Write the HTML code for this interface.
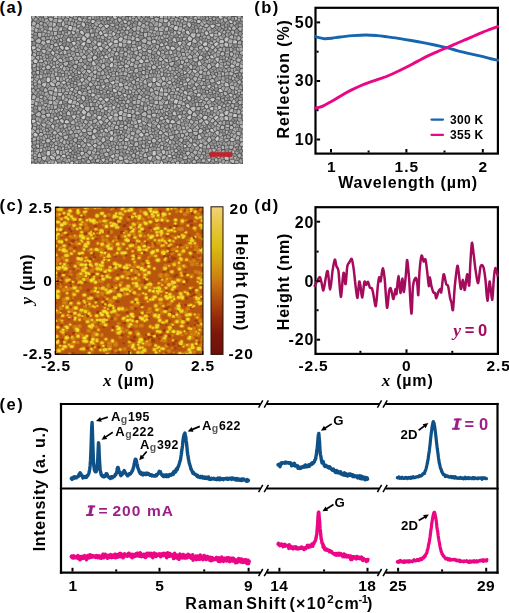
<!DOCTYPE html>
<html><head><meta charset="utf-8"><title>figure</title>
<style>html,body{margin:0;padding:0;background:#fff}svg{display:block}</style></head><body>
<svg width="509" height="613" viewBox="0 0 509 613">
<rect width="509" height="613" fill="#fff"/>
<text x="-0.6" y="13" font-size="16.5" text-anchor="start" fill="#000" font-weight="bold" font-family='"Liberation Sans", sans-serif' font-style="normal" letter-spacing="1.5" >(a)</text>
<defs><clipPath id="ca"><rect x="31" y="16.5" width="211.5" height="147"/></clipPath><filter id="ba" x="-5%" y="-5%" width="110%" height="110%"><feGaussianBlur stdDeviation="0.75"/></filter>
<g id="semtile">
<path fill="#bababa" d="M15.1 50.5l0.5 1.7l0.5 0.2l2 0l1.5 -1.4l-0.1 -0.6l-1.6 -1.6l-0.9 -0.1l-1.2 0.6zM87.2 36.2l0.3 1.1l-0.3 1.4l-1.8 0.4l-1.6 -0.3l0.1 -1.3l0.6 -1.6l0.8 -0.4zM55.7 25.9l2.9 0.7l0.8 -0.2l0.8 -1.1l-2.3 -3l-1.4 0.4l-1.1 2.5zM14.2 33.6l0.7 0.7l-0.7 2.7l-2.2 -0.8l-1.5 -1.6l0.3 -1.1l0.2 -0.1l0.1 0zM17.4 13.5l2.2 0.7l1.5 -0.2l0.2 -2.6l-0.7 -0.7l-2.8 0zM32.2 4.6l0.5 0.5l1.1 2.6l-1.4 2l-0.5 0.2l-1 -0.6l-0.2 -2.6zM72.2 47.3l0.8 0.1l0.1 0.1l1.4 2.6l-0.6 1l-1.9 1.4l-0.2 0l-1.6 -2.1l1.3 -2.6zM72 9.3l0 -0.4l-2.1 -1.4l-1.9 1l-0.6 1.3l2.3 1.3zM35.5 34.7l0.1 2.3l-0.1 0.2l-2.2 0.8l-0.5 -0.6l-0.4 -2.9l1 -0.7zM7.9 54.6l-1.9 0l-1 0.8l0.7 1.7l0.5 0.5l1.4 0.4l0.3 -0.4l0.2 -2.1zM55 39.7l-1.8 -1.1l-0.1 0l-2.4 1.7l0.2 0.9l1.5 1.1l2.6 -0.5l0.4 -0.6zM8.5 45.6l2.4 0.1l1 -0.4l0.2 -0.6l-0.9 -1.8l-0.1 -0.1l-1.6 0.2l-1.5 1.2l0 1.2zM3.3 23.8l0.1 -0.2l-2 -2l-2.2 0l-0.6 1.9l1.2 0.9l1.6 0.1zM31.3 11.1l-1 -0.5l-1.6 0.6l-0.9 2.3l-0.1 0.4l2.4 0.6l1 -0.8zM54.1 48.1l1.4 1.3l-0.1 2.8l-0.5 0.4l-1.1 -0.4l-1.6 -1.6l0 -0.4l1.6 -2.1zM97.3 72.8l0.4 -2.2l-1.4 -1l-3 0.2l-0.2 0.6l0.3 0.8l1.8 1.7l1.9 0.1zM93.4 38.9l-0.3 -1.3l0.6 -1.7l1.7 0l1.1 1.5l-1.2 2l-0.1 0zM38.7 62l-0.9 -0.8l-0.1 -1.1l0.3 -0.4l1.6 -0.8l1.4 1.7l0 0.1l-1.2 1.3zM20.9 50.4l0 0.6l2 1.1l1.7 -1.2l-0.6 -1.8l-1.6 0.2zM21.9 43.4l0.8 0.9l1.6 0.3l1.5 -1.1l0.1 -0.5l-1.5 -1.7l-1.2 -0.7l-1.3 2.4zM21.6 9.7l0.6 0.7l1.3 -0.4l1.5 -1.4l0.1 -1.5l-3.1 -1.1l-0.1 0.1zM30.4 42.5l-1.2 -0.3l-2 0.9l0 0.5l1.8 1.6l2.4 0.9l0.2 -0.5l-0.6 -2.3zM54.3 17.3l-0.7 1.4l2.6 2.7l1.4 -0.4l0.8 -1l0.3 -2.7l-0.6 -0.5l-2.7 0zM59.6 70l2.6 -1.7l-0.1 -0.3l-2.6 -2l-0.7 0.1l-0.9 1.8l0.2 1.1zM38.5 41l1.6 -0.7l1.6 1.1l0.2 1.4l-2.4 1.1l-1 0.1zM8.1 63.3l0.4 -0.2l0.6 0.3l1.1 3l-0.4 0.9l-2.8 -0.2l-0.4 -1l0.2 -1z"/>
<path fill="#cacaca" d="M49.4 14.5l-0.3 1l0.4 1.3l2.5 1.5l0.5 -0.1l0.5 -1.4l-1.6 -2.7zM26.4 1.6l-0.2 0.2l-3 -0.2l-0.3 -0.6l1.4 -3.6l0.3 -0.3l0.4 0.3l1.3 2zM60.4 4.1l0 1.8l0.5 0.6l1.7 0.1l1.5 -1.7l0.1 -0.2l-0.1 -0.3l-1.5 -0.9l-1.4 -0.1zM39.3 9.4l1.7 0.7l0.2 0.3l-0.8 3l-0.5 0.3l-2.2 -0.4l-0.5 -0.6l-0.1 -0.8l0.9 -2.4zM44.1 28.1l-1.1 0.9l-0.4 -0.1l-1.9 -2.9l0.2 -0.3l1.7 -0.5l2 0.1l0.1 1.7zM99.4 24l0.9 0.7l-0.5 2.3l-3.1 0.1l0 0l-0.5 -0.7l0.4 -2.7l0 0zM50.2 27.4l-0.2 0.6l0 0.1l2.7 1.4l1.1 -0.7l0.6 -2.4l-0.2 -0.8l-2 0.1zM73.6 70.6l0.3 -0.8l-0.4 -1.5l-3.3 1.3l0 0l2.2 2.3l0.1 -0.1zM75.7 39.1l1.5 2.3l-0.2 0.5l0 0l-2.4 -0.2l-1 -0.6l-0.2 -1.5l1.2 -0.8zM82.3 -1l1.6 0.1l2.2 1.8l-0.7 1l-1.8 0.3l-0.3 0l-1.5 -1.2zM74.3 20.3l1.5 0l0.8 -1.1l0 -1.7l-0.2 -0.2l-1.2 -0.2l-2.2 0.7l-0.3 0.8zM34.7 66l-0.9 -1.3l-1.5 0.1l-1.8 1l0.1 0.4l1.9 1.3l2 -0.4zM79.8 51l-1.5 -1.4l0.8 -1.7l1.3 -1.3l1 0l0.5 0.6l0.2 0.6l-0.5 2.9l-0.1 0.1zM6.7 45.5l-0.1 -1.2l-2.3 -1.9l-2.1 1.9l0.9 1.9l2 0.5zM95.3 6.4l0.6 -1.5l-2 -1.2l-1.8 0.5l0 0.1l1.1 1.9l0.4 0.3zM16.4 65.4l1.5 0l1.2 -1l-0.3 -3.2l-0.1 -0.1l-1.7 -0.2l-1 0.4l-0.2 0.3l-0.2 3.2zM82.9 67.4l0.7 -0.8l-0.4 -2.1l-0.7 0l-3.2 1.4l0.4 0.7l1.8 1.5zM1.4 33.1l0.2 0.2l2.5 -1.1l0.7 -1l-1 -1.5l-1.9 0.1l-1.2 0.5l0 0.3zM81.6 27.3l0.1 -0.3l-0.4 -0.8l-1.7 -0.4l-2.2 1.4l-0.2 0.8l1.6 2l0.1 0.1zM70.7 26.8l-0.9 2.2l-2.4 0.7l-1.3 -1.6l0.9 -2l1.2 -0.4l1.6 0.4zM48.7 57.3l1.1 -0.7l-0.1 -0.7l-1.1 -0.9l-1.7 -0.3l0 1.7l0.5 1zM84.4 16.8l0.1 0.3l-0.6 1.3l-2.1 1.1l-0.1 0l-0.4 -2.5l0.6 -1.4l0.4 0zM37 30.4l1.4 1.7l-0.1 0.5l-2.3 0.9l-2.3 -0.7l0.4 -2.1l1.2 -0.7zM78 9.1l-0.1 -0.4l-1.8 -0.6l-2.5 0.7l-0.2 0.2l0 0.4l1.8 2.1l0.7 -0.1l1.4 -0.8z"/>
<path fill="#b4b4b4" d="M25.3 18.5l0.7 -1l-0.1 -2l-3.1 0l0.2 3.2l0.5 0.2zM103.3 55.4l-0.1 -0.9l0.9 -2l2.4 -0.4l0.9 2.5l-1.2 1.3l-1.3 0.3zM17.6 2.1l0.4 -0.8l1.6 -0.2l2 0.5l0.3 0.6l-0.7 2.7l0 0l-1.9 -0.4l-1 -0.9zM23.5 57.4l0.9 2.3l0 0l1.9 -0.8l0.2 -2.4l-0.3 -0.5l-2 0zM103.6 67.6l-0.6 0.1l-1.8 -1.2l-0.6 -0.8l0.1 -0.6l1.8 -1.4l1.1 0.4l0.6 1.1zM3.6 9.3l-2.6 -0.6l-0.1 -0.4l0.7 -2.8l0.7 -0.8l2 1l0.7 1.3zM103.3 37l2.2 1.5l0.8 -0.3l0.6 -2.1l-0.3 -1.6l-0.3 -0.2l-3.2 1.1zM87.5 58.8l-0.2 -2.3l-0.5 -0.6l-1.2 -0.3l-0.6 0.4l-0.3 1.4l0.5 1.6l0 0l2.2 -0.1zM99.6 43.6l0.3 -1.2l0.4 -0.4l1 -0.2l2.4 0.7l0.4 1l-1.4 2l-2.1 -0.6zM92.8 10.7l-1.3 0.3l-0.1 0.1l0.2 1.5l1.9 1.2l0.9 -0.8l-0.3 -1.6zM88.4 5.5l-1 -1l-0.8 -1.8l0.6 -1l0.1 -0.1l2.4 0.9l1.1 1.3l0 0.1zM4.7 24.2l0 -0.2l2.7 -2.1l1.5 0.3l1.1 2.1l-1.1 2.3l0 0l-0.3 0l-2.8 -0.5zM77 0.6l1.8 1.3l-0.5 1.1l-0.3 0.2l-1.6 0.3l-0.2 -0.2l-0.3 -1.1l0.2 -0.8zM64.9 28.9l0.1 0l1.4 1.6l-0.1 0.5l-1.9 1.8l-2 -0.1l-0.3 -1.9l0.3 -0.5zM63 17.2l0.2 2.2l-0.9 0.9l-2.7 -0.2l0.3 -2.7l2.1 -0.5zM12 6.2l-0.7 2.1l-1.9 -0.1l-1.1 -1.1l1.3 -1.6l0.3 0zM77 63.1l0.9 2.3l-3.6 0.9l-0.9 -1.6l-0.2 -1.1l2.1 -1.2zM47.3 36.4l0.7 0.7l0.6 2.1l-2.3 0.1l-0.9 -0.4l-0.6 -2.4l0 -0.1zM66.2 72.2l-1.1 -0.5l-0.2 -2l1.7 -0.5l2 0.3l0.3 0.2l0 0.1l-1.4 2.4zM92.8 58.6l-0.3 -0.3l0.1 -2.2l0.9 -0.5l2.7 0.7l0.2 0.6l-1.1 2l-0.3 0.2zM80.3 33.6l-0.2 -0.8l-1.4 -1.4l-0.1 0l-1.8 2.1l0 0.4l1.5 1.8l0.5 0l0.2 -0.2zM37.2 45.4l-0.2 2l-1.2 1.7l-0.8 0.4l-1.5 -0.6l-0.9 -1.3l-0.1 -0.8l0.3 -0.5l2.9 -0.9zM6.2 15.8l-2.1 -0.8l-0.6 -0.7l1 -2.8l2.2 1.1l-0.2 2.8zM85.7 16.3l0.1 0.4l2.3 0.4l0.7 -1l-0.3 -1.3l-1.4 -0.9zM10.5 19.3l-1.3 1.6l-1.5 -0.4l-0.6 -1.6l0 -2.2l0.3 -0.3l3 0zM70.4 58.2l1.1 0.2l1.9 -0.6l-0.1 -1.6l-1.3 -2.3l-0.3 0l-1.5 1.9zM102.7 14.3l1.6 -0.1l0.5 -0.5l0.1 -3.1l-2.4 0.3l-1.4 1.2zM13.9 1.9l2.4 -0.4l0.4 -0.8l-0.9 -1.7l-1.2 -1l-0.8 0.2l-1 2.7zM60.2 61.3l-0.3 2.1l-0.7 1.2l-0.7 0.2l-2.4 -2.3l1.3 -1.8l0.6 -0.4zM43.4 34.6l-2.7 -0.7l-1.1 -1.1l0.1 -0.5l2.6 -2.1l0.5 0.1l1 2.2zM46 49.4l-0.3 -0.7l-1.7 -0.5l-1.1 0.7l-0.6 0.9l-0.1 0.2l0.8 1.3l2 1l0.1 0l0.8 -1.6zM56.6 41.9l-0.4 0.6l0.8 1.8l1.5 0.7l1.4 0.1l1.4 -1.5l-0.8 -1.9zM29.2 66.1l-1.2 -0.7l-1.6 0.1l-1.4 1.8l0 2.2l0.5 0.1l2.7 -1.2l1.1 -1.9zM53.5 30.6l-0.6 2l2.1 1.2l0.5 -0.1l1.1 -1.3l0.1 -0.9l-2.2 -1.7zM100.5 34.1l-0.7 -0.9l0.3 -1.7l0.6 -0.6l1.1 0.9l0.3 2.7zM16.1 14.2l-0.8 1.9l-0.8 0.2l-2.3 -1l1.2 -1.7zM39.6 16.8l0.1 -1.9l-2.3 -0.4l-0.7 1.8l0.7 2.7zM59 71l-1.6 -1.2l-1.9 1.8l0 0.1l1.2 1.9l2.6 -1zM1.8 60.6l-1.3 0l-1 -1.5l-0.1 -1.8l1.3 -0.2l1.1 1.8zM84.9 34.3l-0.9 0.4l-2.4 -1.4l-0.3 -0.8l2.3 -1.1l1.3 0.3zM47.5 11.3l-1.1 -0.3l-0.7 -0.7l0.9 -1.6l2.8 -0.8l0.2 1.3zM30.8 26.8l-0.2 1.2l-2.3 1l-0.3 -0.2l-0.5 -1.8l1.6 -1.3l1.4 0.3zM13 45.8l2.2 2.5l1.2 -0.7l-0.6 -2.2l-0.8 -0.7l-1.7 0.5zM83 9.4l-1 0.3l-2.7 -1l-0.2 -0.4l0.7 -0.8l1.5 -0.6l1.8 0.5l0.3 1.1zM4.9 47.7l-2 -0.3l-1.2 1.4l-0.2 2.1l3 -0.6l0.4 -0.5zM94.9 18.7l1.3 0.3l0.2 0.4l-0.5 3.2l0 0l-2.8 -0.8l-0.6 -1.2l0.4 -0.5zM3 15.8l-1.1 1.8l-1.7 -0.6l-0.8 -1.9l0.5 -0.4l2.6 0.2zM12.7 28.4l-2.7 -1.3l1 -2.5l2.9 0.4l0.8 2.2l-1.6 1.2zM98.4 16.7l2.3 0.4l0.2 1.6l-1 0.6l-2.4 -0.5l-0.3 -0.4zM33.3 54.5l-1.6 -1.4l-0.2 -0.4l1.5 -2.7l1.6 0.7l0.1 2.7zM98.8 48.6l0.4 1.1l2.7 -0.1l0.8 -2.4l-0.2 -0.7l-2.2 -0.4zM10.6 52.6l2.1 1l1.7 -1l-0.5 -1.8l-2.1 0zM80.7 69l-1.7 -1.7l-1.1 2.7l0.4 1l2.5 0zM64.7 61.9l-2.6 -1.4l1.1 -2l1.7 0l0.2 0.3l0.1 2.5z"/>
<path fill="#c2c2c2" d="M50.9 9l-0.4 -1.3l0.4 -1.6l0.5 -0.3l1.4 0.5l0.9 0.7l0.4 1.3l-0.4 1.5l-0.5 0.7l-0.5 0.2zM11.5 67l3.2 -1.1l0.1 0l0.8 0.6l-1.3 3.7l-0.8 0.2l-2 -1.1l-0.6 -1.4zM80.4 40.9l-1.9 1.1l-0.2 0.4l2.2 2.8l1 0.1l0.6 -2.3l-0.4 -2.1zM18.7 66.4l1.4 2.6l0.5 0.3l3 0.4l0.3 -0.1l-0.3 -2.2l-3.2 -1.8l-0.4 -0.1zM39.1 72.6l0.3 1.4l1.9 0.6l0.2 0l1.1 -2l0 -0.4l-1 -0.7l-1.2 0.1zM58.1 56.7l-2 -1.8l-0.3 -1.3l0.4 -0.4l2.4 0.2l1.9 1.8l0 0.1zM62 40.4l1.3 -1.4l1.7 0.5l1 1.2l-0.7 1.5l-2 1.1l-0.8 -0.1l-0.7 -2zM32.7 30.6l-1.7 -1.5l-2.3 0.8l0.6 1.5l2 1.8l0.3 0.1l1 -0.6zM91.9 22.3l-1.4 2.6l-2.1 0.1l-0.9 -2.3l0.2 -0.5l1.6 -1.4l2.1 0.3zM62.2 49.2l2.1 -0.7l0.6 -0.5l0.1 -0.3l-2 -3l-0.8 -0.3l-1.3 1.6l0.6 3zM39.7 25l-0.2 0.3l-0.5 0.1l-2.8 -0.6l-0.6 -1.4l0.2 -0.5l1.6 -1.9l1.3 0.9zM42.2 17.8l-1.3 -1.1l-0.3 -1.8l0.5 -0.4l2.6 1l0.3 0.4l-0.1 0.8l-0.9 1zM27 29.1l-2.1 0.6l-1.4 -0.1l-0.6 -1.3l1.2 -1.2l1 -0.5l1.2 0.8zM25 62.1l-0.1 -1.3l1.9 -0.7l1.6 0.9l-0.5 3.1l-1.6 0.1zM87.7 67.5l1 -1.4l2.1 0.7l0.8 0.8l0.5 1.6l-0.3 0.6l-3.1 0.1l-0.8 -0.9zM87.3 25.4l-0.9 1.2l-3.5 -0.2l-0.4 -0.8l1.1 -2l2.7 -0.4zM27.3 2.7l-0.1 0.1l-0.2 2.7l2.7 0.4l1.8 -1.9l-0.1 -0.2l-1.2 -0.9zM97.6 49.1l0.4 1l-0.1 0.2l-1.7 0.9l-2 -0.1l-0.8 -1l0 -0.6l1 -1.4l1 -0.1zM64.9 57.3l1 -2.1l-0.6 -1.2l-1.9 0.1l-1.5 1.3l0 0.1l1.4 1.8zM50.2 5l-2.6 -1.2l-0.8 -1l0.4 -1.4l0.8 -0.6l1.1 0.1l1.5 1.7l0 2.1zM21.4 34.2l-1.1 1.5l-0.1 1.1l1.4 1.5l1.1 0.6l0.8 -2.5l-0.2 -1zM18.8 26.7l0.3 -2.6l-1.2 -0.6l-2.2 0.4l-0.7 0.7l0.8 2.1l0.2 0.1zM72 31.9l-1.9 -1.6l-2.4 0.5l-0.1 0.5l1.9 2.8l0.6 0.5l0.9 -0.6l1 -2.1zM50.7 22.6l0 -0.8l1.6 -2.2l0.5 -0.1l2.6 2.6l-1.2 2.5l-1.9 -0.3zM50.2 61.9l1.7 -0.3l1.4 1.2l-0.9 1.5l-1.6 1.2l-0.8 -0.6l-0.7 -1.7l0.3 -0.9zM87.8 29.6l-0.3 -2.2l0.8 -1.2l2.2 0.1l0.7 0.9l0 2.8l-1.9 0.3zM67.8 16.4l0.7 1.4l1.2 0.9l1.8 -0.6l0.2 -0.8l-0.9 -2l-1 -0.8l-1.3 0.8z"/>
<path fill="#a2a2a2" d="M92.1 71.5l-0.1 -0.9l-3.2 0.5l-1.4 3.1l2.7 0.6zM35.7 53.4l1.7 0.6l0.1 0l0.6 -0.8l0 -1.5l-1.9 -1.3l-0.9 0.2zM17.4 41.3l-1.7 0.3l-0.5 -0.6l-0.3 -2.3l0.1 -0.3l1.7 0.6l0.8 1.8l0 0.4zM92 55.1l-0.9 -0.5l-0.9 -2.1l2.3 -1.8l0.7 1.1l-0.4 2.7zM7 1.9l-1.7 -1.5l-0.1 -0.4l1.8 -1.2l1.3 0.4l0.3 1.2zM85.3 11.5l-1.2 -1.6l0.4 -0.9l2.6 -0.1l0.6 1.5l-1 1.8zM87.7 35.2l-2 -0.8l0.2 -2.7l1.3 -1.1l1.5 0.9l-0.2 2.6zM104.6 69.3l1.1 2.8l-0.7 0.9l-0.2 0.1l-2.2 -1.1l-0.3 -1.1l1 -2l0.6 -0.1zM41.1 4.6l0.6 -2.2l0.3 -0.1l1.6 1.2l-0.6 1.8zM13.2 6.3l1.4 0.6l1.6 1.7l0.1 0.6l-3.3 0.7l-0.6 -1.2l0.6 -2.3zM88 62.3l-0.4 1.2l-3.1 -0.4l0.7 -2.9l2.3 -0.2zM31 1.9l1.1 1.2l1.6 -2.2l0.1 -1.3l-0.5 -0.7l-1.5 -0.7l-0.5 0.2l-0.4 0.6zM92.4 48.8l-2.1 -1.1l-0.7 -2.1l0.3 -0.4l0.7 -0.1l1.9 0.9l0.9 1.3zM86.5 48.9l0 -2.5l-0.6 -0.3l-2.9 0.7l0.2 0.6zM44.9 9.9l-2.6 -0.2l-0.2 -0.3l1.4 -2.8l1.4 0.5l0.6 1.1zM11.4 20.2l-1.5 1.4l1.2 2.1l2.9 0.2l0.6 -0.8l-0.5 -2.2l-0.7 -0.6zM70.7 36l0 -0.4l0.9 -0.5l1.9 1.2l0.4 1.5l-1.2 0.9l-0.9 -0.4zM85 53.3l-2 -1.6l-0.7 -0.2l-0.2 0.1l0.8 2.7l1.4 0.8l0.8 -0.5zM12.1 58.6l0.8 -1l0.9 0.3l1.4 2.7l-0.3 0.3l-2.5 -0.3zM33.7 55.2l0 1.2l0.2 0.4l2.1 0.1l1.2 -2.1l-1.9 -0.7zM65.6 20.1l0.7 1.4l1.9 0.1l0.7 -0.5l0.5 -1.5l-1.6 -0.9zM92 27l0 3.3l0.5 0.4l1.6 -0.4l1.8 -2.5l-0.6 -0.8zM27.3 54.7l-0.3 0.6l0.5 0.7l1.8 -0.2l1.4 -2.3l-0.1 -0.5l-1.1 -0.1zM7.9 46.4l0.8 2.9l-0.8 1l-2 -0.5l-0.2 -2.3l1.7 -1.4zM47.7 24.8l-1.8 -0.4l-0.5 0.6l0.4 2l3.2 0.8l0.1 -0.6zM83.7 68.1l0.8 -1l2.2 0.4l0.2 1.8l-1.8 0.5zM68.1 37.1l-1.3 0l-0.1 -1.3l2.3 -0.8l0.8 0.4l-0.1 0.4zM95.4 65.1l-2.7 2.3l0.3 1.8l3.3 -0.6l0.5 -1.7zM18.5 56.4l1.3 1.1l0.7 -0.6l-0.3 -1.5l-1.3 -1zM60.4 34.6l-3 -1.7l-1.3 1.6l1.8 2.2l2.5 -2zM32 68.3l-0.5 2.5l-0.6 0.2l-1.9 -2.1l1 -2.3zM51.4 51.2l1.9 1.8l-2.9 2.4l-1.1 -1.2l0.9 -2.1zM37.8 4.5l1.8 0.8l-0.4 3l-1.4 0.2l-0.8 -0.7l0.3 -2.9zM85.8 2.7l-2.1 0.6l0.1 3.5l2.6 -1.9zM48.5 34.3l1.9 -1l0.9 0l-0.5 2.2l-2 0.9l-0.9 -0.8zM5 36.3l-2.8 -0.5l-0.5 -1.7l2.9 -1.1l1.3 2.2zM32.6 18.3l0.3 -0.2l0.7 -1.6l-1.1 -1.7l-0.6 -0.4l-1.2 0.9l0.2 2.1zM43 56l0.8 0.7l2.1 -0.3l0.3 -2l-0.9 -1l-0.1 0zM33 55.2l-0.1 1.1l-2.2 0.5l-1 -0.7l1.4 -2.4zM78.1 56.1l-0.8 -1.1l0.1 -0.7l1.8 -1.3l0.7 2.4zM12.1 10.9l-2.8 1.1l-1.2 -0.3l1.1 -2.6l2.3 0.1l0.7 1.3zM71.6 59.4l2.3 -0.8l0.7 0.6l0.5 2.4l-2.5 1.4l-0.1 -0.1zM79.9 24.8l-0.5 -1.6l1.6 -2.5l0.4 -0.2l0 0l1.4 2.6l-1.1 2.3zM7.6 62.6l-3.1 -1.1l-1.3 0.3l0.3 1l2.4 1.7zM48.3 33.8l1.9 -1l-1.4 -1.3l-1.5 0.6zM40.7 5.2l-0.5 0.2l-0.5 3l1.9 1l1.3 -3.3l-0.1 -0.1zM56.1 39.5l1.8 -1.9l3 2.5l-0.2 1l-4.4 0.1zM11.2 19.5l0 -3.3l0.3 -0.3l0.3 -0.1l2.5 1.3l-0.8 2.2zM101.6 38l-0.6 2.8l-1.1 0.4l-1 -3.1zM60.3 -0.5l0.8 2.9l1.7 0.1l0.8 -3.3zM80.4 14l0.8 1l-0.9 1.5l-2.9 0.3l-0.1 -0.2l0.7 -1.8l2.1 -0.9zM23.8 70.4l-3.4 -0.1l-0.6 3.3l2.3 0.7zM44.4 39.1l-2 1.7l-1.8 -1.4l0.1 -0.4l3.3 -2.6zM23.9 10.7l1.8 -1.5l2.3 1.5l-1.1 2.6zM23 19.9l-0.5 -0.3l-0.5 0.3l-1.4 3.4l1.2 0.2l1.9 -0.9zM66.5 10.6l0.3 -0.2l2.7 1.5l0 1.7l-1.6 0.8l-2.1 -2.1zM102.4 31l3 -0.6l0 -0.4l-1.2 -1.5l-3.3 -0.4l0.1 2.1zM75.1 1l-0.3 1l-2.3 0l-0.5 -1.6l0.6 -1l0.1 0zM65.9 52.9l3 -2.2l-3.2 -2.2l-0.6 0.8zM11.6 49.4l0.3 0.4l2.3 0.4l0.7 -1.4l-2.5 -2.7l-1 0.5zM18.2 43.9l-0.1 -1.9l0.1 -0.2l2.6 1.2l0 0.5l-1.7 0.9zM91.8 55.9l-1 -0.4l-2.5 0.8l-0.1 2.7l3.4 -0.6zM87.2 49.3l2.5 -1.2l-0.7 -2.4l-1.7 0.5l-0.2 2.9zM92 19.7l-0.3 0.6l-2.4 -0.5l-0.5 -2l0.9 -1.2l1.4 0.3zM79.5 36.4l-0.3 0.2l1.2 3.2l1.5 0.1l1 -0.9l-0.1 -1.5zM83.4 68.3l1.3 1.8l-0.8 1.5l-1.9 0.1l-0.4 -0.6l0 -2.2zM9.2 42.1l-0.6 -2.6l1.6 -0.1l1 1l0 1.5zM56.9 67.5l1.1 -2l-2.6 -2.6l-1.2 0.2l-0.9 1.7l2.2 2.3zM80.8 5l-1.8 -1.3l-0.3 0.3l0.7 2.9l1.6 -0.8zM61.3 60.2l-0.6 0.4l-2.6 -1.1l0.3 -1.9l2.7 -1.8l1.5 2.2zM31.8 63.9l-0.9 -2.9l-0.8 -0.3l-0.9 0.2l-0.7 3.5l1.4 0.9zM96.6 8.9l-1.9 1.9l-1.5 -1l0.3 -2.3l2.1 -0.2zM88.6 7.3l-0.7 1.2l0.6 1.6l2.1 0.2l0.1 0l-0.4 -2zM17.7 9.8l3.1 0.1l0.5 -4.1l-2.2 -0.2l-1.9 2.9l0 0.8zM45.8 40.3l-0.1 2.7l-1.9 0.6l-0.9 -0.7l-0.1 -1.6l2 -1.7zM26.4 2.6l-3.5 -0.3l-0.9 3l3.5 1l0.7 -0.7zM21.2 46.7l0.6 1.8l-1.5 1.4l-1.9 -1.9l1.1 -1.1zM86.6 21.9l-2.2 -2.7l-2.5 1.1l1.5 2.4l3.1 -0.2zM83.7 57.3l0.4 -1.7l-1.5 -0.6l-1.6 0.9l0.5 1.3zM98.5 50.8l0.7 2.6l-2.1 1.8l-0.4 -3.1zM15.2 32.1l1.3 -1.3l1.7 0.3l0.1 0.4l-2.5 2.2l-0.1 0l-0.7 -0.8zM65.5 57.9l1.3 -2.5l2.5 0.3l0.3 2.8l-0.5 0.3l-3.3 -0.7zM34.3 42l1.1 2.4l-3.1 1.4l-0.2 -2.7zM75.4 3.8l-0.6 -1.3l-2.3 0l-0.5 0.9l1.6 1zM85.3 70.5l1.8 -0.8l1.1 1l-1.4 3.4l-0.1 0.1l-2.3 -2.3zM6.7 2.5l-2 -1.6l-2.1 2.9l0 0l2.2 1.1l1.9 -2.4zM27.2 1.9l3.2 0.3l-0.2 -3.3l-2.9 0.3zM14 19.5l0.8 0.6l1.5 -0.7l-0.2 -1.9l-0.5 -0.5l-0.8 0.3zM50 60.9l2 -0.1l0.2 -2.5l-1.8 -1.1l-1.1 1zM44.2 2.9l1.6 -0.3l0.5 -1.6l-2.8 -1.7l-1.2 2.3zM5.5 26.9l3.2 0.5l-1.9 3.3l-1.2 0.2l-0.9 -1.8zM42.6 55.6l2.3 -2.5l-2.4 -1l-1.1 1.8l0.6 1.7zM96.6 55.7l0.1 -0.4l-0.6 -3.1l-2.2 -0.4l-0.4 3zM53.3 47.4l-1.9 2.6l-1 -1.1l-0.3 -2.2l1.6 -0.8zM93.2 15.1l0.2 -0.6l-2.3 -1.1l-1.6 1l0.3 1.6l1.4 0.2zM15.2 6.2l1.6 2.1l1.9 -3l-1.2 -1zM101.9 62.4l0.2 0.5l-2.1 1.6l-1.5 -1.5l0.1 -1.4l0.8 -0.3z"/>
<path fill="#b2b2b2" d="M47.8 23.8l-1.6 -0.1l0 -2.2l0.9 -0.6l2.4 0.9l-0.1 0.8zM46.2 70.1l-2.4 1.8l0.1 0.4l2.6 1.5l0.9 -0.6l-0.8 -2.8zM88.4 35.8l0.4 1.1l3.2 0.2l0.8 -1.7l-0.6 -0.6l-2.8 0.2zM5.2 38.8l-1 1.4l-2.6 -1.7l0.7 -2.1l2.4 0.7zM25.5 19.7l1.6 2.3l-1.7 0.9l-0.9 -0.7l-0.9 -2.3zM51.3 45.3l-1.5 0.5l-1.4 -0.3l-0.3 -1.4l2.1 -2l1.4 1.2zM75.2 27.9l-3.1 -1.3l1.7 -1.6l1.3 0.4l1.1 1.5l-0.2 0.9zM101.6 19.6l-0.9 0.7l-0.4 2.7l0.8 0.9l2.1 -0.7l0.6 -2l-0.5 -0.8zM103.6 47.5l2.7 1.3l0.1 2.1l-0.1 0.1l-2.4 0.4l-1.1 -1.5zM65.5 62.7l-0.2 1.3l1.3 0.6l1.3 -0.3l0.7 -1.1l-0.6 -1l-1.9 0zM61.5 12.7l-0.3 -0.3l-2.3 0.7l0.1 2.7l0.6 0.6l2 -0.7zM95.2 17.6l1.3 0.4l1 -1.9l-0.4 -1.6l-1.9 -0.5l-0.9 0.8l-0.1 0.5zM13.1 55.9l0.1 0.9l0.8 0.1l1.5 -0.6l-0.1 -2.8l-0.5 -0.3l-1.5 1.4zM71.3 0.7l0.2 1.5l-0.3 0.8l-1.1 0.7l-1 -1.7l0.1 -1zM98.6 56.6l-1 -0.1l-0.2 -0.6l0.2 -0.4l2 -1.4l2.3 0.6l0.2 0.9l-0.6 0.5zM22.4 30.1l-0.6 -1.3l-2.1 -0.6l-0.6 2.6l0.1 0.3l1.9 1.6zM51 56.5l1.6 1l0.7 -0.4l1.5 -2l-0.1 -1.4l-1.2 -0.2l-2.5 2.3z"/>
<path fill="#aaaaaa" d="M103.6 24.3l-2.2 0.6l-0.4 2.3l0.2 0.3l2.9 0.2l0.6 -2.3zM32.7 3.6l1.9 -1.9l2.5 0.7l0 1.4l-0.5 0.3l-3.2 0.1l-0.6 -0.4zM54.3 71.4l-1.3 0.4l-1.7 -0.4l-0.4 -1.9l0.4 -0.7l1.3 0.6l1.7 1.9zM79.9 59.3l-0.1 0l-1.6 -1.6l0.3 -1l1.5 -0.5l0.2 0.1l0.4 1.1zM94.4 43.8l-0.8 1.7l0.6 1.4l1 -0.2l1.3 -2.4l-1.5 -0.8zM39.1 67.1l-0.5 0.9l-2.1 0.3l0 0l-0.7 -1l0.2 -1.1l1.6 -0.4l1.2 0.7zM5.9 50.5l-0.4 0.5l0.5 2.4l2 0.1l0.5 -0.7l-1 -1.7zM107.3 3.8l-2 -3.1l-0.2 0.1l-1.1 1.8l0.3 1.3l2.1 0.6l1 -0.7zM31.6 37.5l-0.1 -3l-0.3 0l-2.5 1.5l-0.4 1l0.2 0.5l0.7 0.5zM2.3 3.3l1.8 -2.7l-0.1 -0.4l-1.3 -1.1l-1.8 0.3l-0.7 0.9zM41.3 55.7l-1.4 1.1l-1.6 -2.1l0.7 -0.7l1.6 0.3zM94.3 31.3l-1.5 0.1l0.4 2.6l0.5 0.7l1.6 -0.1l0.7 -1.2l-0.3 -1zM97.3 8.4l0.6 0.1l1.6 -1.4l-1 -2.2l-0.5 -0.2l-1 0.6l-0.6 1.6zM67 54.6l2.2 0.3l1.9 -1.7l-1.9 -2l-0.1 0l-2.8 2l0 0.2zM-0.3 69l1 2.9l1.7 -0.5l0.5 -1.6l-1.1 -1.2zM3 66.8l2.4 -0.2l0.6 1.1l-0.5 0.8l-1.9 0.7l-0.9 -1.2zM7.3 43.6l-2.3 -2l-0.1 -0.8l1.2 -1.2l1.7 0l0.2 0.2l0.5 2.2zM12.3 11.2l-2.8 1.2l1.7 2.8l0.3 -0.2l1.2 -2zM25.8 34l-1.6 1l0.4 1.2l2.8 0.6l0.4 -1.1l-1.3 -1.7zM42.7 21.2l1.9 -0.4l-1.4 -2l-1 0.1l-0.7 1.6zM20.9 33.5l-1.5 1.5l-3.4 -1.1l2.6 -2.1l2.3 1.5zM36 69.2l0 0l-1.8 2.6l0.4 0.8l3 -0.6zM16.9 19.3l1 0.5l1.1 -0.9l-0.6 -1.2l-1.8 -0.2zM48.9 39.9l0.8 0.5l0.2 1.1l-2.4 2.1l-1.3 -0.6l0 -2.7zM86.6 49.9l-3.5 1.2l-0.7 -0.1l0.5 -3.3l3.6 1.8l0.1 0.2zM84.5 59.5l-0.8 -1.8l-2.2 0.1l-1.2 1.9l0.6 0.3zM98.5 38.2l1 3.1l-0.4 0.4l-3.1 -1.7l1.3 -2.4l0.6 0.1zM46.6 60.3l-1.2 0.8l-1.5 -1.3l0.1 -0.2l2.5 -0.6zM-0.1 17.7l-1.5 2.1l0.5 1.1l2.6 -0.3l0.5 -1.6l-0.3 -0.7zM38.4 0.8l-0.3 -1.6l-0.4 -0.2l-3 0.5l-0.1 1.6l2.9 0.7zM64.5 62.6l-0.1 1.4l-0.2 0.1l-3.4 -0.4l0.3 -2.5l0.6 -0.2zM13.3 5.6l1.6 0.3l2.4 -1.9l-0.6 -1.7l-2.7 0.6zM74.3 12.6l-2.8 1.9l-1.3 -0.9l0 -1.7l2.4 -2.2l1.9 2.5zM51.4 4.9l0.3 -2.2l1.2 -0.8l2.9 0.1l0.1 0.2l-2.8 3.1zM69.6 21.3l1.4 1.3l1.9 -0.1l0.7 -1.5l-1.7 -2l-1.9 0.7zM38.1 62.8l-1.1 -1l-1.9 1.2l-0.5 1.1l1 1.4l1.7 -0.7zM79.3 25l-0.7 -1.5l-1.6 -0.6l-1 2l0.8 1.8zM10.2 32.6l-0.1 0.1l-2.9 -1.8l1.8 -3.3l0.3 -0.1zM46.4 31.6l-0.1 -1.5l-1.6 -1.1l-1.4 0.8l1.4 2.4zM26.9 47.6l-1.9 0.3l-0.1 -2.4l1.6 -1.5l1.8 2zM62.3 50.1l2.4 -0.8l0.8 3.7l-0.1 0.1l-2.2 0.1zM99.4 59.6l-1.1 -2l-1 -0.4l-1.2 2.3l2.2 1.5l0.7 -0.5zM34 63.8l0.3 -1.1l-1.2 -2.4l-1.7 0.5l0.9 2.9zM10.7 38.9l0.9 1.1l2.6 -1.7l0.1 -0.3l-0.1 -0.2l-2.6 -0.7zM34 41.6l-2.1 1.2l-0.7 -0.9l1.8 -2.8l1.2 2.1zM49.6 46.7l0.3 2.2l-2.9 0l-0.5 -0.8l1.6 -1.9zM0.2 39.5l0.9 -0.4l2.8 1.8l0.1 0.8l-2.5 2.1l-2.1 -0.5l-0.4 -1.2zM99.9 34.7l-1.9 2.2l-0.6 0l-1.4 -1.7l0.8 -1.3l2.3 -0.1zM45.6 11.7l-1.4 3l-3.1 -0.9l1 -3.3l2.9 0.3zM16.7 72l2.8 -2.1l0.6 0.3l-0.7 3.3l-1.8 0.5zM77.5 19.8l3.1 0.6l-1.7 2.4l-1.7 -0.5l-0.8 -1.3zM78.8 36.8l-0.6 0l-1.8 1.7l1.4 2.9l2.1 -1.5zM77 70.3l-2.2 -0.3l-0.2 1l2.3 1.7l0.7 -1.3zM63.1 67.7l0.1 0.5l1.2 0.8l1.8 -0.8l0 -2.7l-1.4 -0.9l-0.1 0.1zM98.1 48.4l1.7 -2.8l-1.1 -1.5l-1.5 0.5l-1.6 2.6zM22 14.2l0.2 -2.9l1.5 -0.3l3 2.6l0 0.4l-0.6 0.7l-3.5 0.1zM25.6 51.7l-0.4 -0.2l-2 1.4l0.1 0.8l0.9 1.3l2.2 0.2l0.2 -0.7zM70.6 43.3l1.2 3.1l-0.8 0.4l-2.7 -1l0 -1.3l1.6 -1.3zM92.8 22.6l3 0.8l-0.5 3.1l-3.3 0l-0.9 -1zM13.7 29.2l1.6 -1.6l0.2 0.1l0.5 2.6l-1.1 1.5zM60.6 34.2l-2.9 -1.8l0 -1l0.9 -0.5l2.5 0l0.5 2.2zM51.6 35.6l1.4 1.9l0.2 0l1.4 -2.9l-2.3 -1.5l-0.5 0.3zM98.6 69.9l-0.2 0.1l-1.6 -1.2l0.7 -1.7l2.2 -1l0.5 1zM43.6 5.7l0 0.1l1.7 0.5l1.5 -1.8l-0.8 -1.3l-1.6 0.5zM81.1 33.9l2.7 1.4l-0.9 1.9l-3.3 -1.1zM82 45.8l1.2 -2.5l2.2 0l0.1 0l0.3 2l-3.2 1.1zM19.5 60.4l0.7 -2.3l0.8 -0.5l1.5 0.1l1.4 2.5l-4.3 0.3zM55.2 67.4l-2.1 -2.3l-1.9 1.3l0.2 1.7l1.5 0.4zM7.6 11.6l-0.4 0.2l-2.6 -1.1l-0.4 -0.8l1.7 -2.5l1.6 0.1l1.2 1.4zM65.1 12.9l0.4 -0.3l2.1 2.1l-0.7 1.3l-2.3 -0.1zM39.2 37.1l-2.6 0.4l-0.1 0.2l1.4 2.5l0 0l2 -0.9l0 -0.4zM26 19.2l0.8 -1.1l2.2 0.6l-0.2 2.6l-0.8 0.5l-0.3 0zM40.4 4.5l-0.5 0.2l-1.9 -0.8l0 -1.6l0.9 -1l2.2 0.7zM86.8 29.8l-0.2 -2.5l-3.9 -0.1l-0.1 0.3l1.2 2.9l1.5 0.6zM67.5 7.7l2.2 -1.1l-0.2 -1.6l-4.3 -0.2l0 0.2zM103.2 2.1l-1.9 -0.1l-0.5 -1.5l1.4 -1.2l2.5 1zM28.7 41.2l-2 1.4l-1.6 -2l2.8 -2.4l0.8 0.6zM95.3 42.7l1.7 1.1l1.6 -0.3l0.3 -1.4l-3.2 -1.7l0 0zM64 8.7l-0.7 -1.4l1.6 -2.1l2.1 2.8l-0.5 1.7l-0.3 0.1zM33.5 60.1l1.3 2.3l1.9 -1.1l0 -1.3l-2.9 -0.2zM2.6 14.1l-2.8 -0.1l0.1 -3.6l0.7 -0.8l3 0.7l0.3 0.7zM102.6 34.6l0.1 0.1l3.6 -1.1l-0.8 -2.9l-3 0.9zM103.5 4.2l-0.9 0.9l-2 -1.4l0.7 -1.1l1.9 0.1zM21 56.9l0 -1.6l1.7 -1.2l0.9 1.3l-1 1.7zM37.3 9l-1.1 2.8l-3.5 -1.5l1.9 -2.1l1.9 0.2zM27.9 29.9l0.3 1.8l-1.6 1.5l-0.8 0l-0.6 -2.5l2.3 -1zM7.8 62.3l0.4 -0.1l-0.5 -3.3l-1.7 -0.2l-1.3 2.3zM5.7 64.9l-0.1 1.1l-2.8 0l-0.6 -0.8l1 -2zM45 20.5l-1.4 -2l1.1 -1.4l2 1.7l-0.2 1.3l-0.9 0.7zM84.6 66.4l-0.8 -2.3l0.5 -0.4l3.4 0.4l0.5 1.3l-1.4 1.6zM11.8 42l2.5 -0.9l0.1 -2.5l-2.4 1.9l-0.3 1.4zM48.8 28.5l0.1 -0.1l0 -0.2l-3.3 -0.8l-0.7 1.3l1.8 0.8zM77.4 17.2l2.9 -0.2l0.8 2.9l-0.4 0.1l-3.1 -0.8zM37 19.3l-1 -2.9l-1.7 0.4l-0.9 1.5l3.5 1.2zM71.2 43.1l1.7 -1.3l1.2 0.8l-0.9 3.8l-1 -0.1zM100.4 73.5l-2.3 -0.4l0.5 -2.5l0.3 0l2.5 0.5l0.4 1.3zM48.9 36.8l2.1 -0.8l1.6 1.8l-2.5 2.1l-0.7 -0.6zM17.5 43.9l-1.1 0.7l-1 -0.6l0.3 -1.6l2 -0.4zM16.9 14.2l2.6 0.9l-1 2.1l-1.8 -0.2l-0.6 -0.5l0.7 -2.3zM74.6 12.9l0.3 3.2l-2.3 1.1l-0.8 -2.3zM88.9 52.6l0.6 0l1.1 2.4l-2.5 0.8l-0.6 -0.7zM38.8 68.8l1.1 1.9l-1.5 1.3l-0.4 -0.2l-1.6 -2.8zM65.5 34.6l1 0.6l2.4 -0.5l-1.9 -3.4l-1.8 2.3zM11.9 42.3l2.5 -0.7l0.7 0.7l-0.4 1.5l-1.8 0.7zM37.5 58.8l-1 -1.6l1 -2.2l0.2 0l1.8 2.4l-0.1 0.6zM20.5 64.8l3.6 -2.4l1.6 2.4l-1.5 2.1zM25.9 51l-0.4 -0.2l-0.7 -2.1l0.3 -0.4l1.8 0.1l1 1.3l-0.2 0.8zM65.2 35.1l0.8 0.8l0.2 1.2l-0.9 1.3l-2.1 -0.3l0 -0.1z"/>
<path fill="#b8b8b8" d="M46.4 68.1l0.3 0.9l0.5 0.3l2.7 -0.5l0.5 -0.7l-0.1 -1.6l-1 -0.5l-2.5 1.1zM8.9 58.6l2.4 0.2l0.2 1.8l-0.6 0.8l-1.4 0.7l-0.6 -0.2l-0.4 -3zM29.4 21.1l0.3 -2.2l0.9 -0.6l1.5 0.7l-0.3 1.1l-1.1 1.1zM97 9.6l0.6 0.1l1.7 2.2l-1.9 1.5l-1.9 -0.4l-0.1 -1.7zM73.3 31.5l2.2 -2.5l0.8 -0.3l1.7 2.1l-2.1 1.9l-2.6 -1.1zM64.6 12l0.3 -0.2l0.9 -1.4l-2.1 -0.8l-1.6 1.8l-0.1 0.2l0.4 0.3zM62 25.2l1.4 -1.4l1.2 0.3l1.2 1.5l-0.7 2.2l-0.1 0zM32.9 57l-1.9 0.6l-0.5 2.2l0.7 0.2l1.5 -0.5l0.2 -0.3l0.2 -1.9zM95.2 62.7l0.6 0.8l1.8 -0.6l0.1 -1.3l-1.8 -1.5l-0.3 0.2zM8.3 34.8l1 -0.5l0.3 -1.1l-2.7 -1.5l-1.1 0l-0.5 1.1l1.2 1.8zM91.2 42l-0.9 1.9l-0.7 0.2l-0.8 -1.7l0.2 -1.6l2.1 0.4zM28.6 50.7l0.3 -0.6l2.7 -1.9l0.8 1.4l-1.8 2.6l-0.9 -0.3zM45.4 67.7l-2.4 -0.4l-0.2 -0.3l0.5 -1.5l0.3 -0.2l1.4 0.5l0.6 0.9zM59.6 -0.2l-2.6 1.1l-0.2 0.8l0.1 0.3l0.6 0.5l2.1 0.7l0.8 -0.8l-0.7 -2.5zM61.1 39.6l1.2 -1.5l0 -0.1l-1.7 -2.7l-2.1 1.9l0 0zM30.8 25.1l0.6 -1.3l-0.8 -1.4l-1.3 -0.3l-0.8 0.5l1 2zM2.4 62.1l-0.5 -0.5l-1.3 0.2l-1.7 1.7l0.7 1.1l2 0.1l0.9 -1.7zM69.3 40.3l-0.2 0.2l1.1 1.7l0.6 0.2l1.5 -1.2l-0.1 -1.5l-0.9 -0.3zM47.3 45.8l-1.3 1.7l-1.7 -0.4l-0.2 -2.8l1.8 -0.3l1.1 0.4zM21.4 19.8l-1.3 3.1l-0.4 0.2l-1.2 -0.7l0.1 -1.9l0.9 -0.8zM47.2 12.5l-1.1 -0.4l-1.3 2.7l0.3 0.5l2.8 -0.3l0.5 -1zM77.5 58.5l-2.1 0.6l0.5 2.2l1.6 0.8l1.7 -2.2zM100.1 0.9l-2 -0.6l-0.2 0.2l0.4 3.1l0.5 0.1l1.2 -0.6l0.5 -0.9zM89 51.6l0.6 0l2.5 -1.5l0 -0.6l-2.2 -0.6l-2.3 0.9l0 0.1l0.3 0.8z"/>
<path fill="#909090" d="M74.5 42.7l-1 3.7l0.1 0.1l1.9 -1l1.7 -2.9zM12.3 61.2l2.6 0.2l0 3.6l0 0l-3.5 -2.9zM39.1 36.6l-2.6 0.5l-0.3 -2.7l2.6 -1.1l1.1 1.4zM67.6 -0.3l-1.5 0l-0.4 3.3l2.4 -1.1l0.3 -1.1zM4.8 51l-3.3 0.5l-0.1 0.1l1.2 2.8l1.7 0.3l1.1 -0.9zM8.3 38.7l0.3 0.2l1.5 -0.3l1.1 -1.7l-1.4 -2l-0.9 0.7zM70 59.1l1.2 0.4l0.9 3.5l-2.7 -0.2l-0.6 -1.1l0.8 -2.3zM94.5 18l-1 -2.5l-1.9 1.3l0.7 2.8zM55.3 62.1l1.4 -2.1l-3 -2l-0.9 0.3l-0.2 2.5l1.5 1.5zM82.2 14.6l-0.4 0l-0.8 -1.1l1.3 -2.9l1.1 -0.4l1.2 1.9zM4.7 73l-1.6 -1.2l0.7 -1.8l2.1 -0.8l0.8 2.4zM68.1 46.4l-2.1 1.4l0 0.3l3.2 2.1l0.2 0l1.4 -2.9zM75.9 4.4l-0.3 -0.2l-1.7 0.9l-0.8 3.2l2.8 -1.2zM65.3 23.5l1.2 1.8l1.2 -0.6l0.5 -2.6l-1.9 0zM55.6 39.1l-2 -1.4l1.5 -2.8l0.6 -0.1l1.7 2.3l0 0zM41.1 49.8l-2.5 1.2l-2.2 -1.2l1.4 -1.9l3.4 1.7zM19.2 54l1.4 0.8l1.9 -1l-0.1 -0.8l-2.1 -1.5l-1.5 1.7zM12.9 29.4l-2 3.3l3.5 0.1l0.1 -0.9l-1.2 -2.6zM26.1 51.6l0.9 2.7l2.2 -1.8l-1.3 -1.4zM102.7 15.3l1.8 -0.1l0.6 2.2l-1.3 2.2l-2 -0.9l-0.2 -1.8zM6.1 16.6l0.1 2.5l-3.5 -0.3l-0.2 -0.7l1.2 -2.1zM54.1 47l1.9 -2.3l-0.7 -2.1l-2.9 0.6l-0.2 2.2l1.5 1.6zM40.4 64.1l-0.4 -1.2l-1.4 0.1l-0.8 2l1.5 0.8zM34.8 41.8l1 2.5l1.7 0.2l0.3 -0.2l-0.2 -3.4l-0.1 -0.1l-2.6 0.6zM35 22.3l-2.2 -2l0.1 -1.3l0.4 -0.2l3.5 1.1l0.1 0.4zM74.2 55.7l-1.8 -2.4l2.1 -1.3l2.2 2.2l-0.1 0.7zM12.7 5.4l0.7 -2.7l-1.4 -1.2l-1 0.1l-0.9 2.9l2.4 1.1zM80.5 60.6l-0.5 -0.3l-0.1 0l-1.9 2.4l0.7 2.6l0.1 0.1l3.5 -1.8zM30.1 71.9l0.5 -0.6l-2 -2l-3.2 0.9l1.8 2zM27.4 48l1.2 -1.8l2.8 0.6l0.1 0.9l-3.2 1.7zM88.7 20l-0.7 -2l-2.6 -0.7l-0.6 1.6l2.1 2.8zM54.5 10.6l-0.7 0.7l1.9 1.6l2.3 -0.3l-0.7 -1.5zM35.9 25.7l3.2 0.5l-1.8 3.2l-2 -0.3l0.1 -2.6zM60 50l-2.8 -0.8l-0.7 0.2l-0.5 3.1l2.6 -0.2zM64.5 -1.1l1.2 0.8l-0.4 3.2l-0.6 0.8l-1.5 -1.1l0.8 -3.3zM79.3 51.8l-1.7 -1.6l-2.1 0.3l-0.7 1.2l2.3 2.1l1.9 -1.3zM102.8 60.4l1.7 -0.8l1.3 1.5l-1.8 2l-1.3 -0.4l-0.2 -0.6zM73.2 5l-1.4 -1.2l-1.4 0.7l-0.2 0.4l0.2 1.7l2.3 1.8l0.1 -0.2zM42.5 56.4l0.8 0.9l0.1 1.8l-0.1 0.3l-1.5 0.7l-1.7 -1.9l0.2 -0.7l1.6 -1.2zM66.7 65.4l0 2.8l2.3 0.5l0 -2.1l-0.8 -1.4zM63.3 9l-0.6 -1.5l-2 -0.1l-0.3 1.6l1.1 2.2zM9.7 62.9l1.3 3.4l3.8 -1.1l-3.6 -2.8zM64 20l-1.1 1.1l0.6 1.8l1.4 0.3l0.8 -1.4l-0.6 -1.4zM36.7 4.9l-3.5 -0.3l1.5 2.9l1.9 0.3zM35.4 25.3l-0.7 -1.6l-2.4 0.4l-0.9 1.5l0.3 0.9l3.1 -0.4zM42 66.9l-2 -0.2l-0.3 -0.6l1.1 -1.7l1.7 0.7zM49.5 61l-0.6 -2.7l-1.6 0.1l-0.2 0.5l0.3 1.3l1.5 1.3zM87.2 12.7l1.3 -1.9l2.1 0.1l0.1 1.9l-1.6 1.1l-1.8 -0.9zM47 18.4l-2 -1.6l0 -0.9l3.1 -0.3l0.4 1.6zM57.4 8.2l0.9 -1.3l1.2 -0.4l0.7 0.8l-0.6 1.5l-1.5 0.5zM71.4 26.3l0.1 0l1.7 -2l-0.3 -1.3l-1.8 0.2l-0.5 2.2zM52 13.5l1.7 3.1l1.1 -0.7l0.4 -2.5l-1.7 -1.8l-0.6 0.1zM9.3 53.3l-0.6 0.8l0.5 1l3 0.6l0.4 -1.5l-2.4 -1.1zM59.8 65.3l2.9 2.2l1.5 -3l-3.4 -0.5zM2.5 58.5l-1.4 -1.9l1.3 -1.5l1.8 0.3l0.5 2.1zM95.9 64.3l2.1 -0.7l1.6 1.4l-0.1 0.6l-2.3 0.9l-1.4 -1.7zM80.6 13.3l1.2 -2.9l-2.9 -1.2l-0.6 1.8l2 2.2zM24 23.1l-2 0.8l1.6 2.2l1.3 -0.4l0.2 -2zM14.9 70.7l1.6 0.9l2.7 -2.1l-1.2 -3.1l-1.7 0.1zM33.8 57.2l2.1 0.4l1.2 1.5l-0.3 0.5l-3 -0.3zM68.1 72.8l0.9 1l2.4 -0.3l0.6 -1l-2.4 -2.7zM100.3 35.1l-2 2.1l0.6 0.4l2.7 0l0.6 -0.5l0 -1.8l-0.1 -0.1zM15.9 34.3l-0.1 0l-0.8 3.1l0 0.2l2 0.4l2.2 -1.2l0.1 -1.3zM18.3 40.6l-1 -2.1l2.2 -1.2l1.6 1.7zM74.4 71.3l2.2 1.7l0 0.3l-1.2 0.8l-2.5 -1.5zM67.6 44.5l-1.8 -1.3l-2.4 0.9l2.3 3.3l2 -1.6zM97.6 3.9l-1.1 0.5l-2.3 -1.5l0.9 -2.5l2.1 0zM47.5 18.9l1.4 -1.3l3.1 1.4l-2.2 2.2l-2.6 -1zM45.5 68.4l0.4 1l-2.6 2.1l-1.1 -0.9l0.6 -2.6zM7.8 38.6l0.7 -3.1l-2.1 0.1l-0.9 1.1l0.5 2.1zM34.6 23.2l-2.4 0.2l-1.1 -1.6l1.4 -1.2l2.2 2zM99 70.1l1.6 -2.8l2.3 1.1l-1.4 2.1zM46.7 58l-0.7 -1.2l-2.1 0.5l0 1.8l2.5 -0.6zM77.5 42.7l0 0.1l-1.5 3l2.4 1.2l1.7 -1.2zM73.7 66.9l-1.2 -1.7l-2.7 1.5l-0.3 2.1l0.2 0.3l3.7 -1.5zM42.2 24.2l0.1 -2.4l-1.1 -0.9l-1.7 0.6l0.9 3.5zM61.5 29.8l-0.4 0.6l-2.5 -0.1l0.3 -2.7l0.9 -0.3z"/>
<path fill="#888888" d="M29.8 6.7l0.3 2.9l-1.8 0.6l-2.2 -1.5l-0.1 -1.8l0.7 -0.6zM6.2 19.4l-3.5 -0.1l-0.6 1.5l1.9 2.6l3 -2.3zM99 33.1l-2.2 0.3l-0.1 -1.2l1 -1l1.8 0zM69.6 42.8l-1.2 -2l-1.5 0.2l-0.8 1.7l1.9 1.2zM10.9 70.1l-1.8 2.2l0.5 1.4l1.4 0.6l1 -0.1l1.2 -3zM65.2 4.1l0.1 0.4l4.2 0.1l0.2 -0.4l-1.4 -1.8l-2.5 0.9zM32 10.8l0.1 3l0.7 0.3l3.5 -1l-0.3 -0.9l-3.4 -1.5zM92.2 41.8l1.8 1.1l0.6 -0.3l0.6 -2.3l-2.2 -0.6l-1.1 1.2zM4.3 60.8l1.4 -2.3l-0.8 -0.6l-2.1 1.1l-0.4 1.8l0.7 0.5zM42.5 24.3l2.3 0.1l0.6 -0.5l-0.1 -2.5l-0.6 -0.2l-1.8 0.7zM12.4 29.2l-2.8 -1.8l0 0.1l0.9 5.1l0.1 -0.1zM66 61.4l2.2 0l0.9 -2.2l-3.4 -0.7zM19 27.6l-3.2 0l0.9 2.5l1.6 0.6l0.9 -2.8zM74.2 21.2l1.7 0.1l0.7 1.4l-1.1 1.9l-1.6 -0.4l-0.3 -1.4zM55.1 8l-0.6 -1.5l1.9 -0.6l1.4 0.7l-0.9 1.3zM88 6.3l-1.4 -1.1l-2.5 1.9l-0.1 0.1l0.3 1.2l2.9 -0.3l0.8 -1.2zM29.2 18.1l-2.2 -0.5l-0.3 -2.4l0.6 -0.6l2.7 0.8l0.2 2.1zM100.2 30.2l0.1 -2.1l-0.2 -0.4l-3.5 0.2l1.2 2.6l1.7 0.2zM86.1 43.3l1.9 -0.5l1.1 1.8l-0.3 0.5l-1.8 0.5l-0.6 -0.4zM61.2 34.7l1 -1.1l2.4 0.1l0.2 1.1l-1.8 3l-1.8 -3zM29.9 59.9l-0.9 0.3l-1.9 -1l0.4 -2.7l1.8 0.1l0.9 0.8zM83.4 3.3l0.1 3.5l0 0.1l-1.9 -0.9l0 -1l1.4 -1.8zM91.4 61.9l-2.5 0.3l-0.7 -2.5l0.1 -0.2l3.4 -0.5l0.3 0.3zM3.8 24.4l1.1 2.3l-0.9 2.1l-2.3 0.1l0.2 -3.4zM92.6 63.3l-0.9 2.8l0.7 1l2.6 -2.4l0.1 -0.5l-0.7 -0.9zM102 60.4l-0.7 -0.8l-1.2 0.3l-0.5 0.9l2.4 1.3zM55.8 13.5l-0.6 2.5l3.1 0l-0.2 -3l-0.1 0zM59.9 70.7l2.9 -1.9l1.2 0.8l0.1 2.3l-0.5 0.3l-3.3 0.4l-0.1 -0.1zM28.7 25l-0.8 -2.4l-0.3 0l-1.8 1.2l-0.3 1.9l1.5 1zM99.9 11.7l0.5 0l1.4 -1.6l-0.9 -2.3l-0.8 -0.1l-2 1.5zM102.2 38.2l-0.8 2.7l2.8 1l1.1 -2.7l-2.6 -1.6zM64.6 12.8l-0.4 3l-0.8 0.5l-1.2 -0.4l0 -3.4zM32.6 38.9l0 -0.1l-0.6 -0.7l-2.7 0.7l0 2.4l1.5 0.4zM34.8 26.5l-3 0.4l-0.3 1.4l1.9 1.8l1.3 -1zM74 35.7l-2.2 -1.2l1 -2.4l2.9 1.4l0.1 0.5zM78.7 66.9l-0.3 -0.8l-0.1 -0.1l-3.9 1.2l-0.2 0.6l0.7 1.7l2.2 0.2zM81 71.5l-2.8 0.3l-0.8 1.3l0 0.2l2 1.6l1.4 -0.6l0.6 -2.2zM12.9 11l0.5 1.8l3 0.8l0.1 -0.1l0.6 -3.2l-0.5 -0.5l-3.6 0.8zM47.9 11.9l2.2 -2.4l2.2 1.9l-1 1.8l-2.2 0.4zM99 50.4l3 0l1.2 1.6l-0.9 2.2l-2.4 -1l-1 -2.5zM25.4 33.3l-1.5 1.2l-2.2 -1.1l0 -0.3l1.5 -2.7l1.6 0.4zM49.6 51.9l-0.8 2.1l-2 -0.1l-1 -1l1.1 -1.7zM77.3 14.6l-0.5 1.9l-1.5 -0.4l-0.4 -3.2l0.2 -0.4l0.8 0zM54.8 71.1l-1.8 -2.2l2.3 -1.1l1.5 0.2l0.2 1.2zM16.7 56.6l1.2 -0.3l0.6 -2l-0.3 -0.9l-2.3 -0.1l0.4 3zM96.3 28.1l0.9 2.6l-0.9 1.2l-1.7 -1.3l1.7 -2.5zM39.4 26.4l0.6 -0.2l1.9 3.3l-2.8 2.4l-1.3 -2.2zM9 4.8l-1.5 2l-1.6 -0.1l-0.7 -1.5l1.9 -2.3zM89.2 34.4l3.2 -0.2l-0.3 -2.9l-0.6 -0.4l-2.1 0.5zM53 72.6l-2 -0.5l-1.3 1.6l1.7 2l1 -0.9zM47.2 70l3 -0.6l0.2 2.2l-1.1 1.7l-1.3 0zM38 45.2l0.1 2.3l3.2 1.8l0.7 -1l-2.6 -3.3l-1.1 -0.1zM7.9 12.3l-0.4 0.2l-0.3 3.2l3.4 0l0.3 -0.3l-1.8 -2.7zM102.2 6.1l-1.1 1l-0.9 -0.1l-1.3 -2.5l1.4 -0.4l2 1.4zM42.1 60.7l1.5 -0.6l1.4 1.5l0 0.6l-1.2 0.6l-1.7 -2zM68.7 37.6l0.2 2.2l2.3 -1.1l-1.2 -2.6zM27 33.7l1.2 1.6l2.9 -1.4l-2.5 -1.8zM51.1 50.8l-1.4 0.7l-2.7 -0.7l0 -1.5l2.9 0.2l1.2 0.9zM54.8 29.1l2.5 1.8l0.8 -0.6l0.3 -2.7l-3.1 -1.2zM82.4 40.5l0.7 2.3l2.3 -0.2l-0.2 -2.5l-1.8 -0.5zM97.8 14.1l2.1 -1.6l0.4 0l1.8 2.4l-1.1 1.6l-2.6 -0.6zM40.9 20.2l0.8 -1.6l-1.5 -1.4l-2.5 2.3l-0.1 0.2l0.1 0.5l1.6 0.8zM9.2 49.7l1.8 0.2l0.3 0.3l-1.4 2.2l-0.8 0.3l-0.7 -2zM106.5 5.1l-0.6 3.3l-2.9 -2.2l0.1 -0.6l0.9 -0.9zM45.4 65l0.8 -1.5l-0.9 -0.8l-1.3 0.6l-0.3 1.2zM61 24.9l-2.8 -3.1l1 -1l3.1 0.5l0.5 1.9l-1.4 1.7zM33 14.5l1.1 1.7l1.7 -0.4l1.1 -1.8l-0.5 -0.6zM93 7.4l-0.4 -0.3l-1.7 1.1l0.2 2l1.5 -0.5zM78.9 7l-0.6 -2.9l-1.9 0.3l0 2.7l2 0.9zM0.1 29.7l1.2 -0.8l0.2 -3.4l-1.9 -0.1l-0.5 2.6zM60.8 49.3l-0.7 -3.4l-1.5 0.2l-1.2 2.6l2.8 0.9zM101.2 59l0.6 -2.3l-3.2 0.7l1.3 1.9zM48.2 24.5l1.3 2.4l2.4 -1.9l-1.9 -1.9zM68.1 37.7l-1.3 -0.1l-1.1 1.2l1.1 1.4l1.5 -0.1l0.2 -0.3z"/>
<path fill="#989898" d="M105.7 8.7l0.1 0.4l-0.8 0.8l-2.7 0l-0.8 -2.3l1.2 -0.9zM52.9 1.4l2.9 0.2l0.2 -0.9l-1.3 -2.2l-1.2 0.7zM69.4 63.5l2.7 0.1l0.1 0l0.2 1.3l-2.8 1.3l-0.9 -1.4zM86 42.7l1.8 -0.5l0.6 -1.7l-0.8 -1.1l-2 0.7l0.2 2.5zM8.2 46.3l2.8 0.4l0 2.7l-1.7 -0.3zM42.8 64.6l-1.7 -0.8l-0.5 -1.1l1.2 -1.7l1.5 2.2l-0.2 1.2zM75.8 46.3l2.5 1.1l-0.9 2.1l-2.1 0.3l-1.6 -2.9zM70.3 25.3l0.2 -2.2l-1.2 -1.4l-0.6 0.5l-0.4 2.6zM19.9 64.5l0.4 0.1l3.6 -2.5l0.1 -1.5l-0.1 0l-4.2 0.4zM92 63.2l-0.7 2.8l-2.4 -0.9l-0.4 -1.2l0.5 -1.3l2.4 -0.1zM19.5 27l0.5 -3l0.5 -0.2l1.1 0.4l1.7 2.2l-1.2 1.6l-2.3 -0.7zM19.5 45l-0.1 1.4l1.7 -0.2l0.8 -1.2l-0.9 -1.2zM9.7 4.4l-0.3 0.1l-1.9 -2l0 0l1.8 -1.7l1.4 0.7zM102.5 60l1.8 -0.9l0.2 -1.9l-1.8 -1.1l-0.5 0.6l-0.3 2.4zM42 67.5l-2 -0.1l-0.6 1.1l1 2l1.3 0l0.5 -2.7zM91.3 40.4l-2.3 -0.3l-0.8 -1.1l0.3 -1.6l3.6 0.3l0.4 1.5zM54.5 47.3l1.8 1.5l0.6 -0.4l1.3 -2.5l-1.8 -0.8zM79.9 13.5l-2.2 0.7l-1.5 -1.9l1.7 -0.9zM72.7 31.3l-2.1 -1.8l1 -2.5l0.1 0l3.5 1.5zM86.9 51l-0.2 -0.8l-3.5 1.2l2.1 1.4zM81.1 1.5l1.7 1.5l-1.7 1.5l-1.9 -1.1l0.5 -1.3zM61.9 50.2l0.8 3.1l-1.5 1.6l-2.1 -2.3l1.4 -2.3l0.6 -0.4zM50.2 5.7l-3 -1l-1.4 2l0.5 1.2l3.2 -0.6zM18.4 41.4l0.1 -0.5l2.8 -1.6l1.2 0.5l0.2 0.3l-1.7 2.5zM9.9 68.1l-3.1 -0.1l-0.4 1l0.9 2.4l1.3 0.5l1.9 -2.2zM75.9 38l2 -1.7l-1.8 -2l-1.6 1.8l0.2 1.7zM48.6 61.9l-0.3 1l-1.7 0.1l-0.9 -0.8l0.1 -0.6l1.1 -0.8zM80.4 55.3l-0.7 -2.5l0.2 -0.7l1.9 -0.4l0.5 2.8l-1.6 0.9zM88.8 6.3l2.6 -1.9l1 2.4l-1.8 0.9l-1.8 -0.8zM47.8 34l-1 -1.7l-0.2 0l-1.8 0.4l-0.7 2.3l0.4 0.7l2.9 -0.3zM17.9 44.6l-1.3 0.5l0.4 2.6l1 0l0.8 -1.3l0 -1.4zM54.6 10.2l2.7 0.4l0.3 -0.9l-0.7 -1.1l-1.8 -0.1zM9.1 55.4l-0.4 2.5l2.8 0.1l0.9 -0.9l-0.3 -1zM23.4 39.7l1.5 0.6l2.7 -2.4l-0.3 -0.6l-2.8 -0.6l-1.2 2.7zM91.9 42.2l-1.1 2.1l2.2 1.1l0.7 -2.1zM83.3 30.6l-2.4 1.5l-1.8 -1.4l3.1 -3.1zM21.5 14.8l-1.6 0.4l-0.8 2.2l0.5 1.3l2.1 0.4l0.5 -0.1l-0.2 -3.7zM57.7 57.5l-2.3 -2.2l-1.4 2.3l2.9 2.2l0.6 -0.4zM58 10.8l0.5 1.6l0 0l2.6 -0.8l0 -0.2l-1.3 -2.1l-1.4 0.6zM77.3 57.7l-2.2 0.8l-0.8 -0.5l0 -1.9l2.4 -0.7l0.8 1.1zM90.6 1.8l2 -3.7l1.9 2.1l-0.9 2.4l-2 0.9zM21.8 46.6l0.5 1.7l1.9 0l0.2 -0.4l-0.1 -2.4l-1.9 -0.3zM92.6 62.7l1.7 -0.1l0.7 -2.6l-2.6 -0.6l-0.4 2.6zM2.3 46.8l-1 -2.2l-2.1 -0.6l-1.6 2.1l0.3 0.8l3.1 1.3zM40.8 53.4l-1.9 -0.1l0.1 -1.7l2.4 -1.4l0.7 1.6zM16.3 57.3l0.5 2.6l-1.3 0.5l-1.3 -2.7l1.7 -0.7zM54.3 6.1l1.9 -0.9l0.5 -2l-0.5 -0.7l-2.9 3zM64.5 16.5l2.4 0.2l0.7 1.6l-2.3 1.3l-1.1 -0.2l-0.5 -2.5zM42.4 43.5l-2.7 1.3l2.6 3.3l1.3 -0.8l-0.3 -3.1zM88.5 52.4l-1.4 2.5l-1.4 -0.3l0.1 -1.4l1.5 -1.9zM83.8 63.1l0.8 -3.3l0 0l-3.7 0.6l1.7 3l0.8 0.1zM61.1 25.7l-0.9 1.3l1.7 2.5l2.9 -1.2l-3.3 -2.7zM49.4 31l1.1 1.5l0.9 0.2l0.6 -0.3l0.6 -2.2l-3.1 -1.6l-0.1 0.2zM43.9 36.1l0 0.1l-3.5 2.5l-0.5 -1.8l0.5 -2.1l3 0.6zM1.6 65.6l-2.2 -0.3l-0.9 2.7l0.9 0.5l2.4 -0.7l0.4 -1.4zM16.9 57.2l1.2 -0.2l1.3 0.9l-0.4 2.4l-1.9 -0.4zM46.4 66.4l2.9 -1l-1 -1.9l-1.6 0.3l-0.8 1.5zM34.8 40.8l2.6 -0.4l-1.4 -2.4l-2.7 0.8l0.1 0.1zM85 16.2l1.5 -2.9l-0.1 -0.3l-1.5 -0.6l-2.4 2.4zM33.8 71.5l-1.8 -0.6l0.6 -2.4l2.3 -0.8l0.8 1.2zM47.1 31.6l1.5 -0.7l0.4 -2.1l-2 1.3l-0.1 1.5zM15 20.6l0.3 2.5l2.6 -0.6l-0.2 -2.1l-1.1 -0.4zM99.7 23.1l0.2 -3l-2.7 -0.7l-0.7 3.5zM58.1 6.1l1.3 -0.2l0.1 -2l-2.4 -0.6l-0.3 2z"/>
</g></defs>
<g clip-path="url(#ca)"><g filter="url(#ba)">
<rect x="28" y="13.5" width="217.5" height="153" fill="#505050"/>
<use href="#semtile" transform="translate(-74.8 -57)"/>
<use href="#semtile" transform="translate(-74.8 16.5)"/>
<use href="#semtile" transform="translate(-74.8 90)"/>
<use href="#semtile" transform="translate(-74.8 163.5)"/>
<use href="#semtile" transform="translate(31 -57)"/>
<use href="#semtile" transform="translate(31 16.5)"/>
<use href="#semtile" transform="translate(31 90)"/>
<use href="#semtile" transform="translate(31 163.5)"/>
<use href="#semtile" transform="translate(136.8 -57)"/>
<use href="#semtile" transform="translate(136.8 16.5)"/>
<use href="#semtile" transform="translate(136.8 90)"/>
<use href="#semtile" transform="translate(136.8 163.5)"/>
<use href="#semtile" transform="translate(242.5 -57)"/>
<use href="#semtile" transform="translate(242.5 16.5)"/>
<use href="#semtile" transform="translate(242.5 90)"/>
<use href="#semtile" transform="translate(242.5 163.5)"/>
</g></g>
<rect x="210" y="152.2" width="22.3" height="4.6" fill="#c1232b"/>
<text x="254.3" y="12.8" font-size="16.5" text-anchor="start" fill="#000" font-weight="bold" font-family='"Liberation Sans", sans-serif' font-style="normal" letter-spacing="1.5" >(b)</text>
<rect x="315.5" y="7.8" width="182.4" height="145.8" fill="none" stroke="#000" stroke-width="2.2"/>
<path d="M314.2 36C315 36.3 317.2 37.1 319 37.6C320.8 38.1 322.5 38.6 324.7 38.7C326.9 38.8 329.4 38.5 332 38.2C334.6 37.9 336.9 37.4 340.4 37C343.9 36.6 348.7 35.9 353 35.6C357.3 35.3 362 35 366 35C370 35 373.4 35.3 377 35.6C380.6 35.9 383.8 36.4 387.6 36.9C391.4 37.4 396.1 38 400 38.6C403.9 39.2 407.4 39.8 411.2 40.5C415 41.2 419.1 41.9 423 42.6C426.9 43.4 430.4 44.1 434.7 45C438.9 45.9 444.8 47.3 448.5 48.2C452.2 49.1 454.1 49.8 457 50.6C459.9 51.4 463.4 52.2 466.2 52.9C469 53.6 471.4 54 474 54.6C476.6 55.2 479.2 55.8 481.9 56.4C484.6 57 487.2 57.8 490 58.5C492.8 59.2 497.4 60.2 498.9 60.6" fill="none" stroke="#1666af" stroke-width="2.9" stroke-linejoin="round"/>
<path d="M314.2 108.5C315 108.3 317.6 107.8 319 107.4C320.4 107 321.1 106.9 322.8 106.1C324.5 105.3 326.7 104.1 329 102.8C331.3 101.5 334 99.9 336.5 98.4C339 96.9 341.4 95.4 344 93.9C346.6 92.4 349.5 90.9 352.2 89.6C354.9 88.3 357.4 87.1 360 86C362.6 84.9 364.9 84 367.9 82.9C370.9 81.8 374.7 80.6 378 79.4C381.3 78.2 384.4 77.3 387.6 76C390.8 74.7 393.7 73.3 397 71.8C400.3 70.3 403.9 68.5 407.2 66.8C410.5 65.1 413.7 63.3 417 61.6C420.3 59.9 423.6 58 426.9 56.4C430.2 54.8 433.4 53.4 437 51.8C440.6 50.2 445.2 48.4 448.5 47C451.8 45.6 454.1 44.5 457 43.2C459.9 41.9 463.4 40.5 466.2 39.3C469 38.1 471.4 37.1 474 36C476.6 34.9 479.2 33.7 481.9 32.6C484.6 31.5 487.2 30.5 490 29.4C492.8 28.3 497.4 26.7 498.9 26.1" fill="none" stroke="#ea0685" stroke-width="2.9" stroke-linejoin="round"/>
<line x1="316.5" y1="22.4" x2="320.1" y2="22.4" stroke="#000" stroke-width="2.0" stroke-linecap="butt"/>
<line x1="316.5" y1="51.7" x2="318.6" y2="51.7" stroke="#000" stroke-width="2.0" stroke-linecap="butt"/>
<line x1="316.5" y1="81" x2="320.1" y2="81" stroke="#000" stroke-width="2.0" stroke-linecap="butt"/>
<line x1="316.5" y1="110.2" x2="318.6" y2="110.2" stroke="#000" stroke-width="2.0" stroke-linecap="butt"/>
<line x1="316.5" y1="139.5" x2="320.1" y2="139.5" stroke="#000" stroke-width="2.0" stroke-linecap="butt"/>
<text x="314.3" y="27.6" font-size="16" text-anchor="end" fill="#000" font-weight="bold" font-family='"Liberation Sans", sans-serif' font-style="normal" letter-spacing="0.9" >50</text>
<text x="314.3" y="86.2" font-size="16" text-anchor="end" fill="#000" font-weight="bold" font-family='"Liberation Sans", sans-serif' font-style="normal" letter-spacing="0.9" >30</text>
<text x="314.3" y="144.7" font-size="16" text-anchor="end" fill="#000" font-weight="bold" font-family='"Liberation Sans", sans-serif' font-style="normal" letter-spacing="0.9" >10</text>
<line x1="331" y1="152.6" x2="331" y2="149" stroke="#000" stroke-width="2.0" stroke-linecap="butt"/>
<line x1="368.6" y1="152.6" x2="368.6" y2="150.5" stroke="#000" stroke-width="2.0" stroke-linecap="butt"/>
<line x1="406.4" y1="152.6" x2="406.4" y2="149" stroke="#000" stroke-width="2.0" stroke-linecap="butt"/>
<line x1="444.5" y1="152.6" x2="444.5" y2="150.5" stroke="#000" stroke-width="2.0" stroke-linecap="butt"/>
<line x1="482.8" y1="152.6" x2="482.8" y2="149" stroke="#000" stroke-width="2.0" stroke-linecap="butt"/>
<text x="331.3" y="172.2" font-size="15.5" text-anchor="middle" fill="#000" font-weight="bold" font-family='"Liberation Sans", sans-serif' font-style="normal" >1</text>
<text x="406.9" y="172.2" font-size="15.5" text-anchor="middle" fill="#000" font-weight="bold" font-family='"Liberation Sans", sans-serif' font-style="normal" letter-spacing="1.0" >1.5</text>
<text x="482.8" y="172.2" font-size="15.5" text-anchor="middle" fill="#000" font-weight="bold" font-family='"Liberation Sans", sans-serif' font-style="normal" >2</text>
<text x="408" y="188.4" font-size="16" text-anchor="middle" fill="#000" font-weight="bold" font-family='"Liberation Sans", sans-serif' font-style="normal" letter-spacing="0.8" >Wavelength (µm)</text>
<text transform="translate(289.4 78.8) rotate(-90)" font-size="16" text-anchor="middle" font-weight="bold" letter-spacing="0.9" font-family='"Liberation Sans", sans-serif'>Reflection (%)</text>
<line x1="431.5" y1="119.6" x2="443" y2="119.6" stroke="#1666af" stroke-width="2.3" stroke-linecap="round"/>
<line x1="431.5" y1="134.8" x2="443" y2="134.8" stroke="#ea0685" stroke-width="2.3" stroke-linecap="round"/>
<text x="450" y="123.7" font-size="12" text-anchor="start" fill="#000" font-weight="bold" font-family='"Liberation Sans", sans-serif' font-style="normal" letter-spacing="0.3" >300 K</text>
<text x="450" y="139" font-size="12" text-anchor="start" fill="#000" font-weight="bold" font-family='"Liberation Sans", sans-serif' font-style="normal" letter-spacing="0.3" >355 K</text>
<text x="-0.5" y="211.3" font-size="16.5" text-anchor="start" fill="#000" font-weight="bold" font-family='"Liberation Sans", sans-serif' font-style="normal" letter-spacing="1.5" >(c)</text>
<defs><clipPath id="cc"><rect x="55.4" y="207.2" width="147.6" height="147.2"/></clipPath><filter id="bc" x="-5%" y="-5%" width="110%" height="110%"><feGaussianBlur stdDeviation="0.7"/></filter><linearGradient id="cbar" x1="0" y1="0" x2="0" y2="1"><stop offset="0" stop-color="#f1d27a"/><stop offset="0.10" stop-color="#e9c94a"/><stop offset="0.27" stop-color="#d9bd12"/><stop offset="0.40" stop-color="#d29a10"/><stop offset="0.50" stop-color="#cc7a10"/><stop offset="0.62" stop-color="#b4500e"/><stop offset="0.75" stop-color="#952a0a"/><stop offset="0.87" stop-color="#7c1509"/><stop offset="1" stop-color="#6e100c"/></linearGradient></defs>
<g clip-path="url(#cc)"><g filter="url(#bc)">
<rect x="52.4" y="204.2" width="153.6" height="153.2" fill="#b8570c"/>
<path fill="#cb6e0e" d="M118.8 289.8a3.2 2.7 0 1 0 6.4 0a3.2 2.7 0 1 0 -6.4 0M78.4 282.6a3 2.3 0 1 0 6.1 0a3 2.3 0 1 0 -6.1 0M64.5 327.6a2.7 2.6 0 1 0 5.3 0a2.7 2.6 0 1 0 -5.3 0M150.4 298.3a2.1 2 0 1 0 4.2 0a2.1 2 0 1 0 -4.2 0M80.1 241.8a2.1 1.8 0 1 0 4.2 0a2.1 1.8 0 1 0 -4.2 0M129.3 302a2.8 2.3 0 1 0 5.6 0a2.8 2.3 0 1 0 -5.6 0M201.4 355.7a3.3 2.5 0 1 0 6.5 0a3.3 2.5 0 1 0 -6.5 0M94.2 215.8a3 2.6 0 1 0 5.9 0a3 2.6 0 1 0 -5.9 0M196.6 333.3a2 1.9 0 1 0 4 0a2 1.9 0 1 0 -4 0M199.8 265.3a2.2 1.9 0 1 0 4.5 0a2.2 1.9 0 1 0 -4.5 0M63.1 255.5a3.5 2.5 0 1 0 6.9 0a3.5 2.5 0 1 0 -6.9 0M65.9 214.3a2.9 2.6 0 1 0 5.7 0a2.9 2.6 0 1 0 -5.7 0M80 315.9a2.3 1.8 0 1 0 4.6 0a2.3 1.8 0 1 0 -4.6 0M82.2 246a3.5 2.6 0 1 0 7 0a3.5 2.6 0 1 0 -7 0M82.1 264.8a3.2 2.4 0 1 0 6.5 0a3.2 2.4 0 1 0 -6.5 0M82.8 244.3a2.9 2.4 0 1 0 5.9 0a2.9 2.4 0 1 0 -5.9 0M64.6 293.3a2.4 2 0 1 0 4.9 0a2.4 2 0 1 0 -4.9 0M195.8 278.3a3 2.2 0 1 0 6 0a3 2.2 0 1 0 -6 0M188.8 328.9a2.3 2.1 0 1 0 4.6 0a2.3 2.1 0 1 0 -4.6 0M80 348.9a3.2 2.6 0 1 0 6.5 0a3.2 2.6 0 1 0 -6.5 0M56.8 350.8a2.5 2 0 1 0 4.9 0a2.5 2 0 1 0 -4.9 0M141.4 249.6a2.4 1.9 0 1 0 4.8 0a2.4 1.9 0 1 0 -4.8 0M135.5 334.1a2.7 2.5 0 1 0 5.4 0a2.7 2.5 0 1 0 -5.4 0M53.5 245.9a2.4 2.1 0 1 0 4.9 0a2.4 2.1 0 1 0 -4.9 0M137.4 225.1a2.7 2.3 0 1 0 5.4 0a2.7 2.3 0 1 0 -5.4 0M156.1 293.6a2.1 1.8 0 1 0 4.2 0a2.1 1.8 0 1 0 -4.2 0M157.5 350.8a2.2 1.8 0 1 0 4.3 0a2.2 1.8 0 1 0 -4.3 0M99.5 356.3a2.2 1.9 0 1 0 4.4 0a2.2 1.9 0 1 0 -4.4 0M161.8 311.6a3.3 2.5 0 1 0 6.7 0a3.3 2.5 0 1 0 -6.7 0M187.2 336.9a2.7 2.3 0 1 0 5.5 0a2.7 2.3 0 1 0 -5.5 0M145.3 263a2.9 2.2 0 1 0 5.7 0a2.9 2.2 0 1 0 -5.7 0M201.1 338.2a2.9 2.6 0 1 0 5.8 0a2.9 2.6 0 1 0 -5.8 0M117.9 332a2.3 1.8 0 1 0 4.6 0a2.3 1.8 0 1 0 -4.6 0M123.4 240a3 2.5 0 1 0 5.9 0a3 2.5 0 1 0 -5.9 0M89.6 206.9a2.5 2 0 1 0 5.1 0a2.5 2 0 1 0 -5.1 0M187.9 305a2.8 2.2 0 1 0 5.7 0a2.8 2.2 0 1 0 -5.7 0M80.1 270.4a3.4 2.7 0 1 0 6.7 0a3.4 2.7 0 1 0 -6.7 0M139.5 253.1a2.3 2 0 1 0 4.5 0a2.3 2 0 1 0 -4.5 0M158.9 348.8a2.3 2 0 1 0 4.6 0a2.3 2 0 1 0 -4.6 0M83 267.8a2.9 2.3 0 1 0 5.7 0a2.9 2.3 0 1 0 -5.7 0M200.2 273.6a2 1.9 0 1 0 4.1 0a2 1.9 0 1 0 -4.1 0M158.2 291.5a2.6 2 0 1 0 5.2 0a2.6 2 0 1 0 -5.2 0M119.4 208.9a2.9 2.4 0 1 0 5.9 0a2.9 2.4 0 1 0 -5.9 0M145.8 272.7a3 2.5 0 1 0 5.9 0a3 2.5 0 1 0 -5.9 0M154.7 235.3a2.5 2.1 0 1 0 5 0a2.5 2.1 0 1 0 -5 0M159.3 232.3a2.4 2.1 0 1 0 4.7 0a2.4 2.1 0 1 0 -4.7 0M143.8 319.5a2.7 2.3 0 1 0 5.4 0a2.7 2.3 0 1 0 -5.4 0M192.5 314.4a2.2 1.9 0 1 0 4.5 0a2.2 1.9 0 1 0 -4.5 0M107.1 291.2a3.4 2.8 0 1 0 6.8 0a3.4 2.8 0 1 0 -6.8 0M149 236.2a3.2 2.5 0 1 0 6.4 0a3.2 2.5 0 1 0 -6.4 0M82.1 341.3a3.6 2.7 0 1 0 7.3 0a3.6 2.7 0 1 0 -7.3 0M98.9 342.8a3 2.4 0 1 0 6.1 0a3 2.4 0 1 0 -6.1 0M134.4 321.4a2.5 2.3 0 1 0 4.9 0a2.5 2.3 0 1 0 -4.9 0M172 231.3a2.6 2 0 1 0 5.3 0a2.6 2 0 1 0 -5.3 0M128.5 314.6a3.3 2.7 0 1 0 6.5 0a3.3 2.7 0 1 0 -6.5 0M194.9 218.2a2.4 2 0 1 0 4.8 0a2.4 2 0 1 0 -4.8 0M147.1 284.2a3.2 2.5 0 1 0 6.3 0a3.2 2.5 0 1 0 -6.3 0M179.1 341.4a2.5 2.1 0 1 0 5 0a2.5 2.1 0 1 0 -5 0M137.5 235.6a2.8 2.3 0 1 0 5.5 0a2.8 2.3 0 1 0 -5.5 0M197.6 283.2a2.7 2.2 0 1 0 5.5 0a2.7 2.2 0 1 0 -5.5 0M155.4 215.2a2.7 2.4 0 1 0 5.4 0a2.7 2.4 0 1 0 -5.4 0M92 276.7a2.2 2 0 1 0 4.5 0a2.2 2 0 1 0 -4.5 0M123.3 253.2a2.4 2.1 0 1 0 4.8 0a2.4 2.1 0 1 0 -4.8 0M169.3 208.6a2.2 2 0 1 0 4.5 0a2.2 2 0 1 0 -4.5 0M105 298.9a2.3 1.8 0 1 0 4.6 0a2.3 1.8 0 1 0 -4.6 0M88.7 235.1a2.7 2.3 0 1 0 5.4 0a2.7 2.3 0 1 0 -5.4 0M131.3 229.4a2.4 2 0 1 0 4.8 0a2.4 2 0 1 0 -4.8 0M179.5 297.7a3 2.7 0 1 0 5.9 0a3 2.7 0 1 0 -5.9 0M187.6 253a2.7 2 0 1 0 5.3 0a2.7 2 0 1 0 -5.3 0M185.5 225.5a2.5 2 0 1 0 5 0a2.5 2 0 1 0 -5 0M176.7 269a2.8 2.5 0 1 0 5.6 0a2.8 2.5 0 1 0 -5.6 0M52.9 235.6a3.2 2.6 0 1 0 6.4 0a3.2 2.6 0 1 0 -6.4 0M127.3 319.8a2.8 2.2 0 1 0 5.6 0a2.8 2.2 0 1 0 -5.6 0M66.7 210.9a2.8 2.3 0 1 0 5.6 0a2.8 2.3 0 1 0 -5.6 0M77.9 236a3.5 2.7 0 1 0 6.9 0a3.5 2.7 0 1 0 -6.9 0M60 349.1a2.8 2.2 0 1 0 5.6 0a2.8 2.2 0 1 0 -5.6 0M129 270.2a2.6 2.4 0 1 0 5.1 0a2.6 2.4 0 1 0 -5.1 0M77.9 273.8a2.9 2.4 0 1 0 5.9 0a2.9 2.4 0 1 0 -5.9 0M127.7 207.5a3.4 2.7 0 1 0 6.8 0a3.4 2.7 0 1 0 -6.8 0M146 266.4a2.8 2.5 0 1 0 5.7 0a2.8 2.5 0 1 0 -5.7 0M89.4 343a3.2 2.6 0 1 0 6.4 0a3.2 2.6 0 1 0 -6.4 0M186.2 338.2a3.1 2.5 0 1 0 6.2 0a3.1 2.5 0 1 0 -6.2 0M160.5 215.9a2.5 2 0 1 0 5 0a2.5 2 0 1 0 -5 0M147.7 299.6a2.6 2.1 0 1 0 5.1 0a2.6 2.1 0 1 0 -5.1 0M150.7 291.3a2.7 2.4 0 1 0 5.4 0a2.7 2.4 0 1 0 -5.4 0M156.8 320.4a2.9 2.8 0 1 0 5.9 0a2.9 2.8 0 1 0 -5.9 0M90.2 265.9a2.1 1.8 0 1 0 4.1 0a2.1 1.8 0 1 0 -4.1 0M88.7 342.1a2.8 2.5 0 1 0 5.5 0a2.8 2.5 0 1 0 -5.5 0M201.4 301.7a2.8 2.6 0 1 0 5.6 0a2.8 2.6 0 1 0 -5.6 0M58 345.8a2.3 1.9 0 1 0 4.6 0a2.3 1.9 0 1 0 -4.6 0M142.9 214.1a3.2 2.7 0 1 0 6.4 0a3.2 2.7 0 1 0 -6.4 0M105.9 248.4a2.9 2.3 0 1 0 5.9 0a2.9 2.3 0 1 0 -5.9 0M96.1 207.3a2.2 2 0 1 0 4.4 0a2.2 2 0 1 0 -4.4 0M109.8 340.9a2.7 2.7 0 1 0 5.5 0a2.7 2.7 0 1 0 -5.5 0M61.9 342.1a2.6 2.3 0 1 0 5.2 0a2.6 2.3 0 1 0 -5.2 0M129.8 346.9a3 2.6 0 1 0 5.9 0a3 2.6 0 1 0 -5.9 0M142.1 222.6a2.8 2.3 0 1 0 5.7 0a2.8 2.3 0 1 0 -5.7 0M130.7 224a2.7 2.2 0 1 0 5.4 0a2.7 2.2 0 1 0 -5.4 0M138.6 268.6a3.1 2.7 0 1 0 6.1 0a3.1 2.7 0 1 0 -6.1 0M162.3 241.2a2.4 2 0 1 0 4.7 0a2.4 2 0 1 0 -4.7 0M104.9 246.3a3 2.5 0 1 0 5.9 0a3 2.5 0 1 0 -5.9 0M165 233.9a2.6 2.1 0 1 0 5.2 0a2.6 2.1 0 1 0 -5.2 0M57 214.4a2.4 2.1 0 1 0 4.8 0a2.4 2.1 0 1 0 -4.8 0M133.3 216.2a2.3 1.9 0 1 0 4.5 0a2.3 1.9 0 1 0 -4.5 0M107.7 277.6a2.3 2 0 1 0 4.6 0a2.3 2 0 1 0 -4.6 0M61.5 223.3a3.2 2.6 0 1 0 6.3 0a3.2 2.6 0 1 0 -6.3 0M114.7 244.2a3 2.6 0 1 0 6 0a3 2.6 0 1 0 -6 0M99.5 288.2a3.3 2.5 0 1 0 6.5 0a3.3 2.5 0 1 0 -6.5 0M66.1 337.5a2.1 1.9 0 1 0 4.1 0a2.1 1.9 0 1 0 -4.1 0M154.5 250.4a2.8 2.4 0 1 0 5.5 0a2.8 2.4 0 1 0 -5.5 0M62.7 251.1a3.1 2.4 0 1 0 6.2 0a3.1 2.4 0 1 0 -6.2 0M105.3 315a2.4 2.2 0 1 0 4.7 0a2.4 2.2 0 1 0 -4.7 0M189.5 347.3a3.2 2.8 0 1 0 6.3 0a3.2 2.8 0 1 0 -6.3 0M98 265.6a3.5 2.6 0 1 0 7 0a3.5 2.6 0 1 0 -7 0M106.3 260.1a2.5 2.1 0 1 0 5.1 0a2.5 2.1 0 1 0 -5.1 0M171.1 286.9a3.2 2.5 0 1 0 6.3 0a3.2 2.5 0 1 0 -6.3 0M184.8 247.8a2.1 1.8 0 1 0 4.3 0a2.1 1.8 0 1 0 -4.3 0M197.1 303.7a2.8 2.6 0 1 0 5.6 0a2.8 2.6 0 1 0 -5.6 0M62.9 217.5a3.2 2.3 0 1 0 6.5 0a3.2 2.3 0 1 0 -6.5 0M72.5 318a2.7 2.3 0 1 0 5.5 0a2.7 2.3 0 1 0 -5.5 0M130 320.8a2.5 2.3 0 1 0 5 0a2.5 2.3 0 1 0 -5 0M125.1 286.4a3.1 2.6 0 1 0 6.2 0a3.1 2.6 0 1 0 -6.2 0M175.3 306a3.3 2.7 0 1 0 6.7 0a3.3 2.7 0 1 0 -6.7 0M195.8 302a2.8 2.4 0 1 0 5.7 0a2.8 2.4 0 1 0 -5.7 0M113.8 227.3a3.3 2.4 0 1 0 6.6 0a3.3 2.4 0 1 0 -6.6 0M81.7 269.5a2.7 2 0 1 0 5.3 0a2.7 2 0 1 0 -5.3 0M68 303.2a2.8 2.4 0 1 0 5.7 0a2.8 2.4 0 1 0 -5.7 0M139.9 342.7a2 1.8 0 1 0 4 0a2 1.8 0 1 0 -4 0M86.4 313.6a2.7 2.3 0 1 0 5.3 0a2.7 2.3 0 1 0 -5.3 0M77.1 319.7a2.5 2.2 0 1 0 5 0a2.5 2.2 0 1 0 -5 0M89.8 339.4a3.1 2.7 0 1 0 6.2 0a3.1 2.7 0 1 0 -6.2 0M124.3 238.6a2.3 1.9 0 1 0 4.6 0a2.3 1.9 0 1 0 -4.6 0M130.7 283.2a2.6 2.1 0 1 0 5.3 0a2.6 2.1 0 1 0 -5.3 0M52.4 276.7a2.7 2.2 0 1 0 5.4 0a2.7 2.2 0 1 0 -5.4 0M74.9 228.9a2.4 2.2 0 1 0 4.8 0a2.4 2.2 0 1 0 -4.8 0M147.5 355.4a2.4 2 0 1 0 4.9 0a2.4 2 0 1 0 -4.9 0M50.3 329.4a3.3 2.4 0 1 0 6.7 0a3.3 2.4 0 1 0 -6.7 0M159.4 219.9a2.7 2.4 0 1 0 5.3 0a2.7 2.4 0 1 0 -5.3 0M180.4 251.1a3 2.7 0 1 0 6 0a3 2.7 0 1 0 -6 0M175.9 236.7a2.8 2.2 0 1 0 5.6 0a2.8 2.2 0 1 0 -5.6 0M98.5 252.2a2.1 1.9 0 1 0 4.3 0a2.1 1.9 0 1 0 -4.3 0M105.7 309.1a2.2 1.9 0 1 0 4.4 0a2.2 1.9 0 1 0 -4.4 0M177.1 304.1a2.1 1.8 0 1 0 4.1 0a2.1 1.8 0 1 0 -4.1 0M136.7 274.5a2.3 1.9 0 1 0 4.5 0a2.3 1.9 0 1 0 -4.5 0M144.2 249.1a2.6 2.1 0 1 0 5.2 0a2.6 2.1 0 1 0 -5.2 0M110.6 306a2.3 2.1 0 1 0 4.6 0a2.3 2.1 0 1 0 -4.6 0M193.8 290.3a2.9 2.6 0 1 0 5.8 0a2.9 2.6 0 1 0 -5.8 0M71.7 219.5a3.1 2.3 0 1 0 6.1 0a3.1 2.3 0 1 0 -6.1 0M178.2 294.8a2.1 1.8 0 1 0 4.2 0a2.1 1.8 0 1 0 -4.2 0M111.9 216.2a3.2 2.7 0 1 0 6.3 0a3.2 2.7 0 1 0 -6.3 0M167.2 329.4a2.5 2.1 0 1 0 5 0a2.5 2.1 0 1 0 -5 0M110.6 311a3.5 2.8 0 1 0 7 0a3.5 2.8 0 1 0 -7 0M53.6 255.2a2.6 2 0 1 0 5.2 0a2.6 2 0 1 0 -5.2 0M127.4 324.4a3.2 2.4 0 1 0 6.4 0a3.2 2.4 0 1 0 -6.4 0M187.8 288.1a2.5 2 0 1 0 5.1 0a2.5 2 0 1 0 -5.1 0M199.8 283.2a3.2 2.4 0 1 0 6.4 0a3.2 2.4 0 1 0 -6.4 0M146.4 235.1a2.1 1.9 0 1 0 4.2 0a2.1 1.9 0 1 0 -4.2 0M100.8 345.7a2.5 2 0 1 0 5 0a2.5 2 0 1 0 -5 0M71.2 341.9a2.8 2.3 0 1 0 5.6 0a2.8 2.3 0 1 0 -5.6 0M188.1 355.2a3.2 2.4 0 1 0 6.3 0a3.2 2.4 0 1 0 -6.3 0M94.7 340.8a2.4 2.1 0 1 0 4.8 0a2.4 2.1 0 1 0 -4.8 0M134.4 216.7a2 1.9 0 1 0 4.1 0a2 1.9 0 1 0 -4.1 0M150.1 251.7a3.1 2.4 0 1 0 6.1 0a3.1 2.4 0 1 0 -6.1 0M172.9 207.7a2.3 1.9 0 1 0 4.7 0a2.3 1.9 0 1 0 -4.7 0M137.1 231.5a2.6 2.3 0 1 0 5.2 0a2.6 2.3 0 1 0 -5.2 0M148 210.9a2.7 2.6 0 1 0 5.4 0a2.7 2.6 0 1 0 -5.4 0M121.7 267.4a3 2.5 0 1 0 5.9 0a3 2.5 0 1 0 -5.9 0M123.7 355.6a3.4 2.5 0 1 0 6.7 0a3.4 2.5 0 1 0 -6.7 0M136.4 342.1a2.8 2.3 0 1 0 5.5 0a2.8 2.3 0 1 0 -5.5 0M98.8 213.5a3.2 2.6 0 1 0 6.5 0a3.2 2.6 0 1 0 -6.5 0M164.8 251.3a2.6 2.2 0 1 0 5.2 0a2.6 2.2 0 1 0 -5.2 0M127.4 265.2a2.2 1.9 0 1 0 4.4 0a2.2 1.9 0 1 0 -4.4 0M97.6 265a2.2 2.1 0 1 0 4.4 0a2.2 2.1 0 1 0 -4.4 0M151.6 336.2a2.8 2.1 0 1 0 5.5 0a2.8 2.1 0 1 0 -5.5 0M137 341.8a2.3 1.8 0 1 0 4.6 0a2.3 1.8 0 1 0 -4.6 0M195.3 205.3a2.3 2 0 1 0 4.6 0a2.3 2 0 1 0 -4.6 0M186.6 328.5a2.5 2.2 0 1 0 5 0a2.5 2.2 0 1 0 -5 0M55.6 341.1a2.5 2.2 0 1 0 4.9 0a2.5 2.2 0 1 0 -4.9 0M122.4 236.4a2.6 2.2 0 1 0 5.3 0a2.6 2.2 0 1 0 -5.3 0M177.9 258.7a2.5 2.3 0 1 0 5 0a2.5 2.3 0 1 0 -5 0M81.5 300.8a2.5 1.9 0 1 0 4.9 0a2.5 1.9 0 1 0 -4.9 0M160 252.5a3.5 2.7 0 1 0 6.9 0a3.5 2.7 0 1 0 -6.9 0M156.5 347a2.4 2.1 0 1 0 4.9 0a2.4 2.1 0 1 0 -4.9 0M158.9 234.9a2.2 2 0 1 0 4.4 0a2.2 2 0 1 0 -4.4 0M106.6 305.3a3.2 2.5 0 1 0 6.5 0a3.2 2.5 0 1 0 -6.5 0M191.4 306.1a2.5 2 0 1 0 5 0a2.5 2 0 1 0 -5 0M117.7 285.1a2.5 2.3 0 1 0 5 0a2.5 2.3 0 1 0 -5 0M89.3 326.6a2.1 1.9 0 1 0 4.3 0a2.1 1.9 0 1 0 -4.3 0M93.2 288.1a2.5 2.1 0 1 0 4.9 0a2.5 2.1 0 1 0 -4.9 0M120.6 318.7a2.8 2.2 0 1 0 5.5 0a2.8 2.2 0 1 0 -5.5 0M135.1 302.7a2.6 2.2 0 1 0 5.2 0a2.6 2.2 0 1 0 -5.2 0M127.1 333a2.9 2.6 0 1 0 5.9 0a2.9 2.6 0 1 0 -5.9 0M168.9 230.2a2.7 2.3 0 1 0 5.4 0a2.7 2.3 0 1 0 -5.4 0M170.3 324.8a2.4 2 0 1 0 4.8 0a2.4 2 0 1 0 -4.8 0M126.1 210.5a2.9 2.4 0 1 0 5.9 0a2.9 2.4 0 1 0 -5.9 0M78.6 228.2a2.1 1.8 0 1 0 4.2 0a2.1 1.8 0 1 0 -4.2 0M90.9 325.9a2.3 1.9 0 1 0 4.6 0a2.3 1.9 0 1 0 -4.6 0M171.2 241.2a2.2 1.8 0 1 0 4.4 0a2.2 1.8 0 1 0 -4.4 0M145.1 284.6a2.5 2 0 1 0 4.9 0a2.5 2 0 1 0 -4.9 0M77.1 243.7a2.4 2 0 1 0 4.7 0a2.4 2 0 1 0 -4.7 0M60.3 267.3a2.4 2.3 0 1 0 4.8 0a2.4 2.3 0 1 0 -4.8 0M124.6 320.3a3 2.7 0 1 0 6.1 0a3 2.7 0 1 0 -6.1 0M56.4 241.6a2.9 2.6 0 1 0 5.9 0a2.9 2.6 0 1 0 -5.9 0M115.5 216.8a2.3 1.9 0 1 0 4.6 0a2.3 1.9 0 1 0 -4.6 0M85.6 243.5a2.6 2.3 0 1 0 5.3 0a2.6 2.3 0 1 0 -5.3 0M105.2 256.2a3.4 2.5 0 1 0 6.8 0a3.4 2.5 0 1 0 -6.8 0M149.3 214a2.6 2.2 0 1 0 5.2 0a2.6 2.2 0 1 0 -5.2 0M185 275.1a2.7 2.1 0 1 0 5.5 0a2.7 2.1 0 1 0 -5.5 0M83.7 257.7a2.3 1.9 0 1 0 4.7 0a2.3 1.9 0 1 0 -4.7 0M83.5 275.9a2.5 2.2 0 1 0 4.9 0a2.5 2.2 0 1 0 -4.9 0M181.8 236.1a2.4 2.2 0 1 0 4.7 0a2.4 2.2 0 1 0 -4.7 0M92.8 208a2.2 1.9 0 1 0 4.5 0a2.2 1.9 0 1 0 -4.5 0M159.4 245.8a2.4 2.2 0 1 0 4.8 0a2.4 2.2 0 1 0 -4.8 0M166.6 314.6a2.9 2.6 0 1 0 5.7 0a2.9 2.6 0 1 0 -5.7 0M63.4 338.6a2.6 2.1 0 1 0 5.2 0a2.6 2.1 0 1 0 -5.2 0M111.1 241.2a2 1.9 0 1 0 4.1 0a2 1.9 0 1 0 -4.1 0M98.2 269.3a2.6 2.4 0 1 0 5.1 0a2.6 2.4 0 1 0 -5.1 0M161.2 305.9a2.2 1.9 0 1 0 4.3 0a2.2 1.9 0 1 0 -4.3 0M111.9 263.6a3 2.5 0 1 0 5.9 0a3 2.5 0 1 0 -5.9 0M83.9 211.4a2.2 1.8 0 1 0 4.3 0a2.2 1.8 0 1 0 -4.3 0M198.1 250.3a3.2 2.3 0 1 0 6.3 0a3.2 2.3 0 1 0 -6.3 0M151.5 349.6a3 2.7 0 1 0 6 0a3 2.7 0 1 0 -6 0M116.1 264.5a2.1 1.8 0 1 0 4.3 0a2.1 1.8 0 1 0 -4.3 0M93.2 229.2a2.6 2.1 0 1 0 5.2 0a2.6 2.1 0 1 0 -5.2 0M87.3 219.3a2.5 2 0 1 0 5 0a2.5 2 0 1 0 -5 0M157.1 288.8a2.7 2.4 0 1 0 5.3 0a2.7 2.4 0 1 0 -5.3 0M60.8 266.3a2.2 1.9 0 1 0 4.3 0a2.2 1.9 0 1 0 -4.3 0M100.7 243.5a2.1 1.9 0 1 0 4.2 0a2.1 1.9 0 1 0 -4.2 0M90.8 306.2a2.3 2 0 1 0 4.6 0a2.3 2 0 1 0 -4.6 0M104.9 292.3a3.4 2.7 0 1 0 6.9 0a3.4 2.7 0 1 0 -6.9 0M113.1 268a2.6 2.1 0 1 0 5.1 0a2.6 2.1 0 1 0 -5.1 0M189 211a2.3 1.9 0 1 0 4.5 0a2.3 1.9 0 1 0 -4.5 0M199.3 227.9a2.2 2 0 1 0 4.5 0a2.2 2 0 1 0 -4.5 0M51.1 287.4a2.5 2.2 0 1 0 4.9 0a2.5 2.2 0 1 0 -4.9 0M133.5 299.6a3 2.5 0 1 0 5.9 0a3 2.5 0 1 0 -5.9 0M103.4 339.2a2.6 2.1 0 1 0 5.1 0a2.6 2.1 0 1 0 -5.1 0M197.2 329.8a2.3 1.9 0 1 0 4.7 0a2.3 1.9 0 1 0 -4.7 0M106.4 248.4a3 2.4 0 1 0 6.1 0a3 2.4 0 1 0 -6.1 0M100.1 232.1a2.5 2.1 0 1 0 5.1 0a2.5 2.1 0 1 0 -5.1 0M66.7 311.8a2.2 2 0 1 0 4.4 0a2.2 2 0 1 0 -4.4 0M75.2 336.2a2.9 2.5 0 1 0 5.7 0a2.9 2.5 0 1 0 -5.7 0M171.3 264.5a2.8 2.5 0 1 0 5.6 0a2.8 2.5 0 1 0 -5.6 0M100.7 320a3.3 2.6 0 1 0 6.7 0a3.3 2.6 0 1 0 -6.7 0M157.3 299.4a3.3 2.4 0 1 0 6.6 0a3.3 2.4 0 1 0 -6.6 0M152.7 240.1a2.1 2 0 1 0 4.3 0a2.1 2 0 1 0 -4.3 0M197.6 225.4a2.9 2.5 0 1 0 5.8 0a2.9 2.5 0 1 0 -5.8 0M192.7 354.7a2.2 1.8 0 1 0 4.4 0a2.2 1.8 0 1 0 -4.4 0M93.7 315.8a3 2.7 0 1 0 6.1 0a3 2.7 0 1 0 -6.1 0M133.2 278.2a2.5 2.2 0 1 0 4.9 0a2.5 2.2 0 1 0 -4.9 0M93.4 264.4a3 2.5 0 1 0 6 0a3 2.5 0 1 0 -6 0M155.8 287.7a2.8 2.4 0 1 0 5.7 0a2.8 2.4 0 1 0 -5.7 0M192.4 243.2a2.5 2.2 0 1 0 5 0a2.5 2.2 0 1 0 -5 0M136.5 226.9a2.7 2.3 0 1 0 5.5 0a2.7 2.3 0 1 0 -5.5 0M106.8 244.4a2 1.9 0 1 0 4 0a2 1.9 0 1 0 -4 0M62.3 232.8a2.9 2.2 0 1 0 5.9 0a2.9 2.2 0 1 0 -5.9 0M123.8 267.9a3 2.4 0 1 0 6 0a3 2.4 0 1 0 -6 0M150.4 299.4a2.6 2.1 0 1 0 5.2 0a2.6 2.1 0 1 0 -5.2 0M117.8 331.3a2.8 2.3 0 1 0 5.6 0a2.8 2.3 0 1 0 -5.6 0M68.8 216.5a2.7 2.1 0 1 0 5.3 0a2.7 2.1 0 1 0 -5.3 0M52.1 237a2.9 2.7 0 1 0 5.8 0a2.9 2.7 0 1 0 -5.8 0M170.8 316.4a2.7 2.3 0 1 0 5.5 0a2.7 2.3 0 1 0 -5.5 0M199.7 220.4a3.2 2.8 0 1 0 6.4 0a3.2 2.8 0 1 0 -6.4 0M188.6 208.8a2.7 2.3 0 1 0 5.3 0a2.7 2.3 0 1 0 -5.3 0M150.4 327.8a2.6 2.1 0 1 0 5.2 0a2.6 2.1 0 1 0 -5.2 0M188.5 253.8a2.2 1.9 0 1 0 4.3 0a2.2 1.9 0 1 0 -4.3 0M163.3 287.8a2.7 2.3 0 1 0 5.5 0a2.7 2.3 0 1 0 -5.5 0M104.4 270.3a2.1 1.8 0 1 0 4.2 0a2.1 1.8 0 1 0 -4.2 0M132.3 349.2a2.5 2 0 1 0 5 0a2.5 2 0 1 0 -5 0M67 354.5a2.8 2.1 0 1 0 5.7 0a2.8 2.1 0 1 0 -5.7 0M157.9 232.1a2.5 2.2 0 1 0 5 0a2.5 2.2 0 1 0 -5 0M78.2 259.2a3 2.8 0 1 0 6.1 0a3 2.8 0 1 0 -6.1 0M147.9 237.3a3.1 2.5 0 1 0 6.1 0a3.1 2.5 0 1 0 -6.1 0M127.6 291a2.4 1.9 0 1 0 4.7 0a2.4 1.9 0 1 0 -4.7 0M151.8 268.6a2.4 2.2 0 1 0 4.9 0a2.4 2.2 0 1 0 -4.9 0M128.7 210.1a2.8 2.4 0 1 0 5.7 0a2.8 2.4 0 1 0 -5.7 0M191.7 228.2a2.9 2.3 0 1 0 5.8 0a2.9 2.3 0 1 0 -5.8 0M162.3 354.8a2.8 2.1 0 1 0 5.5 0a2.8 2.1 0 1 0 -5.5 0M124.6 240.6a3.2 2.7 0 1 0 6.5 0a3.2 2.7 0 1 0 -6.5 0M171.3 282.6a3 2.9 0 1 0 6 0a3 2.9 0 1 0 -6 0M88.7 327.2a2.7 2.3 0 1 0 5.3 0a2.7 2.3 0 1 0 -5.3 0M93.6 302.5a2.2 1.9 0 1 0 4.4 0a2.2 1.9 0 1 0 -4.4 0M86.7 326.2a3.3 2.6 0 1 0 6.7 0a3.3 2.6 0 1 0 -6.7 0M171.8 228.1a2.4 2 0 1 0 4.7 0a2.4 2 0 1 0 -4.7 0M182.4 331.3a2.1 1.9 0 1 0 4.3 0a2.1 1.9 0 1 0 -4.3 0M144.6 341.6a2.3 1.8 0 1 0 4.7 0a2.3 1.8 0 1 0 -4.7 0M183.9 315.2a2.4 2 0 1 0 4.8 0a2.4 2 0 1 0 -4.8 0M102.1 252.9a2.7 2.4 0 1 0 5.5 0a2.7 2.4 0 1 0 -5.5 0M77.9 224.6a2.9 2.3 0 1 0 5.9 0a2.9 2.3 0 1 0 -5.9 0M193.7 297.4a2.4 2.3 0 1 0 4.8 0a2.4 2.3 0 1 0 -4.8 0M162.6 259.7a2.4 2 0 1 0 4.9 0a2.4 2 0 1 0 -4.9 0M115.2 329.2a2.6 2.2 0 1 0 5.2 0a2.6 2.2 0 1 0 -5.2 0M103.5 311.6a2.4 2 0 1 0 4.8 0a2.4 2 0 1 0 -4.8 0M93.9 334.4a2.9 2.6 0 1 0 5.8 0a2.9 2.6 0 1 0 -5.8 0M163.7 296.1a2.4 2.2 0 1 0 4.9 0a2.4 2.2 0 1 0 -4.9 0M117.7 349.5a2.5 2.1 0 1 0 5.1 0a2.5 2.1 0 1 0 -5.1 0M112.8 225.2a3 2.6 0 1 0 6 0a3 2.6 0 1 0 -6 0M174.9 333.8a2.8 2.2 0 1 0 5.7 0a2.8 2.2 0 1 0 -5.7 0M64.1 260.2a2.7 2.2 0 1 0 5.3 0a2.7 2.2 0 1 0 -5.3 0M187.4 348.8a2.2 1.8 0 1 0 4.3 0a2.2 1.8 0 1 0 -4.3 0M120.9 253a3 2.6 0 1 0 6 0a3 2.6 0 1 0 -6 0M200.7 264.9a3.2 2.6 0 1 0 6.4 0a3.2 2.6 0 1 0 -6.4 0M60.8 275.1a2.7 2.1 0 1 0 5.3 0a2.7 2.1 0 1 0 -5.3 0M82.9 261.1a2.2 2 0 1 0 4.5 0a2.2 2 0 1 0 -4.5 0M75.7 303.3a3 2.3 0 1 0 6 0a3 2.3 0 1 0 -6 0M162 322.5a2.2 1.8 0 1 0 4.5 0a2.2 1.8 0 1 0 -4.5 0M194.5 340.6a2.1 1.8 0 1 0 4.2 0a2.1 1.8 0 1 0 -4.2 0M67.8 324.5a2.5 2 0 1 0 4.9 0a2.5 2 0 1 0 -4.9 0M70.4 218.6a2.6 2.4 0 1 0 5.2 0a2.6 2.4 0 1 0 -5.2 0M113.8 213.4a2.3 2 0 1 0 4.7 0a2.3 2 0 1 0 -4.7 0M179.5 221a2.9 2.8 0 1 0 5.8 0a2.9 2.8 0 1 0 -5.8 0M111.5 297.8a3.5 2.6 0 1 0 6.9 0a3.5 2.6 0 1 0 -6.9 0M73.6 328.9a3.1 2.4 0 1 0 6.3 0a3.1 2.4 0 1 0 -6.3 0M55.1 221.9a2.7 2.1 0 1 0 5.3 0a2.7 2.1 0 1 0 -5.3 0M58.3 268.1a2.1 1.8 0 1 0 4.2 0a2.1 1.8 0 1 0 -4.2 0M100.1 279.1a3.1 2.6 0 1 0 6.2 0a3.1 2.6 0 1 0 -6.2 0M126.9 341.9a2.5 2.2 0 1 0 5 0a2.5 2.2 0 1 0 -5 0M106.6 270.1a2.6 2.2 0 1 0 5.2 0a2.6 2.2 0 1 0 -5.2 0M58.7 331.6a2.2 1.9 0 1 0 4.4 0a2.2 1.9 0 1 0 -4.4 0M84.7 220.2a2.5 2.1 0 1 0 4.9 0a2.5 2.1 0 1 0 -4.9 0M164.9 278.9a2.1 1.9 0 1 0 4.2 0a2.1 1.9 0 1 0 -4.2 0M140.8 350.5a2.6 2.1 0 1 0 5.2 0a2.6 2.1 0 1 0 -5.2 0M143.3 294.3a2.5 2.1 0 1 0 5 0a2.5 2.1 0 1 0 -5 0M59.1 219.2a2.3 2.1 0 1 0 4.6 0a2.3 2.1 0 1 0 -4.6 0M181.3 266a2.5 2 0 1 0 5 0a2.5 2 0 1 0 -5 0M176.8 254.8a2.6 2.2 0 1 0 5.2 0a2.6 2.2 0 1 0 -5.2 0M59.8 320.7a2.2 1.9 0 1 0 4.4 0a2.2 1.9 0 1 0 -4.4 0M146.8 208.6a3.4 2.7 0 1 0 6.8 0a3.4 2.7 0 1 0 -6.8 0M161.9 268.5a3.2 2.6 0 1 0 6.4 0a3.2 2.6 0 1 0 -6.4 0M168.9 271.8a2.9 2.5 0 1 0 5.9 0a2.9 2.5 0 1 0 -5.9 0M68.6 253.6a2.7 2.3 0 1 0 5.5 0a2.7 2.3 0 1 0 -5.5 0M152.3 288.1a2.1 1.9 0 1 0 4.2 0a2.1 1.9 0 1 0 -4.2 0M136 344.6a2.3 2 0 1 0 4.6 0a2.3 2 0 1 0 -4.6 0M69.7 337.3a2.4 2.2 0 1 0 4.9 0a2.4 2.2 0 1 0 -4.9 0M152.8 345.5a2.8 2.2 0 1 0 5.6 0a2.8 2.2 0 1 0 -5.6 0M67 317.4a2.3 1.9 0 1 0 4.7 0a2.3 1.9 0 1 0 -4.7 0M75.4 258.1a2.8 2.3 0 1 0 5.7 0a2.8 2.3 0 1 0 -5.7 0M178.3 259.4a2.8 2.5 0 1 0 5.6 0a2.8 2.5 0 1 0 -5.6 0M156.6 240.5a2.5 2.1 0 1 0 5 0a2.5 2.1 0 1 0 -5 0M60.5 329.9a2.7 2.1 0 1 0 5.3 0a2.7 2.1 0 1 0 -5.3 0M135 352.7a3.2 2.6 0 1 0 6.4 0a3.2 2.6 0 1 0 -6.4 0M165 220.7a2.6 2 0 1 0 5.2 0a2.6 2 0 1 0 -5.2 0M137.2 288.6a2.4 2.2 0 1 0 4.7 0a2.4 2.2 0 1 0 -4.7 0M172.7 220a2.9 2.4 0 1 0 5.8 0a2.9 2.4 0 1 0 -5.8 0M142.8 223.5a3.1 2.7 0 1 0 6.2 0a3.1 2.7 0 1 0 -6.2 0M154.5 260.2a3.4 2.6 0 1 0 6.8 0a3.4 2.6 0 1 0 -6.8 0M161.4 245.2a2.2 2 0 1 0 4.4 0a2.2 2 0 1 0 -4.4 0M95.6 243.4a2.3 1.9 0 1 0 4.5 0a2.3 1.9 0 1 0 -4.5 0M92.5 282.2a2.9 2.7 0 1 0 5.9 0a2.9 2.7 0 1 0 -5.9 0M142.8 287.4a3 2.5 0 1 0 6 0a3 2.5 0 1 0 -6 0M168.6 244.5a2.3 1.8 0 1 0 4.6 0a2.3 1.8 0 1 0 -4.6 0M86.1 273.7a2.7 2.3 0 1 0 5.3 0a2.7 2.3 0 1 0 -5.3 0M136.6 257.9a2.6 1.9 0 1 0 5.1 0a2.6 1.9 0 1 0 -5.1 0M150.1 216.1a2.9 2.7 0 1 0 5.8 0a2.9 2.7 0 1 0 -5.8 0M200.4 252a2.9 2.7 0 1 0 5.7 0a2.9 2.7 0 1 0 -5.7 0M54.5 291.5a3.4 2.9 0 1 0 6.9 0a3.4 2.9 0 1 0 -6.9 0M129.8 216.9a2.6 2.3 0 1 0 5.1 0a2.6 2.3 0 1 0 -5.1 0M126.1 235.1a2.9 2.4 0 1 0 5.8 0a2.9 2.4 0 1 0 -5.8 0M123.9 289.5a3.3 2.6 0 1 0 6.7 0a3.3 2.6 0 1 0 -6.7 0M100.7 311.4a3.6 2.8 0 1 0 7.2 0a3.6 2.8 0 1 0 -7.2 0M181.5 346.6a2.1 1.8 0 1 0 4.2 0a2.1 1.8 0 1 0 -4.2 0M143.3 297.9a2.9 2.7 0 1 0 5.9 0a2.9 2.7 0 1 0 -5.9 0M54.8 222.1a3.5 2.4 0 1 0 6.9 0a3.5 2.4 0 1 0 -6.9 0M176.4 309.3a2.8 2.4 0 1 0 5.6 0a2.8 2.4 0 1 0 -5.6 0M50.1 215.5a3.4 2.7 0 1 0 6.8 0a3.4 2.7 0 1 0 -6.8 0M102.1 257.6a2.2 1.8 0 1 0 4.4 0a2.2 1.8 0 1 0 -4.4 0M130.3 255.9a2.9 2.3 0 1 0 5.8 0a2.9 2.3 0 1 0 -5.8 0M77.6 227.9a2.4 2.1 0 1 0 4.8 0a2.4 2.1 0 1 0 -4.8 0M87.1 304.1a2.4 2 0 1 0 4.8 0a2.4 2 0 1 0 -4.8 0M79 240.3a2.4 2.1 0 1 0 4.8 0a2.4 2.1 0 1 0 -4.8 0M170.9 286.9a2.3 1.8 0 1 0 4.6 0a2.3 1.8 0 1 0 -4.6 0M113.7 354.9a2.5 2.2 0 1 0 5 0a2.5 2.2 0 1 0 -5 0M108.8 225.7a3.2 2.5 0 1 0 6.5 0a3.2 2.5 0 1 0 -6.5 0M108 248.6a3 2.3 0 1 0 5.9 0a3 2.3 0 1 0 -5.9 0M53.1 280.6a2.4 2.3 0 1 0 4.7 0a2.4 2.3 0 1 0 -4.7 0M81 338a3.6 2.6 0 1 0 7.2 0a3.6 2.6 0 1 0 -7.2 0M71.9 313.2a3 2.5 0 1 0 6.1 0a3 2.5 0 1 0 -6.1 0M184 315a3.2 2.6 0 1 0 6.5 0a3.2 2.6 0 1 0 -6.5 0M92.7 347.2a2.1 1.8 0 1 0 4.2 0a2.1 1.8 0 1 0 -4.2 0M97.7 232.8a2.3 1.9 0 1 0 4.5 0a2.3 1.9 0 1 0 -4.5 0M166 284.8a3 2.6 0 1 0 5.9 0a3 2.6 0 1 0 -5.9 0M97.1 320.2a3.2 2.5 0 1 0 6.5 0a3.2 2.5 0 1 0 -6.5 0M136.2 249.7a3.4 2.5 0 1 0 6.7 0a3.4 2.5 0 1 0 -6.7 0M179.2 275.5a2.5 2.1 0 1 0 5 0a2.5 2.1 0 1 0 -5 0M167 265.8a2.1 1.8 0 1 0 4.1 0a2.1 1.8 0 1 0 -4.1 0M83 208.2a2.5 2 0 1 0 5 0a2.5 2 0 1 0 -5 0M121.9 232.8a2.1 1.7 0 1 0 4.1 0a2.1 1.7 0 1 0 -4.1 0M144.5 261a2.7 2.2 0 1 0 5.5 0a2.7 2.2 0 1 0 -5.5 0M184.8 293a2.6 2.2 0 1 0 5.3 0a2.6 2.2 0 1 0 -5.3 0M188.4 240.5a3.5 2.8 0 1 0 7 0a3.5 2.8 0 1 0 -7 0M128.2 354.1a2.3 2.1 0 1 0 4.6 0a2.3 2.1 0 1 0 -4.6 0M138.8 229a3.1 2.5 0 1 0 6.2 0a3.1 2.5 0 1 0 -6.2 0M103.1 289.8a2.9 2.3 0 1 0 5.8 0a2.9 2.3 0 1 0 -5.8 0M51.2 280.3a2.5 2.1 0 1 0 4.9 0a2.5 2.1 0 1 0 -4.9 0M64.3 280.4a2.8 2.4 0 1 0 5.5 0a2.8 2.4 0 1 0 -5.5 0M117.6 218a2.9 2.7 0 1 0 5.8 0a2.9 2.7 0 1 0 -5.8 0M89.3 341.7a2.7 2.3 0 1 0 5.4 0a2.7 2.3 0 1 0 -5.4 0M125.1 278.1a2.6 2.1 0 1 0 5.2 0a2.6 2.1 0 1 0 -5.2 0M79.9 237.7a3.3 2.8 0 1 0 6.6 0a3.3 2.8 0 1 0 -6.6 0M154.1 325.8a3.2 2.6 0 1 0 6.3 0a3.2 2.6 0 1 0 -6.3 0M174.3 251.1a2.6 1.9 0 1 0 5.1 0a2.6 1.9 0 1 0 -5.1 0M102.3 324.9a3.1 2.5 0 1 0 6.2 0a3.1 2.5 0 1 0 -6.2 0M60.8 306.1a2.4 2 0 1 0 4.8 0a2.4 2 0 1 0 -4.8 0M78.3 310.2a3.3 2.5 0 1 0 6.7 0a3.3 2.5 0 1 0 -6.7 0M160.2 214.1a3.3 2.7 0 1 0 6.7 0a3.3 2.7 0 1 0 -6.7 0M136.8 347.8a2.9 2.4 0 1 0 5.7 0a2.9 2.4 0 1 0 -5.7 0M54 229.5a2.9 2.6 0 1 0 5.8 0a2.9 2.6 0 1 0 -5.8 0M156.3 283.2a2.4 2 0 1 0 4.8 0a2.4 2 0 1 0 -4.8 0M154.8 347.7a2.7 2.2 0 1 0 5.4 0a2.7 2.2 0 1 0 -5.4 0M194.3 298.8a3.5 2.6 0 1 0 6.9 0a3.5 2.6 0 1 0 -6.9 0M130.4 279a2.3 1.8 0 1 0 4.5 0a2.3 1.8 0 1 0 -4.5 0M163.9 243a2.4 1.9 0 1 0 4.7 0a2.4 1.9 0 1 0 -4.7 0M61.5 213.1a2.5 2.2 0 1 0 5.1 0a2.5 2.2 0 1 0 -5.1 0M113.8 266.7a2.4 2.1 0 1 0 4.7 0a2.4 2.1 0 1 0 -4.7 0M116 308.9a3.1 2.6 0 1 0 6.1 0a3.1 2.6 0 1 0 -6.1 0M187.2 243.2a3 2.3 0 1 0 6.1 0a3 2.3 0 1 0 -6.1 0M167.2 213.8a2.3 1.9 0 1 0 4.6 0a2.3 1.9 0 1 0 -4.6 0M160.5 253.5a3.1 2.6 0 1 0 6.3 0a3.1 2.6 0 1 0 -6.3 0M116.1 221.3a2.9 2.3 0 1 0 5.8 0a2.9 2.3 0 1 0 -5.8 0M61.3 245.9a2.9 2.3 0 1 0 5.8 0a2.9 2.3 0 1 0 -5.8 0M137.6 317.7a2.7 2.2 0 1 0 5.3 0a2.7 2.2 0 1 0 -5.3 0M58.3 312.6a2.1 1.9 0 1 0 4.2 0a2.1 1.9 0 1 0 -4.2 0M62 264.3a2.5 2.4 0 1 0 4.9 0a2.5 2.4 0 1 0 -4.9 0M124.5 294.1a2.7 2 0 1 0 5.4 0a2.7 2 0 1 0 -5.4 0M84.2 336.1a2.7 2.2 0 1 0 5.3 0a2.7 2.2 0 1 0 -5.3 0M89.5 324.8a2.9 2.4 0 1 0 5.9 0a2.9 2.4 0 1 0 -5.9 0M119.3 252.9a2.8 2.3 0 1 0 5.6 0a2.8 2.3 0 1 0 -5.6 0M119.3 276.8a3.1 2.6 0 1 0 6.3 0a3.1 2.6 0 1 0 -6.3 0M198.8 324a2.7 2.2 0 1 0 5.3 0a2.7 2.2 0 1 0 -5.3 0M160.2 348.8a3 2.4 0 1 0 6 0a3 2.4 0 1 0 -6 0M84.6 321.7a3 2.3 0 1 0 6 0a3 2.3 0 1 0 -6 0M53.1 268.1a2.9 2.6 0 1 0 5.8 0a2.9 2.6 0 1 0 -5.8 0M111.3 355.4a2.5 1.9 0 1 0 5 0a2.5 1.9 0 1 0 -5 0M175.3 331.8a2.6 2.2 0 1 0 5.2 0a2.6 2.2 0 1 0 -5.2 0M164.1 292.7a2.5 2 0 1 0 5 0a2.5 2 0 1 0 -5 0M200.1 225.8a2.9 2.6 0 1 0 5.9 0a2.9 2.6 0 1 0 -5.9 0M92.3 291a2.7 2.2 0 1 0 5.5 0a2.7 2.2 0 1 0 -5.5 0M186.3 305.5a2.6 2 0 1 0 5.2 0a2.6 2 0 1 0 -5.2 0M142.2 274.8a3 2.3 0 1 0 6 0a3 2.3 0 1 0 -6 0M104.7 319.9a2.1 1.9 0 1 0 4.2 0a2.1 1.9 0 1 0 -4.2 0M176.6 262.7a2.4 2.1 0 1 0 4.7 0a2.4 2.1 0 1 0 -4.7 0M108 304.6a2.2 2 0 1 0 4.4 0a2.2 2 0 1 0 -4.4 0M89.2 232.1a2.1 2 0 1 0 4.2 0a2.1 2 0 1 0 -4.2 0M90.8 279.2a2.7 2.6 0 1 0 5.3 0a2.7 2.6 0 1 0 -5.3 0M82.6 311.6a2.9 2.6 0 1 0 5.7 0a2.9 2.6 0 1 0 -5.7 0M122.5 252.6a2.8 2.2 0 1 0 5.6 0a2.8 2.2 0 1 0 -5.6 0M200.6 239a2.4 1.9 0 1 0 4.8 0a2.4 1.9 0 1 0 -4.8 0M102.3 271.7a2.8 2.3 0 1 0 5.6 0a2.8 2.3 0 1 0 -5.6 0M76.6 258.9a2.8 2.6 0 1 0 5.6 0a2.8 2.6 0 1 0 -5.6 0M85.3 260.3a2.5 1.9 0 1 0 4.9 0a2.5 1.9 0 1 0 -4.9 0M60.1 332.4a2.8 2.2 0 1 0 5.6 0a2.8 2.2 0 1 0 -5.6 0M103.9 354.1a3 2.2 0 1 0 6.1 0a3 2.2 0 1 0 -6.1 0M54.3 310.6a2.2 2 0 1 0 4.5 0a2.2 2 0 1 0 -4.5 0M99.8 275.9a2.5 2 0 1 0 5 0a2.5 2 0 1 0 -5 0M88.9 249.4a2.2 2 0 1 0 4.4 0a2.2 2 0 1 0 -4.4 0M91 222.3a3.1 2.6 0 1 0 6.2 0a3.1 2.6 0 1 0 -6.2 0M184.9 319.2a3 2.4 0 1 0 5.9 0a3 2.4 0 1 0 -5.9 0M113.3 264.2a2.7 2.3 0 1 0 5.4 0a2.7 2.3 0 1 0 -5.4 0M170.8 340.2a2.2 2 0 1 0 4.4 0a2.2 2 0 1 0 -4.4 0M171.8 299a2.3 2.2 0 1 0 4.6 0a2.3 2.2 0 1 0 -4.6 0M154.1 309.8a3 2.5 0 1 0 6 0a3 2.5 0 1 0 -6 0M183.4 355.1a3.5 2.5 0 1 0 6.9 0a3.5 2.5 0 1 0 -6.9 0M198 287.4a2.6 2.4 0 1 0 5.3 0a2.6 2.4 0 1 0 -5.3 0M200.6 216.6a3 2.6 0 1 0 5.9 0a3 2.6 0 1 0 -5.9 0M147.3 221.9a3 2.3 0 1 0 6 0a3 2.3 0 1 0 -6 0M140.8 293.3a2.3 2 0 1 0 4.6 0a2.3 2 0 1 0 -4.6 0M83.6 272.8a2.7 2.3 0 1 0 5.3 0a2.7 2.3 0 1 0 -5.3 0M53.4 238.5a2.7 2.3 0 1 0 5.5 0a2.7 2.3 0 1 0 -5.5 0M101.5 350a2.6 2.4 0 1 0 5.1 0a2.6 2.4 0 1 0 -5.1 0M174.1 314.7a2.7 2.3 0 1 0 5.5 0a2.7 2.3 0 1 0 -5.5 0M72.7 235.7a2 1.8 0 1 0 4.1 0a2 1.8 0 1 0 -4.1 0M99.2 244.4a2.9 2.6 0 1 0 5.8 0a2.9 2.6 0 1 0 -5.8 0M192.5 211.8a2.7 2.4 0 1 0 5.4 0a2.7 2.4 0 1 0 -5.4 0M158.8 233.2a2.9 2.2 0 1 0 5.9 0a2.9 2.2 0 1 0 -5.9 0M190.4 307.2a2.1 1.8 0 1 0 4.2 0a2.1 1.8 0 1 0 -4.2 0M178 311.1a3.4 2.8 0 1 0 6.8 0a3.4 2.8 0 1 0 -6.8 0M160 279.8a2.2 1.8 0 1 0 4.3 0a2.2 1.8 0 1 0 -4.3 0M57.6 209.4a3.2 2.6 0 1 0 6.4 0a3.2 2.6 0 1 0 -6.4 0M140.9 343.5a2.3 2 0 1 0 4.6 0a2.3 2 0 1 0 -4.6 0M136.7 241.3a2.4 1.9 0 1 0 4.8 0a2.4 1.9 0 1 0 -4.8 0M55.6 233.9a2.8 2.3 0 1 0 5.7 0a2.8 2.3 0 1 0 -5.7 0M166.5 314.4a2.3 1.8 0 1 0 4.5 0a2.3 1.8 0 1 0 -4.5 0M56 209.5a3.1 2.5 0 1 0 6.2 0a3.1 2.5 0 1 0 -6.2 0M178.8 296.2a2.9 2.5 0 1 0 5.8 0a2.9 2.5 0 1 0 -5.8 0M80 222.2a2.4 1.9 0 1 0 4.8 0a2.4 1.9 0 1 0 -4.8 0M132.3 262a2.3 1.9 0 1 0 4.6 0a2.3 1.9 0 1 0 -4.6 0M122.6 211.2a2.7 2.3 0 1 0 5.4 0a2.7 2.3 0 1 0 -5.4 0M185.4 294a2.6 2.3 0 1 0 5.2 0a2.6 2.3 0 1 0 -5.2 0M108.9 312.3a2.6 2.2 0 1 0 5.3 0a2.6 2.2 0 1 0 -5.3 0M93.3 249.5a3.2 2.6 0 1 0 6.4 0a3.2 2.6 0 1 0 -6.4 0M78.2 264.7a3.3 2.4 0 1 0 6.6 0a3.3 2.4 0 1 0 -6.6 0M163.1 336.1a2.6 2.3 0 1 0 5.2 0a2.6 2.3 0 1 0 -5.2 0M137.3 339.8a3.6 2.8 0 1 0 7.1 0a3.6 2.8 0 1 0 -7.1 0M72.6 266.2a2.6 2.4 0 1 0 5.2 0a2.6 2.4 0 1 0 -5.2 0M146.2 247.5a2.5 2 0 1 0 5.1 0a2.5 2 0 1 0 -5.1 0M181 354.4a2.4 2.1 0 1 0 4.7 0a2.4 2.1 0 1 0 -4.7 0M179.4 235.2a2.7 2.2 0 1 0 5.4 0a2.7 2.2 0 1 0 -5.4 0M51.1 254.8a2.6 2.1 0 1 0 5.3 0a2.6 2.1 0 1 0 -5.3 0M159.1 240.3a2.8 2.3 0 1 0 5.6 0a2.8 2.3 0 1 0 -5.6 0M114.7 253.2a2.5 2.2 0 1 0 5 0a2.5 2.2 0 1 0 -5 0M154 228.2a3.4 2.4 0 1 0 6.7 0a3.4 2.4 0 1 0 -6.7 0M75.5 210.5a2.5 2.2 0 1 0 4.9 0a2.5 2.2 0 1 0 -4.9 0M153.6 351.6a2 1.8 0 1 0 4.1 0a2 1.8 0 1 0 -4.1 0M175.4 308.6a3 2.3 0 1 0 5.9 0a3 2.3 0 1 0 -5.9 0M148.5 209.1a2.2 1.9 0 1 0 4.4 0a2.2 1.9 0 1 0 -4.4 0M131 224.6a3 2.3 0 1 0 6 0a3 2.3 0 1 0 -6 0M151.9 315.4a3.2 2.7 0 1 0 6.4 0a3.2 2.7 0 1 0 -6.4 0M153.5 352.6a2.6 2.1 0 1 0 5.1 0a2.6 2.1 0 1 0 -5.1 0M52.6 277.2a2.5 2 0 1 0 4.9 0a2.5 2 0 1 0 -4.9 0M59.4 225.1a2.9 2.5 0 1 0 5.9 0a2.9 2.5 0 1 0 -5.9 0M94.5 274.1a2.9 2.2 0 1 0 5.7 0a2.9 2.2 0 1 0 -5.7 0M124.2 265.4a2.6 2.4 0 1 0 5.2 0a2.6 2.4 0 1 0 -5.2 0M111.3 217.2a2.7 2.3 0 1 0 5.4 0a2.7 2.3 0 1 0 -5.4 0M142.1 320.7a2.5 2.2 0 1 0 5.1 0a2.5 2.2 0 1 0 -5.1 0M82.6 206.9a3.2 2.5 0 1 0 6.3 0a3.2 2.5 0 1 0 -6.3 0M186.2 318.5a2.2 1.8 0 1 0 4.5 0a2.2 1.8 0 1 0 -4.5 0M142 212.9a3.1 2.5 0 1 0 6.2 0a3.1 2.5 0 1 0 -6.2 0M67.1 210.8a2.9 2.5 0 1 0 5.8 0a2.9 2.5 0 1 0 -5.8 0M81.9 212a2.8 2.3 0 1 0 5.6 0a2.8 2.3 0 1 0 -5.6 0M82.7 302.5a2.3 2 0 1 0 4.6 0a2.3 2 0 1 0 -4.6 0M98.6 314.7a3.4 2.5 0 1 0 6.8 0a3.4 2.5 0 1 0 -6.8 0M71.1 287.8a3.5 2.6 0 1 0 7 0a3.5 2.6 0 1 0 -7 0M98.4 230.7a3.2 2.4 0 1 0 6.3 0a3.2 2.4 0 1 0 -6.3 0M156.5 315.2a2.5 2.1 0 1 0 4.9 0a2.5 2.1 0 1 0 -4.9 0M175.9 280.2a2.8 2.4 0 1 0 5.6 0a2.8 2.4 0 1 0 -5.6 0M198.8 296.8a2.3 1.9 0 1 0 4.6 0a2.3 1.9 0 1 0 -4.6 0M166.6 297.2a3.5 2.6 0 1 0 7 0a3.5 2.6 0 1 0 -7 0M107.5 267.3a2.6 2.1 0 1 0 5.2 0a2.6 2.1 0 1 0 -5.2 0M178.6 326.1a3.1 2.4 0 1 0 6.3 0a3.1 2.4 0 1 0 -6.3 0M89.2 252.9a2.3 2 0 1 0 4.6 0a2.3 2 0 1 0 -4.6 0M108.4 222.9a2.3 2 0 1 0 4.6 0a2.3 2 0 1 0 -4.6 0M89.5 320a2.5 2 0 1 0 5 0a2.5 2 0 1 0 -5 0M81.5 249.2a2.5 2.3 0 1 0 5 0a2.5 2.3 0 1 0 -5 0M147.9 326.5a2.4 2 0 1 0 4.7 0a2.4 2 0 1 0 -4.7 0M171.4 296.4a2.1 1.8 0 1 0 4.2 0a2.1 1.8 0 1 0 -4.2 0M55.9 268.9a2.7 2.1 0 1 0 5.5 0a2.7 2.1 0 1 0 -5.5 0M182.6 292a2.4 1.8 0 1 0 4.7 0a2.4 1.8 0 1 0 -4.7 0M65.7 219.2a2.4 2.3 0 1 0 4.9 0a2.4 2.3 0 1 0 -4.9 0M186.3 349.8a3.1 2.5 0 1 0 6.2 0a3.1 2.5 0 1 0 -6.2 0M152.2 229.1a2.7 2.3 0 1 0 5.4 0a2.7 2.3 0 1 0 -5.4 0M154.6 291.3a3.3 2.4 0 1 0 6.5 0a3.3 2.4 0 1 0 -6.5 0M57.4 229.5a3.1 2.7 0 1 0 6.3 0a3.1 2.7 0 1 0 -6.3 0M136 247.5a2.9 2.6 0 1 0 5.9 0a2.9 2.6 0 1 0 -5.9 0M51.2 288a2.3 1.8 0 1 0 4.7 0a2.3 1.8 0 1 0 -4.7 0M167.1 294.5a2.9 2.4 0 1 0 5.7 0a2.9 2.4 0 1 0 -5.7 0M120.8 244.1a2.7 2.3 0 1 0 5.4 0a2.7 2.3 0 1 0 -5.4 0M131.9 293.2a2.2 1.9 0 1 0 4.5 0a2.2 1.9 0 1 0 -4.5 0M74.4 330.1a3.1 2.8 0 1 0 6.1 0a3.1 2.8 0 1 0 -6.1 0M193.4 236.7a2.1 1.9 0 1 0 4.3 0a2.1 1.9 0 1 0 -4.3 0M189.1 276.8a2.2 1.9 0 1 0 4.4 0a2.2 1.9 0 1 0 -4.4 0M159.9 322.5a2.6 2.2 0 1 0 5.2 0a2.6 2.2 0 1 0 -5.2 0M119.5 308.8a2.9 2.5 0 1 0 5.7 0a2.9 2.5 0 1 0 -5.7 0M57.9 263.7a2.3 2 0 1 0 4.6 0a2.3 2 0 1 0 -4.6 0M194.2 331.8a2.1 1.8 0 1 0 4.2 0a2.1 1.8 0 1 0 -4.2 0M71.1 294.5a3 2.5 0 1 0 6.1 0a3 2.5 0 1 0 -6.1 0M53.2 320.9a2.5 2.1 0 1 0 4.9 0a2.5 2.1 0 1 0 -4.9 0M78.9 252.9a3.2 2.4 0 1 0 6.4 0a3.2 2.4 0 1 0 -6.4 0M104.3 276.5a2.9 2.6 0 1 0 5.8 0a2.9 2.6 0 1 0 -5.8 0M141.5 350.2a3 2.9 0 1 0 6 0a3 2.9 0 1 0 -6 0M172.9 223.5a2.4 2.2 0 1 0 4.9 0a2.4 2.2 0 1 0 -4.9 0M81.1 341a3.2 2.4 0 1 0 6.3 0a3.2 2.4 0 1 0 -6.3 0M94.4 268.5a3.3 2.8 0 1 0 6.6 0a3.3 2.8 0 1 0 -6.6 0M88.2 315.8a2.4 2 0 1 0 4.8 0a2.4 2 0 1 0 -4.8 0M113.3 287.8a2.6 2.1 0 1 0 5.2 0a2.6 2.1 0 1 0 -5.2 0M153 256a2.6 2.2 0 1 0 5.3 0a2.6 2.2 0 1 0 -5.3 0M96.3 250.3a2.1 1.9 0 1 0 4.2 0a2.1 1.9 0 1 0 -4.2 0M184 259.7a2.7 2.1 0 1 0 5.3 0a2.7 2.1 0 1 0 -5.3 0M169.8 289.3a2.6 2.3 0 1 0 5.2 0a2.6 2.3 0 1 0 -5.2 0M170.2 331.6a3.3 2.7 0 1 0 6.7 0a3.3 2.7 0 1 0 -6.7 0M131.4 292.8a2.9 2.4 0 1 0 5.8 0a2.9 2.4 0 1 0 -5.8 0M164.3 298.4a3.1 2.2 0 1 0 6.1 0a3.1 2.2 0 1 0 -6.1 0M108 348.6a2.3 1.9 0 1 0 4.6 0a2.3 1.9 0 1 0 -4.6 0M124.9 316.4a2.6 2 0 1 0 5.3 0a2.6 2 0 1 0 -5.3 0M161.7 338.1a2.9 2.4 0 1 0 5.8 0a2.9 2.4 0 1 0 -5.8 0M161 214.4a3.3 2.5 0 1 0 6.5 0a3.3 2.5 0 1 0 -6.5 0M101.2 221a3.5 2.5 0 1 0 7 0a3.5 2.5 0 1 0 -7 0M92.7 306.9a2.2 1.9 0 1 0 4.3 0a2.2 1.9 0 1 0 -4.3 0M115.8 295.3a3.6 2.8 0 1 0 7.1 0a3.6 2.8 0 1 0 -7.1 0M85.3 242.2a2.7 2.3 0 1 0 5.5 0a2.7 2.3 0 1 0 -5.5 0M201.8 252.4a2 1.8 0 1 0 4 0a2 1.8 0 1 0 -4 0M178.6 211.5a2.3 2.1 0 1 0 4.6 0a2.3 2.1 0 1 0 -4.6 0M89.7 220.7a3.6 2.8 0 1 0 7.2 0a3.6 2.8 0 1 0 -7.2 0M164 321.2a2.6 2.3 0 1 0 5.2 0a2.6 2.3 0 1 0 -5.2 0M100.1 301.9a2.4 1.9 0 1 0 4.9 0a2.4 1.9 0 1 0 -4.9 0M195.5 348.8a3.5 2.8 0 1 0 6.9 0a3.5 2.8 0 1 0 -6.9 0M136.1 216.4a3.2 2.6 0 1 0 6.4 0a3.2 2.6 0 1 0 -6.4 0M59.8 315.7a2.9 2.4 0 1 0 5.8 0a2.9 2.4 0 1 0 -5.8 0M152.9 305.8a2.9 2.5 0 1 0 5.7 0a2.9 2.5 0 1 0 -5.7 0M186.8 314.6a3.1 2.4 0 1 0 6.1 0a3.1 2.4 0 1 0 -6.1 0M154.5 288.1a2.1 1.9 0 1 0 4.1 0a2.1 1.9 0 1 0 -4.1 0M85.1 238.7a2.7 2.3 0 1 0 5.4 0a2.7 2.3 0 1 0 -5.4 0M53.6 336.4a3 2.4 0 1 0 5.9 0a3 2.4 0 1 0 -5.9 0M102.2 216a2.6 2.5 0 1 0 5.3 0a2.6 2.5 0 1 0 -5.3 0M151.3 296.9a3.4 2.7 0 1 0 6.8 0a3.4 2.7 0 1 0 -6.8 0M120.1 207.4a2.9 2.5 0 1 0 5.9 0a2.9 2.5 0 1 0 -5.9 0M105.3 205.9a3.2 2.7 0 1 0 6.4 0a3.2 2.7 0 1 0 -6.4 0M179.4 322a3.3 2.9 0 1 0 6.6 0a3.3 2.9 0 1 0 -6.6 0M52.4 254.5a2.7 2.1 0 1 0 5.5 0a2.7 2.1 0 1 0 -5.5 0M155.7 219.9a2.4 2 0 1 0 4.9 0a2.4 2 0 1 0 -4.9 0M114.8 326.5a2.7 2 0 1 0 5.4 0a2.7 2 0 1 0 -5.4 0M85.1 207.4a2.6 2 0 1 0 5.3 0a2.6 2 0 1 0 -5.3 0M130.3 245.4a2.5 2.3 0 1 0 5 0a2.5 2.3 0 1 0 -5 0M174 321.6a3 2.6 0 1 0 6 0a3 2.6 0 1 0 -6 0M58.6 224.9a3.2 2.7 0 1 0 6.5 0a3.2 2.7 0 1 0 -6.5 0M74.4 291a2.9 2.3 0 1 0 5.8 0a2.9 2.3 0 1 0 -5.8 0M127.6 245.8a3.2 2.5 0 1 0 6.4 0a3.2 2.5 0 1 0 -6.4 0M90.3 238.2a2.5 2 0 1 0 5 0a2.5 2 0 1 0 -5 0M187.2 355a3.5 2.5 0 1 0 7 0a3.5 2.5 0 1 0 -7 0M65 293.2a2.1 2 0 1 0 4.1 0a2.1 2 0 1 0 -4.1 0M159.9 284.9a2.2 1.7 0 1 0 4.4 0a2.2 1.7 0 1 0 -4.4 0M175.1 280.2a2.4 2.3 0 1 0 4.8 0a2.4 2.3 0 1 0 -4.8 0M130.5 345.1a2.7 2.5 0 1 0 5.4 0a2.7 2.5 0 1 0 -5.4 0M100.6 321.9a2.8 2.3 0 1 0 5.5 0a2.8 2.3 0 1 0 -5.5 0M94.3 339.6a2.6 2.1 0 1 0 5.3 0a2.6 2.1 0 1 0 -5.3 0M50.3 350.9a3.3 2.5 0 1 0 6.6 0a3.3 2.5 0 1 0 -6.6 0M75.2 212.6a2.9 2.5 0 1 0 5.8 0a2.9 2.5 0 1 0 -5.8 0M86.7 238.6a2.1 1.9 0 1 0 4.2 0a2.1 1.9 0 1 0 -4.2 0M106.6 349a2.6 2.1 0 1 0 5.2 0a2.6 2.1 0 1 0 -5.2 0M55 297.3a2.9 2.7 0 1 0 5.7 0a2.9 2.7 0 1 0 -5.7 0M154.7 331.2a2.8 2.4 0 1 0 5.7 0a2.8 2.4 0 1 0 -5.7 0M189.7 344.8a2.5 2.3 0 1 0 5 0a2.5 2.3 0 1 0 -5 0M61.3 249.8a2.3 1.8 0 1 0 4.5 0a2.3 1.8 0 1 0 -4.5 0M104.7 236a2.7 2.2 0 1 0 5.4 0a2.7 2.2 0 1 0 -5.4 0M131.6 213.7a2.8 2.1 0 1 0 5.6 0a2.8 2.1 0 1 0 -5.6 0M87.7 264.7a2.7 2.6 0 1 0 5.5 0a2.7 2.6 0 1 0 -5.5 0M159 348.5a2.8 2.3 0 1 0 5.6 0a2.8 2.3 0 1 0 -5.6 0M93.8 288.9a2.3 1.9 0 1 0 4.5 0a2.3 1.9 0 1 0 -4.5 0M68.3 346.6a3.4 2.5 0 1 0 6.8 0a3.4 2.5 0 1 0 -6.8 0M76.1 315a3 2.5 0 1 0 6.1 0a3 2.5 0 1 0 -6.1 0M63.2 326.7a2.8 2.2 0 1 0 5.7 0a2.8 2.2 0 1 0 -5.7 0M71.2 225.4a2.9 2.4 0 1 0 5.8 0a2.9 2.4 0 1 0 -5.8 0M71.9 251.2a2.3 1.8 0 1 0 4.5 0a2.3 1.8 0 1 0 -4.5 0M153.8 327.4a2.9 2.3 0 1 0 5.8 0a2.9 2.3 0 1 0 -5.8 0M173.3 237.9a2.3 2.2 0 1 0 4.6 0a2.3 2.2 0 1 0 -4.6 0M200.1 249a2.8 2.3 0 1 0 5.6 0a2.8 2.3 0 1 0 -5.6 0M184.7 344.9a2.5 2 0 1 0 5 0a2.5 2 0 1 0 -5 0M195.5 281.7a2.3 1.8 0 1 0 4.6 0a2.3 1.8 0 1 0 -4.6 0M62.3 268.3a3.3 2.7 0 1 0 6.5 0a3.3 2.7 0 1 0 -6.5 0M117.2 213.5a3.1 2.5 0 1 0 6.2 0a3.1 2.5 0 1 0 -6.2 0M120.8 214.7a2.1 1.9 0 1 0 4.2 0a2.1 1.9 0 1 0 -4.2 0M175.6 297.4a3.2 2.5 0 1 0 6.4 0a3.2 2.5 0 1 0 -6.4 0M177.7 293.6a3 2.3 0 1 0 5.9 0a3 2.3 0 1 0 -5.9 0M115.5 332.8a3.3 2.6 0 1 0 6.6 0a3.3 2.6 0 1 0 -6.6 0M135.1 267.1a3 2.5 0 1 0 6.1 0a3 2.5 0 1 0 -6.1 0M54.8 327.3a2.9 2.4 0 1 0 5.9 0a2.9 2.4 0 1 0 -5.9 0M87.4 298.1a3.4 2.6 0 1 0 6.8 0a3.4 2.6 0 1 0 -6.8 0M94.7 320a2.6 2.1 0 1 0 5.1 0a2.6 2.1 0 1 0 -5.1 0M103.1 349.5a2.7 2.4 0 1 0 5.3 0a2.7 2.4 0 1 0 -5.3 0M67.9 211.2a2.7 2.2 0 1 0 5.4 0a2.7 2.2 0 1 0 -5.4 0M72.6 319.3a2.4 2.2 0 1 0 4.7 0a2.4 2.2 0 1 0 -4.7 0M176.8 353.4a3.1 2.4 0 1 0 6.2 0a3.1 2.4 0 1 0 -6.2 0M99.8 262.5a2.7 2.4 0 1 0 5.3 0a2.7 2.4 0 1 0 -5.3 0M160.5 239.2a2.1 1.8 0 1 0 4.2 0a2.1 1.8 0 1 0 -4.2 0M133.5 283.5a2.9 2.4 0 1 0 5.7 0a2.9 2.4 0 1 0 -5.7 0M135 240.9a2.2 2 0 1 0 4.5 0a2.2 2 0 1 0 -4.5 0M95.1 292.1a2.7 2.2 0 1 0 5.4 0a2.7 2.2 0 1 0 -5.4 0M64 239.7a2.3 2 0 1 0 4.6 0a2.3 2 0 1 0 -4.6 0M129.8 231.2a2.9 2.4 0 1 0 5.9 0a2.9 2.4 0 1 0 -5.9 0M143.5 249.9a2.8 2.2 0 1 0 5.5 0a2.8 2.2 0 1 0 -5.5 0M139.3 352.6a2.9 2.5 0 1 0 5.8 0a2.9 2.5 0 1 0 -5.8 0M106.7 270.6a3.1 2.4 0 1 0 6.3 0a3.1 2.4 0 1 0 -6.3 0M198.9 280.1a3.4 2.7 0 1 0 6.8 0a3.4 2.7 0 1 0 -6.8 0M53 294.6a3 2.6 0 1 0 6.1 0a3 2.6 0 1 0 -6.1 0M163 296.5a2.9 2.4 0 1 0 5.8 0a2.9 2.4 0 1 0 -5.8 0M64.2 307.3a2.9 2.6 0 1 0 5.8 0a2.9 2.6 0 1 0 -5.8 0M76.2 282.5a2.4 2.2 0 1 0 4.8 0a2.4 2.2 0 1 0 -4.8 0M158.4 230.9a3 2.2 0 1 0 6 0a3 2.2 0 1 0 -6 0M51.1 353a3.2 2.7 0 1 0 6.3 0a3.2 2.7 0 1 0 -6.3 0M75.4 259a2.8 2.1 0 1 0 5.6 0a2.8 2.1 0 1 0 -5.6 0M121.7 288.8a3.1 2.5 0 1 0 6.3 0a3.1 2.5 0 1 0 -6.3 0M141.2 246.2a3 2.2 0 1 0 5.9 0a3 2.2 0 1 0 -5.9 0M125.1 248.7a2.2 1.9 0 1 0 4.4 0a2.2 1.9 0 1 0 -4.4 0M141.7 246.1a2.8 2.5 0 1 0 5.7 0a2.8 2.5 0 1 0 -5.7 0M86.7 352.9a2.7 2.2 0 1 0 5.4 0a2.7 2.2 0 1 0 -5.4 0M117.1 308.6a2.6 2 0 1 0 5.1 0a2.6 2 0 1 0 -5.1 0M117.1 265.8a2.8 2.4 0 1 0 5.6 0a2.8 2.4 0 1 0 -5.6 0M195 317.5a2.4 1.8 0 1 0 4.7 0a2.4 1.8 0 1 0 -4.7 0M175.4 246.9a2 1.8 0 1 0 4.1 0a2 1.8 0 1 0 -4.1 0M54.4 230.2a2 1.8 0 1 0 4 0a2 1.8 0 1 0 -4 0M197 303.2a3.2 2.7 0 1 0 6.4 0a3.2 2.7 0 1 0 -6.4 0M87.3 261.5a2.5 2.4 0 1 0 5 0a2.5 2.4 0 1 0 -5 0M80.8 279.5a2.9 2.6 0 1 0 5.9 0a2.9 2.6 0 1 0 -5.9 0M87.2 233.5a2.8 2.2 0 1 0 5.6 0a2.8 2.2 0 1 0 -5.6 0M139.1 318.7a3.2 2.9 0 1 0 6.4 0a3.2 2.9 0 1 0 -6.4 0M128.4 232.1a2.2 1.8 0 1 0 4.5 0a2.2 1.8 0 1 0 -4.5 0M63.9 287.2a2.2 2 0 1 0 4.5 0a2.2 2 0 1 0 -4.5 0M72.3 307.9a3.4 2.7 0 1 0 6.8 0a3.4 2.7 0 1 0 -6.8 0M157 331.9a2.9 2.6 0 1 0 5.8 0a2.9 2.6 0 1 0 -5.8 0M70.5 281.9a2.3 1.9 0 1 0 4.7 0a2.3 1.9 0 1 0 -4.7 0M115.9 328.5a3.2 2.8 0 1 0 6.4 0a3.2 2.8 0 1 0 -6.4 0M110.8 224a3.2 2.5 0 1 0 6.3 0a3.2 2.5 0 1 0 -6.3 0M130.3 259.1a2.7 2 0 1 0 5.4 0a2.7 2 0 1 0 -5.4 0M128.2 227.4a2.8 2.4 0 1 0 5.7 0a2.8 2.4 0 1 0 -5.7 0M141.1 270.3a2.9 2.5 0 1 0 5.8 0a2.9 2.5 0 1 0 -5.8 0M67 279.6a2.3 2.1 0 1 0 4.6 0a2.3 2.1 0 1 0 -4.6 0M162.8 228.8a2.6 2.3 0 1 0 5.3 0a2.6 2.3 0 1 0 -5.3 0M54 342.4a3.2 2.5 0 1 0 6.4 0a3.2 2.5 0 1 0 -6.4 0M151.1 212.1a2.8 2.4 0 1 0 5.5 0a2.8 2.4 0 1 0 -5.5 0M166.8 240.6a2.9 2.3 0 1 0 5.8 0a2.9 2.3 0 1 0 -5.8 0M79.1 215.5a2.3 2 0 1 0 4.7 0a2.3 2 0 1 0 -4.7 0M147 290.5a2.8 2.5 0 1 0 5.7 0a2.8 2.5 0 1 0 -5.7 0M183.6 354.3a3.3 2.6 0 1 0 6.6 0a3.3 2.6 0 1 0 -6.6 0M88.2 220.7a2.8 2.4 0 1 0 5.5 0a2.8 2.4 0 1 0 -5.5 0M143.1 270.1a2.3 2.1 0 1 0 4.6 0a2.3 2.1 0 1 0 -4.6 0M99.1 252.6a2.6 2.3 0 1 0 5.2 0a2.6 2.3 0 1 0 -5.2 0M166.5 327.5a3.3 2.5 0 1 0 6.6 0a3.3 2.5 0 1 0 -6.6 0M149.1 252.7a3.1 2.6 0 1 0 6.1 0a3.1 2.6 0 1 0 -6.1 0M106.2 206.8a2.4 2.2 0 1 0 4.9 0a2.4 2.2 0 1 0 -4.9 0M187.4 352.3a2.9 2.4 0 1 0 5.8 0a2.9 2.4 0 1 0 -5.8 0M60.4 250.3a3.4 2.8 0 1 0 6.7 0a3.4 2.8 0 1 0 -6.7 0M78.2 281.5a2.2 1.9 0 1 0 4.3 0a2.2 1.9 0 1 0 -4.3 0M95.1 306a2.2 1.8 0 1 0 4.4 0a2.2 1.8 0 1 0 -4.4 0M139.5 313a2.8 2.2 0 1 0 5.6 0a2.8 2.2 0 1 0 -5.6 0M183.3 232.4a2.5 2.1 0 1 0 5 0a2.5 2.1 0 1 0 -5 0M153.1 212.2a3.2 2.6 0 1 0 6.5 0a3.2 2.6 0 1 0 -6.5 0M146 334.4a2.6 2.3 0 1 0 5.3 0a2.6 2.3 0 1 0 -5.3 0M104.6 293a2.2 1.9 0 1 0 4.4 0a2.2 1.9 0 1 0 -4.4 0M130.3 316.7a2.8 2.2 0 1 0 5.6 0a2.8 2.2 0 1 0 -5.6 0M94.1 341.1a2.7 2.1 0 1 0 5.4 0a2.7 2.1 0 1 0 -5.4 0M154.2 232.2a2.8 2.4 0 1 0 5.6 0a2.8 2.4 0 1 0 -5.6 0M101.9 259.9a2.3 1.9 0 1 0 4.5 0a2.3 1.9 0 1 0 -4.5 0M104.2 312.9a2.9 2.3 0 1 0 5.7 0a2.9 2.3 0 1 0 -5.7 0M177.7 343.3a3.2 2.7 0 1 0 6.3 0a3.2 2.7 0 1 0 -6.3 0M106.1 254.8a2.6 2.5 0 1 0 5.2 0a2.6 2.5 0 1 0 -5.2 0M114.3 278.5a3.2 2.4 0 1 0 6.4 0a3.2 2.4 0 1 0 -6.4 0M86.2 298.5a2.8 2.2 0 1 0 5.6 0a2.8 2.2 0 1 0 -5.6 0M98 350a2.4 2.1 0 1 0 4.8 0a2.4 2.1 0 1 0 -4.8 0M193.4 217.3a2.6 2.1 0 1 0 5.2 0a2.6 2.1 0 1 0 -5.2 0M153.6 219.2a2.1 1.8 0 1 0 4.1 0a2.1 1.8 0 1 0 -4.1 0M94.8 222.5a2.1 1.9 0 1 0 4.3 0a2.1 1.9 0 1 0 -4.3 0M65.6 315.3a2.1 1.9 0 1 0 4.2 0a2.1 1.9 0 1 0 -4.2 0M169.7 281.7a2.7 2.1 0 1 0 5.3 0a2.7 2.1 0 1 0 -5.3 0M110.2 330.2a2.2 1.9 0 1 0 4.4 0a2.2 1.9 0 1 0 -4.4 0M61.1 346.6a3.6 2.7 0 1 0 7.2 0a3.6 2.7 0 1 0 -7.2 0M142.2 277.4a2.4 1.9 0 1 0 4.7 0a2.4 1.9 0 1 0 -4.7 0M57.4 249.7a2.3 1.9 0 1 0 4.6 0a2.3 1.9 0 1 0 -4.6 0M169.5 283.9a2.4 2 0 1 0 4.8 0a2.4 2 0 1 0 -4.8 0M55.8 350.6a3.2 2.8 0 1 0 6.4 0a3.2 2.8 0 1 0 -6.4 0M154 221a2.7 2.2 0 1 0 5.4 0a2.7 2.2 0 1 0 -5.4 0M103.1 304.2a2.3 2 0 1 0 4.7 0a2.3 2 0 1 0 -4.7 0M59 241.9a2.8 2.5 0 1 0 5.5 0a2.8 2.5 0 1 0 -5.5 0M142.5 316.2a3.3 2.5 0 1 0 6.7 0a3.3 2.5 0 1 0 -6.7 0M165.3 209.1a2.6 2.3 0 1 0 5.1 0a2.6 2.3 0 1 0 -5.1 0M181.3 281.8a2.7 2.5 0 1 0 5.4 0a2.7 2.5 0 1 0 -5.4 0M144 279.3a2.7 2.2 0 1 0 5.4 0a2.7 2.2 0 1 0 -5.4 0M171.7 283.2a2.2 1.9 0 1 0 4.4 0a2.2 1.9 0 1 0 -4.4 0M78.4 349.1a2.3 2 0 1 0 4.6 0a2.3 2 0 1 0 -4.6 0M91.7 233.4a2.1 2 0 1 0 4.3 0a2.1 2 0 1 0 -4.3 0M89 349.1a2.6 2.3 0 1 0 5.2 0a2.6 2.3 0 1 0 -5.2 0M121.1 318.1a2.9 2.3 0 1 0 5.8 0a2.9 2.3 0 1 0 -5.8 0M164.5 296a2.3 1.8 0 1 0 4.6 0a2.3 1.8 0 1 0 -4.6 0M145.5 301.5a2.1 1.9 0 1 0 4.3 0a2.1 1.9 0 1 0 -4.3 0M56 267.7a3.2 2.5 0 1 0 6.5 0a3.2 2.5 0 1 0 -6.5 0M177.5 332.6a2.8 2.5 0 1 0 5.6 0a2.8 2.5 0 1 0 -5.6 0M76.6 253.6a2.9 2.6 0 1 0 5.9 0a2.9 2.6 0 1 0 -5.9 0M166.7 245.7a2.3 2 0 1 0 4.6 0a2.3 2 0 1 0 -4.6 0M136.1 218.1a3.1 2.6 0 1 0 6.2 0a3.1 2.6 0 1 0 -6.2 0M127 352.9a2.6 2.3 0 1 0 5.3 0a2.6 2.3 0 1 0 -5.3 0M139.9 347.5a2.6 2.1 0 1 0 5.2 0a2.6 2.1 0 1 0 -5.2 0M54.6 296.1a3.1 2.4 0 1 0 6.2 0a3.1 2.4 0 1 0 -6.2 0M165.7 230.7a2.9 2.3 0 1 0 5.8 0a2.9 2.3 0 1 0 -5.8 0M105.7 316.3a2.7 2.2 0 1 0 5.4 0a2.7 2.2 0 1 0 -5.4 0M164.9 331.7a2.8 2.4 0 1 0 5.6 0a2.8 2.4 0 1 0 -5.6 0M96.3 329.8a2.2 2 0 1 0 4.3 0a2.2 2 0 1 0 -4.3 0M54.9 296.9a2.9 2.2 0 1 0 5.7 0a2.9 2.2 0 1 0 -5.7 0M130.4 251.2a2.2 2 0 1 0 4.5 0a2.2 2 0 1 0 -4.5 0M139.7 307.1a2.5 2 0 1 0 5 0a2.5 2 0 1 0 -5 0M81.2 295.1a3.2 2.5 0 1 0 6.4 0a3.2 2.5 0 1 0 -6.4 0M200.5 325a2.4 2.2 0 1 0 4.9 0a2.4 2.2 0 1 0 -4.9 0M77.4 219.5a2.8 2.5 0 1 0 5.7 0a2.8 2.5 0 1 0 -5.7 0M131.7 256.7a2.3 2 0 1 0 4.6 0a2.3 2 0 1 0 -4.6 0M95.4 206.4a3.2 2.8 0 1 0 6.4 0a3.2 2.8 0 1 0 -6.4 0M197.5 217.4a2.8 2.1 0 1 0 5.5 0a2.8 2.1 0 1 0 -5.5 0M102.6 307.7a2.1 1.8 0 1 0 4.1 0a2.1 1.8 0 1 0 -4.1 0M193.7 343.7a2.5 2.4 0 1 0 5.1 0a2.5 2.4 0 1 0 -5.1 0M169.4 301.1a2.6 2.2 0 1 0 5.2 0a2.6 2.2 0 1 0 -5.2 0M116 248.9a2.9 2.8 0 1 0 5.9 0a2.9 2.8 0 1 0 -5.9 0M66.6 344.7a2.4 2 0 1 0 4.8 0a2.4 2 0 1 0 -4.8 0M103.6 226.4a2.9 2.5 0 1 0 5.7 0a2.9 2.5 0 1 0 -5.7 0M62.2 269.2a2.7 2.2 0 1 0 5.4 0a2.7 2.2 0 1 0 -5.4 0M120.4 207.4a2.5 2.2 0 1 0 5 0a2.5 2.2 0 1 0 -5 0M132.3 237.4a2.7 2.4 0 1 0 5.4 0a2.7 2.4 0 1 0 -5.4 0M178.7 273.1a2.2 2 0 1 0 4.5 0a2.2 2 0 1 0 -4.5 0M189.3 238.6a2.4 2.2 0 1 0 4.8 0a2.4 2.2 0 1 0 -4.8 0M78.9 232.2a2.8 2.2 0 1 0 5.7 0a2.8 2.2 0 1 0 -5.7 0M142.8 241.4a2.2 1.9 0 1 0 4.4 0a2.2 1.9 0 1 0 -4.4 0M180.5 237.4a2.5 2.1 0 1 0 5 0a2.5 2.1 0 1 0 -5 0M135 240.5a2.2 1.9 0 1 0 4.4 0a2.2 1.9 0 1 0 -4.4 0M63.5 337.7a3 2.9 0 1 0 6 0a3 2.9 0 1 0 -6 0M51.8 263.2a2.5 2 0 1 0 4.9 0a2.5 2 0 1 0 -4.9 0M53.5 273a2.5 2.4 0 1 0 5.1 0a2.5 2.4 0 1 0 -5.1 0M126.5 326.4a2.6 2.2 0 1 0 5.3 0a2.6 2.2 0 1 0 -5.3 0M163.3 258.3a2.3 1.9 0 1 0 4.6 0a2.3 1.9 0 1 0 -4.6 0M88.4 280.4a3.2 2.7 0 1 0 6.3 0a3.2 2.7 0 1 0 -6.3 0M155.2 317.2a3.2 2.5 0 1 0 6.4 0a3.2 2.5 0 1 0 -6.4 0M133.7 285.9a3.1 2.5 0 1 0 6.2 0a3.1 2.5 0 1 0 -6.2 0M98.1 313.2a2.6 2.3 0 1 0 5.2 0a2.6 2.3 0 1 0 -5.2 0M111 308a2.5 2.3 0 1 0 5 0a2.5 2.3 0 1 0 -5 0M64.4 298.4a2.9 2.4 0 1 0 5.8 0a2.9 2.4 0 1 0 -5.8 0M200.6 337.1a2.8 2.2 0 1 0 5.6 0a2.8 2.2 0 1 0 -5.6 0M202.4 216a2.3 2.1 0 1 0 4.5 0a2.3 2.1 0 1 0 -4.5 0"/>
<path fill="#cc7410" d="M84.8 278.6a2.9 2.3 0 1 0 5.8 0a2.9 2.3 0 1 0 -5.8 0M186.9 344.9a2 1.5 0 1 0 3.9 0a2 1.5 0 1 0 -3.9 0M144.6 319.1a1.9 1.8 0 1 0 3.9 0a1.9 1.8 0 1 0 -3.9 0M171.5 352.9a1.8 1.6 0 1 0 3.7 0a1.8 1.6 0 1 0 -3.7 0M196.6 314.9a1.8 1.6 0 1 0 3.7 0a1.8 1.6 0 1 0 -3.7 0M90.8 291.5a1.9 1.6 0 1 0 3.8 0a1.9 1.6 0 1 0 -3.8 0M155.5 328.4a1.8 1.7 0 1 0 3.7 0a1.8 1.7 0 1 0 -3.7 0M105.8 286a2.3 2.3 0 1 0 4.7 0a2.3 2.3 0 1 0 -4.7 0M168.7 316.5a2.1 1.9 0 1 0 4.2 0a2.1 1.9 0 1 0 -4.2 0M60 217.6a2.7 1.9 0 1 0 5.5 0a2.7 1.9 0 1 0 -5.5 0M79.3 274.8a2.7 2.2 0 1 0 5.3 0a2.7 2.2 0 1 0 -5.3 0M58.7 235.3a2.5 1.8 0 1 0 5 0a2.5 1.8 0 1 0 -5 0M65 252.7a2.1 1.7 0 1 0 4.2 0a2.1 1.7 0 1 0 -4.2 0M61.7 302.8a2.9 2.5 0 1 0 5.8 0a2.9 2.5 0 1 0 -5.8 0M70.3 298.3a2.3 1.8 0 1 0 4.6 0a2.3 1.8 0 1 0 -4.6 0M143.9 343.5a2.6 2.3 0 1 0 5.1 0a2.6 2.3 0 1 0 -5.1 0M64.3 289.9a2 1.6 0 1 0 4.1 0a2 1.6 0 1 0 -4.1 0M52.8 339.5a1.7 1.6 0 1 0 3.5 0a1.7 1.6 0 1 0 -3.5 0M59.8 322a2.3 2.1 0 1 0 4.6 0a2.3 2.1 0 1 0 -4.6 0M71.2 285.4a1.7 1.5 0 1 0 3.4 0a1.7 1.5 0 1 0 -3.4 0M133.3 304.1a2.7 2.2 0 1 0 5.3 0a2.7 2.2 0 1 0 -5.3 0M83.1 316.7a2 1.7 0 1 0 3.9 0a2 1.7 0 1 0 -3.9 0M114.8 331.7a2.4 1.8 0 1 0 4.7 0a2.4 1.8 0 1 0 -4.7 0M139.3 243.8a2.3 1.7 0 1 0 4.6 0a2.3 1.7 0 1 0 -4.6 0M120.3 243.4a2 1.6 0 1 0 3.9 0a2 1.6 0 1 0 -3.9 0M138.9 211.3a1.9 1.6 0 1 0 3.7 0a1.9 1.6 0 1 0 -3.7 0M177.4 309a2.5 2.1 0 1 0 5 0a2.5 2.1 0 1 0 -5 0M98 282.1a2.9 2.4 0 1 0 5.8 0a2.9 2.4 0 1 0 -5.8 0M54 209.3a2 1.6 0 1 0 4.1 0a2 1.6 0 1 0 -4.1 0M104 224.5a2.5 2.2 0 1 0 5 0a2.5 2.2 0 1 0 -5 0M78.1 333.5a1.8 1.5 0 1 0 3.6 0a1.8 1.5 0 1 0 -3.6 0M88 355.6a2.7 2 0 1 0 5.4 0a2.7 2 0 1 0 -5.4 0M199.3 351.1a2.3 1.8 0 1 0 4.6 0a2.3 1.8 0 1 0 -4.6 0M132.9 278.8a3.1 2.4 0 1 0 6.1 0a3.1 2.4 0 1 0 -6.1 0M88 354.1a2.1 1.9 0 1 0 4.3 0a2.1 1.9 0 1 0 -4.3 0M196.1 325.5a2.7 1.9 0 1 0 5.3 0a2.7 1.9 0 1 0 -5.3 0M192.8 250.2a2.6 2.1 0 1 0 5.3 0a2.6 2.1 0 1 0 -5.3 0M130.6 344.1a2.6 2.4 0 1 0 5.2 0a2.6 2.4 0 1 0 -5.2 0M78.1 258a1.8 1.7 0 1 0 3.7 0a1.8 1.7 0 1 0 -3.7 0M51.1 351.7a2.6 2 0 1 0 5.3 0a2.6 2 0 1 0 -5.3 0M91.4 322a1.8 1.7 0 1 0 3.7 0a1.8 1.7 0 1 0 -3.7 0M138.9 224.3a2.2 1.9 0 1 0 4.3 0a2.2 1.9 0 1 0 -4.3 0M113 355.1a2.1 1.5 0 1 0 4.2 0a2.1 1.5 0 1 0 -4.2 0M190.1 287.6a2 1.7 0 1 0 4 0a2 1.7 0 1 0 -4 0M70.4 338.6a2.7 2.5 0 1 0 5.4 0a2.7 2.5 0 1 0 -5.4 0M160.5 290.9a2 1.9 0 1 0 4.1 0a2 1.9 0 1 0 -4.1 0M170.3 348.1a1.8 1.5 0 1 0 3.6 0a1.8 1.5 0 1 0 -3.6 0M83.4 208.4a3 2.4 0 1 0 5.9 0a3 2.4 0 1 0 -5.9 0M101.5 271.5a2.4 2.3 0 1 0 4.8 0a2.4 2.3 0 1 0 -4.8 0M157.7 275.2a2.9 2.5 0 1 0 5.8 0a2.9 2.5 0 1 0 -5.8 0M80.8 266.9a2 1.8 0 1 0 4.1 0a2 1.8 0 1 0 -4.1 0M200.7 342.8a3 2.3 0 1 0 6.1 0a3 2.3 0 1 0 -6.1 0M163 218.9a2.2 1.7 0 1 0 4.3 0a2.2 1.7 0 1 0 -4.3 0M188.3 261.6a1.8 1.7 0 1 0 3.6 0a1.8 1.7 0 1 0 -3.6 0M102 348.6a2.4 1.9 0 1 0 4.8 0a2.4 1.9 0 1 0 -4.8 0M58.4 309.2a2.4 2 0 1 0 4.8 0a2.4 2 0 1 0 -4.8 0M114 342.2a1.6 1.6 0 1 0 3.3 0a1.6 1.6 0 1 0 -3.3 0M99.1 255.4a2.1 1.9 0 1 0 4.2 0a2.1 1.9 0 1 0 -4.2 0M65.5 289.2a2.4 2.2 0 1 0 4.9 0a2.4 2.2 0 1 0 -4.9 0M105.5 299.4a1.7 1.5 0 1 0 3.5 0a1.7 1.5 0 1 0 -3.5 0M144.4 275.3a1.7 1.6 0 1 0 3.5 0a1.7 1.6 0 1 0 -3.5 0M92.3 236.7a2.3 1.9 0 1 0 4.5 0a2.3 1.9 0 1 0 -4.5 0M61.7 299.7a2.9 2.3 0 1 0 5.9 0a2.9 2.3 0 1 0 -5.9 0M184.1 333.5a1.9 1.8 0 1 0 3.9 0a1.9 1.8 0 1 0 -3.9 0M193.9 302.1a2.3 1.9 0 1 0 4.7 0a2.3 1.9 0 1 0 -4.7 0M100.8 240.1a2.5 2.1 0 1 0 5.1 0a2.5 2.1 0 1 0 -5.1 0M189.8 205.3a1.8 1.6 0 1 0 3.5 0a1.8 1.6 0 1 0 -3.5 0M189.5 275.9a2.4 2.1 0 1 0 4.8 0a2.4 2.1 0 1 0 -4.8 0M171.9 249.5a2.6 2.2 0 1 0 5.2 0a2.6 2.2 0 1 0 -5.2 0M55 259.7a2.8 2.2 0 1 0 5.5 0a2.8 2.2 0 1 0 -5.5 0M202.4 294.4a2.5 2.1 0 1 0 5 0a2.5 2.1 0 1 0 -5 0M110.6 246.8a1.9 1.8 0 1 0 3.8 0a1.9 1.8 0 1 0 -3.8 0M64.1 222.9a2.6 2 0 1 0 5.1 0a2.6 2 0 1 0 -5.1 0M152.9 317.3a1.9 1.5 0 1 0 3.9 0a1.9 1.5 0 1 0 -3.9 0M130.6 210.1a1.7 1.5 0 1 0 3.3 0a1.7 1.5 0 1 0 -3.3 0M123.8 238.2a1.6 1.6 0 1 0 3.3 0a1.6 1.6 0 1 0 -3.3 0M201 343.4a1.7 1.7 0 1 0 3.4 0a1.7 1.7 0 1 0 -3.4 0M53 227.7a2.7 2.2 0 1 0 5.5 0a2.7 2.2 0 1 0 -5.5 0M178.6 253.2a2.8 2.3 0 1 0 5.7 0a2.8 2.3 0 1 0 -5.7 0M197.8 320.4a2.8 2.1 0 1 0 5.5 0a2.8 2.1 0 1 0 -5.5 0M138.2 345.8a2.1 1.9 0 1 0 4.2 0a2.1 1.9 0 1 0 -4.2 0M183 312.4a2.5 2 0 1 0 5 0a2.5 2 0 1 0 -5 0M85 311.3a2.4 2.4 0 1 0 4.7 0a2.4 2.4 0 1 0 -4.7 0M117.2 333.4a1.6 1.4 0 1 0 3.3 0a1.6 1.4 0 1 0 -3.3 0M83.6 304.6a2.7 2.3 0 1 0 5.5 0a2.7 2.3 0 1 0 -5.5 0M68.4 248.6a2.3 1.9 0 1 0 4.6 0a2.3 1.9 0 1 0 -4.6 0M201.2 337.1a2.5 2 0 1 0 4.9 0a2.5 2 0 1 0 -4.9 0M129.3 307.9a2.9 2.1 0 1 0 5.9 0a2.9 2.1 0 1 0 -5.9 0M55.5 312.1a2.4 2.3 0 1 0 4.9 0a2.4 2.3 0 1 0 -4.9 0M166.2 230.1a1.9 1.6 0 1 0 3.9 0a1.9 1.6 0 1 0 -3.9 0M75.6 342.5a2.1 1.8 0 1 0 4.2 0a2.1 1.8 0 1 0 -4.2 0M69.1 311.2a2.6 1.9 0 1 0 5.2 0a2.6 1.9 0 1 0 -5.2 0M113.3 240.5a2.6 2.4 0 1 0 5.1 0a2.6 2.4 0 1 0 -5.1 0M56.8 339.6a1.8 1.6 0 1 0 3.6 0a1.8 1.6 0 1 0 -3.6 0M100.2 294.6a1.9 1.9 0 1 0 3.9 0a1.9 1.9 0 1 0 -3.9 0M126.6 326.4a1.6 1.4 0 1 0 3.2 0a1.6 1.4 0 1 0 -3.2 0M175.5 208.7a1.7 1.4 0 1 0 3.3 0a1.7 1.4 0 1 0 -3.3 0M179.6 335a2.1 1.6 0 1 0 4.2 0a2.1 1.6 0 1 0 -4.2 0M167.8 304.9a1.8 1.5 0 1 0 3.5 0a1.8 1.5 0 1 0 -3.5 0M120.6 289.2a2.4 2.1 0 1 0 4.9 0a2.4 2.1 0 1 0 -4.9 0M177.1 308.1a1.8 1.5 0 1 0 3.5 0a1.8 1.5 0 1 0 -3.5 0M194.5 263.7a3.1 2.3 0 1 0 6.1 0a3.1 2.3 0 1 0 -6.1 0M106.8 317.8a2.5 1.9 0 1 0 5.1 0a2.5 1.9 0 1 0 -5.1 0M147.6 308.7a2.2 2 0 1 0 4.5 0a2.2 2 0 1 0 -4.5 0M115.9 308a2.4 2.1 0 1 0 4.8 0a2.4 2.1 0 1 0 -4.8 0M90 350.6a2.2 2 0 1 0 4.5 0a2.2 2 0 1 0 -4.5 0M170 335.1a2.1 1.9 0 1 0 4.1 0a2.1 1.9 0 1 0 -4.1 0M63.9 265.7a2.2 2 0 1 0 4.4 0a2.2 2 0 1 0 -4.4 0M132.2 230.3a2 1.6 0 1 0 3.9 0a2 1.6 0 1 0 -3.9 0M113.2 279.8a2.3 1.8 0 1 0 4.5 0a2.3 1.8 0 1 0 -4.5 0M58.7 280.1a2 1.7 0 1 0 4 0a2 1.7 0 1 0 -4 0M166.1 351a2.6 2.1 0 1 0 5.3 0a2.6 2.1 0 1 0 -5.3 0M68.7 315.6a1.9 1.6 0 1 0 3.7 0a1.9 1.6 0 1 0 -3.7 0M90.9 335.7a2.6 1.8 0 1 0 5.2 0a2.6 1.8 0 1 0 -5.2 0M121.3 254a2.5 2 0 1 0 4.9 0a2.5 2 0 1 0 -4.9 0M193.6 271.9a2.3 1.8 0 1 0 4.5 0a2.3 1.8 0 1 0 -4.5 0M92.4 344.5a1.8 1.7 0 1 0 3.5 0a1.8 1.7 0 1 0 -3.5 0M188.7 334.4a2.7 2.2 0 1 0 5.5 0a2.7 2.2 0 1 0 -5.5 0M95.1 230.1a2.4 1.9 0 1 0 4.8 0a2.4 1.9 0 1 0 -4.8 0M199.8 326.1a2.4 1.9 0 1 0 4.8 0a2.4 1.9 0 1 0 -4.8 0M188.8 331.1a2.1 1.6 0 1 0 4.1 0a2.1 1.6 0 1 0 -4.1 0M105.7 317.8a2.3 1.8 0 1 0 4.6 0a2.3 1.8 0 1 0 -4.6 0M146.3 344.4a2.7 2.2 0 1 0 5.5 0a2.7 2.2 0 1 0 -5.5 0M160 306.1a1.8 1.5 0 1 0 3.6 0a1.8 1.5 0 1 0 -3.6 0M149.7 230.5a1.9 1.6 0 1 0 3.8 0a1.9 1.6 0 1 0 -3.8 0M136.6 335.7a2.5 2.1 0 1 0 5.1 0a2.5 2.1 0 1 0 -5.1 0M110.4 269.9a2.3 2.1 0 1 0 4.6 0a2.3 2.1 0 1 0 -4.6 0M191.1 338.4a1.9 1.4 0 1 0 3.8 0a1.9 1.4 0 1 0 -3.8 0M71.2 298.5a1.9 1.8 0 1 0 3.9 0a1.9 1.8 0 1 0 -3.9 0M132.4 286.3a2.4 2 0 1 0 4.7 0a2.4 2 0 1 0 -4.7 0M160 311.9a2.7 2.3 0 1 0 5.3 0a2.7 2.3 0 1 0 -5.3 0M68.2 217.5a2.3 1.8 0 1 0 4.6 0a2.3 1.8 0 1 0 -4.6 0M196.6 248.9a2.3 2.1 0 1 0 4.5 0a2.3 2.1 0 1 0 -4.5 0M74.3 243.2a2.4 2 0 1 0 4.7 0a2.4 2 0 1 0 -4.7 0M71.1 343.9a2.3 1.8 0 1 0 4.5 0a2.3 1.8 0 1 0 -4.5 0M193 221.2a2.2 2.1 0 1 0 4.5 0a2.2 2.1 0 1 0 -4.5 0M100.3 349a2.4 1.7 0 1 0 4.8 0a2.4 1.7 0 1 0 -4.8 0M87.3 354.4a1.9 1.7 0 1 0 3.8 0a1.9 1.7 0 1 0 -3.8 0M106.4 284.9a2 1.8 0 1 0 4.1 0a2 1.8 0 1 0 -4.1 0M122.2 232.9a2.3 1.9 0 1 0 4.7 0a2.3 1.9 0 1 0 -4.7 0M163.5 273.7a2.1 1.5 0 1 0 4.3 0a2.1 1.5 0 1 0 -4.3 0M97.4 268.2a2 1.9 0 1 0 4 0a2 1.9 0 1 0 -4 0M97.1 287.9a2.2 2 0 1 0 4.4 0a2.2 2 0 1 0 -4.4 0M70.7 287.2a2.8 2.3 0 1 0 5.6 0a2.8 2.3 0 1 0 -5.6 0M68.2 274.6a2.4 2.2 0 1 0 4.8 0a2.4 2.2 0 1 0 -4.8 0M126.6 336.7a1.7 1.5 0 1 0 3.4 0a1.7 1.5 0 1 0 -3.4 0M177.5 280.1a2.9 2.2 0 1 0 5.8 0a2.9 2.2 0 1 0 -5.8 0M158.8 283.3a2 1.6 0 1 0 4 0a2 1.6 0 1 0 -4 0M186.3 240.8a2.3 2.2 0 1 0 4.6 0a2.3 2.2 0 1 0 -4.6 0M97.1 281.6a2.2 1.8 0 1 0 4.3 0a2.2 1.8 0 1 0 -4.3 0M166.6 304.7a1.9 1.6 0 1 0 3.7 0a1.9 1.6 0 1 0 -3.7 0M100.5 269.4a2.4 2.1 0 1 0 4.9 0a2.4 2.1 0 1 0 -4.9 0M91 249.8a2 2 0 1 0 4 0a2 2 0 1 0 -4 0M56.8 295a2.3 2.2 0 1 0 4.6 0a2.3 2.2 0 1 0 -4.6 0M99 207.8a1.7 1.6 0 1 0 3.4 0a1.7 1.6 0 1 0 -3.4 0M163 258.7a2.5 2.1 0 1 0 5 0a2.5 2.1 0 1 0 -5 0M137.5 285.8a2.5 2.3 0 1 0 5 0a2.5 2.3 0 1 0 -5 0M147 309.4a2.2 2 0 1 0 4.4 0a2.2 2 0 1 0 -4.4 0M194.4 207.5a2 1.7 0 1 0 4 0a2 1.7 0 1 0 -4 0M168.4 303.2a1.9 1.7 0 1 0 3.9 0a1.9 1.7 0 1 0 -3.9 0M60.7 208.1a2.6 2 0 1 0 5.3 0a2.6 2 0 1 0 -5.3 0M127.5 266.7a2.6 2 0 1 0 5.2 0a2.6 2 0 1 0 -5.2 0M163.6 275.6a2.9 2.3 0 1 0 5.9 0a2.9 2.3 0 1 0 -5.9 0M96.2 250.6a3 2.1 0 1 0 5.9 0a3 2.1 0 1 0 -5.9 0M130.1 269.8a2.3 2.1 0 1 0 4.5 0a2.3 2.1 0 1 0 -4.5 0M124.4 330.5a2.2 1.7 0 1 0 4.3 0a2.2 1.7 0 1 0 -4.3 0M133.2 270.9a2.9 2.3 0 1 0 5.7 0a2.9 2.3 0 1 0 -5.7 0M106.5 274.4a2 1.6 0 1 0 4 0a2 1.6 0 1 0 -4 0M63.3 260.4a1.8 1.4 0 1 0 3.5 0a1.8 1.4 0 1 0 -3.5 0M188.6 253.1a2 1.6 0 1 0 4.1 0a2 1.6 0 1 0 -4.1 0M160.7 251.2a2.5 2.1 0 1 0 4.9 0a2.5 2.1 0 1 0 -4.9 0M185.1 309.3a2.1 1.6 0 1 0 4.1 0a2.1 1.6 0 1 0 -4.1 0M128 246.8a2.4 2.1 0 1 0 4.8 0a2.4 2.1 0 1 0 -4.8 0M89.7 291.4a2.6 1.9 0 1 0 5.2 0a2.6 1.9 0 1 0 -5.2 0M182.3 345a2.1 2 0 1 0 4.2 0a2.1 2 0 1 0 -4.2 0M138.6 285.4a2.7 2.2 0 1 0 5.4 0a2.7 2.2 0 1 0 -5.4 0M151.3 244.8a1.9 1.9 0 1 0 3.8 0a1.9 1.9 0 1 0 -3.8 0M175.3 316.5a3 2.1 0 1 0 6.1 0a3 2.1 0 1 0 -6.1 0M100.2 344.6a2 1.6 0 1 0 3.9 0a2 1.6 0 1 0 -3.9 0M73.1 236.9a2.7 1.9 0 1 0 5.3 0a2.7 1.9 0 1 0 -5.3 0M131 233.7a2.7 2 0 1 0 5.5 0a2.7 2 0 1 0 -5.5 0M110.3 206.8a3 2.4 0 1 0 6.1 0a3 2.4 0 1 0 -6.1 0M51.7 347a2.1 1.8 0 1 0 4.1 0a2.1 1.8 0 1 0 -4.1 0M136.1 222.7a2.1 1.6 0 1 0 4.2 0a2.1 1.6 0 1 0 -4.2 0M108.5 346.1a2 1.9 0 1 0 4 0a2 1.9 0 1 0 -4 0M104.1 324.6a2.3 1.9 0 1 0 4.6 0a2.3 1.9 0 1 0 -4.6 0M78.4 287.9a2 2 0 1 0 4 0a2 2 0 1 0 -4 0M103.3 297.7a1.9 1.6 0 1 0 3.9 0a1.9 1.6 0 1 0 -3.9 0M154.6 224.9a2.5 2 0 1 0 4.9 0a2.5 2 0 1 0 -4.9 0M83.7 228.1a2.8 2.3 0 1 0 5.5 0a2.8 2.3 0 1 0 -5.5 0M163.2 265.9a2.2 2 0 1 0 4.5 0a2.2 2 0 1 0 -4.5 0M116.7 323.7a2 1.6 0 1 0 3.9 0a2 1.6 0 1 0 -3.9 0M57.6 237.6a1.7 1.4 0 1 0 3.3 0a1.7 1.4 0 1 0 -3.3 0M184.6 211.6a2.6 2.5 0 1 0 5.1 0a2.6 2.5 0 1 0 -5.1 0M105.4 242.4a2.3 1.8 0 1 0 4.7 0a2.3 1.8 0 1 0 -4.7 0M70.3 307.9a2.9 2 0 1 0 5.7 0a2.9 2 0 1 0 -5.7 0M167.8 257a2.2 1.9 0 1 0 4.3 0a2.2 1.9 0 1 0 -4.3 0M189.6 243.3a2.4 1.8 0 1 0 4.8 0a2.4 1.8 0 1 0 -4.8 0M174.4 286a2.2 1.8 0 1 0 4.4 0a2.2 1.8 0 1 0 -4.4 0M109.2 356.1a1.9 1.6 0 1 0 3.9 0a1.9 1.6 0 1 0 -3.9 0M158.7 276.8a2.3 2.2 0 1 0 4.6 0a2.3 2.2 0 1 0 -4.6 0M182 266.9a2.7 2.1 0 1 0 5.4 0a2.7 2.1 0 1 0 -5.4 0M168.3 278.4a1.8 1.6 0 1 0 3.7 0a1.8 1.6 0 1 0 -3.7 0M76 275a2.3 2.4 0 1 0 4.7 0a2.3 2.4 0 1 0 -4.7 0M104.1 260.1a2.6 2 0 1 0 5.1 0a2.6 2 0 1 0 -5.1 0M73.9 268.8a3.1 2.4 0 1 0 6.2 0a3.1 2.4 0 1 0 -6.2 0M156.4 309.1a2.5 2.1 0 1 0 5.1 0a2.5 2.1 0 1 0 -5.1 0M179 208.2a2.3 2.1 0 1 0 4.5 0a2.3 2.1 0 1 0 -4.5 0M146.4 239.2a1.7 1.5 0 1 0 3.5 0a1.7 1.5 0 1 0 -3.5 0M122.5 293.1a1.7 1.6 0 1 0 3.4 0a1.7 1.6 0 1 0 -3.4 0M95.1 233.7a2.1 1.7 0 1 0 4.2 0a2.1 1.7 0 1 0 -4.2 0M112.5 255a2.3 1.9 0 1 0 4.6 0a2.3 1.9 0 1 0 -4.6 0M195.5 334.7a2.3 2.2 0 1 0 4.5 0a2.3 2.2 0 1 0 -4.5 0M76.9 317a1.9 1.8 0 1 0 3.8 0a1.9 1.8 0 1 0 -3.8 0M90.1 339.5a2 1.6 0 1 0 3.9 0a2 1.6 0 1 0 -3.9 0M58.4 247.8a2.2 1.8 0 1 0 4.4 0a2.2 1.8 0 1 0 -4.4 0M193.3 230.3a1.9 1.6 0 1 0 3.8 0a1.9 1.6 0 1 0 -3.8 0M83 319a1.7 1.4 0 1 0 3.4 0a1.7 1.4 0 1 0 -3.4 0M98.4 249.3a2.5 1.9 0 1 0 4.9 0a2.5 1.9 0 1 0 -4.9 0M116.7 354.9a1.8 1.7 0 1 0 3.7 0a1.8 1.7 0 1 0 -3.7 0M167.7 314.7a2.4 1.8 0 1 0 4.8 0a2.4 1.8 0 1 0 -4.8 0M194.5 317.2a2.7 2.4 0 1 0 5.3 0a2.7 2.4 0 1 0 -5.3 0M122.1 349a2.5 1.8 0 1 0 4.9 0a2.5 1.8 0 1 0 -4.9 0M129.1 289.9a2.5 2.1 0 1 0 5.1 0a2.5 2.1 0 1 0 -5.1 0M78.7 311.9a2.3 1.8 0 1 0 4.5 0a2.3 1.8 0 1 0 -4.5 0M188.7 354.7a2.6 1.9 0 1 0 5.2 0a2.6 1.9 0 1 0 -5.2 0M100.3 255a1.7 1.5 0 1 0 3.5 0a1.7 1.5 0 1 0 -3.5 0M114 215.6a2 1.6 0 1 0 4 0a2 1.6 0 1 0 -4 0M86.6 273.1a2.1 1.7 0 1 0 4.2 0a2.1 1.7 0 1 0 -4.2 0M163.5 346.3a2.7 2.1 0 1 0 5.4 0a2.7 2.1 0 1 0 -5.4 0M132.4 284.1a2.4 1.9 0 1 0 4.8 0a2.4 1.9 0 1 0 -4.8 0M119.7 328.7a2.2 2.2 0 1 0 4.4 0a2.2 2.2 0 1 0 -4.4 0M58.7 283.6a1.8 1.5 0 1 0 3.6 0a1.8 1.5 0 1 0 -3.6 0M143.9 312.7a2.7 2.1 0 1 0 5.5 0a2.7 2.1 0 1 0 -5.5 0M57.5 218.1a1.7 1.5 0 1 0 3.4 0a1.7 1.5 0 1 0 -3.4 0M74.1 333.8a2.1 1.9 0 1 0 4.2 0a2.1 1.9 0 1 0 -4.2 0M79 281a1.7 1.6 0 1 0 3.4 0a1.7 1.6 0 1 0 -3.4 0M136.9 250.9a2.4 2 0 1 0 4.9 0a2.4 2 0 1 0 -4.9 0M146.8 312.7a3.1 2.5 0 1 0 6.2 0a3.1 2.5 0 1 0 -6.2 0M173.8 308.4a2.4 2 0 1 0 4.9 0a2.4 2 0 1 0 -4.9 0M179.4 271.1a1.8 1.4 0 1 0 3.6 0a1.8 1.4 0 1 0 -3.6 0M92.6 344.5a2 1.5 0 1 0 4.1 0a2 1.5 0 1 0 -4.1 0M171.3 262.8a2.5 2 0 1 0 4.9 0a2.5 2 0 1 0 -4.9 0M83.1 306.7a1.8 1.7 0 1 0 3.5 0a1.8 1.7 0 1 0 -3.5 0M74.7 267.8a1.9 1.5 0 1 0 3.7 0a1.9 1.5 0 1 0 -3.7 0M105.9 353.2a2.2 1.7 0 1 0 4.4 0a2.2 1.7 0 1 0 -4.4 0M91 221.2a2.2 1.9 0 1 0 4.4 0a2.2 1.9 0 1 0 -4.4 0M72.8 317.2a2.3 2 0 1 0 4.7 0a2.3 2 0 1 0 -4.7 0M93.1 288a2.1 1.8 0 1 0 4.3 0a2.1 1.8 0 1 0 -4.3 0M146.1 247.5a2.3 1.9 0 1 0 4.6 0a2.3 1.9 0 1 0 -4.6 0M61.9 334.8a2 1.9 0 1 0 4.1 0a2 1.9 0 1 0 -4.1 0M146.8 238.3a2.3 2.2 0 1 0 4.7 0a2.3 2.2 0 1 0 -4.7 0M137.6 233.7a2.9 2.2 0 1 0 5.8 0a2.9 2.2 0 1 0 -5.8 0M165.2 209.5a2.7 2.1 0 1 0 5.4 0a2.7 2.1 0 1 0 -5.4 0M54 214.9a2.9 2.1 0 1 0 5.8 0a2.9 2.1 0 1 0 -5.8 0M192.2 328.2a2 1.4 0 1 0 3.9 0a2 1.4 0 1 0 -3.9 0M100.7 236.8a1.9 1.5 0 1 0 3.9 0a1.9 1.5 0 1 0 -3.9 0M197.4 237a2.4 2.2 0 1 0 4.8 0a2.4 2.2 0 1 0 -4.8 0M135.7 280.2a2.6 2.1 0 1 0 5.3 0a2.6 2.1 0 1 0 -5.3 0M77.3 326.1a2.4 2.2 0 1 0 4.8 0a2.4 2.2 0 1 0 -4.8 0M122 317.3a1.8 1.6 0 1 0 3.6 0a1.8 1.6 0 1 0 -3.6 0M89.6 355.8a3 2.5 0 1 0 6 0a3 2.5 0 1 0 -6 0M91.8 322a2.7 2.3 0 1 0 5.4 0a2.7 2.3 0 1 0 -5.4 0M151 242.9a1.6 1.5 0 1 0 3.2 0a1.6 1.5 0 1 0 -3.2 0M148.1 334.6a1.8 1.7 0 1 0 3.7 0a1.8 1.7 0 1 0 -3.7 0M75.8 244.3a2.4 1.7 0 1 0 4.7 0a2.4 1.7 0 1 0 -4.7 0M77.6 276.4a2.1 2 0 1 0 4.2 0a2.1 2 0 1 0 -4.2 0M136.1 350.8a2.9 2.1 0 1 0 5.8 0a2.9 2.1 0 1 0 -5.8 0M130.7 246.2a1.8 1.7 0 1 0 3.6 0a1.8 1.7 0 1 0 -3.6 0M150.7 246.7a2.2 1.7 0 1 0 4.4 0a2.2 1.7 0 1 0 -4.4 0M156.1 242.4a3 2.3 0 1 0 5.9 0a3 2.3 0 1 0 -5.9 0M68.8 271.2a1.6 1.5 0 1 0 3.2 0a1.6 1.5 0 1 0 -3.2 0M67.9 236.3a2.3 1.6 0 1 0 4.6 0a2.3 1.6 0 1 0 -4.6 0M114.7 285.7a1.8 1.4 0 1 0 3.5 0a1.8 1.4 0 1 0 -3.5 0M99 254a2.8 2.3 0 1 0 5.7 0a2.8 2.3 0 1 0 -5.7 0M101.5 250.6a1.8 1.6 0 1 0 3.6 0a1.8 1.6 0 1 0 -3.6 0M105 239.9a1.8 1.4 0 1 0 3.7 0a1.8 1.4 0 1 0 -3.7 0M91.5 333.4a2.9 2.1 0 1 0 5.8 0a2.9 2.1 0 1 0 -5.8 0M178.5 320.5a1.6 1.5 0 1 0 3.2 0a1.6 1.5 0 1 0 -3.2 0M122.9 231.9a2.6 2.2 0 1 0 5.3 0a2.6 2.2 0 1 0 -5.3 0M156.5 354.4a2.2 1.9 0 1 0 4.4 0a2.2 1.9 0 1 0 -4.4 0M83.4 305.7a2.5 2.4 0 1 0 5.1 0a2.5 2.4 0 1 0 -5.1 0M153.1 209.7a2.6 2.2 0 1 0 5.3 0a2.6 2.2 0 1 0 -5.3 0M171.4 287.3a2.2 2.1 0 1 0 4.3 0a2.2 2.1 0 1 0 -4.3 0M73.3 329.8a2.7 2.2 0 1 0 5.4 0a2.7 2.2 0 1 0 -5.4 0M199 330.6a2.4 1.9 0 1 0 4.9 0a2.4 1.9 0 1 0 -4.9 0M203.2 214.9a1.8 1.6 0 1 0 3.5 0a1.8 1.6 0 1 0 -3.5 0M119.3 236.8a1.6 1.4 0 1 0 3.2 0a1.6 1.4 0 1 0 -3.2 0M103.2 245.9a3.1 2.5 0 1 0 6.2 0a3.1 2.5 0 1 0 -6.2 0M81.3 310.6a1.9 1.6 0 1 0 3.7 0a1.9 1.6 0 1 0 -3.7 0M99.1 323.7a2.1 1.7 0 1 0 4.2 0a2.1 1.7 0 1 0 -4.2 0M146.8 216.7a2 1.7 0 1 0 3.9 0a2 1.7 0 1 0 -3.9 0M86.9 306a2.8 2 0 1 0 5.7 0a2.8 2 0 1 0 -5.7 0M82 214.7a2.4 2.2 0 1 0 4.8 0a2.4 2.2 0 1 0 -4.8 0M76.4 301.7a2 1.7 0 1 0 4 0a2 1.7 0 1 0 -4 0M195.2 234.2a2.3 2 0 1 0 4.6 0a2.3 2 0 1 0 -4.6 0M156.1 217.8a3 2.1 0 1 0 5.9 0a3 2.1 0 1 0 -5.9 0M157.7 303.3a2.8 2.3 0 1 0 5.7 0a2.8 2.3 0 1 0 -5.7 0M183.9 245.6a2.7 2.2 0 1 0 5.4 0a2.7 2.2 0 1 0 -5.4 0M178.1 319.6a2 1.7 0 1 0 3.9 0a2 1.7 0 1 0 -3.9 0M111.5 289.6a2.6 2 0 1 0 5.2 0a2.6 2 0 1 0 -5.2 0M108.8 232a2.3 2.1 0 1 0 4.7 0a2.3 2.1 0 1 0 -4.7 0M58 320a2 1.7 0 1 0 4.1 0a2 1.7 0 1 0 -4.1 0M105.6 220.2a1.8 1.8 0 1 0 3.6 0a1.8 1.8 0 1 0 -3.6 0M174 208.8a1.7 1.4 0 1 0 3.4 0a1.7 1.4 0 1 0 -3.4 0M134.7 332.4a2.4 2.4 0 1 0 4.9 0a2.4 2.4 0 1 0 -4.9 0M121.2 276.3a1.8 1.5 0 1 0 3.5 0a1.8 1.5 0 1 0 -3.5 0M94.1 287.5a1.9 1.6 0 1 0 3.8 0a1.9 1.6 0 1 0 -3.8 0M61.7 342.9a2.2 1.7 0 1 0 4.4 0a2.2 1.7 0 1 0 -4.4 0M200.2 207.1a2.3 2.1 0 1 0 4.6 0a2.3 2.1 0 1 0 -4.6 0M124.5 274a2.6 2.2 0 1 0 5.1 0a2.6 2.2 0 1 0 -5.1 0M61.5 249.5a2 1.7 0 1 0 4 0a2 1.7 0 1 0 -4 0M68.2 224.6a1.6 1.5 0 1 0 3.2 0a1.6 1.5 0 1 0 -3.2 0M197.5 294.9a2 1.6 0 1 0 3.9 0a2 1.6 0 1 0 -3.9 0M94.4 326.8a1.9 1.5 0 1 0 3.8 0a1.9 1.5 0 1 0 -3.8 0M87.7 344.7a2.4 1.9 0 1 0 4.8 0a2.4 1.9 0 1 0 -4.8 0M91.5 258.8a2.2 1.9 0 1 0 4.4 0a2.2 1.9 0 1 0 -4.4 0M55.4 263.8a1.8 1.5 0 1 0 3.6 0a1.8 1.5 0 1 0 -3.6 0M188.8 337.1a2.7 2.2 0 1 0 5.4 0a2.7 2.2 0 1 0 -5.4 0M180 223.2a1.9 1.9 0 1 0 3.8 0a1.9 1.9 0 1 0 -3.8 0M164.3 345.3a2 1.7 0 1 0 4.1 0a2 1.7 0 1 0 -4.1 0M133.4 272.3a2.6 2.4 0 1 0 5.3 0a2.6 2.4 0 1 0 -5.3 0M191.4 260.7a2.3 2.1 0 1 0 4.6 0a2.3 2.1 0 1 0 -4.6 0M180.8 265.8a2 1.8 0 1 0 4.1 0a2 1.8 0 1 0 -4.1 0M151.8 299.1a2.4 1.7 0 1 0 4.8 0a2.4 1.7 0 1 0 -4.8 0M123.2 310.1a2.8 2 0 1 0 5.5 0a2.8 2 0 1 0 -5.5 0M191.2 351.7a2.6 1.9 0 1 0 5.2 0a2.6 1.9 0 1 0 -5.2 0M79.3 238.1a2.5 1.9 0 1 0 5.1 0a2.5 1.9 0 1 0 -5.1 0M193.3 330.8a1.6 1.6 0 1 0 3.1 0a1.6 1.6 0 1 0 -3.1 0M126.6 323a2.6 2 0 1 0 5.2 0a2.6 2 0 1 0 -5.2 0M182.5 346a2.2 1.6 0 1 0 4.5 0a2.2 1.6 0 1 0 -4.5 0M192.8 297.6a3 2.3 0 1 0 6 0a3 2.3 0 1 0 -6 0M77.9 283a2.7 2.2 0 1 0 5.5 0a2.7 2.2 0 1 0 -5.5 0M84.9 227.4a1.9 1.6 0 1 0 3.8 0a1.9 1.6 0 1 0 -3.8 0M194.1 246.3a2.1 1.8 0 1 0 4.1 0a2.1 1.8 0 1 0 -4.1 0M87.2 250.4a1.9 1.7 0 1 0 3.9 0a1.9 1.7 0 1 0 -3.9 0M134.9 242.4a2.1 1.6 0 1 0 4.2 0a2.1 1.6 0 1 0 -4.2 0M136.1 304.4a2.8 2.3 0 1 0 5.7 0a2.8 2.3 0 1 0 -5.7 0M68.8 317.1a1.6 1.4 0 1 0 3.1 0a1.6 1.4 0 1 0 -3.1 0M70.9 228.2a2.1 1.7 0 1 0 4.2 0a2.1 1.7 0 1 0 -4.2 0M126.8 288.3a2.6 1.9 0 1 0 5.3 0a2.6 1.9 0 1 0 -5.3 0M120.6 235.9a2.5 1.8 0 1 0 5 0a2.5 1.8 0 1 0 -5 0M100 293.2a2.3 2 0 1 0 4.7 0a2.3 2 0 1 0 -4.7 0M127.1 345.8a1.9 1.5 0 1 0 3.8 0a1.9 1.5 0 1 0 -3.8 0M190.1 264.2a2.2 1.9 0 1 0 4.3 0a2.2 1.9 0 1 0 -4.3 0M149.2 255a2.6 1.9 0 1 0 5.2 0a2.6 1.9 0 1 0 -5.2 0M152.6 290.5a2.2 1.6 0 1 0 4.4 0a2.2 1.6 0 1 0 -4.4 0M55 269.5a2 1.8 0 1 0 4 0a2 1.8 0 1 0 -4 0M62.2 347.5a2.2 1.9 0 1 0 4.4 0a2.2 1.9 0 1 0 -4.4 0M140.4 264a2.6 2.4 0 1 0 5.2 0a2.6 2.4 0 1 0 -5.2 0M167.6 309.9a2 1.7 0 1 0 3.9 0a2 1.7 0 1 0 -3.9 0M174.9 211.8a1.8 1.7 0 1 0 3.6 0a1.8 1.7 0 1 0 -3.6 0M185.3 309a2.5 2.1 0 1 0 5 0a2.5 2.1 0 1 0 -5 0M134.4 326a1.9 1.6 0 1 0 3.7 0a1.9 1.6 0 1 0 -3.7 0M61.3 290.2a2.5 2.4 0 1 0 5 0a2.5 2.4 0 1 0 -5 0M159.4 339.7a2.9 2.4 0 1 0 5.9 0a2.9 2.4 0 1 0 -5.9 0M123 271.7a2.3 2.1 0 1 0 4.6 0a2.3 2.1 0 1 0 -4.6 0M133.8 271a2.4 2 0 1 0 4.8 0a2.4 2 0 1 0 -4.8 0M175.2 312.4a1.7 1.6 0 1 0 3.5 0a1.7 1.6 0 1 0 -3.5 0M64.4 281.9a1.8 1.6 0 1 0 3.5 0a1.8 1.6 0 1 0 -3.5 0M118.1 337.2a2.1 1.7 0 1 0 4.2 0a2.1 1.7 0 1 0 -4.2 0M71.5 292.6a1.7 1.5 0 1 0 3.4 0a1.7 1.5 0 1 0 -3.4 0M162 353.2a1.8 1.8 0 1 0 3.6 0a1.8 1.8 0 1 0 -3.6 0M138.4 325.6a3 2.2 0 1 0 6 0a3 2.2 0 1 0 -6 0M200.4 340.1a1.9 1.5 0 1 0 3.7 0a1.9 1.5 0 1 0 -3.7 0M86.4 276.9a2.2 1.7 0 1 0 4.3 0a2.2 1.7 0 1 0 -4.3 0M64.5 339.7a1.9 1.8 0 1 0 3.8 0a1.9 1.8 0 1 0 -3.8 0M71.1 296.7a2 2 0 1 0 4 0a2 2 0 1 0 -4 0M155.6 213.6a2.9 2.4 0 1 0 5.7 0a2.9 2.4 0 1 0 -5.7 0M168.5 230.9a1.9 1.8 0 1 0 3.8 0a1.9 1.8 0 1 0 -3.8 0M194.2 291.9a2.8 2.1 0 1 0 5.6 0a2.8 2.1 0 1 0 -5.6 0M117.6 247.7a2.6 2.2 0 1 0 5.2 0a2.6 2.2 0 1 0 -5.2 0M180.5 209.3a1.9 1.5 0 1 0 3.9 0a1.9 1.5 0 1 0 -3.9 0M109.5 209a2.2 2 0 1 0 4.4 0a2.2 2 0 1 0 -4.4 0M66.9 310.4a2 1.5 0 1 0 3.9 0a2 1.5 0 1 0 -3.9 0M136.7 257a2.5 2.2 0 1 0 5.1 0a2.5 2.2 0 1 0 -5.1 0M182.8 214.4a2.3 1.8 0 1 0 4.5 0a2.3 1.8 0 1 0 -4.5 0M77.4 280.6a1.5 1.4 0 1 0 3.1 0a1.5 1.4 0 1 0 -3.1 0M108.2 244.2a2.5 2.1 0 1 0 5 0a2.5 2.1 0 1 0 -5 0M140 312.7a2.8 2.4 0 1 0 5.7 0a2.8 2.4 0 1 0 -5.7 0M135.1 216.7a2.7 2 0 1 0 5.4 0a2.7 2 0 1 0 -5.4 0M163.3 281a2.8 2.3 0 1 0 5.5 0a2.8 2.3 0 1 0 -5.5 0M186.6 345.5a2.6 2.1 0 1 0 5.1 0a2.6 2.1 0 1 0 -5.1 0M162.6 340.9a2.3 1.9 0 1 0 4.7 0a2.3 1.9 0 1 0 -4.7 0M135.1 237.5a1.9 1.8 0 1 0 3.8 0a1.9 1.8 0 1 0 -3.8 0M55.2 238.3a2.1 1.7 0 1 0 4.1 0a2.1 1.7 0 1 0 -4.1 0M97.5 221.3a2.6 2.1 0 1 0 5.3 0a2.6 2.1 0 1 0 -5.3 0M159.9 295.6a1.8 1.5 0 1 0 3.7 0a1.8 1.5 0 1 0 -3.7 0M75.6 263.1a3.2 2.5 0 1 0 6.4 0a3.2 2.5 0 1 0 -6.4 0M178.2 229a3 2.1 0 1 0 5.9 0a3 2.1 0 1 0 -5.9 0M188.6 328.2a3.1 2.1 0 1 0 6.1 0a3.1 2.1 0 1 0 -6.1 0M77.3 327a1.8 1.7 0 1 0 3.6 0a1.8 1.7 0 1 0 -3.6 0M177 265.6a2.3 2 0 1 0 4.6 0a2.3 2 0 1 0 -4.6 0M146.8 257.6a1.8 1.7 0 1 0 3.7 0a1.8 1.7 0 1 0 -3.7 0M159.9 238.8a2.6 2.2 0 1 0 5.3 0a2.6 2.2 0 1 0 -5.3 0M131.5 267.4a1.7 1.5 0 1 0 3.4 0a1.7 1.5 0 1 0 -3.4 0M185.7 352.3a2.2 2.2 0 1 0 4.5 0a2.2 2.2 0 1 0 -4.5 0M113.7 350.9a2.5 2.1 0 1 0 5 0a2.5 2.1 0 1 0 -5 0M58.5 307.3a2.3 1.8 0 1 0 4.7 0a2.3 1.8 0 1 0 -4.7 0M141.3 219.6a2 1.5 0 1 0 4.1 0a2 1.5 0 1 0 -4.1 0M67.5 303.4a3.2 2.5 0 1 0 6.4 0a3.2 2.5 0 1 0 -6.4 0M159.6 206.4a1.9 1.6 0 1 0 3.8 0a1.9 1.6 0 1 0 -3.8 0M178.1 209.8a2.2 2.1 0 1 0 4.3 0a2.2 2.1 0 1 0 -4.3 0M64 278.8a2.9 2.3 0 1 0 5.9 0a2.9 2.3 0 1 0 -5.9 0M169.5 250.3a2.5 2 0 1 0 4.9 0a2.5 2 0 1 0 -4.9 0M141.4 272.5a2.3 1.8 0 1 0 4.5 0a2.3 1.8 0 1 0 -4.5 0M198.9 345.3a2.4 2.2 0 1 0 4.8 0a2.4 2.2 0 1 0 -4.8 0M126.2 324.7a2.6 2.1 0 1 0 5.1 0a2.6 2.1 0 1 0 -5.1 0M183.1 352.8a2.1 1.7 0 1 0 4.3 0a2.1 1.7 0 1 0 -4.3 0M108.8 301.5a2.8 2 0 1 0 5.5 0a2.8 2 0 1 0 -5.5 0M125.5 273.3a2.9 2.5 0 1 0 5.8 0a2.9 2.5 0 1 0 -5.8 0M197.9 209.5a2.3 2.1 0 1 0 4.7 0a2.3 2.1 0 1 0 -4.7 0M146.4 217.1a2.5 1.9 0 1 0 5 0a2.5 1.9 0 1 0 -5 0M133.4 265.1a1.8 1.7 0 1 0 3.5 0a1.8 1.7 0 1 0 -3.5 0M147.1 287a2.9 2.3 0 1 0 5.8 0a2.9 2.3 0 1 0 -5.8 0M112.3 286.9a1.9 1.9 0 1 0 3.7 0a1.9 1.9 0 1 0 -3.7 0M63 261.5a2.6 2.4 0 1 0 5.1 0a2.6 2.4 0 1 0 -5.1 0M54.4 227.9a2.3 1.9 0 1 0 4.6 0a2.3 1.9 0 1 0 -4.6 0M187.2 329.1a2.1 1.5 0 1 0 4.2 0a2.1 1.5 0 1 0 -4.2 0M122.5 257.9a1.6 1.6 0 1 0 3.2 0a1.6 1.6 0 1 0 -3.2 0M197.4 257.3a3.1 2.1 0 1 0 6.1 0a3.1 2.1 0 1 0 -6.1 0M142.6 236.2a2.1 1.6 0 1 0 4.2 0a2.1 1.6 0 1 0 -4.2 0M104.8 206.1a2 1.6 0 1 0 3.9 0a2 1.6 0 1 0 -3.9 0M66.2 266.7a1.9 1.4 0 1 0 3.9 0a1.9 1.4 0 1 0 -3.9 0M106.6 214.8a2.4 2 0 1 0 4.9 0a2.4 2 0 1 0 -4.9 0M106.9 343.2a2.8 2.3 0 1 0 5.5 0a2.8 2.3 0 1 0 -5.5 0M62.1 341.7a2.4 2.3 0 1 0 4.8 0a2.4 2.3 0 1 0 -4.8 0M75.6 278.2a2.1 1.6 0 1 0 4.1 0a2.1 1.6 0 1 0 -4.1 0M134.2 243.8a1.6 1.5 0 1 0 3.1 0a1.6 1.5 0 1 0 -3.1 0M118.9 282.7a2.3 1.9 0 1 0 4.6 0a2.3 1.9 0 1 0 -4.6 0M112.7 318.8a2.5 2.2 0 1 0 5.1 0a2.5 2.2 0 1 0 -5.1 0M89.4 348.5a2.6 2 0 1 0 5.3 0a2.6 2 0 1 0 -5.3 0M138.7 312.6a2.5 1.8 0 1 0 4.9 0a2.5 1.8 0 1 0 -4.9 0M170.3 253.3a2.1 1.9 0 1 0 4.2 0a2.1 1.9 0 1 0 -4.2 0M185.8 209.8a1.9 1.6 0 1 0 3.8 0a1.9 1.6 0 1 0 -3.8 0M154.9 309a2.6 2 0 1 0 5.2 0a2.6 2 0 1 0 -5.2 0M134.2 247.6a1.7 1.5 0 1 0 3.4 0a1.7 1.5 0 1 0 -3.4 0M122 320.2a2.1 2 0 1 0 4.3 0a2.1 2 0 1 0 -4.3 0M201 304a2.2 1.8 0 1 0 4.5 0a2.2 1.8 0 1 0 -4.5 0M192.4 333.5a2.4 2 0 1 0 4.7 0a2.4 2 0 1 0 -4.7 0M99.8 334.2a2 1.5 0 1 0 4.1 0a2 1.5 0 1 0 -4.1 0M118 297.3a2.1 1.6 0 1 0 4.2 0a2.1 1.6 0 1 0 -4.2 0M182.2 221.1a3 2.4 0 1 0 6 0a3 2.4 0 1 0 -6 0M165.1 233.4a2.1 2 0 1 0 4.2 0a2.1 2 0 1 0 -4.2 0M170.9 237a2 1.9 0 1 0 4 0a2 1.9 0 1 0 -4 0M156.6 214.3a2.6 1.9 0 1 0 5.3 0a2.6 1.9 0 1 0 -5.3 0M189.5 246.5a1.5 1.5 0 1 0 3.1 0a1.5 1.5 0 1 0 -3.1 0M80.6 335.2a2 1.9 0 1 0 4 0a2 1.9 0 1 0 -4 0M101.5 225.1a1.6 1.4 0 1 0 3.2 0a1.6 1.4 0 1 0 -3.2 0M127 293.3a1.6 1.6 0 1 0 3.2 0a1.6 1.6 0 1 0 -3.2 0M115 314.6a2.8 2.4 0 1 0 5.6 0a2.8 2.4 0 1 0 -5.6 0M84.3 237.2a2.6 2.1 0 1 0 5.1 0a2.6 2.1 0 1 0 -5.1 0M86.6 301.1a2 1.6 0 1 0 3.9 0a2 1.6 0 1 0 -3.9 0M202.3 263.2a2 2 0 1 0 4 0a2 2 0 1 0 -4 0M64.5 330.5a1.8 1.5 0 1 0 3.7 0a1.8 1.5 0 1 0 -3.7 0M105 349.7a2 1.8 0 1 0 4.1 0a2 1.8 0 1 0 -4.1 0M85.2 319.7a3.1 2.1 0 1 0 6.2 0a3.1 2.1 0 1 0 -6.2 0M169.2 324.5a2.7 2 0 1 0 5.4 0a2.7 2 0 1 0 -5.4 0M153.6 293a2.4 1.8 0 1 0 4.8 0a2.4 1.8 0 1 0 -4.8 0M107.3 300.7a3.1 2.4 0 1 0 6.2 0a3.1 2.4 0 1 0 -6.2 0M90.9 269a2.3 1.8 0 1 0 4.6 0a2.3 1.8 0 1 0 -4.6 0M106.6 346a2.3 1.9 0 1 0 4.6 0a2.3 1.9 0 1 0 -4.6 0M128.9 343.8a2.5 2.4 0 1 0 5 0a2.5 2.4 0 1 0 -5 0M196.1 252.1a1.9 1.9 0 1 0 3.9 0a1.9 1.9 0 1 0 -3.9 0M136.2 294.7a2.6 2 0 1 0 5.3 0a2.6 2 0 1 0 -5.3 0M134.5 272.8a2.3 1.8 0 1 0 4.6 0a2.3 1.8 0 1 0 -4.6 0M126.2 218.8a2.2 2 0 1 0 4.3 0a2.2 2 0 1 0 -4.3 0M83.6 264.5a1.8 1.6 0 1 0 3.6 0a1.8 1.6 0 1 0 -3.6 0M69.3 243.3a2.3 2.2 0 1 0 4.6 0a2.3 2.2 0 1 0 -4.6 0M113.2 237.3a2.5 2.1 0 1 0 5 0a2.5 2.1 0 1 0 -5 0M50.8 232.2a2.8 2.3 0 1 0 5.6 0a2.8 2.3 0 1 0 -5.6 0M140.8 218.7a2 1.6 0 1 0 4 0a2 1.6 0 1 0 -4 0M99.8 335.6a2 1.8 0 1 0 4 0a2 1.8 0 1 0 -4 0M179.9 247.6a2.6 2.2 0 1 0 5.3 0a2.6 2.2 0 1 0 -5.3 0M129 290.2a2.3 2 0 1 0 4.6 0a2.3 2 0 1 0 -4.6 0M88.8 271a2.7 2 0 1 0 5.5 0a2.7 2 0 1 0 -5.5 0M105.2 276.3a2 1.8 0 1 0 4 0a2 1.8 0 1 0 -4 0M86.1 330.8a2.7 2.2 0 1 0 5.5 0a2.7 2.2 0 1 0 -5.5 0M68.7 288.3a2.6 2.1 0 1 0 5.2 0a2.6 2.1 0 1 0 -5.2 0M176.5 229a2.5 2 0 1 0 5 0a2.5 2 0 1 0 -5 0M95.6 295.7a2.2 1.8 0 1 0 4.3 0a2.2 1.8 0 1 0 -4.3 0M173.2 322.2a1.7 1.6 0 1 0 3.5 0a1.7 1.6 0 1 0 -3.5 0M147.9 340.2a2 1.7 0 1 0 3.9 0a2 1.7 0 1 0 -3.9 0M58.9 286.6a1.8 1.9 0 1 0 3.7 0a1.8 1.9 0 1 0 -3.7 0M60.5 257.8a2.7 2 0 1 0 5.5 0a2.7 2 0 1 0 -5.5 0M196.7 272.8a2.6 2.3 0 1 0 5.2 0a2.6 2.3 0 1 0 -5.2 0M195.9 214.1a2.4 2.1 0 1 0 4.8 0a2.4 2.1 0 1 0 -4.8 0M142.7 244.8a1.9 1.5 0 1 0 3.7 0a1.9 1.5 0 1 0 -3.7 0M104.8 350.2a1.8 1.6 0 1 0 3.5 0a1.8 1.6 0 1 0 -3.5 0M127.6 342.5a2.2 1.7 0 1 0 4.4 0a2.2 1.7 0 1 0 -4.4 0M202.3 344.1a1.9 1.6 0 1 0 3.7 0a1.9 1.6 0 1 0 -3.7 0M122.4 294.6a2.3 2.1 0 1 0 4.6 0a2.3 2.1 0 1 0 -4.6 0M176.3 267.3a1.9 1.7 0 1 0 3.8 0a1.9 1.7 0 1 0 -3.8 0M69.5 237.1a2.1 1.8 0 1 0 4.3 0a2.1 1.8 0 1 0 -4.3 0M133.9 227.6a1.9 1.9 0 1 0 3.8 0a1.9 1.9 0 1 0 -3.8 0M121.4 331.9a1.9 1.6 0 1 0 3.7 0a1.9 1.6 0 1 0 -3.7 0M110 308.9a2.2 1.8 0 1 0 4.5 0a2.2 1.8 0 1 0 -4.5 0M92.6 321.6a2.1 1.7 0 1 0 4.2 0a2.1 1.7 0 1 0 -4.2 0M76.7 205.6a2.4 2.3 0 1 0 4.7 0a2.4 2.3 0 1 0 -4.7 0M127.5 267.5a2.1 2.1 0 1 0 4.2 0a2.1 2.1 0 1 0 -4.2 0M178.7 210.9a2.2 1.6 0 1 0 4.4 0a2.2 1.6 0 1 0 -4.4 0M72.1 326.9a3.2 2.2 0 1 0 6.5 0a3.2 2.2 0 1 0 -6.5 0M71.7 206.8a1.8 1.7 0 1 0 3.5 0a1.8 1.7 0 1 0 -3.5 0M165.8 232.5a2.2 1.7 0 1 0 4.4 0a2.2 1.7 0 1 0 -4.4 0M60.3 234.1a1.8 1.9 0 1 0 3.6 0a1.8 1.9 0 1 0 -3.6 0M198.8 276.6a2.2 1.9 0 1 0 4.5 0a2.2 1.9 0 1 0 -4.5 0M113 344.3a2.7 2.4 0 1 0 5.3 0a2.7 2.4 0 1 0 -5.3 0M195.4 251.2a2.9 2.4 0 1 0 5.7 0a2.9 2.4 0 1 0 -5.7 0M65.6 265a2.3 2.2 0 1 0 4.6 0a2.3 2.2 0 1 0 -4.6 0M111.1 291a2.5 2.2 0 1 0 5 0a2.5 2.2 0 1 0 -5 0M162.5 322.5a2 1.8 0 1 0 4 0a2 1.8 0 1 0 -4 0M118.7 276.7a2.5 1.8 0 1 0 5 0a2.5 1.8 0 1 0 -5 0M83.4 224.3a2.1 2.1 0 1 0 4.3 0a2.1 2.1 0 1 0 -4.3 0M82.2 272.9a2.5 2 0 1 0 4.9 0a2.5 2 0 1 0 -4.9 0M86.1 311.8a2.3 1.6 0 1 0 4.6 0a2.3 1.6 0 1 0 -4.6 0M97.4 280a2 1.6 0 1 0 4 0a2 1.6 0 1 0 -4 0M127.7 318.4a2.4 1.8 0 1 0 4.7 0a2.4 1.8 0 1 0 -4.7 0M106.5 260.5a1.8 1.7 0 1 0 3.6 0a1.8 1.7 0 1 0 -3.6 0M132.8 325.5a1.6 1.6 0 1 0 3.2 0a1.6 1.6 0 1 0 -3.2 0M105.5 314.8a2.6 2.1 0 1 0 5.2 0a2.6 2.1 0 1 0 -5.2 0"/>
<path fill="#9a3207" fill-opacity="0.75" d="M170.5 250.9a1.3 1.2 0 1 0 2.5 0a1.3 1.2 0 1 0 -2.5 0M118.9 236.9a1.3 1 0 1 0 2.7 0a1.3 1 0 1 0 -2.7 0M99.2 253.2a1.3 1 0 1 0 2.5 0a1.3 1 0 1 0 -2.5 0M197.6 207.7a1.4 1.1 0 1 0 2.7 0a1.4 1.1 0 1 0 -2.7 0M102.7 314.2a1.3 1.2 0 1 0 2.5 0a1.3 1.2 0 1 0 -2.5 0M83.1 311.7a1.7 1.6 0 1 0 3.5 0a1.7 1.6 0 1 0 -3.5 0M169.7 257.6a1.7 1.5 0 1 0 3.4 0a1.7 1.5 0 1 0 -3.4 0M199.9 284.6a1.8 1.5 0 1 0 3.7 0a1.8 1.5 0 1 0 -3.7 0M125.2 312.5a1.9 1.4 0 1 0 3.8 0a1.9 1.4 0 1 0 -3.8 0M83.8 303.9a2 1.3 0 1 0 3.9 0a2 1.3 0 1 0 -3.9 0M134.6 207.4a2.1 1.4 0 1 0 4.2 0a2.1 1.4 0 1 0 -4.2 0M143 252.5a1.7 1.3 0 1 0 3.4 0a1.7 1.3 0 1 0 -3.4 0M200.7 304.9a1.5 1.1 0 1 0 3.1 0a1.5 1.1 0 1 0 -3.1 0M56.2 339.6a2.2 1.4 0 1 0 4.5 0a2.2 1.4 0 1 0 -4.5 0M146.8 234.8a1.4 1.1 0 1 0 2.9 0a1.4 1.1 0 1 0 -2.9 0M53.4 323a1.8 1.2 0 1 0 3.7 0a1.8 1.2 0 1 0 -3.7 0M105.5 317.8a1.1 0.9 0 1 0 2.1 0a1.1 0.9 0 1 0 -2.1 0M78.2 245a1 0.8 0 1 0 2 0a1 0.8 0 1 0 -2 0M114.9 256.3a1 0.8 0 1 0 2 0a1 0.8 0 1 0 -2 0M63.1 250.1a1.1 0.7 0 1 0 2.2 0a1.1 0.7 0 1 0 -2.2 0M122.5 225.8a2 1.4 0 1 0 3.9 0a2 1.4 0 1 0 -3.9 0M65.1 234.7a1.3 0.8 0 1 0 2.6 0a1.3 0.8 0 1 0 -2.6 0M167.2 321.7a1.8 1.4 0 1 0 3.6 0a1.8 1.4 0 1 0 -3.6 0M105.1 303.9a1.6 1.1 0 1 0 3.2 0a1.6 1.1 0 1 0 -3.2 0M179.9 295.8a1.2 0.9 0 1 0 2.4 0a1.2 0.9 0 1 0 -2.4 0M191 212.3a1.4 1.1 0 1 0 2.7 0a1.4 1.1 0 1 0 -2.7 0M68 306.8a1 0.8 0 1 0 2 0a1 0.8 0 1 0 -2 0M63.4 356.2a1.2 0.8 0 1 0 2.3 0a1.2 0.8 0 1 0 -2.3 0M192.8 294.8a1.5 1.2 0 1 0 3 0a1.5 1.2 0 1 0 -3 0M101.7 231.9a1.7 1.4 0 1 0 3.5 0a1.7 1.4 0 1 0 -3.5 0M189.8 296.6a1.2 0.8 0 1 0 2.4 0a1.2 0.8 0 1 0 -2.4 0M182.4 319.4a1.3 1.2 0 1 0 2.6 0a1.3 1.2 0 1 0 -2.6 0M117.9 217a1.6 1.2 0 1 0 3.3 0a1.6 1.2 0 1 0 -3.3 0M182 236.9a1.2 0.8 0 1 0 2.4 0a1.2 0.8 0 1 0 -2.4 0M101.9 273.3a2 1.5 0 1 0 4 0a2 1.5 0 1 0 -4 0M177.8 345.4a1.6 1.6 0 1 0 3.3 0a1.6 1.6 0 1 0 -3.3 0M169.1 312.8a1.8 1.2 0 1 0 3.7 0a1.8 1.2 0 1 0 -3.7 0M193.3 325.3a1.2 0.9 0 1 0 2.5 0a1.2 0.9 0 1 0 -2.5 0M88.1 299.9a0.9 0.9 0 1 0 1.9 0a0.9 0.9 0 1 0 -1.9 0M145.8 342.5a0.9 0.7 0 1 0 1.9 0a0.9 0.7 0 1 0 -1.9 0M190.9 327a1.1 0.9 0 1 0 2.2 0a1.1 0.9 0 1 0 -2.2 0M146 278.2a1.4 1 0 1 0 2.8 0a1.4 1 0 1 0 -2.8 0M76 282a1.3 0.8 0 1 0 2.5 0a1.3 0.8 0 1 0 -2.5 0M53.5 302.9a1.8 1.3 0 1 0 3.6 0a1.8 1.3 0 1 0 -3.6 0M190 307.5a2.2 1.4 0 1 0 4.3 0a2.2 1.4 0 1 0 -4.3 0M117.1 236.4a1.6 1.3 0 1 0 3.2 0a1.6 1.3 0 1 0 -3.2 0M107.3 231.9a1.7 1.2 0 1 0 3.4 0a1.7 1.2 0 1 0 -3.4 0M71.3 298.1a1.7 1.4 0 1 0 3.3 0a1.7 1.4 0 1 0 -3.3 0M194.3 320.5a1.8 1.3 0 1 0 3.7 0a1.8 1.3 0 1 0 -3.7 0M130.6 236.4a1.2 0.9 0 1 0 2.5 0a1.2 0.9 0 1 0 -2.5 0M93.8 232.9a1.1 0.8 0 1 0 2.2 0a1.1 0.8 0 1 0 -2.2 0M173 314.8a2.2 1.4 0 1 0 4.5 0a2.2 1.4 0 1 0 -4.5 0M152.2 345.2a0.9 0.7 0 1 0 1.8 0a0.9 0.7 0 1 0 -1.8 0M78.8 348.4a1.7 1.3 0 1 0 3.4 0a1.7 1.3 0 1 0 -3.4 0M68.3 336a1.3 1 0 1 0 2.7 0a1.3 1 0 1 0 -2.7 0M115.5 301.3a1.7 1.5 0 1 0 3.4 0a1.7 1.5 0 1 0 -3.4 0M160.1 324.2a1.5 1.1 0 1 0 3 0a1.5 1.1 0 1 0 -3 0M86.1 289.9a2 1.5 0 1 0 4 0a2 1.5 0 1 0 -4 0M109.5 318.6a2 1.6 0 1 0 4 0a2 1.6 0 1 0 -4 0M132.2 243.6a1.7 1.5 0 1 0 3.3 0a1.7 1.5 0 1 0 -3.3 0M192.3 291.7a1.2 1 0 1 0 2.5 0a1.2 1 0 1 0 -2.5 0M164.9 308.2a1.9 1.2 0 1 0 3.7 0a1.9 1.2 0 1 0 -3.7 0M94.4 299.2a2.1 1.7 0 1 0 4.2 0a2.1 1.7 0 1 0 -4.2 0M177.5 208.6a1.5 1.3 0 1 0 3 0a1.5 1.3 0 1 0 -3 0M171.6 327a1.1 0.8 0 1 0 2.2 0a1.1 0.8 0 1 0 -2.2 0M177.4 311.8a1.6 1.3 0 1 0 3.2 0a1.6 1.3 0 1 0 -3.2 0M120.1 232.4a2.2 1.5 0 1 0 4.3 0a2.2 1.5 0 1 0 -4.3 0M137.6 236.5a1 1 0 1 0 2.1 0a1 1 0 1 0 -2.1 0M175.5 244.8a1.1 0.8 0 1 0 2.3 0a1.1 0.8 0 1 0 -2.3 0M167 242.6a1.2 1 0 1 0 2.4 0a1.2 1 0 1 0 -2.4 0M160.5 222.8a0.9 0.9 0 1 0 1.9 0a0.9 0.9 0 1 0 -1.9 0M151.1 230.3a1.4 0.9 0 1 0 2.8 0a1.4 0.9 0 1 0 -2.8 0M162.7 330.4a1.6 1.4 0 1 0 3.1 0a1.6 1.4 0 1 0 -3.1 0M191.5 289.6a1.7 1.4 0 1 0 3.4 0a1.7 1.4 0 1 0 -3.4 0M199.7 305.6a1.3 1.1 0 1 0 2.6 0a1.3 1.1 0 1 0 -2.6 0M116.2 308a1.4 1.1 0 1 0 2.7 0a1.4 1.1 0 1 0 -2.7 0M165.4 291.5a1.6 1.4 0 1 0 3.2 0a1.6 1.4 0 1 0 -3.2 0M69.8 231.3a1.2 1.2 0 1 0 2.5 0a1.2 1.2 0 1 0 -2.5 0M68.2 282.7a1.2 0.7 0 1 0 2.4 0a1.2 0.7 0 1 0 -2.4 0M182.1 252.9a1.2 1.1 0 1 0 2.3 0a1.2 1.1 0 1 0 -2.3 0M62.9 306.2a1.4 1.2 0 1 0 2.8 0a1.4 1.2 0 1 0 -2.8 0M158.7 215.1a2.2 1.6 0 1 0 4.4 0a2.2 1.6 0 1 0 -4.4 0M192.3 257.1a1.1 0.9 0 1 0 2.1 0a1.1 0.9 0 1 0 -2.1 0M154.5 221.7a2 1.4 0 1 0 3.9 0a2 1.4 0 1 0 -3.9 0M150.2 337a1.6 1.1 0 1 0 3.1 0a1.6 1.1 0 1 0 -3.1 0M171.5 333.3a1 0.9 0 1 0 2 0a1 0.9 0 1 0 -2 0M105.1 250.2a0.9 0.8 0 1 0 1.9 0a0.9 0.8 0 1 0 -1.9 0M113.9 237.7a1.4 0.9 0 1 0 2.8 0a1.4 0.9 0 1 0 -2.8 0M77.7 284.6a1.4 0.9 0 1 0 2.9 0a1.4 0.9 0 1 0 -2.9 0M61.1 343.1a1.9 1.4 0 1 0 3.7 0a1.9 1.4 0 1 0 -3.7 0M81 227.7a1.5 1.1 0 1 0 3.1 0a1.5 1.1 0 1 0 -3.1 0M127.5 217.2a1.8 1.5 0 1 0 3.6 0a1.8 1.5 0 1 0 -3.6 0M174.1 348.3a1.3 1.1 0 1 0 2.7 0a1.3 1.1 0 1 0 -2.7 0M126.3 223.2a1.1 0.8 0 1 0 2.3 0a1.1 0.8 0 1 0 -2.3 0M60.9 340.3a2.1 1.4 0 1 0 4.1 0a2.1 1.4 0 1 0 -4.1 0M105.2 347.1a1 0.8 0 1 0 2 0a1 0.8 0 1 0 -2 0M163.8 308.8a2.3 1.6 0 1 0 4.7 0a2.3 1.6 0 1 0 -4.7 0M191.3 295.6a1.2 0.9 0 1 0 2.4 0a1.2 0.9 0 1 0 -2.4 0M190.1 326.4a1.1 0.9 0 1 0 2.2 0a1.1 0.9 0 1 0 -2.2 0M168.9 227.3a1.4 1.2 0 1 0 2.8 0a1.4 1.2 0 1 0 -2.8 0M106.8 259a1.4 1 0 1 0 2.8 0a1.4 1 0 1 0 -2.8 0M131.9 216.6a1.5 1.3 0 1 0 2.9 0a1.5 1.3 0 1 0 -2.9 0M51.8 323.4a2.1 1.5 0 1 0 4.3 0a2.1 1.5 0 1 0 -4.3 0M122.5 319.4a1 0.8 0 1 0 2 0a1 0.8 0 1 0 -2 0M78.4 274.5a1.2 1.1 0 1 0 2.4 0a1.2 1.1 0 1 0 -2.4 0M118.1 224.2a1.4 1.2 0 1 0 2.8 0a1.4 1.2 0 1 0 -2.8 0M100.4 313.8a1.3 1.2 0 1 0 2.7 0a1.3 1.2 0 1 0 -2.7 0M166.4 256.2a2 1.5 0 1 0 4 0a2 1.5 0 1 0 -4 0M166.1 269.6a1.3 1.1 0 1 0 2.5 0a1.3 1.1 0 1 0 -2.5 0M91.2 325.8a1.9 1.5 0 1 0 3.8 0a1.9 1.5 0 1 0 -3.8 0M117.5 301.9a1.1 1 0 1 0 2.3 0a1.1 1 0 1 0 -2.3 0M184.5 280.4a1.9 1.4 0 1 0 3.7 0a1.9 1.4 0 1 0 -3.7 0M76.4 270.2a1.1 0.9 0 1 0 2.3 0a1.1 0.9 0 1 0 -2.3 0M196.6 323.2a1.3 1.1 0 1 0 2.6 0a1.3 1.1 0 1 0 -2.6 0M102.6 298.8a1.3 1 0 1 0 2.6 0a1.3 1 0 1 0 -2.6 0M94.3 238.7a1.6 1.3 0 1 0 3.2 0a1.6 1.3 0 1 0 -3.2 0M175 275a1.6 1.2 0 1 0 3.3 0a1.6 1.2 0 1 0 -3.3 0M70.6 262.9a1.1 0.9 0 1 0 2.3 0a1.1 0.9 0 1 0 -2.3 0M148.6 213.5a1.2 1.1 0 1 0 2.3 0a1.2 1.1 0 1 0 -2.3 0M166 235.6a1.5 1.2 0 1 0 2.9 0a1.5 1.2 0 1 0 -2.9 0M192 237.9a1.9 1.4 0 1 0 3.8 0a1.9 1.4 0 1 0 -3.8 0M121.2 270a1.2 1.2 0 1 0 2.5 0a1.2 1.2 0 1 0 -2.5 0M130.9 320.7a1.3 1.1 0 1 0 2.7 0a1.3 1.1 0 1 0 -2.7 0M69.9 314a1.4 1.3 0 1 0 2.9 0a1.4 1.3 0 1 0 -2.9 0M107.6 258.9a1.1 0.9 0 1 0 2.2 0a1.1 0.9 0 1 0 -2.2 0M129.3 268.7a1.6 1.1 0 1 0 3.3 0a1.6 1.1 0 1 0 -3.3 0M143.4 282.5a2 1.7 0 1 0 4.1 0a2 1.7 0 1 0 -4.1 0M106.8 234.4a1.3 0.8 0 1 0 2.6 0a1.3 0.8 0 1 0 -2.6 0M96.3 333.4a1.1 0.8 0 1 0 2.2 0a1.1 0.8 0 1 0 -2.2 0M85.5 348.2a1.7 1.3 0 1 0 3.4 0a1.7 1.3 0 1 0 -3.4 0M135.7 216.3a1.9 1.5 0 1 0 3.7 0a1.9 1.5 0 1 0 -3.7 0M60.4 279a1.4 1.3 0 1 0 2.7 0a1.4 1.3 0 1 0 -2.7 0M129 329.3a2.2 1.5 0 1 0 4.4 0a2.2 1.5 0 1 0 -4.4 0M104.6 301.6a1.4 1 0 1 0 2.8 0a1.4 1 0 1 0 -2.8 0M74.1 220.7a1.9 1.4 0 1 0 3.7 0a1.9 1.4 0 1 0 -3.7 0M92.9 236.2a0.9 0.9 0 1 0 1.8 0a0.9 0.9 0 1 0 -1.8 0M104.6 260.9a1.2 0.8 0 1 0 2.5 0a1.2 0.8 0 1 0 -2.5 0M196 208.7a1.9 1.5 0 1 0 3.8 0a1.9 1.5 0 1 0 -3.8 0M127.4 241.2a2 1.5 0 1 0 3.9 0a2 1.5 0 1 0 -3.9 0M184 305.1a1.6 1.4 0 1 0 3.3 0a1.6 1.4 0 1 0 -3.3 0M84.2 282.6a1.4 0.9 0 1 0 2.8 0a1.4 0.9 0 1 0 -2.8 0M111 266.4a1.4 1 0 1 0 2.8 0a1.4 1 0 1 0 -2.8 0M172 258.5a2.1 1.4 0 1 0 4.1 0a2.1 1.4 0 1 0 -4.1 0M194.2 345.5a1.2 1 0 1 0 2.4 0a1.2 1 0 1 0 -2.4 0M86.7 336.4a1.4 1 0 1 0 2.9 0a1.4 1 0 1 0 -2.9 0M195.4 337.8a1.1 1.1 0 1 0 2.3 0a1.1 1.1 0 1 0 -2.3 0M137.4 249.9a1.9 1.5 0 1 0 3.8 0a1.9 1.5 0 1 0 -3.8 0M86.2 315.7a1.4 1.3 0 1 0 2.7 0a1.4 1.3 0 1 0 -2.7 0M93.8 225.9a1.7 1.5 0 1 0 3.4 0a1.7 1.5 0 1 0 -3.4 0M116 289a2 1.2 0 1 0 3.9 0a2 1.2 0 1 0 -3.9 0M69.2 277.8a1.2 0.8 0 1 0 2.5 0a1.2 0.8 0 1 0 -2.5 0M106.2 218.1a1.2 0.9 0 1 0 2.4 0a1.2 0.9 0 1 0 -2.4 0M83.9 247.8a1.5 1.3 0 1 0 3 0a1.5 1.3 0 1 0 -3 0M149.8 208.5a2 1.3 0 1 0 4 0a2 1.3 0 1 0 -4 0M60.6 216.2a1.6 1.5 0 1 0 3.2 0a1.6 1.5 0 1 0 -3.2 0M140.8 304.7a1.4 1.1 0 1 0 2.8 0a1.4 1.1 0 1 0 -2.8 0M166.9 220.4a1.2 0.9 0 1 0 2.5 0a1.2 0.9 0 1 0 -2.5 0M144.3 264.6a1.8 1.7 0 1 0 3.6 0a1.8 1.7 0 1 0 -3.6 0M55 328.2a1 0.8 0 1 0 2 0a1 0.8 0 1 0 -2 0M189.7 225.2a1.7 1.2 0 1 0 3.3 0a1.7 1.2 0 1 0 -3.3 0M161.2 356.3a1.7 1.3 0 1 0 3.3 0a1.7 1.3 0 1 0 -3.3 0M134.4 318.7a2.3 1.7 0 1 0 4.5 0a2.3 1.7 0 1 0 -4.5 0M143.7 312.8a2.1 1.3 0 1 0 4.2 0a2.1 1.3 0 1 0 -4.2 0M85.8 266.7a1.9 1.7 0 1 0 3.8 0a1.9 1.7 0 1 0 -3.8 0M95.8 312.2a2.2 1.5 0 1 0 4.4 0a2.2 1.5 0 1 0 -4.4 0M142.1 230.7a1.7 1.3 0 1 0 3.4 0a1.7 1.3 0 1 0 -3.4 0M182.6 284.2a1.3 1.3 0 1 0 2.6 0a1.3 1.3 0 1 0 -2.6 0M156.1 335.9a1.4 1.1 0 1 0 2.7 0a1.4 1.1 0 1 0 -2.7 0M65.8 208.2a1.5 1.3 0 1 0 3.1 0a1.5 1.3 0 1 0 -3.1 0M167.6 306.3a1.4 1.2 0 1 0 2.9 0a1.4 1.2 0 1 0 -2.9 0M153.1 244.1a1.3 1.2 0 1 0 2.5 0a1.3 1.2 0 1 0 -2.5 0M117.1 238.2a1.9 1.2 0 1 0 3.8 0a1.9 1.2 0 1 0 -3.8 0M52.8 293.5a1.7 1.7 0 1 0 3.4 0a1.7 1.7 0 1 0 -3.4 0M144.3 311.8a0.9 0.7 0 1 0 1.9 0a0.9 0.7 0 1 0 -1.9 0M195.3 354.6a1.8 1.4 0 1 0 3.6 0a1.8 1.4 0 1 0 -3.6 0M71.9 354.1a1.3 0.9 0 1 0 2.7 0a1.3 0.9 0 1 0 -2.7 0M64.5 345.3a1.2 1 0 1 0 2.3 0a1.2 1 0 1 0 -2.3 0M162.2 272a1.9 1.2 0 1 0 3.8 0a1.9 1.2 0 1 0 -3.8 0M110 292.3a1.7 1.1 0 1 0 3.5 0a1.7 1.1 0 1 0 -3.5 0M88.4 259.2a2 1.4 0 1 0 3.9 0a2 1.4 0 1 0 -3.9 0M137.2 250a2.1 1.7 0 1 0 4.3 0a2.1 1.7 0 1 0 -4.3 0M111 225a1.6 1.5 0 1 0 3.2 0a1.6 1.5 0 1 0 -3.2 0M168.2 335.8a1.7 1.1 0 1 0 3.3 0a1.7 1.1 0 1 0 -3.3 0M94.7 223.4a1 0.7 0 1 0 2.1 0a1 0.7 0 1 0 -2.1 0M127.1 228.9a1.3 1 0 1 0 2.6 0a1.3 1 0 1 0 -2.6 0M148.1 298.1a1.1 1 0 1 0 2.2 0a1.1 1 0 1 0 -2.2 0M63.2 262.4a1.1 0.9 0 1 0 2.2 0a1.1 0.9 0 1 0 -2.2 0M162.6 256.4a1.9 1.6 0 1 0 3.8 0a1.9 1.6 0 1 0 -3.8 0M107.4 321.7a1.2 0.7 0 1 0 2.4 0a1.2 0.7 0 1 0 -2.4 0M164.6 254.1a1 0.7 0 1 0 2 0a1 0.7 0 1 0 -2 0M171 237.7a1 0.8 0 1 0 2.1 0a1 0.8 0 1 0 -2.1 0M149.5 313.1a1.2 0.8 0 1 0 2.3 0a1.2 0.8 0 1 0 -2.3 0M165.5 206.1a1.1 1.1 0 1 0 2.3 0a1.1 1.1 0 1 0 -2.3 0M93 265.2a1.3 0.8 0 1 0 2.6 0a1.3 0.8 0 1 0 -2.6 0M122.8 319.2a1.2 1 0 1 0 2.5 0a1.2 1 0 1 0 -2.5 0M80.5 315.2a1.7 1.2 0 1 0 3.4 0a1.7 1.2 0 1 0 -3.4 0M107.8 206.9a2.2 1.5 0 1 0 4.3 0a2.2 1.5 0 1 0 -4.3 0M131.3 294.2a1.4 1.1 0 1 0 2.7 0a1.4 1.1 0 1 0 -2.7 0M180.8 249.9a1.1 0.8 0 1 0 2.2 0a1.1 0.8 0 1 0 -2.2 0M98.7 282.3a1.9 1.6 0 1 0 3.9 0a1.9 1.6 0 1 0 -3.9 0M170.6 354.1a1.8 1.3 0 1 0 3.6 0a1.8 1.3 0 1 0 -3.6 0M157.6 317a1.5 1.1 0 1 0 3.1 0a1.5 1.1 0 1 0 -3.1 0M175.4 205.5a2.1 1.3 0 1 0 4.2 0a2.1 1.3 0 1 0 -4.2 0M178.6 245a2.1 1.6 0 1 0 4.2 0a2.1 1.6 0 1 0 -4.2 0M66.4 234.7a1.4 1.2 0 1 0 2.8 0a1.4 1.2 0 1 0 -2.8 0M197.8 343.1a1 0.9 0 1 0 2 0a1 0.9 0 1 0 -2 0M137.8 206.5a1.8 1.4 0 1 0 3.6 0a1.8 1.4 0 1 0 -3.6 0M186.4 330.1a1.1 0.9 0 1 0 2.2 0a1.1 0.9 0 1 0 -2.2 0M202.2 342.5a2.1 1.4 0 1 0 4.3 0a2.1 1.4 0 1 0 -4.3 0M159.2 334.5a1.9 1.6 0 1 0 3.8 0a1.9 1.6 0 1 0 -3.8 0M166.1 344.7a2.2 1.4 0 1 0 4.4 0a2.2 1.4 0 1 0 -4.4 0M104 279.9a0.9 0.8 0 1 0 1.8 0a0.9 0.8 0 1 0 -1.8 0M199.9 279.4a1.3 1.2 0 1 0 2.6 0a1.3 1.2 0 1 0 -2.6 0M192.9 251.9a1.8 1.3 0 1 0 3.7 0a1.8 1.3 0 1 0 -3.7 0M117.8 313.1a1.1 0.8 0 1 0 2.2 0a1.1 0.8 0 1 0 -2.2 0M61.1 242a2 1.4 0 1 0 4 0a2 1.4 0 1 0 -4 0M69.4 282.8a1.3 1.1 0 1 0 2.6 0a1.3 1.1 0 1 0 -2.6 0M106.1 254.6a2.1 1.5 0 1 0 4.1 0a2.1 1.5 0 1 0 -4.1 0M103 345.2a1.2 0.8 0 1 0 2.4 0a1.2 0.8 0 1 0 -2.4 0M60.7 230.8a2.1 1.3 0 1 0 4.2 0a2.1 1.3 0 1 0 -4.2 0M145.3 334.9a1.9 1.4 0 1 0 3.8 0a1.9 1.4 0 1 0 -3.8 0M78.5 218.1a1.8 1.6 0 1 0 3.5 0a1.8 1.6 0 1 0 -3.5 0M196.8 263.7a1.6 1.4 0 1 0 3.2 0a1.6 1.4 0 1 0 -3.2 0M71 300a1.1 0.7 0 1 0 2.2 0a1.1 0.7 0 1 0 -2.2 0M200.4 298.2a1.2 1.1 0 1 0 2.4 0a1.2 1.1 0 1 0 -2.4 0M126.9 290.8a1 0.8 0 1 0 1.9 0a1 0.8 0 1 0 -1.9 0M179.7 236.1a1 0.7 0 1 0 2.1 0a1 0.7 0 1 0 -2.1 0M57.8 221.6a1.4 1.1 0 1 0 2.9 0a1.4 1.1 0 1 0 -2.9 0M158.9 212.8a1.3 0.9 0 1 0 2.6 0a1.3 0.9 0 1 0 -2.6 0M198.2 256.4a1.7 1.1 0 1 0 3.3 0a1.7 1.1 0 1 0 -3.3 0M86.5 277.2a2.3 1.5 0 1 0 4.5 0a2.3 1.5 0 1 0 -4.5 0M63.4 345.1a1.1 1 0 1 0 2.2 0a1.1 1 0 1 0 -2.2 0M167 261.4a2.1 1.5 0 1 0 4.2 0a2.1 1.5 0 1 0 -4.2 0M186 294.3a1.1 0.8 0 1 0 2.2 0a1.1 0.8 0 1 0 -2.2 0M174.4 340.9a1.6 1 0 1 0 3.1 0a1.6 1 0 1 0 -3.1 0M138.9 305a1.7 1.4 0 1 0 3.3 0a1.7 1.4 0 1 0 -3.3 0M167.1 297.8a1.7 1 0 1 0 3.3 0a1.7 1 0 1 0 -3.3 0M184.1 222.2a1.3 0.8 0 1 0 2.6 0a1.3 0.8 0 1 0 -2.6 0M167.5 251.8a1.9 1.3 0 1 0 3.8 0a1.9 1.3 0 1 0 -3.8 0M171.8 344a1.6 1.4 0 1 0 3.1 0a1.6 1.4 0 1 0 -3.1 0M62.3 273.1a1.3 1.1 0 1 0 2.6 0a1.3 1.1 0 1 0 -2.6 0M165.3 325.2a1 0.8 0 1 0 2 0a1 0.8 0 1 0 -2 0M162.3 339.3a1.1 0.7 0 1 0 2.2 0a1.1 0.7 0 1 0 -2.2 0M56.6 298.9a1.8 1.3 0 1 0 3.5 0a1.8 1.3 0 1 0 -3.5 0M122.5 323.1a1.9 1.4 0 1 0 3.9 0a1.9 1.4 0 1 0 -3.9 0M150.6 333.8a1.8 1.2 0 1 0 3.6 0a1.8 1.2 0 1 0 -3.6 0M162.2 295.8a1.7 1.2 0 1 0 3.4 0a1.7 1.2 0 1 0 -3.4 0M90.9 294.7a1.1 0.8 0 1 0 2.1 0a1.1 0.8 0 1 0 -2.1 0M73.4 247.8a1.6 1.2 0 1 0 3.3 0a1.6 1.2 0 1 0 -3.3 0M67.3 264.4a1.5 1.5 0 1 0 3.1 0a1.5 1.5 0 1 0 -3.1 0M161.3 243.1a0.9 0.7 0 1 0 1.8 0a0.9 0.7 0 1 0 -1.8 0M152.9 216.7a1.2 0.8 0 1 0 2.4 0a1.2 0.8 0 1 0 -2.4 0M142.3 261.4a1.3 1 0 1 0 2.6 0a1.3 1 0 1 0 -2.6 0M172.1 343.6a1.7 1.3 0 1 0 3.3 0a1.7 1.3 0 1 0 -3.3 0M68.8 276.1a1.1 0.8 0 1 0 2.1 0a1.1 0.8 0 1 0 -2.1 0M72.4 269.1a1.6 1.1 0 1 0 3.3 0a1.6 1.1 0 1 0 -3.3 0M113.5 256.4a1.8 1.1 0 1 0 3.6 0a1.8 1.1 0 1 0 -3.6 0M134.1 275a1.2 1 0 1 0 2.5 0a1.2 1 0 1 0 -2.5 0M69.9 307.2a1.4 0.9 0 1 0 2.9 0a1.4 0.9 0 1 0 -2.9 0M83.5 233.6a1.9 1.5 0 1 0 3.9 0a1.9 1.5 0 1 0 -3.9 0M130.2 301.7a1.4 0.9 0 1 0 2.7 0a1.4 0.9 0 1 0 -2.7 0M184.4 269.5a1.3 1.1 0 1 0 2.6 0a1.3 1.1 0 1 0 -2.6 0M82.1 353.9a1 0.7 0 1 0 2 0a1 0.7 0 1 0 -2 0M82.9 281.1a1.1 0.8 0 1 0 2.2 0a1.1 0.8 0 1 0 -2.2 0M168 256.8a1.6 1.3 0 1 0 3.1 0a1.6 1.3 0 1 0 -3.1 0M201.2 232.2a1.9 1.2 0 1 0 3.7 0a1.9 1.2 0 1 0 -3.7 0M59.4 282.6a1.6 1.2 0 1 0 3.1 0a1.6 1.2 0 1 0 -3.1 0M102.4 327.1a1.6 1.2 0 1 0 3.2 0a1.6 1.2 0 1 0 -3.2 0M120.1 334.9a1.9 1.5 0 1 0 3.9 0a1.9 1.5 0 1 0 -3.9 0M127.4 318.2a1.1 0.8 0 1 0 2.1 0a1.1 0.8 0 1 0 -2.1 0M137.7 334.5a1.1 0.9 0 1 0 2.2 0a1.1 0.9 0 1 0 -2.2 0M89.2 298.4a1.4 1 0 1 0 2.7 0a1.4 1 0 1 0 -2.7 0M73.2 226.2a1.3 1.1 0 1 0 2.6 0a1.3 1.1 0 1 0 -2.6 0M195.3 288.8a1 0.9 0 1 0 2.1 0a1 0.9 0 1 0 -2.1 0M63.9 272a1.3 0.9 0 1 0 2.6 0a1.3 0.9 0 1 0 -2.6 0M58.7 233.4a1.5 1.3 0 1 0 3 0a1.5 1.3 0 1 0 -3 0M84 303.6a1.7 1.5 0 1 0 3.3 0a1.7 1.5 0 1 0 -3.3 0M83.6 263.5a1.3 0.9 0 1 0 2.7 0a1.3 0.9 0 1 0 -2.7 0M201.1 236.5a1.3 0.9 0 1 0 2.7 0a1.3 0.9 0 1 0 -2.7 0M77.7 255.7a1.9 1.3 0 1 0 3.7 0a1.9 1.3 0 1 0 -3.7 0M94.9 290.4a1.9 1.4 0 1 0 3.9 0a1.9 1.4 0 1 0 -3.9 0M57 273.7a2.3 1.6 0 1 0 4.6 0a2.3 1.6 0 1 0 -4.6 0M87.4 262.2a1.2 1 0 1 0 2.3 0a1.2 1 0 1 0 -2.3 0M56.9 284a1.2 1 0 1 0 2.5 0a1.2 1 0 1 0 -2.5 0M167.8 257.7a1.6 1.4 0 1 0 3.2 0a1.6 1.4 0 1 0 -3.2 0M74.2 308.6a1.5 1 0 1 0 3.1 0a1.5 1 0 1 0 -3.1 0M67.2 318.5a1.9 1.3 0 1 0 3.8 0a1.9 1.3 0 1 0 -3.8 0M142.1 270a1.8 1.5 0 1 0 3.6 0a1.8 1.5 0 1 0 -3.6 0M171.5 261.6a1.2 1.2 0 1 0 2.5 0a1.2 1.2 0 1 0 -2.5 0M128.3 276.4a1.1 0.8 0 1 0 2.2 0a1.1 0.8 0 1 0 -2.2 0M80.3 260a1.4 0.9 0 1 0 2.8 0a1.4 0.9 0 1 0 -2.8 0M203 332.7a1 0.8 0 1 0 1.9 0a1 0.8 0 1 0 -1.9 0M57.9 339.9a1.7 1.5 0 1 0 3.4 0a1.7 1.5 0 1 0 -3.4 0M198.2 248.2a1.9 1.2 0 1 0 3.9 0a1.9 1.2 0 1 0 -3.9 0M124.3 255.1a1.6 1.5 0 1 0 3.2 0a1.6 1.5 0 1 0 -3.2 0M55.4 297a1.7 1.3 0 1 0 3.4 0a1.7 1.3 0 1 0 -3.4 0M176.7 310.9a1.4 1 0 1 0 2.8 0a1.4 1 0 1 0 -2.8 0M164.4 352.8a1.5 1.3 0 1 0 3 0a1.5 1.3 0 1 0 -3 0M132.7 340.8a1.3 1.1 0 1 0 2.5 0a1.3 1.1 0 1 0 -2.5 0M143.6 279.8a1.5 1.1 0 1 0 2.9 0a1.5 1.1 0 1 0 -2.9 0M117.8 285.3a1.7 1.3 0 1 0 3.4 0a1.7 1.3 0 1 0 -3.4 0M197.4 342.5a1.3 0.9 0 1 0 2.7 0a1.3 0.9 0 1 0 -2.7 0M59.5 325.6a1.7 1.2 0 1 0 3.5 0a1.7 1.2 0 1 0 -3.5 0M58.1 264.4a1.6 1.4 0 1 0 3.1 0a1.6 1.4 0 1 0 -3.1 0M87 306.3a1 0.7 0 1 0 2.1 0a1 0.7 0 1 0 -2.1 0M111.2 351.7a0.9 0.9 0 1 0 1.8 0a0.9 0.9 0 1 0 -1.8 0M175.1 291a1.5 1.2 0 1 0 3 0a1.5 1.2 0 1 0 -3 0M175.9 225.8a1.3 0.9 0 1 0 2.7 0a1.3 0.9 0 1 0 -2.7 0M67.6 302.6a2.2 1.5 0 1 0 4.5 0a2.2 1.5 0 1 0 -4.5 0M102.5 354.6a1.9 1.3 0 1 0 3.8 0a1.9 1.3 0 1 0 -3.8 0M71.8 318.4a1.4 1 0 1 0 2.9 0a1.4 1 0 1 0 -2.9 0M156.3 282.9a0.9 0.8 0 1 0 1.9 0a0.9 0.8 0 1 0 -1.9 0M111.3 286.8a1.8 1.4 0 1 0 3.6 0a1.8 1.4 0 1 0 -3.6 0M132.9 238.9a1 0.7 0 1 0 1.9 0a1 0.7 0 1 0 -1.9 0M151.1 282.2a1 0.7 0 1 0 2 0a1 0.7 0 1 0 -2 0M62.7 335a2.2 1.6 0 1 0 4.5 0a2.2 1.6 0 1 0 -4.5 0M144.9 281.4a1.4 1.3 0 1 0 2.9 0a1.4 1.3 0 1 0 -2.9 0M122.5 343.3a1.2 1.1 0 1 0 2.5 0a1.2 1.1 0 1 0 -2.5 0M159.1 278.7a1 1 0 1 0 2.1 0a1 1 0 1 0 -2.1 0M72.2 333.1a1.6 1.1 0 1 0 3.1 0a1.6 1.1 0 1 0 -3.1 0M189.2 241.6a1.7 1.7 0 1 0 3.5 0a1.7 1.7 0 1 0 -3.5 0M97 347.2a1.7 1.3 0 1 0 3.5 0a1.7 1.3 0 1 0 -3.5 0M168.1 248a1.4 0.9 0 1 0 2.9 0a1.4 0.9 0 1 0 -2.9 0M96 235a1.1 0.8 0 1 0 2.1 0a1.1 0.8 0 1 0 -2.1 0M135.8 268.8a2 1.4 0 1 0 4.1 0a2 1.4 0 1 0 -4.1 0M151.1 340.6a2 1.7 0 1 0 3.9 0a2 1.7 0 1 0 -3.9 0M116.7 274.8a1.3 0.9 0 1 0 2.7 0a1.3 0.9 0 1 0 -2.7 0M100.2 272.4a1.1 0.7 0 1 0 2.2 0a1.1 0.7 0 1 0 -2.2 0M72.2 340.8a1.5 1.3 0 1 0 3 0a1.5 1.3 0 1 0 -3 0M114.8 208a1.2 1.1 0 1 0 2.3 0a1.2 1.1 0 1 0 -2.3 0M60.1 310.8a1.2 0.8 0 1 0 2.5 0a1.2 0.8 0 1 0 -2.5 0M166.4 344.9a1.2 0.9 0 1 0 2.4 0a1.2 0.9 0 1 0 -2.4 0M99.3 278.3a0.9 0.7 0 1 0 1.7 0a0.9 0.7 0 1 0 -1.7 0M104.7 243.1a0.9 0.7 0 1 0 1.8 0a0.9 0.7 0 1 0 -1.8 0M60.4 225.8a1.8 1.3 0 1 0 3.6 0a1.8 1.3 0 1 0 -3.6 0M183.7 231.2a1 1 0 1 0 2 0a1 1 0 1 0 -2 0M119.6 292.9a1.7 1.3 0 1 0 3.4 0a1.7 1.3 0 1 0 -3.4 0M173.3 285.7a1.6 1.4 0 1 0 3.1 0a1.6 1.4 0 1 0 -3.1 0M130.3 209.1a1.5 1 0 1 0 3 0a1.5 1 0 1 0 -3 0M70.1 354.2a1.5 1.1 0 1 0 2.9 0a1.5 1.1 0 1 0 -2.9 0M90.9 253.9a2 1.6 0 1 0 3.9 0a2 1.6 0 1 0 -3.9 0M144.3 242.4a2.2 1.3 0 1 0 4.4 0a2.2 1.3 0 1 0 -4.4 0M59.5 314.9a1.3 0.9 0 1 0 2.5 0a1.3 0.9 0 1 0 -2.5 0M130.2 246.8a1.5 1 0 1 0 2.9 0a1.5 1 0 1 0 -2.9 0M132.8 337.2a1.7 1.4 0 1 0 3.3 0a1.7 1.4 0 1 0 -3.3 0M59.5 237.4a1.1 0.9 0 1 0 2.3 0a1.1 0.9 0 1 0 -2.3 0M173.2 276.3a1.5 1.4 0 1 0 3 0a1.5 1.4 0 1 0 -3 0M192.1 256.4a1.1 0.9 0 1 0 2.2 0a1.1 0.9 0 1 0 -2.2 0M109.5 308.7a2 1.4 0 1 0 4.1 0a2 1.4 0 1 0 -4.1 0M177.1 303.3a0.9 0.7 0 1 0 1.9 0a0.9 0.7 0 1 0 -1.9 0M67.9 244.5a1.8 1.3 0 1 0 3.6 0a1.8 1.3 0 1 0 -3.6 0M134.5 302.2a1.7 1.3 0 1 0 3.3 0a1.7 1.3 0 1 0 -3.3 0M131.4 293.1a1.1 0.9 0 1 0 2.2 0a1.1 0.9 0 1 0 -2.2 0M166.6 248.3a2.1 1.6 0 1 0 4.3 0a2.1 1.6 0 1 0 -4.3 0M128.2 231a1.2 1 0 1 0 2.5 0a1.2 1 0 1 0 -2.5 0M62.8 208.4a1.7 1.5 0 1 0 3.4 0a1.7 1.5 0 1 0 -3.4 0M113.3 354.5a1.2 1 0 1 0 2.5 0a1.2 1 0 1 0 -2.5 0M147.1 337.6a1.5 1.5 0 1 0 2.9 0a1.5 1.5 0 1 0 -2.9 0M188.9 220.9a2.1 1.6 0 1 0 4.2 0a2.1 1.6 0 1 0 -4.2 0M192.8 251.6a1.8 1.4 0 1 0 3.6 0a1.8 1.4 0 1 0 -3.6 0M143.3 338.9a1.6 1.4 0 1 0 3.2 0a1.6 1.4 0 1 0 -3.2 0M113.8 221a1.9 1.6 0 1 0 3.7 0a1.9 1.6 0 1 0 -3.7 0M186.2 323.4a1.6 1.3 0 1 0 3.2 0a1.6 1.3 0 1 0 -3.2 0M111.8 327.5a1.3 1.1 0 1 0 2.5 0a1.3 1.1 0 1 0 -2.5 0M68.9 324.3a1.7 1.3 0 1 0 3.3 0a1.7 1.3 0 1 0 -3.3 0M88.8 339.6a1.6 1.1 0 1 0 3.1 0a1.6 1.1 0 1 0 -3.1 0M83.5 210.5a1.1 0.9 0 1 0 2.2 0a1.1 0.9 0 1 0 -2.2 0M60.4 220.7a1 0.9 0 1 0 2.1 0a1 0.9 0 1 0 -2.1 0M68 229.1a1.5 1.3 0 1 0 3 0a1.5 1.3 0 1 0 -3 0M87.2 303.7a1.2 0.9 0 1 0 2.5 0a1.2 0.9 0 1 0 -2.5 0M66.2 356.1a1 1 0 1 0 2.1 0a1 1 0 1 0 -2.1 0M60.8 220.7a1.1 0.9 0 1 0 2.2 0a1.1 0.9 0 1 0 -2.2 0M102.5 251.9a1.7 1.5 0 1 0 3.5 0a1.7 1.5 0 1 0 -3.5 0M158.4 338.9a1.3 1.1 0 1 0 2.7 0a1.3 1.1 0 1 0 -2.7 0M202.9 217.2a1.9 1.3 0 1 0 3.8 0a1.9 1.3 0 1 0 -3.8 0M70.7 356.1a1.5 1 0 1 0 3 0a1.5 1 0 1 0 -3 0M70.1 285.9a1.2 1.1 0 1 0 2.4 0a1.2 1.1 0 1 0 -2.4 0M188.2 292.2a1.8 1.3 0 1 0 3.5 0a1.8 1.3 0 1 0 -3.5 0M167.5 297a2.2 1.7 0 1 0 4.5 0a2.2 1.7 0 1 0 -4.5 0M58 275.8a1.1 0.8 0 1 0 2.1 0a1.1 0.8 0 1 0 -2.1 0M183.3 274.1a1.7 1.3 0 1 0 3.5 0a1.7 1.3 0 1 0 -3.5 0M183.9 210.7a1.1 0.8 0 1 0 2.1 0a1.1 0.8 0 1 0 -2.1 0M201.7 258.3a1 0.8 0 1 0 2 0a1 0.8 0 1 0 -2 0M165.3 287.7a1.3 0.9 0 1 0 2.7 0a1.3 0.9 0 1 0 -2.7 0M81.2 216.1a2 1.5 0 1 0 4 0a2 1.5 0 1 0 -4 0M198 350.9a0.8 0.7 0 1 0 1.7 0a0.8 0.7 0 1 0 -1.7 0M130.6 258.6a1.1 1 0 1 0 2.2 0a1.1 1 0 1 0 -2.2 0M126.3 268.9a1.9 1.5 0 1 0 3.8 0a1.9 1.5 0 1 0 -3.8 0M171 251.8a1.2 1 0 1 0 2.5 0a1.2 1 0 1 0 -2.5 0M93 342.3a1 0.8 0 1 0 2 0a1 0.8 0 1 0 -2 0M79.2 225.1a1.1 1 0 1 0 2.2 0a1.1 1 0 1 0 -2.2 0M134.9 226.9a1.7 1.4 0 1 0 3.4 0a1.7 1.4 0 1 0 -3.4 0M186.5 280.9a1 0.8 0 1 0 2 0a1 0.8 0 1 0 -2 0M187 241.1a1 0.8 0 1 0 2 0a1 0.8 0 1 0 -2 0M170.9 208.6a1.1 0.8 0 1 0 2.3 0a1.1 0.8 0 1 0 -2.3 0M129.2 340.4a2 1.3 0 1 0 4 0a2 1.3 0 1 0 -4 0M148.4 227.8a1.6 1.3 0 1 0 3.2 0a1.6 1.3 0 1 0 -3.2 0M138.3 243.6a1.1 0.8 0 1 0 2.3 0a1.1 0.8 0 1 0 -2.3 0M99.1 287.2a1.7 1.1 0 1 0 3.5 0a1.7 1.1 0 1 0 -3.5 0M178.3 305.2a2 1.5 0 1 0 4 0a2 1.5 0 1 0 -4 0M92.6 257.6a1.8 1.7 0 1 0 3.7 0a1.8 1.7 0 1 0 -3.7 0M90.8 274.3a2.1 1.6 0 1 0 4.2 0a2.1 1.6 0 1 0 -4.2 0M53.7 264.8a1.1 1 0 1 0 2.3 0a1.1 1 0 1 0 -2.3 0M91.1 345.7a1.7 1.7 0 1 0 3.5 0a1.7 1.7 0 1 0 -3.5 0M160 230.5a1.2 0.9 0 1 0 2.3 0a1.2 0.9 0 1 0 -2.3 0M97.7 321.7a1.4 1.3 0 1 0 2.9 0a1.4 1.3 0 1 0 -2.9 0M96 230.9a1.2 1.2 0 1 0 2.5 0a1.2 1.2 0 1 0 -2.5 0M56.6 354a2.3 1.6 0 1 0 4.6 0a2.3 1.6 0 1 0 -4.6 0M201.7 211.9a1.3 1 0 1 0 2.7 0a1.3 1 0 1 0 -2.7 0M156.3 328.9a1.2 1.1 0 1 0 2.5 0a1.2 1.1 0 1 0 -2.5 0M182.3 354.5a1.2 1.2 0 1 0 2.3 0a1.2 1.2 0 1 0 -2.3 0M158.8 211.4a1.4 1.3 0 1 0 2.9 0a1.4 1.3 0 1 0 -2.9 0M138.7 345.7a1.3 1.1 0 1 0 2.7 0a1.3 1.1 0 1 0 -2.7 0M65.7 266.5a1.2 1.1 0 1 0 2.3 0a1.2 1.1 0 1 0 -2.3 0M138.9 314a1.5 1.2 0 1 0 2.9 0a1.5 1.2 0 1 0 -2.9 0M80.3 300.3a1.1 1.1 0 1 0 2.3 0a1.1 1.1 0 1 0 -2.3 0M71.7 352.8a1.4 1.1 0 1 0 2.8 0a1.4 1.1 0 1 0 -2.8 0M89 338.1a1.3 1 0 1 0 2.7 0a1.3 1 0 1 0 -2.7 0M133.7 308.6a1.7 1.5 0 1 0 3.4 0a1.7 1.5 0 1 0 -3.4 0M184.7 282.3a1.4 1 0 1 0 2.9 0a1.4 1 0 1 0 -2.9 0M144 245a1.6 1 0 1 0 3.1 0a1.6 1 0 1 0 -3.1 0M102.1 304.7a1.8 1.1 0 1 0 3.6 0a1.8 1.1 0 1 0 -3.6 0M92 231.8a1.1 0.9 0 1 0 2.1 0a1.1 0.9 0 1 0 -2.1 0M178 235.1a1.5 1.3 0 1 0 3.1 0a1.5 1.3 0 1 0 -3.1 0M70.7 241.2a2 1.4 0 1 0 3.9 0a2 1.4 0 1 0 -3.9 0M186.5 222a1.4 0.9 0 1 0 2.7 0a1.4 0.9 0 1 0 -2.7 0M120.1 269.8a1.1 0.8 0 1 0 2.1 0a1.1 0.8 0 1 0 -2.1 0M134.3 256.4a1.5 1.3 0 1 0 3 0a1.5 1.3 0 1 0 -3 0M184.6 298.3a1.8 1.3 0 1 0 3.7 0a1.8 1.3 0 1 0 -3.7 0M188.2 235.1a1.1 0.7 0 1 0 2.3 0a1.1 0.7 0 1 0 -2.3 0M129.8 269.9a1 0.7 0 1 0 2 0a1 0.7 0 1 0 -2 0M158 332.6a1.4 1.1 0 1 0 2.9 0a1.4 1.1 0 1 0 -2.9 0M142.8 351.7a1.3 0.8 0 1 0 2.5 0a1.3 0.8 0 1 0 -2.5 0M191 213.7a1.4 1.1 0 1 0 2.7 0a1.4 1.1 0 1 0 -2.7 0M89.7 232.5a1.7 1.3 0 1 0 3.4 0a1.7 1.3 0 1 0 -3.4 0M114.9 242.1a1.1 1.1 0 1 0 2.3 0a1.1 1.1 0 1 0 -2.3 0M173.2 226.1a1.9 1.5 0 1 0 3.9 0a1.9 1.5 0 1 0 -3.9 0M147.9 318.4a1.1 0.9 0 1 0 2.3 0a1.1 0.9 0 1 0 -2.3 0M147.9 314.5a1.1 1 0 1 0 2.2 0a1.1 1 0 1 0 -2.2 0M115.6 352.7a2.3 1.7 0 1 0 4.6 0a2.3 1.7 0 1 0 -4.6 0"/>
<path fill="#d99814" d="M119.6 289.8a2.4 1.9 0 1 0 4.7 0a2.4 1.9 0 1 0 -4.7 0M79.2 282.6a2.2 1.5 0 1 0 4.4 0a2.2 1.5 0 1 0 -4.4 0M65.3 327.6a1.8 1.8 0 1 0 3.6 0a1.8 1.8 0 1 0 -3.6 0M151.3 298.3a1.3 1.2 0 1 0 2.5 0a1.3 1.2 0 1 0 -2.5 0M81 241.8a1.3 1 0 1 0 2.5 0a1.3 1 0 1 0 -2.5 0M130.2 302a1.9 1.5 0 1 0 3.9 0a1.9 1.5 0 1 0 -3.9 0M202.2 355.7a2.4 1.7 0 1 0 4.8 0a2.4 1.7 0 1 0 -4.8 0M95.1 215.8a2.1 1.8 0 1 0 4.2 0a2.1 1.8 0 1 0 -4.2 0M197.5 333.3a1.2 1.1 0 1 0 2.3 0a1.2 1.1 0 1 0 -2.3 0M200.6 265.3a1.4 1.1 0 1 0 2.8 0a1.4 1.1 0 1 0 -2.8 0M64 255.5a2.6 1.7 0 1 0 5.2 0a2.6 1.7 0 1 0 -5.2 0M66.7 214.3a2 1.8 0 1 0 4 0a2 1.8 0 1 0 -4 0M80.9 315.9a1.5 1 0 1 0 2.9 0a1.5 1 0 1 0 -2.9 0M83 246a2.7 1.8 0 1 0 5.3 0a2.7 1.8 0 1 0 -5.3 0M83 264.8a2.4 1.6 0 1 0 4.8 0a2.4 1.6 0 1 0 -4.8 0M83.6 244.3a2.1 1.6 0 1 0 4.2 0a2.1 1.6 0 1 0 -4.2 0M65.5 293.3a1.6 1.2 0 1 0 3.2 0a1.6 1.2 0 1 0 -3.2 0M196.7 278.3a2.2 1.4 0 1 0 4.3 0a2.2 1.4 0 1 0 -4.3 0M189.7 328.9a1.4 1.3 0 1 0 2.9 0a1.4 1.3 0 1 0 -2.9 0M80.8 348.9a2.4 1.8 0 1 0 4.8 0a2.4 1.8 0 1 0 -4.8 0M57.6 350.8a1.6 1.2 0 1 0 3.2 0a1.6 1.2 0 1 0 -3.2 0M142.3 249.6a1.5 1.1 0 1 0 3.1 0a1.5 1.1 0 1 0 -3.1 0M136.3 334.1a1.9 1.7 0 1 0 3.7 0a1.9 1.7 0 1 0 -3.7 0M54.3 245.9a1.6 1.3 0 1 0 3.2 0a1.6 1.3 0 1 0 -3.2 0M138.3 225.1a1.9 1.5 0 1 0 3.7 0a1.9 1.5 0 1 0 -3.7 0M156.9 293.6a1.3 1 0 1 0 2.5 0a1.3 1 0 1 0 -2.5 0M158.4 350.8a1.3 1 0 1 0 2.6 0a1.3 1 0 1 0 -2.6 0M100.4 356.3a1.4 1.1 0 1 0 2.7 0a1.4 1.1 0 1 0 -2.7 0M162.7 311.6a2.5 1.7 0 1 0 5 0a2.5 1.7 0 1 0 -5 0M188.1 336.9a1.9 1.5 0 1 0 3.8 0a1.9 1.5 0 1 0 -3.8 0M146.1 263a2 1.4 0 1 0 4 0a2 1.4 0 1 0 -4 0M201.9 338.2a2.1 1.8 0 1 0 4.1 0a2.1 1.8 0 1 0 -4.1 0M118.8 332a1.4 1 0 1 0 2.9 0a1.4 1 0 1 0 -2.9 0M124.2 240a2.1 1.7 0 1 0 4.2 0a2.1 1.7 0 1 0 -4.2 0M90.5 206.9a1.7 1.2 0 1 0 3.4 0a1.7 1.2 0 1 0 -3.4 0M188.7 305a2 1.4 0 1 0 4 0a2 1.4 0 1 0 -4 0M81 270.4a2.5 1.9 0 1 0 5 0a2.5 1.9 0 1 0 -5 0M140.4 253.1a1.4 1.2 0 1 0 2.8 0a1.4 1.2 0 1 0 -2.8 0M159.8 348.8a1.4 1.2 0 1 0 2.9 0a1.4 1.2 0 1 0 -2.9 0M83.8 267.8a2 1.5 0 1 0 4 0a2 1.5 0 1 0 -4 0M201.1 273.6a1.2 1.1 0 1 0 2.4 0a1.2 1.1 0 1 0 -2.4 0M159.1 291.5a1.8 1.2 0 1 0 3.5 0a1.8 1.2 0 1 0 -3.5 0M120.3 208.9a2.1 1.6 0 1 0 4.2 0a2.1 1.6 0 1 0 -4.2 0M146.7 272.7a2.1 1.7 0 1 0 4.2 0a2.1 1.7 0 1 0 -4.2 0M155.5 235.3a1.7 1.3 0 1 0 3.3 0a1.7 1.3 0 1 0 -3.3 0M160.2 232.3a1.5 1.3 0 1 0 3 0a1.5 1.3 0 1 0 -3 0M144.7 319.5a1.9 1.5 0 1 0 3.7 0a1.9 1.5 0 1 0 -3.7 0M193.4 314.4a1.4 1.1 0 1 0 2.8 0a1.4 1.1 0 1 0 -2.8 0M108 291.2a2.5 2 0 1 0 5.1 0a2.5 2 0 1 0 -5.1 0M149.8 236.2a2.3 1.7 0 1 0 4.7 0a2.3 1.7 0 1 0 -4.7 0M82.9 341.3a2.8 1.9 0 1 0 5.6 0a2.8 1.9 0 1 0 -5.6 0M99.8 342.8a2.2 1.6 0 1 0 4.4 0a2.2 1.6 0 1 0 -4.4 0M135.2 321.4a1.6 1.5 0 1 0 3.2 0a1.6 1.5 0 1 0 -3.2 0M172.9 231.3a1.8 1.2 0 1 0 3.6 0a1.8 1.2 0 1 0 -3.6 0M129.3 314.6a2.4 1.9 0 1 0 4.8 0a2.4 1.9 0 1 0 -4.8 0M195.8 218.2a1.5 1.2 0 1 0 3.1 0a1.5 1.2 0 1 0 -3.1 0M147.9 284.2a2.3 1.7 0 1 0 4.6 0a2.3 1.7 0 1 0 -4.6 0M179.9 341.4a1.6 1.3 0 1 0 3.3 0a1.6 1.3 0 1 0 -3.3 0M138.4 235.6a1.9 1.5 0 1 0 3.8 0a1.9 1.5 0 1 0 -3.8 0M198.5 283.2a1.9 1.4 0 1 0 3.8 0a1.9 1.4 0 1 0 -3.8 0M156.3 215.2a1.9 1.6 0 1 0 3.7 0a1.9 1.6 0 1 0 -3.7 0M92.8 276.7a1.4 1.2 0 1 0 2.8 0a1.4 1.2 0 1 0 -2.8 0M124.1 253.2a1.5 1.3 0 1 0 3.1 0a1.5 1.3 0 1 0 -3.1 0M170.2 208.6a1.4 1.2 0 1 0 2.8 0a1.4 1.2 0 1 0 -2.8 0M105.8 298.9a1.5 1 0 1 0 2.9 0a1.5 1 0 1 0 -2.9 0M89.5 235.1a1.9 1.5 0 1 0 3.7 0a1.9 1.5 0 1 0 -3.7 0M132.1 229.4a1.5 1.2 0 1 0 3.1 0a1.5 1.2 0 1 0 -3.1 0M180.3 297.7a2.1 1.9 0 1 0 4.2 0a2.1 1.9 0 1 0 -4.2 0M188.4 253a1.8 1.2 0 1 0 3.6 0a1.8 1.2 0 1 0 -3.6 0M186.3 225.5a1.6 1.2 0 1 0 3.3 0a1.6 1.2 0 1 0 -3.3 0M177.6 269a2 1.7 0 1 0 3.9 0a2 1.7 0 1 0 -3.9 0M53.8 235.6a2.3 1.8 0 1 0 4.7 0a2.3 1.8 0 1 0 -4.7 0M128.1 319.8a2 1.4 0 1 0 3.9 0a2 1.4 0 1 0 -3.9 0M67.6 210.9a1.9 1.5 0 1 0 3.9 0a1.9 1.5 0 1 0 -3.9 0M78.8 236a2.6 1.9 0 1 0 5.2 0a2.6 1.9 0 1 0 -5.2 0M60.8 349.1a1.9 1.4 0 1 0 3.9 0a1.9 1.4 0 1 0 -3.9 0M129.8 270.2a1.7 1.6 0 1 0 3.4 0a1.7 1.6 0 1 0 -3.4 0M78.8 273.8a2.1 1.6 0 1 0 4.2 0a2.1 1.6 0 1 0 -4.2 0M128.6 207.5a2.5 1.9 0 1 0 5.1 0a2.5 1.9 0 1 0 -5.1 0M146.8 266.4a2 1.7 0 1 0 4 0a2 1.7 0 1 0 -4 0M90.2 343a2.3 1.8 0 1 0 4.7 0a2.3 1.8 0 1 0 -4.7 0M187.1 338.2a2.3 1.7 0 1 0 4.5 0a2.3 1.7 0 1 0 -4.5 0M161.3 215.9a1.7 1.2 0 1 0 3.3 0a1.7 1.2 0 1 0 -3.3 0M148.5 299.6a1.7 1.3 0 1 0 3.4 0a1.7 1.3 0 1 0 -3.4 0M151.6 291.3a1.8 1.6 0 1 0 3.7 0a1.8 1.6 0 1 0 -3.7 0M157.6 320.4a2.1 2 0 1 0 4.2 0a2.1 2 0 1 0 -4.2 0M91.1 265.9a1.2 1 0 1 0 2.4 0a1.2 1 0 1 0 -2.4 0M89.5 342.1a1.9 1.7 0 1 0 3.8 0a1.9 1.7 0 1 0 -3.8 0M202.3 301.7a2 1.8 0 1 0 3.9 0a2 1.8 0 1 0 -3.9 0M58.8 345.8a1.4 1.1 0 1 0 2.9 0a1.4 1.1 0 1 0 -2.9 0M143.7 214.1a2.3 1.9 0 1 0 4.7 0a2.3 1.9 0 1 0 -4.7 0M106.7 248.4a2.1 1.5 0 1 0 4.2 0a2.1 1.5 0 1 0 -4.2 0M96.9 207.3a1.4 1.2 0 1 0 2.7 0a1.4 1.2 0 1 0 -2.7 0M110.6 340.9a1.9 1.9 0 1 0 3.8 0a1.9 1.9 0 1 0 -3.8 0M62.8 342.1a1.8 1.5 0 1 0 3.5 0a1.8 1.5 0 1 0 -3.5 0M130.6 346.9a2.1 1.8 0 1 0 4.2 0a2.1 1.8 0 1 0 -4.2 0M142.9 222.6a2 1.5 0 1 0 4 0a2 1.5 0 1 0 -4 0M131.6 224a1.9 1.4 0 1 0 3.7 0a1.9 1.4 0 1 0 -3.7 0M139.4 268.6a2.2 1.9 0 1 0 4.4 0a2.2 1.9 0 1 0 -4.4 0M163.2 241.2a1.5 1.2 0 1 0 3 0a1.5 1.2 0 1 0 -3 0M105.7 246.3a2.1 1.7 0 1 0 4.2 0a2.1 1.7 0 1 0 -4.2 0M165.9 233.9a1.7 1.3 0 1 0 3.5 0a1.7 1.3 0 1 0 -3.5 0M57.8 214.4a1.5 1.3 0 1 0 3.1 0a1.5 1.3 0 1 0 -3.1 0M134.1 216.2a1.4 1.1 0 1 0 2.8 0a1.4 1.1 0 1 0 -2.8 0M108.5 277.6a1.4 1.2 0 1 0 2.9 0a1.4 1.2 0 1 0 -2.9 0M62.4 223.3a2.3 1.8 0 1 0 4.6 0a2.3 1.8 0 1 0 -4.6 0M115.6 244.2a2.2 1.8 0 1 0 4.3 0a2.2 1.8 0 1 0 -4.3 0M100.3 288.2a2.4 1.7 0 1 0 4.8 0a2.4 1.7 0 1 0 -4.8 0M66.9 337.5a1.2 1.1 0 1 0 2.4 0a1.2 1.1 0 1 0 -2.4 0M155.4 250.4a1.9 1.6 0 1 0 3.8 0a1.9 1.6 0 1 0 -3.8 0M63.5 251.1a2.3 1.6 0 1 0 4.5 0a2.3 1.6 0 1 0 -4.5 0M106.1 315a1.5 1.4 0 1 0 3 0a1.5 1.4 0 1 0 -3 0M190.3 347.3a2.3 2 0 1 0 4.6 0a2.3 2 0 1 0 -4.6 0M98.9 265.6a2.7 1.8 0 1 0 5.3 0a2.7 1.8 0 1 0 -5.3 0M107.1 260.1a1.7 1.3 0 1 0 3.4 0a1.7 1.3 0 1 0 -3.4 0M171.9 286.9a2.3 1.7 0 1 0 4.6 0a2.3 1.7 0 1 0 -4.6 0M185.7 247.8a1.3 1 0 1 0 2.6 0a1.3 1 0 1 0 -2.6 0M198 303.7a1.9 1.8 0 1 0 3.9 0a1.9 1.8 0 1 0 -3.9 0M63.7 217.5a2.4 1.5 0 1 0 4.8 0a2.4 1.5 0 1 0 -4.8 0M73.3 318a1.9 1.5 0 1 0 3.8 0a1.9 1.5 0 1 0 -3.8 0M130.8 320.8a1.7 1.5 0 1 0 3.3 0a1.7 1.5 0 1 0 -3.3 0M126 286.4a2.3 1.8 0 1 0 4.5 0a2.3 1.8 0 1 0 -4.5 0M176.2 306a2.5 1.9 0 1 0 5 0a2.5 1.9 0 1 0 -5 0M196.6 302a2 1.6 0 1 0 4 0a2 1.6 0 1 0 -4 0M114.7 227.3a2.5 1.6 0 1 0 4.9 0a2.5 1.6 0 1 0 -4.9 0M82.6 269.5a1.8 1.2 0 1 0 3.6 0a1.8 1.2 0 1 0 -3.6 0M68.8 303.2a2 1.6 0 1 0 4 0a2 1.6 0 1 0 -4 0M140.8 342.7a1.2 1 0 1 0 2.3 0a1.2 1 0 1 0 -2.3 0M87.3 313.6a1.8 1.5 0 1 0 3.6 0a1.8 1.5 0 1 0 -3.6 0M77.9 319.7a1.6 1.4 0 1 0 3.3 0a1.6 1.4 0 1 0 -3.3 0M90.6 339.4a2.3 1.9 0 1 0 4.5 0a2.3 1.9 0 1 0 -4.5 0M125.1 238.6a1.4 1.1 0 1 0 2.9 0a1.4 1.1 0 1 0 -2.9 0M131.6 283.2a1.8 1.3 0 1 0 3.6 0a1.8 1.3 0 1 0 -3.6 0M53.2 276.7a1.8 1.4 0 1 0 3.7 0a1.8 1.4 0 1 0 -3.7 0M75.7 228.9a1.5 1.4 0 1 0 3.1 0a1.5 1.4 0 1 0 -3.1 0M148.4 355.4a1.6 1.2 0 1 0 3.2 0a1.6 1.2 0 1 0 -3.2 0M51.1 329.4a2.5 1.6 0 1 0 5 0a2.5 1.6 0 1 0 -5 0M160.2 219.9a1.8 1.6 0 1 0 3.6 0a1.8 1.6 0 1 0 -3.6 0M181.2 251.1a2.2 1.9 0 1 0 4.3 0a2.2 1.9 0 1 0 -4.3 0M176.7 236.7a1.9 1.4 0 1 0 3.9 0a1.9 1.4 0 1 0 -3.9 0M99.3 252.2a1.3 1.1 0 1 0 2.6 0a1.3 1.1 0 1 0 -2.6 0M106.6 309.1a1.3 1.1 0 1 0 2.7 0a1.3 1.1 0 1 0 -2.7 0M178 304.1a1.2 1 0 1 0 2.4 0a1.2 1 0 1 0 -2.4 0M137.5 274.5a1.4 1.1 0 1 0 2.8 0a1.4 1.1 0 1 0 -2.8 0M145.1 249.1a1.7 1.3 0 1 0 3.5 0a1.7 1.3 0 1 0 -3.5 0M111.4 306a1.4 1.3 0 1 0 2.9 0a1.4 1.3 0 1 0 -2.9 0M194.6 290.3a2 1.8 0 1 0 4.1 0a2 1.8 0 1 0 -4.1 0M72.5 219.5a2.2 1.5 0 1 0 4.4 0a2.2 1.5 0 1 0 -4.4 0M179 294.8a1.3 1 0 1 0 2.5 0a1.3 1 0 1 0 -2.5 0M112.8 216.2a2.3 1.9 0 1 0 4.6 0a2.3 1.9 0 1 0 -4.6 0M168 329.4a1.6 1.3 0 1 0 3.3 0a1.6 1.3 0 1 0 -3.3 0M111.5 311a2.7 2 0 1 0 5.3 0a2.7 2 0 1 0 -5.3 0M54.5 255.2a1.7 1.2 0 1 0 3.5 0a1.7 1.2 0 1 0 -3.5 0M128.3 324.4a2.3 1.6 0 1 0 4.7 0a2.3 1.6 0 1 0 -4.7 0M188.6 288.1a1.7 1.2 0 1 0 3.4 0a1.7 1.2 0 1 0 -3.4 0M200.7 283.2a2.3 1.6 0 1 0 4.7 0a2.3 1.6 0 1 0 -4.7 0M147.2 235.1a1.3 1.1 0 1 0 2.5 0a1.3 1.1 0 1 0 -2.5 0M101.6 345.7a1.7 1.2 0 1 0 3.3 0a1.7 1.2 0 1 0 -3.3 0M72 341.9a1.9 1.5 0 1 0 3.9 0a1.9 1.5 0 1 0 -3.9 0M188.9 355.2a2.3 1.6 0 1 0 4.6 0a2.3 1.6 0 1 0 -4.6 0M95.6 340.8a1.6 1.3 0 1 0 3.1 0a1.6 1.3 0 1 0 -3.1 0M135.3 216.7a1.2 1.1 0 1 0 2.4 0a1.2 1.1 0 1 0 -2.4 0M151 251.7a2.2 1.6 0 1 0 4.4 0a2.2 1.6 0 1 0 -4.4 0M173.8 207.7a1.5 1.1 0 1 0 3 0a1.5 1.1 0 1 0 -3 0M138 231.5a1.8 1.5 0 1 0 3.5 0a1.8 1.5 0 1 0 -3.5 0M148.8 210.9a1.9 1.8 0 1 0 3.7 0a1.9 1.8 0 1 0 -3.7 0M122.5 267.4a2.1 1.7 0 1 0 4.2 0a2.1 1.7 0 1 0 -4.2 0M124.5 355.6a2.5 1.7 0 1 0 5 0a2.5 1.7 0 1 0 -5 0M137.3 342.1a1.9 1.5 0 1 0 3.8 0a1.9 1.5 0 1 0 -3.8 0M99.6 213.5a2.4 1.8 0 1 0 4.8 0a2.4 1.8 0 1 0 -4.8 0M165.7 251.3a1.7 1.4 0 1 0 3.5 0a1.7 1.4 0 1 0 -3.5 0M128.2 265.2a1.4 1.1 0 1 0 2.7 0a1.4 1.1 0 1 0 -2.7 0M98.5 265a1.4 1.3 0 1 0 2.7 0a1.4 1.3 0 1 0 -2.7 0M152.4 336.2a1.9 1.3 0 1 0 3.8 0a1.9 1.3 0 1 0 -3.8 0M137.9 341.8a1.5 1 0 1 0 2.9 0a1.5 1 0 1 0 -2.9 0M196.1 205.3a1.5 1.2 0 1 0 2.9 0a1.5 1.2 0 1 0 -2.9 0M187.4 328.5a1.7 1.4 0 1 0 3.3 0a1.7 1.4 0 1 0 -3.3 0M56.5 341.1a1.6 1.4 0 1 0 3.2 0a1.6 1.4 0 1 0 -3.2 0M123.3 236.4a1.8 1.4 0 1 0 3.6 0a1.8 1.4 0 1 0 -3.6 0M178.8 258.7a1.7 1.5 0 1 0 3.3 0a1.7 1.5 0 1 0 -3.3 0M82.4 300.8a1.6 1.1 0 1 0 3.2 0a1.6 1.1 0 1 0 -3.2 0M160.8 252.5a2.6 1.9 0 1 0 5.2 0a2.6 1.9 0 1 0 -5.2 0M157.3 347a1.6 1.3 0 1 0 3.2 0a1.6 1.3 0 1 0 -3.2 0M159.7 234.9a1.4 1.2 0 1 0 2.7 0a1.4 1.2 0 1 0 -2.7 0M107.5 305.3a2.4 1.7 0 1 0 4.8 0a2.4 1.7 0 1 0 -4.8 0M192.3 306.1a1.6 1.2 0 1 0 3.3 0a1.6 1.2 0 1 0 -3.3 0M118.5 285.1a1.7 1.5 0 1 0 3.3 0a1.7 1.5 0 1 0 -3.3 0M90.2 326.6a1.3 1.1 0 1 0 2.6 0a1.3 1.1 0 1 0 -2.6 0M94.1 288.1a1.6 1.3 0 1 0 3.2 0a1.6 1.3 0 1 0 -3.2 0M121.5 318.7a1.9 1.4 0 1 0 3.8 0a1.9 1.4 0 1 0 -3.8 0M135.9 302.7a1.8 1.4 0 1 0 3.5 0a1.8 1.4 0 1 0 -3.5 0M128 333a2.1 1.8 0 1 0 4.2 0a2.1 1.8 0 1 0 -4.2 0M169.8 230.2a1.8 1.5 0 1 0 3.7 0a1.8 1.5 0 1 0 -3.7 0M171.1 324.8a1.5 1.2 0 1 0 3.1 0a1.5 1.2 0 1 0 -3.1 0M126.9 210.5a2.1 1.6 0 1 0 4.2 0a2.1 1.6 0 1 0 -4.2 0M79.4 228.2a1.3 1 0 1 0 2.5 0a1.3 1 0 1 0 -2.5 0M91.8 325.9a1.5 1.1 0 1 0 2.9 0a1.5 1.1 0 1 0 -2.9 0M172.1 241.2a1.4 1 0 1 0 2.7 0a1.4 1 0 1 0 -2.7 0M146 284.6a1.6 1.2 0 1 0 3.2 0a1.6 1.2 0 1 0 -3.2 0M77.9 243.7a1.5 1.2 0 1 0 3 0a1.5 1.2 0 1 0 -3 0M61.1 267.3a1.6 1.5 0 1 0 3.1 0a1.6 1.5 0 1 0 -3.1 0M125.4 320.3a2.2 1.9 0 1 0 4.4 0a2.2 1.9 0 1 0 -4.4 0M57.3 241.6a2.1 1.8 0 1 0 4.2 0a2.1 1.8 0 1 0 -4.2 0M116.3 216.8a1.4 1.1 0 1 0 2.9 0a1.4 1.1 0 1 0 -2.9 0M86.5 243.5a1.8 1.5 0 1 0 3.6 0a1.8 1.5 0 1 0 -3.6 0M106.1 256.2a2.5 1.7 0 1 0 5.1 0a2.5 1.7 0 1 0 -5.1 0M150.2 214a1.8 1.4 0 1 0 3.5 0a1.8 1.4 0 1 0 -3.5 0M185.9 275.1a1.9 1.3 0 1 0 3.8 0a1.9 1.3 0 1 0 -3.8 0M84.6 257.7a1.5 1.1 0 1 0 3 0a1.5 1.1 0 1 0 -3 0M84.3 275.9a1.6 1.4 0 1 0 3.2 0a1.6 1.4 0 1 0 -3.2 0M182.7 236.1a1.5 1.4 0 1 0 3 0a1.5 1.4 0 1 0 -3 0M93.6 208a1.4 1.1 0 1 0 2.8 0a1.4 1.1 0 1 0 -2.8 0M160.3 245.8a1.5 1.4 0 1 0 3.1 0a1.5 1.4 0 1 0 -3.1 0M167.5 314.6a2 1.8 0 1 0 4 0a2 1.8 0 1 0 -4 0M64.2 338.6a1.8 1.3 0 1 0 3.5 0a1.8 1.3 0 1 0 -3.5 0M111.9 241.2a1.2 1.1 0 1 0 2.4 0a1.2 1.1 0 1 0 -2.4 0M99 269.3a1.7 1.6 0 1 0 3.4 0a1.7 1.6 0 1 0 -3.4 0M162.1 305.9a1.3 1.1 0 1 0 2.6 0a1.3 1.1 0 1 0 -2.6 0M112.7 263.6a2.1 1.7 0 1 0 4.2 0a2.1 1.7 0 1 0 -4.2 0M84.8 211.4a1.3 1 0 1 0 2.6 0a1.3 1 0 1 0 -2.6 0M199 250.3a2.3 1.5 0 1 0 4.6 0a2.3 1.5 0 1 0 -4.6 0M152.3 349.6a2.1 1.9 0 1 0 4.3 0a2.1 1.9 0 1 0 -4.3 0M117 264.5a1.3 1 0 1 0 2.6 0a1.3 1 0 1 0 -2.6 0M94.1 229.2a1.7 1.3 0 1 0 3.5 0a1.7 1.3 0 1 0 -3.5 0M88.1 219.3a1.6 1.2 0 1 0 3.3 0a1.6 1.2 0 1 0 -3.3 0M157.9 288.8a1.8 1.6 0 1 0 3.6 0a1.8 1.6 0 1 0 -3.6 0M61.6 266.3a1.3 1.1 0 1 0 2.6 0a1.3 1.1 0 1 0 -2.6 0M101.5 243.5a1.2 1.1 0 1 0 2.5 0a1.2 1.1 0 1 0 -2.5 0M91.6 306.2a1.5 1.2 0 1 0 2.9 0a1.5 1.2 0 1 0 -2.9 0M105.8 292.3a2.6 1.9 0 1 0 5.2 0a2.6 1.9 0 1 0 -5.2 0M114 268a1.7 1.3 0 1 0 3.4 0a1.7 1.3 0 1 0 -3.4 0M189.9 211a1.4 1.1 0 1 0 2.8 0a1.4 1.1 0 1 0 -2.8 0M200.1 227.9a1.4 1.2 0 1 0 2.8 0a1.4 1.2 0 1 0 -2.8 0M51.9 287.4a1.6 1.4 0 1 0 3.2 0a1.6 1.4 0 1 0 -3.2 0M134.4 299.6a2.1 1.7 0 1 0 4.2 0a2.1 1.7 0 1 0 -4.2 0M104.2 339.2a1.7 1.3 0 1 0 3.4 0a1.7 1.3 0 1 0 -3.4 0M198 329.8a1.5 1.1 0 1 0 3 0a1.5 1.1 0 1 0 -3 0M107.2 248.4a2.2 1.6 0 1 0 4.4 0a2.2 1.6 0 1 0 -4.4 0M101 232.1a1.7 1.3 0 1 0 3.4 0a1.7 1.3 0 1 0 -3.4 0M67.5 311.8a1.4 1.2 0 1 0 2.7 0a1.4 1.2 0 1 0 -2.7 0M76 336.2a2 1.7 0 1 0 4 0a2 1.7 0 1 0 -4 0M172.2 264.5a2 1.7 0 1 0 3.9 0a2 1.7 0 1 0 -3.9 0M101.5 320a2.5 1.8 0 1 0 5 0a2.5 1.8 0 1 0 -5 0M158.1 299.4a2.5 1.6 0 1 0 4.9 0a2.5 1.6 0 1 0 -4.9 0M153.6 240.1a1.3 1.2 0 1 0 2.6 0a1.3 1.2 0 1 0 -2.6 0M198.5 225.4a2 1.7 0 1 0 4.1 0a2 1.7 0 1 0 -4.1 0M193.5 354.7a1.4 1 0 1 0 2.7 0a1.4 1 0 1 0 -2.7 0M94.6 315.8a2.2 1.9 0 1 0 4.4 0a2.2 1.9 0 1 0 -4.4 0M134 278.2a1.6 1.4 0 1 0 3.2 0a1.6 1.4 0 1 0 -3.2 0M94.3 264.4a2.2 1.7 0 1 0 4.3 0a2.2 1.7 0 1 0 -4.3 0M156.6 287.7a2 1.6 0 1 0 4 0a2 1.6 0 1 0 -4 0M193.3 243.2a1.6 1.4 0 1 0 3.3 0a1.6 1.4 0 1 0 -3.3 0M137.3 226.9a1.9 1.5 0 1 0 3.8 0a1.9 1.5 0 1 0 -3.8 0M107.7 244.4a1.2 1.1 0 1 0 2.3 0a1.2 1.1 0 1 0 -2.3 0M63.2 232.8a2.1 1.4 0 1 0 4.2 0a2.1 1.4 0 1 0 -4.2 0M124.6 267.9a2.2 1.6 0 1 0 4.3 0a2.2 1.6 0 1 0 -4.3 0M151.2 299.4a1.8 1.3 0 1 0 3.5 0a1.8 1.3 0 1 0 -3.5 0M118.7 331.3a1.9 1.5 0 1 0 3.9 0a1.9 1.5 0 1 0 -3.9 0M69.6 216.5a1.8 1.3 0 1 0 3.6 0a1.8 1.3 0 1 0 -3.6 0M52.9 237a2.1 1.9 0 1 0 4.1 0a2.1 1.9 0 1 0 -4.1 0M171.6 316.4a1.9 1.5 0 1 0 3.8 0a1.9 1.5 0 1 0 -3.8 0M200.5 220.4a2.3 2 0 1 0 4.7 0a2.3 2 0 1 0 -4.7 0M189.5 208.8a1.8 1.5 0 1 0 3.6 0a1.8 1.5 0 1 0 -3.6 0M151.2 327.8a1.8 1.3 0 1 0 3.5 0a1.8 1.3 0 1 0 -3.5 0M189.3 253.8a1.3 1.1 0 1 0 2.6 0a1.3 1.1 0 1 0 -2.6 0M164.2 287.8a1.9 1.5 0 1 0 3.8 0a1.9 1.5 0 1 0 -3.8 0M105.3 270.3a1.3 1 0 1 0 2.5 0a1.3 1 0 1 0 -2.5 0M133.2 349.2a1.6 1.2 0 1 0 3.3 0a1.6 1.2 0 1 0 -3.3 0M67.8 354.5a2 1.3 0 1 0 4 0a2 1.3 0 1 0 -4 0M158.8 232.1a1.7 1.4 0 1 0 3.3 0a1.7 1.4 0 1 0 -3.3 0M79 259.2a2.2 2 0 1 0 4.4 0a2.2 2 0 1 0 -4.4 0M148.8 237.3a2.2 1.7 0 1 0 4.4 0a2.2 1.7 0 1 0 -4.4 0M128.4 291a1.5 1.1 0 1 0 3 0a1.5 1.1 0 1 0 -3 0M152.7 268.6a1.6 1.4 0 1 0 3.2 0a1.6 1.4 0 1 0 -3.2 0M129.5 210.1a2 1.6 0 1 0 4 0a2 1.6 0 1 0 -4 0M192.6 228.2a2.1 1.5 0 1 0 4.1 0a2.1 1.5 0 1 0 -4.1 0M163.2 354.8a1.9 1.3 0 1 0 3.8 0a1.9 1.3 0 1 0 -3.8 0M125.5 240.6a2.4 1.9 0 1 0 4.8 0a2.4 1.9 0 1 0 -4.8 0M172.2 282.6a2.1 2.1 0 1 0 4.3 0a2.1 2.1 0 1 0 -4.3 0M89.6 327.2a1.8 1.5 0 1 0 3.6 0a1.8 1.5 0 1 0 -3.6 0M94.4 302.5a1.4 1.1 0 1 0 2.7 0a1.4 1.1 0 1 0 -2.7 0M87.6 326.2a2.5 1.8 0 1 0 5 0a2.5 1.8 0 1 0 -5 0M172.7 228.1a1.5 1.2 0 1 0 3 0a1.5 1.2 0 1 0 -3 0M183.2 331.3a1.3 1.1 0 1 0 2.6 0a1.3 1.1 0 1 0 -2.6 0M145.5 341.6a1.5 1 0 1 0 3 0a1.5 1 0 1 0 -3 0M184.7 315.2a1.6 1.2 0 1 0 3.1 0a1.6 1.2 0 1 0 -3.1 0M103 252.9a1.9 1.6 0 1 0 3.8 0a1.9 1.6 0 1 0 -3.8 0M78.7 224.6a2.1 1.5 0 1 0 4.2 0a2.1 1.5 0 1 0 -4.2 0M194.5 297.4a1.5 1.5 0 1 0 3.1 0a1.5 1.5 0 1 0 -3.1 0M163.4 259.7a1.6 1.2 0 1 0 3.2 0a1.6 1.2 0 1 0 -3.2 0M116.1 329.2a1.7 1.4 0 1 0 3.5 0a1.7 1.4 0 1 0 -3.5 0M104.3 311.6a1.6 1.2 0 1 0 3.1 0a1.6 1.2 0 1 0 -3.1 0M94.8 334.4a2 1.8 0 1 0 4.1 0a2 1.8 0 1 0 -4.1 0M164.5 296.1a1.6 1.4 0 1 0 3.2 0a1.6 1.4 0 1 0 -3.2 0M118.6 349.5a1.7 1.3 0 1 0 3.4 0a1.7 1.3 0 1 0 -3.4 0M113.6 225.2a2.2 1.8 0 1 0 4.3 0a2.2 1.8 0 1 0 -4.3 0M175.8 333.8a2 1.4 0 1 0 4 0a2 1.4 0 1 0 -4 0M65 260.2a1.8 1.4 0 1 0 3.6 0a1.8 1.4 0 1 0 -3.6 0M188.2 348.8a1.3 1 0 1 0 2.6 0a1.3 1 0 1 0 -2.6 0M121.7 253a2.1 1.8 0 1 0 4.3 0a2.1 1.8 0 1 0 -4.3 0M201.5 264.9a2.4 1.8 0 1 0 4.7 0a2.4 1.8 0 1 0 -4.7 0M61.7 275.1a1.8 1.3 0 1 0 3.6 0a1.8 1.3 0 1 0 -3.6 0M83.8 261.1a1.4 1.2 0 1 0 2.8 0a1.4 1.2 0 1 0 -2.8 0M76.5 303.3a2.1 1.5 0 1 0 4.3 0a2.1 1.5 0 1 0 -4.3 0M162.8 322.5a1.4 1 0 1 0 2.8 0a1.4 1 0 1 0 -2.8 0M195.4 340.6a1.2 1 0 1 0 2.5 0a1.2 1 0 1 0 -2.5 0M68.6 324.5a1.6 1.2 0 1 0 3.2 0a1.6 1.2 0 1 0 -3.2 0M71.3 218.6a1.8 1.6 0 1 0 3.5 0a1.8 1.6 0 1 0 -3.5 0M114.7 213.4a1.5 1.2 0 1 0 3 0a1.5 1.2 0 1 0 -3 0M180.3 221a2.1 2 0 1 0 4.1 0a2.1 2 0 1 0 -4.1 0M112.4 297.8a2.6 1.8 0 1 0 5.2 0a2.6 1.8 0 1 0 -5.2 0M74.4 328.9a2.3 1.6 0 1 0 4.6 0a2.3 1.6 0 1 0 -4.6 0M55.9 221.9a1.8 1.3 0 1 0 3.6 0a1.8 1.3 0 1 0 -3.6 0M59.1 268.1a1.3 1 0 1 0 2.5 0a1.3 1 0 1 0 -2.5 0M101 279.1a2.3 1.8 0 1 0 4.5 0a2.3 1.8 0 1 0 -4.5 0M127.7 341.9a1.6 1.4 0 1 0 3.3 0a1.6 1.4 0 1 0 -3.3 0M107.4 270.1a1.8 1.4 0 1 0 3.5 0a1.8 1.4 0 1 0 -3.5 0M59.6 331.6a1.3 1.1 0 1 0 2.7 0a1.3 1.1 0 1 0 -2.7 0M85.5 220.2a1.6 1.3 0 1 0 3.2 0a1.6 1.3 0 1 0 -3.2 0M165.8 278.9a1.2 1.1 0 1 0 2.5 0a1.2 1.1 0 1 0 -2.5 0M141.6 350.5a1.7 1.3 0 1 0 3.5 0a1.7 1.3 0 1 0 -3.5 0M144.1 294.3a1.6 1.3 0 1 0 3.3 0a1.6 1.3 0 1 0 -3.3 0M60 219.2a1.5 1.3 0 1 0 2.9 0a1.5 1.3 0 1 0 -2.9 0M182.1 266a1.7 1.2 0 1 0 3.3 0a1.7 1.2 0 1 0 -3.3 0M177.7 254.8a1.8 1.4 0 1 0 3.5 0a1.8 1.4 0 1 0 -3.5 0M60.7 320.7a1.3 1.1 0 1 0 2.7 0a1.3 1.1 0 1 0 -2.7 0M147.7 208.6a2.6 1.9 0 1 0 5.1 0a2.6 1.9 0 1 0 -5.1 0M162.7 268.5a2.4 1.8 0 1 0 4.7 0a2.4 1.8 0 1 0 -4.7 0M169.8 271.8a2.1 1.7 0 1 0 4.2 0a2.1 1.7 0 1 0 -4.2 0M69.4 253.6a1.9 1.5 0 1 0 3.8 0a1.9 1.5 0 1 0 -3.8 0M153.1 288.1a1.3 1.1 0 1 0 2.5 0a1.3 1.1 0 1 0 -2.5 0M136.9 344.6a1.5 1.2 0 1 0 2.9 0a1.5 1.2 0 1 0 -2.9 0M70.5 337.3a1.6 1.4 0 1 0 3.2 0a1.6 1.4 0 1 0 -3.2 0M153.7 345.5a1.9 1.4 0 1 0 3.9 0a1.9 1.4 0 1 0 -3.9 0M67.9 317.4a1.5 1.1 0 1 0 3 0a1.5 1.1 0 1 0 -3 0M76.3 258.1a2 1.5 0 1 0 4 0a2 1.5 0 1 0 -4 0M179.1 259.4a2 1.7 0 1 0 3.9 0a2 1.7 0 1 0 -3.9 0M157.5 240.5a1.7 1.3 0 1 0 3.3 0a1.7 1.3 0 1 0 -3.3 0M61.3 329.9a1.8 1.3 0 1 0 3.6 0a1.8 1.3 0 1 0 -3.6 0M135.9 352.7a2.3 1.8 0 1 0 4.7 0a2.3 1.8 0 1 0 -4.7 0M165.8 220.7a1.8 1.2 0 1 0 3.5 0a1.8 1.2 0 1 0 -3.5 0M138 288.6a1.5 1.4 0 1 0 3 0a1.5 1.4 0 1 0 -3 0M173.5 220a2 1.6 0 1 0 4.1 0a2 1.6 0 1 0 -4.1 0M143.6 223.5a2.2 1.9 0 1 0 4.5 0a2.2 1.9 0 1 0 -4.5 0M155.3 260.2a2.6 1.8 0 1 0 5.1 0a2.6 1.8 0 1 0 -5.1 0M162.2 245.2a1.4 1.2 0 1 0 2.7 0a1.4 1.2 0 1 0 -2.7 0M96.4 243.4a1.4 1.1 0 1 0 2.8 0a1.4 1.1 0 1 0 -2.8 0M93.4 282.2a2.1 1.9 0 1 0 4.2 0a2.1 1.9 0 1 0 -4.2 0M143.6 287.4a2.2 1.7 0 1 0 4.3 0a2.2 1.7 0 1 0 -4.3 0M169.5 244.5a1.5 1 0 1 0 2.9 0a1.5 1 0 1 0 -2.9 0M87 273.7a1.8 1.5 0 1 0 3.6 0a1.8 1.5 0 1 0 -3.6 0M137.5 257.9a1.7 1.1 0 1 0 3.4 0a1.7 1.1 0 1 0 -3.4 0M151 216.1a2.1 1.9 0 1 0 4.1 0a2.1 1.9 0 1 0 -4.1 0M201.3 252a2 1.9 0 1 0 4 0a2 1.9 0 1 0 -4 0M55.3 291.5a2.6 2.1 0 1 0 5.2 0a2.6 2.1 0 1 0 -5.2 0M130.7 216.9a1.7 1.5 0 1 0 3.4 0a1.7 1.5 0 1 0 -3.4 0M127 235.1a2.1 1.6 0 1 0 4.1 0a2.1 1.6 0 1 0 -4.1 0M124.7 289.5a2.5 1.8 0 1 0 5 0a2.5 1.8 0 1 0 -5 0M101.5 311.4a2.7 2 0 1 0 5.5 0a2.7 2 0 1 0 -5.5 0M182.3 346.6a1.3 1 0 1 0 2.5 0a1.3 1 0 1 0 -2.5 0M144.2 297.9a2.1 1.9 0 1 0 4.2 0a2.1 1.9 0 1 0 -4.2 0M55.6 222.1a2.6 1.6 0 1 0 5.2 0a2.6 1.6 0 1 0 -5.2 0M177.3 309.3a1.9 1.6 0 1 0 3.9 0a1.9 1.6 0 1 0 -3.9 0M51 215.5a2.5 1.9 0 1 0 5.1 0a2.5 1.9 0 1 0 -5.1 0M102.9 257.6a1.3 1 0 1 0 2.7 0a1.3 1 0 1 0 -2.7 0M131.1 255.9a2 1.5 0 1 0 4.1 0a2 1.5 0 1 0 -4.1 0M78.5 227.9a1.5 1.3 0 1 0 3.1 0a1.5 1.3 0 1 0 -3.1 0M87.9 304.1a1.6 1.2 0 1 0 3.1 0a1.6 1.2 0 1 0 -3.1 0M79.8 240.3a1.5 1.3 0 1 0 3.1 0a1.5 1.3 0 1 0 -3.1 0M171.8 286.9a1.4 1 0 1 0 2.9 0a1.4 1 0 1 0 -2.9 0M114.6 354.9a1.6 1.4 0 1 0 3.3 0a1.6 1.4 0 1 0 -3.3 0M109.7 225.7a2.4 1.7 0 1 0 4.8 0a2.4 1.7 0 1 0 -4.8 0M108.8 248.6a2.1 1.5 0 1 0 4.2 0a2.1 1.5 0 1 0 -4.2 0M54 280.6a1.5 1.5 0 1 0 3 0a1.5 1.5 0 1 0 -3 0M81.8 338a2.7 1.8 0 1 0 5.5 0a2.7 1.8 0 1 0 -5.5 0M72.7 313.2a2.2 1.7 0 1 0 4.4 0a2.2 1.7 0 1 0 -4.4 0M184.8 315a2.4 1.8 0 1 0 4.8 0a2.4 1.8 0 1 0 -4.8 0M93.6 347.2a1.2 1 0 1 0 2.5 0a1.2 1 0 1 0 -2.5 0M98.5 232.8a1.4 1.1 0 1 0 2.8 0a1.4 1.1 0 1 0 -2.8 0M166.9 284.8a2.1 1.8 0 1 0 4.2 0a2.1 1.8 0 1 0 -4.2 0M97.9 320.2a2.4 1.7 0 1 0 4.8 0a2.4 1.7 0 1 0 -4.8 0M137.1 249.7a2.5 1.7 0 1 0 5 0a2.5 1.7 0 1 0 -5 0M180 275.5a1.6 1.3 0 1 0 3.3 0a1.6 1.3 0 1 0 -3.3 0M167.8 265.8a1.2 1 0 1 0 2.4 0a1.2 1 0 1 0 -2.4 0M83.8 208.2a1.6 1.2 0 1 0 3.3 0a1.6 1.2 0 1 0 -3.3 0M122.7 232.8a1.2 0.9 0 1 0 2.4 0a1.2 0.9 0 1 0 -2.4 0M145.3 261a1.9 1.4 0 1 0 3.8 0a1.9 1.4 0 1 0 -3.8 0M185.6 293a1.8 1.4 0 1 0 3.6 0a1.8 1.4 0 1 0 -3.6 0M189.3 240.5a2.6 2 0 1 0 5.3 0a2.6 2 0 1 0 -5.3 0M129.1 354.1a1.5 1.3 0 1 0 2.9 0a1.5 1.3 0 1 0 -2.9 0M139.6 229a2.3 1.7 0 1 0 4.5 0a2.3 1.7 0 1 0 -4.5 0M103.9 289.8a2.1 1.5 0 1 0 4.1 0a2.1 1.5 0 1 0 -4.1 0M52 280.3a1.6 1.3 0 1 0 3.2 0a1.6 1.3 0 1 0 -3.2 0M65.1 280.4a1.9 1.6 0 1 0 3.8 0a1.9 1.6 0 1 0 -3.8 0M118.5 218a2.1 1.9 0 1 0 4.1 0a2.1 1.9 0 1 0 -4.1 0M90.2 341.7a1.8 1.5 0 1 0 3.7 0a1.8 1.5 0 1 0 -3.7 0M125.9 278.1a1.7 1.3 0 1 0 3.5 0a1.7 1.3 0 1 0 -3.5 0M80.7 237.7a2.5 2 0 1 0 4.9 0a2.5 2 0 1 0 -4.9 0M155 325.8a2.3 1.8 0 1 0 4.6 0a2.3 1.8 0 1 0 -4.6 0M175.2 251.1a1.7 1.1 0 1 0 3.4 0a1.7 1.1 0 1 0 -3.4 0M103.2 324.9a2.2 1.7 0 1 0 4.5 0a2.2 1.7 0 1 0 -4.5 0M61.6 306.1a1.5 1.2 0 1 0 3.1 0a1.5 1.2 0 1 0 -3.1 0M79.1 310.2a2.5 1.7 0 1 0 5 0a2.5 1.7 0 1 0 -5 0M161.1 214.1a2.5 1.9 0 1 0 5 0a2.5 1.9 0 1 0 -5 0M137.7 347.8a2 1.6 0 1 0 4 0a2 1.6 0 1 0 -4 0M54.8 229.5a2 1.8 0 1 0 4.1 0a2 1.8 0 1 0 -4.1 0M157.1 283.2a1.5 1.2 0 1 0 3.1 0a1.5 1.2 0 1 0 -3.1 0M155.6 347.7a1.8 1.4 0 1 0 3.7 0a1.8 1.4 0 1 0 -3.7 0M195.1 298.8a2.6 1.8 0 1 0 5.2 0a2.6 1.8 0 1 0 -5.2 0M131.2 279a1.4 1 0 1 0 2.8 0a1.4 1 0 1 0 -2.8 0M164.8 243a1.5 1.1 0 1 0 3 0a1.5 1.1 0 1 0 -3 0M62.3 213.1a1.7 1.4 0 1 0 3.4 0a1.7 1.4 0 1 0 -3.4 0M114.7 266.7a1.5 1.3 0 1 0 3 0a1.5 1.3 0 1 0 -3 0M116.8 308.9a2.2 1.8 0 1 0 4.4 0a2.2 1.8 0 1 0 -4.4 0M188.1 243.2a2.2 1.5 0 1 0 4.4 0a2.2 1.5 0 1 0 -4.4 0M168.1 213.8a1.4 1.1 0 1 0 2.9 0a1.4 1.1 0 1 0 -2.9 0M161.3 253.5a2.3 1.8 0 1 0 4.6 0a2.3 1.8 0 1 0 -4.6 0M116.9 221.3a2.1 1.5 0 1 0 4.1 0a2.1 1.5 0 1 0 -4.1 0M62.1 245.9a2.1 1.5 0 1 0 4.1 0a2.1 1.5 0 1 0 -4.1 0M138.5 317.7a1.8 1.4 0 1 0 3.6 0a1.8 1.4 0 1 0 -3.6 0M59.2 312.6a1.2 1.1 0 1 0 2.5 0a1.2 1.1 0 1 0 -2.5 0M62.8 264.3a1.6 1.6 0 1 0 3.2 0a1.6 1.6 0 1 0 -3.2 0M125.3 294.1a1.8 1.2 0 1 0 3.7 0a1.8 1.2 0 1 0 -3.7 0M85.1 336.1a1.8 1.4 0 1 0 3.6 0a1.8 1.4 0 1 0 -3.6 0M90.3 324.8a2.1 1.6 0 1 0 4.2 0a2.1 1.6 0 1 0 -4.2 0M120.1 252.9a2 1.5 0 1 0 3.9 0a2 1.5 0 1 0 -3.9 0M120.1 276.8a2.3 1.8 0 1 0 4.6 0a2.3 1.8 0 1 0 -4.6 0M199.6 324a1.8 1.4 0 1 0 3.6 0a1.8 1.4 0 1 0 -3.6 0M161 348.8a2.1 1.6 0 1 0 4.3 0a2.1 1.6 0 1 0 -4.3 0M85.5 321.7a2.2 1.5 0 1 0 4.3 0a2.2 1.5 0 1 0 -4.3 0M53.9 268.1a2 1.8 0 1 0 4.1 0a2 1.8 0 1 0 -4.1 0M112.1 355.4a1.6 1.1 0 1 0 3.3 0a1.6 1.1 0 1 0 -3.3 0M176.1 331.8a1.8 1.4 0 1 0 3.5 0a1.8 1.4 0 1 0 -3.5 0M165 292.7a1.6 1.2 0 1 0 3.3 0a1.6 1.2 0 1 0 -3.3 0M201 225.8a2.1 1.8 0 1 0 4.2 0a2.1 1.8 0 1 0 -4.2 0M93.1 291a1.9 1.4 0 1 0 3.8 0a1.9 1.4 0 1 0 -3.8 0M187.1 305.5a1.7 1.2 0 1 0 3.5 0a1.7 1.2 0 1 0 -3.5 0M143.1 274.8a2.2 1.5 0 1 0 4.3 0a2.2 1.5 0 1 0 -4.3 0M105.6 319.9a1.3 1.1 0 1 0 2.5 0a1.3 1.1 0 1 0 -2.5 0M177.5 262.7a1.5 1.3 0 1 0 3 0a1.5 1.3 0 1 0 -3 0M108.8 304.6a1.4 1.2 0 1 0 2.7 0a1.4 1.2 0 1 0 -2.7 0M90 232.1a1.2 1.2 0 1 0 2.5 0a1.2 1.2 0 1 0 -2.5 0M91.7 279.2a1.8 1.8 0 1 0 3.6 0a1.8 1.8 0 1 0 -3.6 0M83.4 311.6a2 1.8 0 1 0 4 0a2 1.8 0 1 0 -4 0M123.3 252.6a1.9 1.4 0 1 0 3.9 0a1.9 1.4 0 1 0 -3.9 0M201.5 239a1.6 1.1 0 1 0 3.1 0a1.6 1.1 0 1 0 -3.1 0M103.2 271.7a1.9 1.5 0 1 0 3.9 0a1.9 1.5 0 1 0 -3.9 0M77.4 258.9a1.9 1.8 0 1 0 3.9 0a1.9 1.8 0 1 0 -3.9 0M86.1 260.3a1.6 1.1 0 1 0 3.2 0a1.6 1.1 0 1 0 -3.2 0M60.9 332.4a2 1.4 0 1 0 3.9 0a2 1.4 0 1 0 -3.9 0M104.7 354.1a2.2 1.4 0 1 0 4.4 0a2.2 1.4 0 1 0 -4.4 0M55.2 310.6a1.4 1.2 0 1 0 2.8 0a1.4 1.2 0 1 0 -2.8 0M100.7 275.9a1.6 1.2 0 1 0 3.3 0a1.6 1.2 0 1 0 -3.3 0M89.8 249.4a1.4 1.2 0 1 0 2.7 0a1.4 1.2 0 1 0 -2.7 0M91.9 222.3a2.3 1.8 0 1 0 4.5 0a2.3 1.8 0 1 0 -4.5 0M185.8 319.2a2.1 1.6 0 1 0 4.2 0a2.1 1.6 0 1 0 -4.2 0M114.2 264.2a1.8 1.5 0 1 0 3.7 0a1.8 1.5 0 1 0 -3.7 0M171.6 340.2a1.3 1.2 0 1 0 2.7 0a1.3 1.2 0 1 0 -2.7 0M172.7 299a1.5 1.4 0 1 0 2.9 0a1.5 1.4 0 1 0 -2.9 0M154.9 309.8a2.1 1.7 0 1 0 4.3 0a2.1 1.7 0 1 0 -4.3 0M184.3 355.1a2.6 1.7 0 1 0 5.2 0a2.6 1.7 0 1 0 -5.2 0M198.8 287.4a1.8 1.6 0 1 0 3.6 0a1.8 1.6 0 1 0 -3.6 0M201.4 216.6a2.1 1.8 0 1 0 4.2 0a2.1 1.8 0 1 0 -4.2 0M148.2 221.9a2.2 1.5 0 1 0 4.3 0a2.2 1.5 0 1 0 -4.3 0M141.7 293.3a1.4 1.2 0 1 0 2.9 0a1.4 1.2 0 1 0 -2.9 0M84.4 272.8a1.8 1.5 0 1 0 3.6 0a1.8 1.5 0 1 0 -3.6 0M54.2 238.5a1.9 1.5 0 1 0 3.8 0a1.9 1.5 0 1 0 -3.8 0M102.3 350a1.7 1.6 0 1 0 3.4 0a1.7 1.6 0 1 0 -3.4 0M175 314.7a1.9 1.5 0 1 0 3.8 0a1.9 1.5 0 1 0 -3.8 0M73.5 235.7a1.2 1 0 1 0 2.4 0a1.2 1 0 1 0 -2.4 0M100.1 244.4a2.1 1.8 0 1 0 4.1 0a2.1 1.8 0 1 0 -4.1 0M193.3 211.8a1.9 1.6 0 1 0 3.7 0a1.9 1.6 0 1 0 -3.7 0M159.7 233.2a2.1 1.4 0 1 0 4.2 0a2.1 1.4 0 1 0 -4.2 0M191.3 307.2a1.2 1 0 1 0 2.5 0a1.2 1 0 1 0 -2.5 0M178.9 311.1a2.6 2 0 1 0 5.1 0a2.6 2 0 1 0 -5.1 0M160.8 279.8a1.3 1 0 1 0 2.6 0a1.3 1 0 1 0 -2.6 0M58.4 209.4a2.4 1.8 0 1 0 4.7 0a2.4 1.8 0 1 0 -4.7 0M141.8 343.5a1.5 1.2 0 1 0 2.9 0a1.5 1.2 0 1 0 -2.9 0M137.5 241.3a1.6 1.1 0 1 0 3.1 0a1.6 1.1 0 1 0 -3.1 0M56.5 233.9a2 1.5 0 1 0 4 0a2 1.5 0 1 0 -4 0M167.4 314.4a1.4 1 0 1 0 2.8 0a1.4 1 0 1 0 -2.8 0M56.9 209.5a2.2 1.7 0 1 0 4.5 0a2.2 1.7 0 1 0 -4.5 0M179.7 296.2a2 1.7 0 1 0 4.1 0a2 1.7 0 1 0 -4.1 0M80.8 222.2a1.5 1.1 0 1 0 3.1 0a1.5 1.1 0 1 0 -3.1 0M133.1 262a1.5 1.1 0 1 0 2.9 0a1.5 1.1 0 1 0 -2.9 0M123.5 211.2a1.8 1.5 0 1 0 3.7 0a1.8 1.5 0 1 0 -3.7 0M186.2 294a1.7 1.5 0 1 0 3.5 0a1.7 1.5 0 1 0 -3.5 0M109.7 312.3a1.8 1.4 0 1 0 3.6 0a1.8 1.4 0 1 0 -3.6 0M94.2 249.5a2.3 1.8 0 1 0 4.7 0a2.3 1.8 0 1 0 -4.7 0M79.1 264.7a2.5 1.6 0 1 0 4.9 0a2.5 1.6 0 1 0 -4.9 0M163.9 336.1a1.7 1.5 0 1 0 3.5 0a1.7 1.5 0 1 0 -3.5 0M138.2 339.8a2.7 2 0 1 0 5.4 0a2.7 2 0 1 0 -5.4 0M73.5 266.2a1.7 1.6 0 1 0 3.5 0a1.7 1.6 0 1 0 -3.5 0M147 247.5a1.7 1.2 0 1 0 3.4 0a1.7 1.2 0 1 0 -3.4 0M181.8 354.4a1.5 1.3 0 1 0 3 0a1.5 1.3 0 1 0 -3 0M180.3 235.2a1.8 1.4 0 1 0 3.7 0a1.8 1.4 0 1 0 -3.7 0M51.9 254.8a1.8 1.3 0 1 0 3.6 0a1.8 1.3 0 1 0 -3.6 0M160 240.3a1.9 1.5 0 1 0 3.9 0a1.9 1.5 0 1 0 -3.9 0M115.6 253.2a1.6 1.4 0 1 0 3.3 0a1.6 1.4 0 1 0 -3.3 0M154.8 228.2a2.5 1.6 0 1 0 5 0a2.5 1.6 0 1 0 -5 0M76.4 210.5a1.6 1.4 0 1 0 3.2 0a1.6 1.4 0 1 0 -3.2 0M154.5 351.6a1.2 1 0 1 0 2.4 0a1.2 1 0 1 0 -2.4 0M176.3 308.6a2.1 1.5 0 1 0 4.2 0a2.1 1.5 0 1 0 -4.2 0M149.3 209.1a1.3 1.1 0 1 0 2.7 0a1.3 1.1 0 1 0 -2.7 0M131.8 224.6a2.2 1.5 0 1 0 4.3 0a2.2 1.5 0 1 0 -4.3 0M152.8 315.4a2.4 1.9 0 1 0 4.7 0a2.4 1.9 0 1 0 -4.7 0M154.4 352.6a1.7 1.3 0 1 0 3.4 0a1.7 1.3 0 1 0 -3.4 0M53.4 277.2a1.6 1.2 0 1 0 3.2 0a1.6 1.2 0 1 0 -3.2 0M60.2 225.1a2.1 1.7 0 1 0 4.2 0a2.1 1.7 0 1 0 -4.2 0M95.4 274.1a2 1.4 0 1 0 4 0a2 1.4 0 1 0 -4 0M125 265.4a1.8 1.6 0 1 0 3.5 0a1.8 1.6 0 1 0 -3.5 0M112.1 217.2a1.9 1.5 0 1 0 3.7 0a1.9 1.5 0 1 0 -3.7 0M143 320.7a1.7 1.4 0 1 0 3.4 0a1.7 1.4 0 1 0 -3.4 0M83.4 206.9a2.3 1.7 0 1 0 4.6 0a2.3 1.7 0 1 0 -4.6 0M187 318.5a1.4 1 0 1 0 2.8 0a1.4 1 0 1 0 -2.8 0M142.8 212.9a2.3 1.7 0 1 0 4.5 0a2.3 1.7 0 1 0 -4.5 0M67.9 210.8a2 1.7 0 1 0 4.1 0a2 1.7 0 1 0 -4.1 0M82.7 212a2 1.5 0 1 0 3.9 0a2 1.5 0 1 0 -3.9 0M83.5 302.5a1.5 1.2 0 1 0 2.9 0a1.5 1.2 0 1 0 -2.9 0M99.4 314.7a2.6 1.7 0 1 0 5.1 0a2.6 1.7 0 1 0 -5.1 0M71.9 287.8a2.7 1.8 0 1 0 5.3 0a2.7 1.8 0 1 0 -5.3 0M99.2 230.7a2.3 1.6 0 1 0 4.6 0a2.3 1.6 0 1 0 -4.6 0M157.4 315.2a1.6 1.3 0 1 0 3.2 0a1.6 1.3 0 1 0 -3.2 0M176.7 280.2a2 1.6 0 1 0 3.9 0a2 1.6 0 1 0 -3.9 0M199.7 296.8a1.5 1.1 0 1 0 2.9 0a1.5 1.1 0 1 0 -2.9 0M167.5 297.2a2.6 1.8 0 1 0 5.3 0a2.6 1.8 0 1 0 -5.3 0M108.4 267.3a1.8 1.3 0 1 0 3.5 0a1.8 1.3 0 1 0 -3.5 0M179.5 326.1a2.3 1.6 0 1 0 4.6 0a2.3 1.6 0 1 0 -4.6 0M90 252.9a1.5 1.2 0 1 0 2.9 0a1.5 1.2 0 1 0 -2.9 0M109.3 222.9a1.5 1.2 0 1 0 2.9 0a1.5 1.2 0 1 0 -2.9 0M90.3 320a1.7 1.2 0 1 0 3.3 0a1.7 1.2 0 1 0 -3.3 0M82.3 249.2a1.7 1.5 0 1 0 3.3 0a1.7 1.5 0 1 0 -3.3 0M148.7 326.5a1.5 1.2 0 1 0 3 0a1.5 1.2 0 1 0 -3 0M172.2 296.4a1.3 1 0 1 0 2.5 0a1.3 1 0 1 0 -2.5 0M56.8 268.9a1.9 1.3 0 1 0 3.8 0a1.9 1.3 0 1 0 -3.8 0M183.5 292a1.5 1 0 1 0 3 0a1.5 1 0 1 0 -3 0M66.6 219.2a1.6 1.5 0 1 0 3.2 0a1.6 1.5 0 1 0 -3.2 0M187.1 349.8a2.3 1.7 0 1 0 4.5 0a2.3 1.7 0 1 0 -4.5 0M153 229.1a1.8 1.5 0 1 0 3.7 0a1.8 1.5 0 1 0 -3.7 0M155.4 291.3a2.4 1.6 0 1 0 4.8 0a2.4 1.6 0 1 0 -4.8 0M58.3 229.5a2.3 1.9 0 1 0 4.6 0a2.3 1.9 0 1 0 -4.6 0M136.9 247.5a2.1 1.8 0 1 0 4.2 0a2.1 1.8 0 1 0 -4.2 0M52.1 288a1.5 1 0 1 0 3 0a1.5 1 0 1 0 -3 0M167.9 294.5a2 1.6 0 1 0 4 0a2 1.6 0 1 0 -4 0M121.7 244.1a1.8 1.5 0 1 0 3.7 0a1.8 1.5 0 1 0 -3.7 0M132.8 293.2a1.4 1.1 0 1 0 2.8 0a1.4 1.1 0 1 0 -2.8 0M75.3 330.1a2.2 2 0 1 0 4.4 0a2.2 2 0 1 0 -4.4 0M194.2 236.7a1.3 1.1 0 1 0 2.6 0a1.3 1.1 0 1 0 -2.6 0M190 276.8a1.4 1.1 0 1 0 2.7 0a1.4 1.1 0 1 0 -2.7 0M160.8 322.5a1.8 1.4 0 1 0 3.5 0a1.8 1.4 0 1 0 -3.5 0M120.4 308.8a2 1.7 0 1 0 4 0a2 1.7 0 1 0 -4 0M58.8 263.7a1.5 1.2 0 1 0 2.9 0a1.5 1.2 0 1 0 -2.9 0M195 331.8a1.2 1 0 1 0 2.5 0a1.2 1 0 1 0 -2.5 0M72 294.5a2.2 1.7 0 1 0 4.4 0a2.2 1.7 0 1 0 -4.4 0M54.1 320.9a1.6 1.3 0 1 0 3.2 0a1.6 1.3 0 1 0 -3.2 0M79.7 252.9a2.3 1.6 0 1 0 4.7 0a2.3 1.6 0 1 0 -4.7 0M105.2 276.5a2.1 1.8 0 1 0 4.1 0a2.1 1.8 0 1 0 -4.1 0M142.4 350.2a2.2 2.1 0 1 0 4.3 0a2.2 2.1 0 1 0 -4.3 0M173.8 223.5a1.6 1.4 0 1 0 3.2 0a1.6 1.4 0 1 0 -3.2 0M82 341a2.3 1.6 0 1 0 4.6 0a2.3 1.6 0 1 0 -4.6 0M95.3 268.5a2.5 2 0 1 0 4.9 0a2.5 2 0 1 0 -4.9 0M89.1 315.8a1.5 1.2 0 1 0 3.1 0a1.5 1.2 0 1 0 -3.1 0M114.1 287.8a1.8 1.3 0 1 0 3.5 0a1.8 1.3 0 1 0 -3.5 0M153.9 256a1.8 1.4 0 1 0 3.6 0a1.8 1.4 0 1 0 -3.6 0M97.1 250.3a1.2 1.1 0 1 0 2.5 0a1.2 1.1 0 1 0 -2.5 0M184.8 259.7a1.8 1.3 0 1 0 3.6 0a1.8 1.3 0 1 0 -3.6 0M170.7 289.3a1.8 1.5 0 1 0 3.5 0a1.8 1.5 0 1 0 -3.5 0M171 331.6a2.5 1.9 0 1 0 5 0a2.5 1.9 0 1 0 -5 0M132.2 292.8a2.1 1.6 0 1 0 4.1 0a2.1 1.6 0 1 0 -4.1 0M165.2 298.4a2.2 1.4 0 1 0 4.4 0a2.2 1.4 0 1 0 -4.4 0M108.8 348.6a1.5 1.1 0 1 0 2.9 0a1.5 1.1 0 1 0 -2.9 0M125.8 316.4a1.8 1.2 0 1 0 3.6 0a1.8 1.2 0 1 0 -3.6 0M162.5 338.1a2.1 1.6 0 1 0 4.1 0a2.1 1.6 0 1 0 -4.1 0M161.9 214.4a2.4 1.7 0 1 0 4.8 0a2.4 1.7 0 1 0 -4.8 0M102 221a2.6 1.7 0 1 0 5.3 0a2.6 1.7 0 1 0 -5.3 0M93.5 306.9a1.3 1.1 0 1 0 2.6 0a1.3 1.1 0 1 0 -2.6 0M116.7 295.3a2.7 2 0 1 0 5.4 0a2.7 2 0 1 0 -5.4 0M86.1 242.2a1.9 1.5 0 1 0 3.8 0a1.9 1.5 0 1 0 -3.8 0M202.6 252.4a1.1 1 0 1 0 2.3 0a1.1 1 0 1 0 -2.3 0M179.4 211.5a1.4 1.3 0 1 0 2.9 0a1.4 1.3 0 1 0 -2.9 0M90.5 220.7a2.8 2 0 1 0 5.5 0a2.8 2 0 1 0 -5.5 0M164.9 321.2a1.8 1.5 0 1 0 3.5 0a1.8 1.5 0 1 0 -3.5 0M101 301.9a1.6 1.1 0 1 0 3.2 0a1.6 1.1 0 1 0 -3.2 0M196.4 348.8a2.6 2 0 1 0 5.2 0a2.6 2 0 1 0 -5.2 0M137 216.4a2.4 1.8 0 1 0 4.7 0a2.4 1.8 0 1 0 -4.7 0M60.6 315.7a2 1.6 0 1 0 4.1 0a2 1.6 0 1 0 -4.1 0M153.8 305.8a2 1.7 0 1 0 4 0a2 1.7 0 1 0 -4 0M187.6 314.6a2.2 1.6 0 1 0 4.4 0a2.2 1.6 0 1 0 -4.4 0M155.4 288.1a1.2 1.1 0 1 0 2.4 0a1.2 1.1 0 1 0 -2.4 0M85.9 238.7a1.8 1.5 0 1 0 3.7 0a1.8 1.5 0 1 0 -3.7 0M54.4 336.4a2.1 1.6 0 1 0 4.2 0a2.1 1.6 0 1 0 -4.2 0M103 216a1.8 1.7 0 1 0 3.6 0a1.8 1.7 0 1 0 -3.6 0M152.1 296.9a2.5 1.9 0 1 0 5.1 0a2.5 1.9 0 1 0 -5.1 0M121 207.4a2.1 1.7 0 1 0 4.2 0a2.1 1.7 0 1 0 -4.2 0M106.1 205.9a2.3 1.9 0 1 0 4.7 0a2.3 1.9 0 1 0 -4.7 0M180.2 322a2.4 2.1 0 1 0 4.9 0a2.4 2.1 0 1 0 -4.9 0M53.2 254.5a1.9 1.3 0 1 0 3.8 0a1.9 1.3 0 1 0 -3.8 0M156.5 219.9a1.6 1.2 0 1 0 3.2 0a1.6 1.2 0 1 0 -3.2 0M115.6 326.5a1.9 1.2 0 1 0 3.7 0a1.9 1.2 0 1 0 -3.7 0M85.9 207.4a1.8 1.2 0 1 0 3.6 0a1.8 1.2 0 1 0 -3.6 0M131.2 245.4a1.7 1.5 0 1 0 3.3 0a1.7 1.5 0 1 0 -3.3 0M174.9 321.6a2.2 1.8 0 1 0 4.3 0a2.2 1.8 0 1 0 -4.3 0M59.4 224.9a2.4 1.9 0 1 0 4.8 0a2.4 1.9 0 1 0 -4.8 0M75.3 291a2.1 1.5 0 1 0 4.1 0a2.1 1.5 0 1 0 -4.1 0M128.4 245.8a2.4 1.7 0 1 0 4.7 0a2.4 1.7 0 1 0 -4.7 0M91.1 238.2a1.7 1.2 0 1 0 3.3 0a1.7 1.2 0 1 0 -3.3 0M188 355a2.6 1.7 0 1 0 5.3 0a2.6 1.7 0 1 0 -5.3 0M65.8 293.2a1.2 1.2 0 1 0 2.4 0a1.2 1.2 0 1 0 -2.4 0M160.8 284.9a1.3 0.9 0 1 0 2.7 0a1.3 0.9 0 1 0 -2.7 0M175.9 280.2a1.6 1.5 0 1 0 3.1 0a1.6 1.5 0 1 0 -3.1 0M131.3 345.1a1.8 1.7 0 1 0 3.7 0a1.8 1.7 0 1 0 -3.7 0M101.4 321.9a1.9 1.5 0 1 0 3.8 0a1.9 1.5 0 1 0 -3.8 0M95.1 339.6a1.8 1.3 0 1 0 3.6 0a1.8 1.3 0 1 0 -3.6 0M51.1 350.9a2.5 1.7 0 1 0 4.9 0a2.5 1.7 0 1 0 -4.9 0M76.1 212.6a2.1 1.7 0 1 0 4.1 0a2.1 1.7 0 1 0 -4.1 0M87.5 238.6a1.3 1.1 0 1 0 2.5 0a1.3 1.1 0 1 0 -2.5 0M107.4 349a1.8 1.3 0 1 0 3.5 0a1.8 1.3 0 1 0 -3.5 0M55.9 297.3a2 1.9 0 1 0 4 0a2 1.9 0 1 0 -4 0M155.6 331.2a2 1.6 0 1 0 4 0a2 1.6 0 1 0 -4 0M190.6 344.8a1.7 1.5 0 1 0 3.3 0a1.7 1.5 0 1 0 -3.3 0M62.1 249.8a1.4 1 0 1 0 2.8 0a1.4 1 0 1 0 -2.8 0M105.6 236a1.8 1.4 0 1 0 3.7 0a1.8 1.4 0 1 0 -3.7 0M132.5 213.7a1.9 1.3 0 1 0 3.9 0a1.9 1.3 0 1 0 -3.9 0M88.5 264.7a1.9 1.8 0 1 0 3.8 0a1.9 1.8 0 1 0 -3.8 0M159.8 348.5a1.9 1.5 0 1 0 3.9 0a1.9 1.5 0 1 0 -3.9 0M94.6 288.9a1.4 1.1 0 1 0 2.8 0a1.4 1.1 0 1 0 -2.8 0M69.1 346.6a2.5 1.7 0 1 0 5.1 0a2.5 1.7 0 1 0 -5.1 0M77 315a2.2 1.7 0 1 0 4.4 0a2.2 1.7 0 1 0 -4.4 0M64.1 326.7a2 1.4 0 1 0 4 0a2 1.4 0 1 0 -4 0M72.1 225.4a2.1 1.6 0 1 0 4.1 0a2.1 1.6 0 1 0 -4.1 0M72.8 251.2a1.4 1 0 1 0 2.8 0a1.4 1 0 1 0 -2.8 0M154.7 327.4a2.1 1.5 0 1 0 4.1 0a2.1 1.5 0 1 0 -4.1 0M174.1 237.9a1.5 1.4 0 1 0 2.9 0a1.5 1.4 0 1 0 -2.9 0M201 249a2 1.5 0 1 0 3.9 0a2 1.5 0 1 0 -3.9 0M185.6 344.9a1.6 1.2 0 1 0 3.3 0a1.6 1.2 0 1 0 -3.3 0M196.3 281.7a1.4 1 0 1 0 2.9 0a1.4 1 0 1 0 -2.9 0M63.1 268.3a2.4 1.9 0 1 0 4.8 0a2.4 1.9 0 1 0 -4.8 0M118 213.5a2.3 1.7 0 1 0 4.5 0a2.3 1.7 0 1 0 -4.5 0M121.7 214.7a1.2 1.1 0 1 0 2.5 0a1.2 1.1 0 1 0 -2.5 0M176.5 297.4a2.3 1.7 0 1 0 4.7 0a2.3 1.7 0 1 0 -4.7 0M178.6 293.6a2.1 1.5 0 1 0 4.2 0a2.1 1.5 0 1 0 -4.2 0M116.3 332.8a2.5 1.8 0 1 0 4.9 0a2.5 1.8 0 1 0 -4.9 0M135.9 267.1a2.2 1.7 0 1 0 4.4 0a2.2 1.7 0 1 0 -4.4 0M55.7 327.3a2.1 1.6 0 1 0 4.2 0a2.1 1.6 0 1 0 -4.2 0M88.2 298.1a2.5 1.8 0 1 0 5.1 0a2.5 1.8 0 1 0 -5.1 0M95.6 320a1.7 1.3 0 1 0 3.4 0a1.7 1.3 0 1 0 -3.4 0M104 349.5a1.8 1.6 0 1 0 3.6 0a1.8 1.6 0 1 0 -3.6 0M68.7 211.2a1.8 1.4 0 1 0 3.7 0a1.8 1.4 0 1 0 -3.7 0M73.4 319.3a1.5 1.4 0 1 0 3 0a1.5 1.4 0 1 0 -3 0M177.7 353.4a2.2 1.6 0 1 0 4.5 0a2.2 1.6 0 1 0 -4.5 0M100.7 262.5a1.8 1.6 0 1 0 3.6 0a1.8 1.6 0 1 0 -3.6 0M161.4 239.2a1.2 1 0 1 0 2.5 0a1.2 1 0 1 0 -2.5 0M134.3 283.5a2 1.6 0 1 0 4 0a2 1.6 0 1 0 -4 0M135.8 240.9a1.4 1.2 0 1 0 2.8 0a1.4 1.2 0 1 0 -2.8 0M96 292.1a1.9 1.4 0 1 0 3.7 0a1.9 1.4 0 1 0 -3.7 0M64.9 239.7a1.5 1.2 0 1 0 2.9 0a1.5 1.2 0 1 0 -2.9 0M130.7 231.2a2.1 1.6 0 1 0 4.2 0a2.1 1.6 0 1 0 -4.2 0M144.3 249.9a1.9 1.4 0 1 0 3.8 0a1.9 1.4 0 1 0 -3.8 0M140.1 352.6a2 1.7 0 1 0 4.1 0a2 1.7 0 1 0 -4.1 0M107.6 270.6a2.3 1.6 0 1 0 4.6 0a2.3 1.6 0 1 0 -4.6 0M199.7 280.1a2.6 1.9 0 1 0 5.1 0a2.6 1.9 0 1 0 -5.1 0M53.8 294.6a2.2 1.8 0 1 0 4.4 0a2.2 1.8 0 1 0 -4.4 0M163.8 296.5a2.1 1.6 0 1 0 4.1 0a2.1 1.6 0 1 0 -4.1 0M65.1 307.3a2.1 1.8 0 1 0 4.1 0a2.1 1.8 0 1 0 -4.1 0M77.1 282.5a1.5 1.4 0 1 0 3.1 0a1.5 1.4 0 1 0 -3.1 0M159.2 230.9a2.1 1.4 0 1 0 4.3 0a2.1 1.4 0 1 0 -4.3 0M52 353a2.3 1.9 0 1 0 4.6 0a2.3 1.9 0 1 0 -4.6 0M76.3 259a2 1.3 0 1 0 3.9 0a2 1.3 0 1 0 -3.9 0M122.6 288.8a2.3 1.7 0 1 0 4.6 0a2.3 1.7 0 1 0 -4.6 0M142.1 246.2a2.1 1.4 0 1 0 4.2 0a2.1 1.4 0 1 0 -4.2 0M126 248.7a1.3 1.1 0 1 0 2.7 0a1.3 1.1 0 1 0 -2.7 0M142.6 246.1a2 1.7 0 1 0 4 0a2 1.7 0 1 0 -4 0M87.5 352.9a1.8 1.4 0 1 0 3.7 0a1.8 1.4 0 1 0 -3.7 0M117.9 308.6a1.7 1.2 0 1 0 3.4 0a1.7 1.2 0 1 0 -3.4 0M117.9 265.8a2 1.6 0 1 0 3.9 0a2 1.6 0 1 0 -3.9 0M195.9 317.5a1.5 1 0 1 0 3 0a1.5 1 0 1 0 -3 0M176.3 246.9a1.2 1 0 1 0 2.4 0a1.2 1 0 1 0 -2.4 0M55.3 230.2a1.1 1 0 1 0 2.3 0a1.1 1 0 1 0 -2.3 0M197.9 303.2a2.4 1.9 0 1 0 4.7 0a2.4 1.9 0 1 0 -4.7 0M88.1 261.5a1.6 1.6 0 1 0 3.3 0a1.6 1.6 0 1 0 -3.3 0M81.7 279.5a2.1 1.8 0 1 0 4.2 0a2.1 1.8 0 1 0 -4.2 0M88 233.5a2 1.4 0 1 0 3.9 0a2 1.4 0 1 0 -3.9 0M139.9 318.7a2.3 2.1 0 1 0 4.7 0a2.3 2.1 0 1 0 -4.7 0M129.3 232.1a1.4 1 0 1 0 2.8 0a1.4 1 0 1 0 -2.8 0M64.8 287.2a1.4 1.2 0 1 0 2.8 0a1.4 1.2 0 1 0 -2.8 0M73.2 307.9a2.6 1.9 0 1 0 5.1 0a2.6 1.9 0 1 0 -5.1 0M157.9 331.9a2 1.8 0 1 0 4.1 0a2 1.8 0 1 0 -4.1 0M71.4 281.9a1.5 1.1 0 1 0 3 0a1.5 1.1 0 1 0 -3 0M116.7 328.5a2.4 2 0 1 0 4.7 0a2.4 2 0 1 0 -4.7 0M111.6 224a2.3 1.7 0 1 0 4.6 0a2.3 1.7 0 1 0 -4.6 0M131.2 259.1a1.9 1.2 0 1 0 3.7 0a1.9 1.2 0 1 0 -3.7 0M129 227.4a2 1.6 0 1 0 4 0a2 1.6 0 1 0 -4 0M141.9 270.3a2 1.7 0 1 0 4.1 0a2 1.7 0 1 0 -4.1 0M67.8 279.6a1.5 1.3 0 1 0 2.9 0a1.5 1.3 0 1 0 -2.9 0M163.6 228.8a1.8 1.5 0 1 0 3.6 0a1.8 1.5 0 1 0 -3.6 0M54.8 342.4a2.3 1.7 0 1 0 4.7 0a2.3 1.7 0 1 0 -4.7 0M152 212.1a1.9 1.6 0 1 0 3.8 0a1.9 1.6 0 1 0 -3.8 0M167.7 240.6a2 1.5 0 1 0 4.1 0a2 1.5 0 1 0 -4.1 0M79.9 215.5a1.5 1.2 0 1 0 3 0a1.5 1.2 0 1 0 -3 0M147.8 290.5a2 1.7 0 1 0 4 0a2 1.7 0 1 0 -4 0M184.4 354.3a2.4 1.8 0 1 0 4.9 0a2.4 1.8 0 1 0 -4.9 0M89 220.7a1.9 1.6 0 1 0 3.8 0a1.9 1.6 0 1 0 -3.8 0M144 270.1a1.5 1.3 0 1 0 2.9 0a1.5 1.3 0 1 0 -2.9 0M100 252.6a1.8 1.5 0 1 0 3.5 0a1.8 1.5 0 1 0 -3.5 0M167.4 327.5a2.4 1.7 0 1 0 4.9 0a2.4 1.7 0 1 0 -4.9 0M150 252.7a2.2 1.8 0 1 0 4.4 0a2.2 1.8 0 1 0 -4.4 0M107 206.8a1.6 1.4 0 1 0 3.2 0a1.6 1.4 0 1 0 -3.2 0M188.2 352.3a2.1 1.6 0 1 0 4.1 0a2.1 1.6 0 1 0 -4.1 0M61.3 250.3a2.5 2 0 1 0 5 0a2.5 2 0 1 0 -5 0M79.1 281.5a1.3 1.1 0 1 0 2.6 0a1.3 1.1 0 1 0 -2.6 0M95.9 306a1.3 1 0 1 0 2.7 0a1.3 1 0 1 0 -2.7 0M140.3 313a2 1.4 0 1 0 3.9 0a2 1.4 0 1 0 -3.9 0M184.2 232.4a1.6 1.3 0 1 0 3.3 0a1.6 1.3 0 1 0 -3.3 0M154 212.2a2.4 1.8 0 1 0 4.8 0a2.4 1.8 0 1 0 -4.8 0M146.8 334.4a1.8 1.5 0 1 0 3.6 0a1.8 1.5 0 1 0 -3.6 0M105.4 293a1.3 1.1 0 1 0 2.7 0a1.3 1.1 0 1 0 -2.7 0M131.1 316.7a1.9 1.4 0 1 0 3.9 0a1.9 1.4 0 1 0 -3.9 0M95 341.1a1.8 1.3 0 1 0 3.7 0a1.8 1.3 0 1 0 -3.7 0M155 232.2a1.9 1.6 0 1 0 3.9 0a1.9 1.6 0 1 0 -3.9 0M102.7 259.9a1.4 1.1 0 1 0 2.8 0a1.4 1.1 0 1 0 -2.8 0M105 312.9a2 1.5 0 1 0 4 0a2 1.5 0 1 0 -4 0M178.6 343.3a2.3 1.9 0 1 0 4.6 0a2.3 1.9 0 1 0 -4.6 0M106.9 254.8a1.7 1.7 0 1 0 3.5 0a1.7 1.7 0 1 0 -3.5 0M115.1 278.5a2.4 1.6 0 1 0 4.7 0a2.4 1.6 0 1 0 -4.7 0M87.1 298.5a2 1.4 0 1 0 3.9 0a2 1.4 0 1 0 -3.9 0M98.9 350a1.6 1.3 0 1 0 3.1 0a1.6 1.3 0 1 0 -3.1 0M194.2 217.3a1.7 1.3 0 1 0 3.5 0a1.7 1.3 0 1 0 -3.5 0M154.4 219.2a1.2 1 0 1 0 2.4 0a1.2 1 0 1 0 -2.4 0M95.6 222.5a1.3 1.1 0 1 0 2.6 0a1.3 1.1 0 1 0 -2.6 0M66.5 315.3a1.2 1.1 0 1 0 2.5 0a1.2 1.1 0 1 0 -2.5 0M170.6 281.7a1.8 1.3 0 1 0 3.6 0a1.8 1.3 0 1 0 -3.6 0M111.1 330.2a1.4 1.1 0 1 0 2.7 0a1.4 1.1 0 1 0 -2.7 0M61.9 346.6a2.8 1.9 0 1 0 5.5 0a2.8 1.9 0 1 0 -5.5 0M143.1 277.4a1.5 1.1 0 1 0 3 0a1.5 1.1 0 1 0 -3 0M58.3 249.7a1.5 1.1 0 1 0 2.9 0a1.5 1.1 0 1 0 -2.9 0M170.3 283.9a1.6 1.2 0 1 0 3.1 0a1.6 1.2 0 1 0 -3.1 0M56.6 350.6a2.4 2 0 1 0 4.7 0a2.4 2 0 1 0 -4.7 0M154.9 221a1.8 1.4 0 1 0 3.7 0a1.8 1.4 0 1 0 -3.7 0M103.9 304.2a1.5 1.2 0 1 0 3 0a1.5 1.2 0 1 0 -3 0M59.8 241.9a1.9 1.7 0 1 0 3.8 0a1.9 1.7 0 1 0 -3.8 0M143.3 316.2a2.5 1.7 0 1 0 5 0a2.5 1.7 0 1 0 -5 0M166.1 209.1a1.7 1.5 0 1 0 3.4 0a1.7 1.5 0 1 0 -3.4 0M182.1 281.8a1.8 1.7 0 1 0 3.7 0a1.8 1.7 0 1 0 -3.7 0M144.9 279.3a1.8 1.4 0 1 0 3.7 0a1.8 1.4 0 1 0 -3.7 0M172.5 283.2a1.3 1.1 0 1 0 2.7 0a1.3 1.1 0 1 0 -2.7 0M79.3 349.1a1.5 1.2 0 1 0 2.9 0a1.5 1.2 0 1 0 -2.9 0M92.6 233.4a1.3 1.2 0 1 0 2.6 0a1.3 1.2 0 1 0 -2.6 0M89.8 349.1a1.7 1.5 0 1 0 3.5 0a1.7 1.5 0 1 0 -3.5 0M122 318.1a2 1.5 0 1 0 4.1 0a2 1.5 0 1 0 -4.1 0M165.3 296a1.5 1 0 1 0 2.9 0a1.5 1 0 1 0 -2.9 0M146.4 301.5a1.3 1.1 0 1 0 2.6 0a1.3 1.1 0 1 0 -2.6 0M56.9 267.7a2.4 1.7 0 1 0 4.8 0a2.4 1.7 0 1 0 -4.8 0M178.3 332.6a1.9 1.7 0 1 0 3.9 0a1.9 1.7 0 1 0 -3.9 0M77.4 253.6a2.1 1.8 0 1 0 4.2 0a2.1 1.8 0 1 0 -4.2 0M167.5 245.7a1.5 1.2 0 1 0 2.9 0a1.5 1.2 0 1 0 -2.9 0M137 218.1a2.2 1.8 0 1 0 4.5 0a2.2 1.8 0 1 0 -4.5 0M127.8 352.9a1.8 1.5 0 1 0 3.6 0a1.8 1.5 0 1 0 -3.6 0M140.7 347.5a1.7 1.3 0 1 0 3.5 0a1.7 1.3 0 1 0 -3.5 0M55.5 296.1a2.3 1.6 0 1 0 4.5 0a2.3 1.6 0 1 0 -4.5 0M166.5 230.7a2 1.5 0 1 0 4.1 0a2 1.5 0 1 0 -4.1 0M106.6 316.3a1.8 1.4 0 1 0 3.7 0a1.8 1.4 0 1 0 -3.7 0M165.8 331.7a1.9 1.6 0 1 0 3.9 0a1.9 1.6 0 1 0 -3.9 0M97.1 329.8a1.3 1.2 0 1 0 2.6 0a1.3 1.2 0 1 0 -2.6 0M55.7 296.9a2 1.4 0 1 0 4 0a2 1.4 0 1 0 -4 0M131.3 251.2a1.4 1.2 0 1 0 2.8 0a1.4 1.2 0 1 0 -2.8 0M140.5 307.1a1.6 1.2 0 1 0 3.3 0a1.6 1.2 0 1 0 -3.3 0M82 295.1a2.3 1.7 0 1 0 4.7 0a2.3 1.7 0 1 0 -4.7 0M201.3 325a1.6 1.4 0 1 0 3.2 0a1.6 1.4 0 1 0 -3.2 0M78.2 219.5a2 1.7 0 1 0 4 0a2 1.7 0 1 0 -4 0M132.5 256.7a1.4 1.2 0 1 0 2.9 0a1.4 1.2 0 1 0 -2.9 0M96.2 206.4a2.4 2 0 1 0 4.7 0a2.4 2 0 1 0 -4.7 0M198.3 217.4a1.9 1.3 0 1 0 3.8 0a1.9 1.3 0 1 0 -3.8 0M103.5 307.7a1.2 1 0 1 0 2.4 0a1.2 1 0 1 0 -2.4 0M194.5 343.7a1.7 1.6 0 1 0 3.4 0a1.7 1.6 0 1 0 -3.4 0M170.3 301.1a1.8 1.4 0 1 0 3.5 0a1.8 1.4 0 1 0 -3.5 0M116.8 248.9a2.1 2 0 1 0 4.2 0a2.1 2 0 1 0 -4.2 0M67.5 344.7a1.6 1.2 0 1 0 3.1 0a1.6 1.2 0 1 0 -3.1 0M104.4 226.4a2 1.7 0 1 0 4 0a2 1.7 0 1 0 -4 0M63 269.2a1.9 1.4 0 1 0 3.7 0a1.9 1.4 0 1 0 -3.7 0M121.3 207.4a1.7 1.4 0 1 0 3.3 0a1.7 1.4 0 1 0 -3.3 0M133.1 237.4a1.9 1.6 0 1 0 3.7 0a1.9 1.6 0 1 0 -3.7 0M179.6 273.1a1.4 1.2 0 1 0 2.8 0a1.4 1.2 0 1 0 -2.8 0M190.2 238.6a1.5 1.4 0 1 0 3.1 0a1.5 1.4 0 1 0 -3.1 0M79.7 232.2a2 1.4 0 1 0 4 0a2 1.4 0 1 0 -4 0M143.6 241.4a1.3 1.1 0 1 0 2.7 0a1.3 1.1 0 1 0 -2.7 0M181.4 237.4a1.7 1.3 0 1 0 3.3 0a1.7 1.3 0 1 0 -3.3 0M135.9 240.5a1.4 1.1 0 1 0 2.7 0a1.4 1.1 0 1 0 -2.7 0M64.3 337.7a2.2 2.1 0 1 0 4.3 0a2.2 2.1 0 1 0 -4.3 0M52.7 263.2a1.6 1.2 0 1 0 3.2 0a1.6 1.2 0 1 0 -3.2 0M54.3 273a1.7 1.6 0 1 0 3.4 0a1.7 1.6 0 1 0 -3.4 0M127.3 326.4a1.8 1.4 0 1 0 3.6 0a1.8 1.4 0 1 0 -3.6 0M164.2 258.3a1.4 1.1 0 1 0 2.9 0a1.4 1.1 0 1 0 -2.9 0M89.3 280.4a2.3 1.9 0 1 0 4.6 0a2.3 1.9 0 1 0 -4.6 0M156.1 317.2a2.3 1.7 0 1 0 4.7 0a2.3 1.7 0 1 0 -4.7 0M134.5 285.9a2.3 1.7 0 1 0 4.5 0a2.3 1.7 0 1 0 -4.5 0M98.9 313.2a1.7 1.5 0 1 0 3.5 0a1.7 1.5 0 1 0 -3.5 0M111.8 308a1.6 1.5 0 1 0 3.3 0a1.6 1.5 0 1 0 -3.3 0M65.3 298.4a2.1 1.6 0 1 0 4.1 0a2.1 1.6 0 1 0 -4.1 0M201.5 337.1a1.9 1.4 0 1 0 3.9 0a1.9 1.4 0 1 0 -3.9 0M203.3 216a1.4 1.3 0 1 0 2.8 0a1.4 1.3 0 1 0 -2.8 0"/>
<path fill="#d48a12" d="M86.3 278.6a1.4 1 0 1 0 2.8 0a1.4 1 0 1 0 -2.8 0M188 344.9a0.8 0.5 0 1 0 1.6 0a0.8 0.5 0 1 0 -1.6 0M145.7 319.1a0.8 0.7 0 1 0 1.6 0a0.8 0.7 0 1 0 -1.6 0M172.6 352.9a0.7 0.6 0 1 0 1.5 0a0.7 0.6 0 1 0 -1.5 0M197.7 314.9a0.7 0.6 0 1 0 1.5 0a0.7 0.6 0 1 0 -1.5 0M91.9 291.5a0.8 0.6 0 1 0 1.6 0a0.8 0.6 0 1 0 -1.6 0M156.6 328.4a0.7 0.6 0 1 0 1.5 0a0.7 0.6 0 1 0 -1.5 0M107.1 286a1 1 0 1 0 2.1 0a1 1 0 1 0 -2.1 0M169.9 316.5a0.9 0.8 0 1 0 1.8 0a0.9 0.8 0 1 0 -1.8 0M61.4 217.6a1.3 0.8 0 1 0 2.6 0a1.3 0.8 0 1 0 -2.6 0M80.7 274.8a1.2 1 0 1 0 2.5 0a1.2 1 0 1 0 -2.5 0M60.1 235.3a1.1 0.7 0 1 0 2.3 0a1.1 0.7 0 1 0 -2.3 0M66.2 252.7a0.9 0.7 0 1 0 1.8 0a0.9 0.7 0 1 0 -1.8 0M63.2 302.8a1.4 1.1 0 1 0 2.8 0a1.4 1.1 0 1 0 -2.8 0M71.6 298.3a1 0.7 0 1 0 2 0a1 0.7 0 1 0 -2 0M145.3 343.5a1.2 1 0 1 0 2.3 0a1.2 1 0 1 0 -2.3 0M65.5 289.9a0.9 0.6 0 1 0 1.7 0a0.9 0.6 0 1 0 -1.7 0M53.9 339.5a0.7 0.6 0 1 0 1.4 0a0.7 0.6 0 1 0 -1.4 0M61 322a1 0.9 0 1 0 2 0a1 0.9 0 1 0 -2 0M72.2 285.4a0.7 0.5 0 1 0 1.3 0a0.7 0.5 0 1 0 -1.3 0M134.7 304.1a1.2 1 0 1 0 2.5 0a1.2 1 0 1 0 -2.5 0M84.3 316.7a0.8 0.6 0 1 0 1.6 0a0.8 0.6 0 1 0 -1.6 0M116.1 331.7a1.1 0.7 0 1 0 2.1 0a1.1 0.7 0 1 0 -2.1 0M140.6 243.8a1 0.6 0 1 0 2 0a1 0.6 0 1 0 -2 0M121.4 243.4a0.8 0.6 0 1 0 1.6 0a0.8 0.6 0 1 0 -1.6 0M140 211.3a0.8 0.6 0 1 0 1.5 0a0.8 0.6 0 1 0 -1.5 0M178.8 309a1.1 0.9 0 1 0 2.3 0a1.1 0.9 0 1 0 -2.3 0M99.5 282.1a1.4 1.1 0 1 0 2.8 0a1.4 1.1 0 1 0 -2.8 0M55.2 209.3a0.9 0.6 0 1 0 1.7 0a0.9 0.6 0 1 0 -1.7 0M105.4 224.5a1.2 0.9 0 1 0 2.3 0a1.2 0.9 0 1 0 -2.3 0M79.2 333.5a0.7 0.5 0 1 0 1.4 0a0.7 0.5 0 1 0 -1.4 0M89.5 355.6a1.3 0.9 0 1 0 2.5 0a1.3 0.9 0 1 0 -2.5 0M200.6 351.1a1 0.7 0 1 0 2 0a1 0.7 0 1 0 -2 0M134.5 278.8a1.5 1.1 0 1 0 3 0a1.5 1.1 0 1 0 -3 0M89.2 354.1a0.9 0.8 0 1 0 1.8 0a0.9 0.8 0 1 0 -1.8 0M197.5 325.5a1.2 0.8 0 1 0 2.5 0a1.2 0.8 0 1 0 -2.5 0M194.2 250.2a1.2 0.9 0 1 0 2.4 0a1.2 0.9 0 1 0 -2.4 0M132 344.1a1.2 1.1 0 1 0 2.4 0a1.2 1.1 0 1 0 -2.4 0M79.2 258a0.7 0.7 0 1 0 1.5 0a0.7 0.7 0 1 0 -1.5 0M52.5 351.7a1.2 0.8 0 1 0 2.5 0a1.2 0.8 0 1 0 -2.5 0M92.5 322a0.7 0.6 0 1 0 1.5 0a0.7 0.6 0 1 0 -1.5 0M140.1 224.3a0.9 0.8 0 1 0 1.9 0a0.9 0.8 0 1 0 -1.9 0M114.2 355.1a0.9 0.6 0 1 0 1.8 0a0.9 0.6 0 1 0 -1.8 0M191.3 287.6a0.9 0.7 0 1 0 1.7 0a0.9 0.7 0 1 0 -1.7 0M71.8 338.6a1.3 1.1 0 1 0 2.5 0a1.3 1.1 0 1 0 -2.5 0M161.7 290.9a0.9 0.8 0 1 0 1.7 0a0.9 0.8 0 1 0 -1.7 0M171.3 348.1a0.7 0.6 0 1 0 1.4 0a0.7 0.6 0 1 0 -1.4 0M85 208.4a1.4 1.1 0 1 0 2.8 0a1.4 1.1 0 1 0 -2.8 0M102.8 271.5a1.1 1 0 1 0 2.1 0a1.1 1 0 1 0 -2.1 0M159.2 275.2a1.4 1.1 0 1 0 2.8 0a1.4 1.1 0 1 0 -2.8 0M82 266.9a0.9 0.7 0 1 0 1.7 0a0.9 0.7 0 1 0 -1.7 0M202.2 342.8a1.5 1 0 1 0 2.9 0a1.5 1 0 1 0 -2.9 0M164.2 218.9a0.9 0.6 0 1 0 1.9 0a0.9 0.6 0 1 0 -1.9 0M189.4 261.6a0.7 0.6 0 1 0 1.4 0a0.7 0.6 0 1 0 -1.4 0M103.4 348.6a1.1 0.8 0 1 0 2.2 0a1.1 0.8 0 1 0 -2.2 0M59.7 309.2a1.1 0.8 0 1 0 2.2 0a1.1 0.8 0 1 0 -2.2 0M115 342.2a0.6 0.6 0 1 0 1.3 0a0.6 0.6 0 1 0 -1.3 0M100.3 255.4a0.9 0.8 0 1 0 1.8 0a0.9 0.8 0 1 0 -1.8 0M66.8 289.2a1.1 1 0 1 0 2.2 0a1.1 1 0 1 0 -2.2 0M106.5 299.4a0.7 0.6 0 1 0 1.4 0a0.7 0.6 0 1 0 -1.4 0M145.4 275.3a0.7 0.6 0 1 0 1.4 0a0.7 0.6 0 1 0 -1.4 0M93.6 236.7a1 0.8 0 1 0 2 0a1 0.8 0 1 0 -2 0M63.3 299.7a1.4 1 0 1 0 2.8 0a1.4 1 0 1 0 -2.8 0M185.2 333.5a0.8 0.7 0 1 0 1.6 0a0.8 0.7 0 1 0 -1.6 0M195.2 302.1a1 0.8 0 1 0 2.1 0a1 0.8 0 1 0 -2.1 0M102.2 240.1a1.2 0.9 0 1 0 2.3 0a1.2 0.9 0 1 0 -2.3 0M190.8 205.3a0.7 0.6 0 1 0 1.4 0a0.7 0.6 0 1 0 -1.4 0M190.8 275.9a1.1 0.9 0 1 0 2.2 0a1.1 0.9 0 1 0 -2.2 0M173.3 249.5a1.2 0.9 0 1 0 2.4 0a1.2 0.9 0 1 0 -2.4 0M56.5 259.7a1.3 1 0 1 0 2.6 0a1.3 1 0 1 0 -2.6 0M203.8 294.4a1.1 0.9 0 1 0 2.3 0a1.1 0.9 0 1 0 -2.3 0M111.7 246.8a0.8 0.7 0 1 0 1.6 0a0.8 0.7 0 1 0 -1.6 0M65.5 222.9a1.2 0.8 0 1 0 2.4 0a1.2 0.8 0 1 0 -2.4 0M154 317.3a0.8 0.5 0 1 0 1.6 0a0.8 0.5 0 1 0 -1.6 0M131.6 210.1a0.6 0.5 0 1 0 1.3 0a0.6 0.5 0 1 0 -1.3 0M124.8 238.2a0.6 0.6 0 1 0 1.2 0a0.6 0.6 0 1 0 -1.2 0M202 343.4a0.7 0.6 0 1 0 1.3 0a0.7 0.6 0 1 0 -1.3 0M54.5 227.7a1.3 1 0 1 0 2.6 0a1.3 1 0 1 0 -2.6 0M180.1 253.2a1.3 1 0 1 0 2.7 0a1.3 1 0 1 0 -2.7 0M199.3 320.4a1.3 0.9 0 1 0 2.6 0a1.3 0.9 0 1 0 -2.6 0M139.4 345.8a0.9 0.8 0 1 0 1.8 0a0.9 0.8 0 1 0 -1.8 0M184.3 312.4a1.1 0.8 0 1 0 2.3 0a1.1 0.8 0 1 0 -2.3 0M86.3 311.3a1.1 1.1 0 1 0 2.1 0a1.1 1.1 0 1 0 -2.1 0M118.3 333.4a0.6 0.5 0 1 0 1.2 0a0.6 0.5 0 1 0 -1.2 0M85.1 304.6a1.3 1 0 1 0 2.6 0a1.3 1 0 1 0 -2.6 0M69.6 248.6a1 0.8 0 1 0 2.1 0a1 0.8 0 1 0 -2.1 0M202.5 337.1a1.1 0.9 0 1 0 2.2 0a1.1 0.9 0 1 0 -2.2 0M130.9 307.9a1.4 0.9 0 1 0 2.8 0a1.4 0.9 0 1 0 -2.8 0M56.8 312.1a1.1 1 0 1 0 2.2 0a1.1 1 0 1 0 -2.2 0M167.3 230.1a0.8 0.6 0 1 0 1.6 0a0.8 0.6 0 1 0 -1.6 0M76.8 342.5a0.9 0.7 0 1 0 1.8 0a0.9 0.7 0 1 0 -1.8 0M70.5 311.2a1.2 0.8 0 1 0 2.4 0a1.2 0.8 0 1 0 -2.4 0M114.7 240.5a1.2 1.1 0 1 0 2.4 0a1.2 1.1 0 1 0 -2.4 0M57.9 339.6a0.7 0.6 0 1 0 1.4 0a0.7 0.6 0 1 0 -1.4 0M101.3 294.6a0.8 0.8 0 1 0 1.6 0a0.8 0.8 0 1 0 -1.6 0M127.6 326.4a0.6 0.5 0 1 0 1.2 0a0.6 0.5 0 1 0 -1.2 0M176.5 208.7a0.6 0.5 0 1 0 1.3 0a0.6 0.5 0 1 0 -1.3 0M180.8 335a0.9 0.6 0 1 0 1.8 0a0.9 0.6 0 1 0 -1.8 0M168.9 304.9a0.7 0.5 0 1 0 1.4 0a0.7 0.5 0 1 0 -1.4 0M121.9 289.2a1.1 0.9 0 1 0 2.2 0a1.1 0.9 0 1 0 -2.2 0M178.1 308.1a0.7 0.6 0 1 0 1.4 0a0.7 0.6 0 1 0 -1.4 0M196.1 263.7a1.5 1 0 1 0 3 0a1.5 1 0 1 0 -3 0M108.2 317.8a1.2 0.8 0 1 0 2.3 0a1.2 0.8 0 1 0 -2.3 0M148.9 308.7a1 0.9 0 1 0 2 0a1 0.9 0 1 0 -2 0M117.2 308a1.1 0.9 0 1 0 2.2 0a1.1 0.9 0 1 0 -2.2 0M91.3 350.6a1 0.9 0 1 0 2 0a1 0.9 0 1 0 -2 0M171.2 335.1a0.9 0.8 0 1 0 1.8 0a0.9 0.8 0 1 0 -1.8 0M65.1 265.7a1 0.8 0 1 0 1.9 0a1 0.8 0 1 0 -1.9 0M133.3 230.3a0.8 0.6 0 1 0 1.6 0a0.8 0.6 0 1 0 -1.6 0M114.5 279.8a1 0.7 0 1 0 2 0a1 0.7 0 1 0 -2 0M59.9 280.1a0.9 0.6 0 1 0 1.7 0a0.9 0.6 0 1 0 -1.7 0M167.5 351a1.2 0.9 0 1 0 2.5 0a1.2 0.9 0 1 0 -2.5 0M69.8 315.6a0.8 0.6 0 1 0 1.5 0a0.8 0.6 0 1 0 -1.5 0M92.3 335.7a1.2 0.7 0 1 0 2.4 0a1.2 0.7 0 1 0 -2.4 0M122.7 254a1.1 0.8 0 1 0 2.2 0a1.1 0.8 0 1 0 -2.2 0M194.9 271.9a1 0.7 0 1 0 2 0a1 0.7 0 1 0 -2 0M93.5 344.5a0.7 0.6 0 1 0 1.4 0a0.7 0.6 0 1 0 -1.4 0M190.2 334.4a1.3 1 0 1 0 2.6 0a1.3 1 0 1 0 -2.6 0M96.4 230.1a1.1 0.8 0 1 0 2.1 0a1.1 0.8 0 1 0 -2.1 0M201.1 326.1a1.1 0.8 0 1 0 2.1 0a1.1 0.8 0 1 0 -2.1 0M190 331.1a0.9 0.6 0 1 0 1.8 0a0.9 0.6 0 1 0 -1.8 0M107 317.8a1 0.7 0 1 0 2 0a1 0.7 0 1 0 -2 0M147.8 344.4a1.3 1 0 1 0 2.6 0a1.3 1 0 1 0 -2.6 0M161.1 306.1a0.7 0.5 0 1 0 1.4 0a0.7 0.5 0 1 0 -1.4 0M150.8 230.5a0.8 0.6 0 1 0 1.6 0a0.8 0.6 0 1 0 -1.6 0M138 335.7a1.2 0.9 0 1 0 2.3 0a1.2 0.9 0 1 0 -2.3 0M111.6 269.9a1 0.9 0 1 0 2 0a1 0.9 0 1 0 -2 0M192.2 338.4a0.8 0.5 0 1 0 1.6 0a0.8 0.5 0 1 0 -1.6 0M72.3 298.5a0.8 0.7 0 1 0 1.6 0a0.8 0.7 0 1 0 -1.6 0M133.7 286.3a1.1 0.8 0 1 0 2.1 0a1.1 0.8 0 1 0 -2.1 0M161.4 311.9a1.2 1 0 1 0 2.5 0a1.2 1 0 1 0 -2.5 0M69.5 217.5a1 0.7 0 1 0 2.1 0a1 0.7 0 1 0 -2.1 0M197.9 248.9a1 0.9 0 1 0 2 0a1 0.9 0 1 0 -2 0M75.6 243.2a1.1 0.8 0 1 0 2.1 0a1.1 0.8 0 1 0 -2.1 0M72.4 343.9a1 0.7 0 1 0 2 0a1 0.7 0 1 0 -2 0M194.3 221.2a1 0.9 0 1 0 2 0a1 0.9 0 1 0 -2 0M101.6 349a1.1 0.6 0 1 0 2.1 0a1.1 0.6 0 1 0 -2.1 0M88.4 354.4a0.8 0.7 0 1 0 1.5 0a0.8 0.7 0 1 0 -1.5 0M107.5 284.9a0.9 0.7 0 1 0 1.7 0a0.9 0.7 0 1 0 -1.7 0M123.5 232.9a1 0.8 0 1 0 2.1 0a1 0.8 0 1 0 -2.1 0M164.7 273.7a0.9 0.6 0 1 0 1.8 0a0.9 0.6 0 1 0 -1.8 0M98.6 268.2a0.9 0.8 0 1 0 1.7 0a0.9 0.8 0 1 0 -1.7 0M98.3 287.9a1 0.8 0 1 0 1.9 0a1 0.8 0 1 0 -1.9 0M72.2 287.2a1.3 1 0 1 0 2.6 0a1.3 1 0 1 0 -2.6 0M69.5 274.6a1.1 1 0 1 0 2.2 0a1.1 1 0 1 0 -2.2 0M127.7 336.7a0.7 0.6 0 1 0 1.3 0a0.7 0.6 0 1 0 -1.3 0M179 280.1a1.4 1 0 1 0 2.8 0a1.4 1 0 1 0 -2.8 0M160 283.3a0.8 0.6 0 1 0 1.7 0a0.8 0.6 0 1 0 -1.7 0M187.6 240.8a1 0.9 0 1 0 2 0a1 0.9 0 1 0 -2 0M98.3 281.6a0.9 0.7 0 1 0 1.9 0a0.9 0.7 0 1 0 -1.9 0M167.7 304.7a0.8 0.6 0 1 0 1.5 0a0.8 0.6 0 1 0 -1.5 0M101.8 269.4a1.1 0.9 0 1 0 2.2 0a1.1 0.9 0 1 0 -2.2 0M92.1 249.8a0.9 0.8 0 1 0 1.7 0a0.9 0.8 0 1 0 -1.7 0M58.1 295a1 0.9 0 1 0 2.1 0a1 0.9 0 1 0 -2.1 0M100.1 207.8a0.7 0.6 0 1 0 1.3 0a0.7 0.6 0 1 0 -1.3 0M164.4 258.7a1.1 0.9 0 1 0 2.3 0a1.1 0.9 0 1 0 -2.3 0M138.8 285.8a1.1 1 0 1 0 2.3 0a1.1 1 0 1 0 -2.3 0M148.2 309.4a1 0.8 0 1 0 1.9 0a1 0.8 0 1 0 -1.9 0M195.5 207.5a0.8 0.6 0 1 0 1.7 0a0.8 0.6 0 1 0 -1.7 0M169.6 303.2a0.8 0.6 0 1 0 1.6 0a0.8 0.6 0 1 0 -1.6 0M62.1 208.1a1.2 0.8 0 1 0 2.4 0a1.2 0.8 0 1 0 -2.4 0M128.9 266.7a1.2 0.8 0 1 0 2.4 0a1.2 0.8 0 1 0 -2.4 0M165.1 275.6a1.4 1 0 1 0 2.8 0a1.4 1 0 1 0 -2.8 0M97.7 250.6a1.4 0.9 0 1 0 2.8 0a1.4 0.9 0 1 0 -2.8 0M131.3 269.8a1 0.9 0 1 0 2 0a1 0.9 0 1 0 -2 0M125.6 330.5a0.9 0.7 0 1 0 1.9 0a0.9 0.7 0 1 0 -1.9 0M134.7 270.9a1.4 1 0 1 0 2.7 0a1.4 1 0 1 0 -2.7 0M107.7 274.4a0.8 0.6 0 1 0 1.7 0a0.8 0.6 0 1 0 -1.7 0M64.4 260.4a0.7 0.5 0 1 0 1.4 0a0.7 0.5 0 1 0 -1.4 0M189.8 253.1a0.9 0.6 0 1 0 1.7 0a0.9 0.6 0 1 0 -1.7 0M162 251.2a1.1 0.9 0 1 0 2.2 0a1.1 0.9 0 1 0 -2.2 0M186.3 309.3a0.9 0.6 0 1 0 1.8 0a0.9 0.6 0 1 0 -1.8 0M129.4 246.8a1.1 0.9 0 1 0 2.2 0a1.1 0.9 0 1 0 -2.2 0M91 291.4a1.2 0.8 0 1 0 2.4 0a1.2 0.8 0 1 0 -2.4 0M183.5 345a0.9 0.8 0 1 0 1.8 0a0.9 0.8 0 1 0 -1.8 0M140 285.4a1.2 0.9 0 1 0 2.5 0a1.2 0.9 0 1 0 -2.5 0M152.4 244.8a0.8 0.8 0 1 0 1.5 0a0.8 0.8 0 1 0 -1.5 0M176.8 316.5a1.5 0.9 0 1 0 2.9 0a1.5 0.9 0 1 0 -2.9 0M101.3 344.6a0.8 0.6 0 1 0 1.6 0a0.8 0.6 0 1 0 -1.6 0M74.5 236.9a1.2 0.8 0 1 0 2.5 0a1.2 0.8 0 1 0 -2.5 0M132.4 233.7a1.3 0.8 0 1 0 2.6 0a1.3 0.8 0 1 0 -2.6 0M111.9 206.8a1.5 1.1 0 1 0 2.9 0a1.5 1.1 0 1 0 -2.9 0M52.9 347a0.9 0.7 0 1 0 1.8 0a0.9 0.7 0 1 0 -1.8 0M137.2 222.7a0.9 0.6 0 1 0 1.8 0a0.9 0.6 0 1 0 -1.8 0M109.6 346.1a0.8 0.8 0 1 0 1.7 0a0.8 0.8 0 1 0 -1.7 0M105.4 324.6a1 0.8 0 1 0 2 0a1 0.8 0 1 0 -2 0M79.6 287.9a0.8 0.8 0 1 0 1.7 0a0.8 0.8 0 1 0 -1.7 0M104.4 297.7a0.8 0.6 0 1 0 1.6 0a0.8 0.6 0 1 0 -1.6 0M156 224.9a1.1 0.9 0 1 0 2.2 0a1.1 0.9 0 1 0 -2.2 0M85.2 228.1a1.3 1 0 1 0 2.6 0a1.3 1 0 1 0 -2.6 0M164.5 265.9a1 0.8 0 1 0 2 0a1 0.8 0 1 0 -2 0M117.9 323.7a0.8 0.6 0 1 0 1.6 0a0.8 0.6 0 1 0 -1.6 0M58.7 237.6a0.6 0.5 0 1 0 1.3 0a0.6 0.5 0 1 0 -1.3 0M185.9 211.6a1.2 1.1 0 1 0 2.3 0a1.2 1.1 0 1 0 -2.3 0M106.7 242.4a1 0.7 0 1 0 2.1 0a1 0.7 0 1 0 -2.1 0M71.8 307.9a1.4 0.8 0 1 0 2.7 0a1.4 0.8 0 1 0 -2.7 0M169.1 257a0.9 0.8 0 1 0 1.9 0a0.9 0.8 0 1 0 -1.9 0M190.9 243.3a1.1 0.7 0 1 0 2.2 0a1.1 0.7 0 1 0 -2.2 0M175.7 286a1 0.7 0 1 0 1.9 0a1 0.7 0 1 0 -1.9 0M110.3 356.1a0.8 0.6 0 1 0 1.6 0a0.8 0.6 0 1 0 -1.6 0M160 276.8a1 1 0 1 0 2 0a1 1 0 1 0 -2 0M183.4 266.9a1.3 0.9 0 1 0 2.5 0a1.3 0.9 0 1 0 -2.5 0M169.4 278.4a0.7 0.6 0 1 0 1.5 0a0.7 0.6 0 1 0 -1.5 0M77.3 275a1 1.1 0 1 0 2.1 0a1 1.1 0 1 0 -2.1 0M105.4 260.1a1.2 0.8 0 1 0 2.4 0a1.2 0.8 0 1 0 -2.4 0M75.5 268.8a1.5 1.1 0 1 0 3 0a1.5 1.1 0 1 0 -3 0M157.8 309.1a1.2 0.9 0 1 0 2.3 0a1.2 0.9 0 1 0 -2.3 0M180.3 208.2a1 0.9 0 1 0 2 0a1 0.9 0 1 0 -2 0M147.4 239.2a0.7 0.5 0 1 0 1.4 0a0.7 0.5 0 1 0 -1.4 0M123.6 293.1a0.7 0.6 0 1 0 1.3 0a0.7 0.6 0 1 0 -1.3 0M96.3 233.7a0.9 0.7 0 1 0 1.8 0a0.9 0.7 0 1 0 -1.8 0M113.8 255a1 0.8 0 1 0 2.1 0a1 0.8 0 1 0 -2.1 0M196.8 334.7a1 1 0 1 0 2 0a1 1 0 1 0 -2 0M78 317a0.8 0.7 0 1 0 1.5 0a0.8 0.7 0 1 0 -1.5 0M91.2 339.5a0.8 0.6 0 1 0 1.6 0a0.8 0.6 0 1 0 -1.6 0M59.6 247.8a1 0.7 0 1 0 1.9 0a1 0.7 0 1 0 -1.9 0M194.5 230.3a0.8 0.6 0 1 0 1.5 0a0.8 0.6 0 1 0 -1.5 0M84 319a0.7 0.5 0 1 0 1.3 0a0.7 0.5 0 1 0 -1.3 0M99.8 249.3a1.1 0.8 0 1 0 2.2 0a1.1 0.8 0 1 0 -2.2 0M117.8 354.9a0.7 0.7 0 1 0 1.5 0a0.7 0.7 0 1 0 -1.5 0M169.1 314.7a1.1 0.7 0 1 0 2.2 0a1.1 0.7 0 1 0 -2.2 0M195.9 317.2a1.2 1.1 0 1 0 2.5 0a1.2 1.1 0 1 0 -2.5 0M123.5 349a1.1 0.7 0 1 0 2.2 0a1.1 0.7 0 1 0 -2.2 0M130.5 289.9a1.2 0.9 0 1 0 2.3 0a1.2 0.9 0 1 0 -2.3 0M80 311.9a1 0.7 0 1 0 2 0a1 0.7 0 1 0 -2 0M190.1 354.7a1.2 0.8 0 1 0 2.4 0a1.2 0.8 0 1 0 -2.4 0M101.4 255a0.7 0.5 0 1 0 1.4 0a0.7 0.5 0 1 0 -1.4 0M115.2 215.6a0.9 0.6 0 1 0 1.7 0a0.9 0.6 0 1 0 -1.7 0M87.8 273.1a0.9 0.6 0 1 0 1.8 0a0.9 0.6 0 1 0 -1.8 0M165 346.3a1.3 0.9 0 1 0 2.5 0a1.3 0.9 0 1 0 -2.5 0M133.7 284.1a1.1 0.8 0 1 0 2.2 0a1.1 0.8 0 1 0 -2.2 0M121 328.7a1 1 0 1 0 1.9 0a1 1 0 1 0 -1.9 0M59.8 283.6a0.7 0.6 0 1 0 1.4 0a0.7 0.6 0 1 0 -1.4 0M145.4 312.7a1.3 0.9 0 1 0 2.6 0a1.3 0.9 0 1 0 -2.6 0M58.5 218.1a0.7 0.5 0 1 0 1.3 0a0.7 0.5 0 1 0 -1.3 0M75.3 333.8a0.9 0.8 0 1 0 1.8 0a0.9 0.8 0 1 0 -1.8 0M80.1 281a0.7 0.6 0 1 0 1.3 0a0.7 0.6 0 1 0 -1.3 0M138.2 250.9a1.1 0.9 0 1 0 2.2 0a1.1 0.9 0 1 0 -2.2 0M148.4 312.7a1.5 1.1 0 1 0 3 0a1.5 1.1 0 1 0 -3 0M175.2 308.4a1.1 0.9 0 1 0 2.2 0a1.1 0.9 0 1 0 -2.2 0M180.5 271.1a0.7 0.5 0 1 0 1.4 0a0.7 0.5 0 1 0 -1.4 0M93.8 344.5a0.9 0.6 0 1 0 1.7 0a0.9 0.6 0 1 0 -1.7 0M172.6 262.8a1.1 0.9 0 1 0 2.2 0a1.1 0.9 0 1 0 -2.2 0M84.1 306.7a0.7 0.6 0 1 0 1.4 0a0.7 0.6 0 1 0 -1.4 0M75.8 267.8a0.8 0.5 0 1 0 1.5 0a0.8 0.5 0 1 0 -1.5 0M107.2 353.2a1 0.7 0 1 0 1.9 0a1 0.7 0 1 0 -1.9 0M92.3 221.2a1 0.8 0 1 0 1.9 0a1 0.8 0 1 0 -1.9 0M74.1 317.2a1 0.8 0 1 0 2.1 0a1 0.8 0 1 0 -2.1 0M94.4 288a0.9 0.7 0 1 0 1.9 0a0.9 0.7 0 1 0 -1.9 0M147.4 247.5a1 0.8 0 1 0 2 0a1 0.8 0 1 0 -2 0M63.1 334.8a0.9 0.8 0 1 0 1.7 0a0.9 0.8 0 1 0 -1.7 0M148.1 238.3a1 1 0 1 0 2.1 0a1 1 0 1 0 -2.1 0M139.1 233.7a1.4 0.9 0 1 0 2.8 0a1.4 0.9 0 1 0 -2.8 0M166.6 209.5a1.3 0.9 0 1 0 2.5 0a1.3 0.9 0 1 0 -2.5 0M55.5 214.9a1.4 0.9 0 1 0 2.8 0a1.4 0.9 0 1 0 -2.8 0M193.3 328.2a0.8 0.5 0 1 0 1.6 0a0.8 0.5 0 1 0 -1.6 0M101.8 236.8a0.8 0.5 0 1 0 1.6 0a0.8 0.5 0 1 0 -1.6 0M198.7 237a1.1 1 0 1 0 2.2 0a1.1 1 0 1 0 -2.2 0M137.2 280.2a1.2 0.9 0 1 0 2.4 0a1.2 0.9 0 1 0 -2.4 0M78.6 326.1a1.1 1 0 1 0 2.2 0a1.1 1 0 1 0 -2.2 0M123.1 317.3a0.7 0.6 0 1 0 1.5 0a0.7 0.6 0 1 0 -1.5 0M91.2 355.8a1.4 1.1 0 1 0 2.9 0a1.4 1.1 0 1 0 -2.9 0M93.3 322a1.3 1 0 1 0 2.5 0a1.3 1 0 1 0 -2.5 0M152 242.9a0.6 0.5 0 1 0 1.2 0a0.6 0.5 0 1 0 -1.2 0M149.2 334.6a0.7 0.6 0 1 0 1.5 0a0.7 0.6 0 1 0 -1.5 0M77.1 244.3a1.1 0.7 0 1 0 2.1 0a1.1 0.7 0 1 0 -2.1 0M78.8 276.4a0.9 0.8 0 1 0 1.8 0a0.9 0.8 0 1 0 -1.8 0M137.6 350.8a1.4 0.9 0 1 0 2.8 0a1.4 0.9 0 1 0 -2.8 0M131.8 246.2a0.7 0.7 0 1 0 1.5 0a0.7 0.7 0 1 0 -1.5 0M152 246.7a0.9 0.6 0 1 0 1.9 0a0.9 0.6 0 1 0 -1.9 0M157.7 242.4a1.4 1 0 1 0 2.8 0a1.4 1 0 1 0 -2.8 0M69.8 271.2a0.6 0.6 0 1 0 1.2 0a0.6 0.6 0 1 0 -1.2 0M69.2 236.3a1 0.6 0 1 0 2.1 0a1 0.6 0 1 0 -2.1 0M115.8 285.7a0.7 0.5 0 1 0 1.4 0a0.7 0.5 0 1 0 -1.4 0M100.5 254a1.3 1 0 1 0 2.7 0a1.3 1 0 1 0 -2.7 0M102.6 250.6a0.7 0.6 0 1 0 1.4 0a0.7 0.6 0 1 0 -1.4 0M106.1 239.9a0.7 0.5 0 1 0 1.5 0a0.7 0.5 0 1 0 -1.5 0M93.1 333.4a1.4 0.9 0 1 0 2.7 0a1.4 0.9 0 1 0 -2.7 0M179.5 320.5a0.6 0.6 0 1 0 1.2 0a0.6 0.6 0 1 0 -1.2 0M124.3 231.9a1.2 1 0 1 0 2.5 0a1.2 1 0 1 0 -2.5 0M157.7 354.4a1 0.8 0 1 0 1.9 0a1 0.8 0 1 0 -1.9 0M84.8 305.7a1.2 1.1 0 1 0 2.3 0a1.2 1.1 0 1 0 -2.3 0M154.5 209.7a1.2 1 0 1 0 2.4 0a1.2 1 0 1 0 -2.4 0M172.6 287.3a0.9 0.9 0 1 0 1.9 0a0.9 0.9 0 1 0 -1.9 0M74.8 329.8a1.3 1 0 1 0 2.5 0a1.3 1 0 1 0 -2.5 0M200.3 330.6a1.1 0.8 0 1 0 2.2 0a1.1 0.8 0 1 0 -2.2 0M204.3 214.9a0.7 0.6 0 1 0 1.4 0a0.7 0.6 0 1 0 -1.4 0M120.3 236.8a0.6 0.5 0 1 0 1.2 0a0.6 0.5 0 1 0 -1.2 0M104.8 245.9a1.5 1.1 0 1 0 3 0a1.5 1.1 0 1 0 -3 0M82.4 310.6a0.8 0.6 0 1 0 1.5 0a0.8 0.6 0 1 0 -1.5 0M100.3 323.7a0.9 0.7 0 1 0 1.8 0a0.9 0.7 0 1 0 -1.8 0M147.9 216.7a0.8 0.6 0 1 0 1.6 0a0.8 0.6 0 1 0 -1.6 0M88.4 306a1.3 0.8 0 1 0 2.7 0a1.3 0.8 0 1 0 -2.7 0M83.4 214.7a1.1 0.9 0 1 0 2.2 0a1.1 0.9 0 1 0 -2.2 0M77.6 301.7a0.8 0.7 0 1 0 1.7 0a0.8 0.7 0 1 0 -1.7 0M196.5 234.2a1 0.9 0 1 0 2.1 0a1 0.9 0 1 0 -2.1 0M157.6 217.8a1.4 0.9 0 1 0 2.8 0a1.4 0.9 0 1 0 -2.8 0M159.2 303.3a1.3 1 0 1 0 2.7 0a1.3 1 0 1 0 -2.7 0M185.3 245.6a1.2 1 0 1 0 2.5 0a1.2 1 0 1 0 -2.5 0M179.2 319.6a0.8 0.7 0 1 0 1.6 0a0.8 0.7 0 1 0 -1.6 0M112.9 289.6a1.2 0.8 0 1 0 2.4 0a1.2 0.8 0 1 0 -2.4 0M110.1 232a1 0.9 0 1 0 2.1 0a1 0.9 0 1 0 -2.1 0M59.2 320a0.9 0.6 0 1 0 1.7 0a0.9 0.6 0 1 0 -1.7 0M106.7 220.2a0.7 0.7 0 1 0 1.4 0a0.7 0.7 0 1 0 -1.4 0M175 208.8a0.7 0.5 0 1 0 1.3 0a0.7 0.5 0 1 0 -1.3 0M136 332.4a1.1 1.1 0 1 0 2.2 0a1.1 1.1 0 1 0 -2.2 0M122.3 276.3a0.7 0.5 0 1 0 1.4 0a0.7 0.5 0 1 0 -1.4 0M95.2 287.5a0.8 0.6 0 1 0 1.5 0a0.8 0.6 0 1 0 -1.5 0M62.9 342.9a0.9 0.7 0 1 0 1.9 0a0.9 0.7 0 1 0 -1.9 0M201.5 207.1a1 0.9 0 1 0 2.1 0a1 0.9 0 1 0 -2.1 0M125.9 274a1.2 0.9 0 1 0 2.4 0a1.2 0.9 0 1 0 -2.4 0M62.7 249.5a0.8 0.6 0 1 0 1.7 0a0.8 0.6 0 1 0 -1.7 0M69.2 224.6a0.6 0.6 0 1 0 1.2 0a0.6 0.6 0 1 0 -1.2 0M198.7 294.9a0.8 0.6 0 1 0 1.6 0a0.8 0.6 0 1 0 -1.6 0M95.5 326.8a0.8 0.6 0 1 0 1.6 0a0.8 0.6 0 1 0 -1.6 0M89 344.7a1.1 0.8 0 1 0 2.1 0a1.1 0.8 0 1 0 -2.1 0M92.7 258.8a0.9 0.8 0 1 0 1.9 0a0.9 0.8 0 1 0 -1.9 0M56.5 263.8a0.7 0.6 0 1 0 1.5 0a0.7 0.6 0 1 0 -1.5 0M190.2 337.1a1.3 0.9 0 1 0 2.5 0a1.3 0.9 0 1 0 -2.5 0M181.1 223.2a0.8 0.8 0 1 0 1.6 0a0.8 0.8 0 1 0 -1.6 0M165.5 345.3a0.9 0.6 0 1 0 1.7 0a0.9 0.6 0 1 0 -1.7 0M134.8 272.3a1.2 1.1 0 1 0 2.4 0a1.2 1.1 0 1 0 -2.4 0M192.7 260.7a1 0.9 0 1 0 2 0a1 0.9 0 1 0 -2 0M182 265.8a0.9 0.7 0 1 0 1.7 0a0.9 0.7 0 1 0 -1.7 0M153.2 299.1a1.1 0.7 0 1 0 2.2 0a1.1 0.7 0 1 0 -2.2 0M124.6 310.1a1.3 0.8 0 1 0 2.6 0a1.3 0.8 0 1 0 -2.6 0M192.7 351.7a1.2 0.8 0 1 0 2.4 0a1.2 0.8 0 1 0 -2.4 0M80.7 238.1a1.2 0.8 0 1 0 2.3 0a1.2 0.8 0 1 0 -2.3 0M194.3 330.8a0.6 0.6 0 1 0 1.1 0a0.6 0.6 0 1 0 -1.1 0M128 323a1.2 0.8 0 1 0 2.4 0a1.2 0.8 0 1 0 -2.4 0M183.8 346a1 0.6 0 1 0 2 0a1 0.6 0 1 0 -2 0M194.4 297.6a1.4 1 0 1 0 2.9 0a1.4 1 0 1 0 -2.9 0M79.3 283a1.3 1 0 1 0 2.6 0a1.3 1 0 1 0 -2.6 0M86 227.4a0.8 0.6 0 1 0 1.5 0a0.8 0.6 0 1 0 -1.5 0M195.3 246.3a0.9 0.7 0 1 0 1.8 0a0.9 0.7 0 1 0 -1.8 0M88.3 250.4a0.8 0.6 0 1 0 1.6 0a0.8 0.6 0 1 0 -1.6 0M136.1 242.4a0.9 0.6 0 1 0 1.8 0a0.9 0.6 0 1 0 -1.8 0M137.6 304.4a1.3 1 0 1 0 2.7 0a1.3 1 0 1 0 -2.7 0M69.8 317.1a0.6 0.5 0 1 0 1.2 0a0.6 0.5 0 1 0 -1.2 0M72.1 228.2a0.9 0.7 0 1 0 1.8 0a0.9 0.7 0 1 0 -1.8 0M128.2 288.3a1.2 0.8 0 1 0 2.4 0a1.2 0.8 0 1 0 -2.4 0M121.9 235.9a1.1 0.7 0 1 0 2.3 0a1.1 0.7 0 1 0 -2.3 0M101.3 293.2a1 0.8 0 1 0 2.1 0a1 0.8 0 1 0 -2.1 0M128.2 345.8a0.8 0.5 0 1 0 1.5 0a0.8 0.5 0 1 0 -1.5 0M191.4 264.2a0.9 0.8 0 1 0 1.9 0a0.9 0.8 0 1 0 -1.9 0M150.6 255a1.2 0.8 0 1 0 2.4 0a1.2 0.8 0 1 0 -2.4 0M153.9 290.5a1 0.6 0 1 0 1.9 0a1 0.6 0 1 0 -1.9 0M56.2 269.5a0.9 0.7 0 1 0 1.7 0a0.9 0.7 0 1 0 -1.7 0M63.5 347.5a1 0.8 0 1 0 1.9 0a1 0.8 0 1 0 -1.9 0M141.8 264a1.2 1.1 0 1 0 2.4 0a1.2 1.1 0 1 0 -2.4 0M168.8 309.9a0.8 0.7 0 1 0 1.6 0a0.8 0.7 0 1 0 -1.6 0M176 211.8a0.7 0.7 0 1 0 1.4 0a0.7 0.7 0 1 0 -1.4 0M186.6 309a1.1 0.9 0 1 0 2.3 0a1.1 0.9 0 1 0 -2.3 0M135.5 326a0.8 0.6 0 1 0 1.5 0a0.8 0.6 0 1 0 -1.5 0M62.7 290.2a1.1 1.1 0 1 0 2.3 0a1.1 1.1 0 1 0 -2.3 0M161 339.7a1.4 1.1 0 1 0 2.8 0a1.4 1.1 0 1 0 -2.8 0M124.3 271.7a1 0.9 0 1 0 2 0a1 0.9 0 1 0 -2 0M135.2 271a1.1 0.9 0 1 0 2.2 0a1.1 0.9 0 1 0 -2.2 0M176.3 312.4a0.7 0.6 0 1 0 1.4 0a0.7 0.6 0 1 0 -1.4 0M65.5 281.9a0.7 0.6 0 1 0 1.4 0a0.7 0.6 0 1 0 -1.4 0M119.3 337.2a0.9 0.7 0 1 0 1.8 0a0.9 0.7 0 1 0 -1.8 0M72.6 292.6a0.7 0.5 0 1 0 1.3 0a0.7 0.5 0 1 0 -1.3 0M163 353.2a0.7 0.7 0 1 0 1.5 0a0.7 0.7 0 1 0 -1.5 0M140 325.6a1.4 1 0 1 0 2.9 0a1.4 1 0 1 0 -2.9 0M201.5 340.1a0.8 0.5 0 1 0 1.5 0a0.8 0.5 0 1 0 -1.5 0M87.6 276.9a0.9 0.6 0 1 0 1.9 0a0.9 0.6 0 1 0 -1.9 0M65.6 339.7a0.8 0.7 0 1 0 1.6 0a0.8 0.7 0 1 0 -1.6 0M72.3 296.7a0.8 0.8 0 1 0 1.7 0a0.8 0.8 0 1 0 -1.7 0M157.2 213.6a1.4 1.1 0 1 0 2.7 0a1.4 1.1 0 1 0 -2.7 0M169.6 230.9a0.8 0.7 0 1 0 1.6 0a0.8 0.7 0 1 0 -1.6 0M195.7 291.9a1.3 0.9 0 1 0 2.6 0a1.3 0.9 0 1 0 -2.6 0M119 247.7a1.2 1 0 1 0 2.4 0a1.2 1 0 1 0 -2.4 0M181.6 209.3a0.8 0.6 0 1 0 1.6 0a0.8 0.6 0 1 0 -1.6 0M110.7 209a1 0.8 0 1 0 1.9 0a1 0.8 0 1 0 -1.9 0M68 310.4a0.8 0.5 0 1 0 1.6 0a0.8 0.5 0 1 0 -1.6 0M138.1 257a1.2 0.9 0 1 0 2.3 0a1.2 0.9 0 1 0 -2.3 0M184.1 214.4a1 0.7 0 1 0 2 0a1 0.7 0 1 0 -2 0M78.3 280.6a0.6 0.5 0 1 0 1.1 0a0.6 0.5 0 1 0 -1.1 0M109.5 244.2a1.1 0.9 0 1 0 2.3 0a1.1 0.9 0 1 0 -2.3 0M141.5 312.7a1.3 1.1 0 1 0 2.7 0a1.3 1.1 0 1 0 -2.7 0M136.5 216.7a1.3 0.8 0 1 0 2.5 0a1.3 0.8 0 1 0 -2.5 0M164.7 281a1.3 1 0 1 0 2.6 0a1.3 1 0 1 0 -2.6 0M188 345.5a1.2 0.9 0 1 0 2.4 0a1.2 0.9 0 1 0 -2.4 0M163.9 340.9a1 0.8 0 1 0 2.1 0a1 0.8 0 1 0 -2.1 0M136.2 237.5a0.8 0.7 0 1 0 1.6 0a0.8 0.7 0 1 0 -1.6 0M56.4 238.3a0.9 0.6 0 1 0 1.8 0a0.9 0.6 0 1 0 -1.8 0M98.9 221.3a1.2 0.9 0 1 0 2.5 0a1.2 0.9 0 1 0 -2.5 0M161 295.6a0.7 0.6 0 1 0 1.5 0a0.7 0.6 0 1 0 -1.5 0M77.2 263.1a1.6 1.1 0 1 0 3.1 0a1.6 1.1 0 1 0 -3.1 0M179.8 229a1.4 0.9 0 1 0 2.8 0a1.4 0.9 0 1 0 -2.8 0M190.2 328.2a1.5 0.9 0 1 0 3 0a1.5 0.9 0 1 0 -3 0M78.4 327a0.7 0.6 0 1 0 1.5 0a0.7 0.6 0 1 0 -1.5 0M178.3 265.6a1 0.8 0 1 0 2 0a1 0.8 0 1 0 -2 0M147.9 257.6a0.7 0.7 0 1 0 1.5 0a0.7 0.7 0 1 0 -1.5 0M161.3 238.8a1.2 0.9 0 1 0 2.4 0a1.2 0.9 0 1 0 -2.4 0M132.5 267.4a0.7 0.5 0 1 0 1.3 0a0.7 0.5 0 1 0 -1.3 0M187 352.3a1 0.9 0 1 0 2 0a1 0.9 0 1 0 -2 0M115 350.9a1.1 0.9 0 1 0 2.3 0a1.1 0.9 0 1 0 -2.3 0M59.8 307.3a1 0.7 0 1 0 2.1 0a1 0.7 0 1 0 -2.1 0M142.5 219.6a0.9 0.6 0 1 0 1.7 0a0.9 0.6 0 1 0 -1.7 0M69.1 303.4a1.6 1.2 0 1 0 3.1 0a1.6 1.2 0 1 0 -3.1 0M160.8 206.4a0.8 0.6 0 1 0 1.6 0a0.8 0.6 0 1 0 -1.6 0M179.4 209.8a0.9 0.9 0 1 0 1.9 0a0.9 0.9 0 1 0 -1.9 0M65.6 278.8a1.4 1 0 1 0 2.8 0a1.4 1 0 1 0 -2.8 0M170.9 250.3a1.1 0.9 0 1 0 2.2 0a1.1 0.9 0 1 0 -2.2 0M142.7 272.5a1 0.7 0 1 0 2 0a1 0.7 0 1 0 -2 0M200.2 345.3a1.1 0.9 0 1 0 2.1 0a1.1 0.9 0 1 0 -2.1 0M127.6 324.7a1.2 0.9 0 1 0 2.3 0a1.2 0.9 0 1 0 -2.3 0M184.3 352.8a0.9 0.7 0 1 0 1.8 0a0.9 0.7 0 1 0 -1.8 0M110.3 301.5a1.3 0.9 0 1 0 2.6 0a1.3 0.9 0 1 0 -2.6 0M127 273.3a1.4 1.2 0 1 0 2.7 0a1.4 1.2 0 1 0 -2.7 0M199.2 209.5a1 0.9 0 1 0 2.1 0a1 0.9 0 1 0 -2.1 0M147.8 217.1a1.1 0.8 0 1 0 2.3 0a1.1 0.8 0 1 0 -2.3 0M134.4 265.1a0.7 0.7 0 1 0 1.4 0a0.7 0.7 0 1 0 -1.4 0M148.6 287a1.4 1 0 1 0 2.7 0a1.4 1 0 1 0 -2.7 0M113.4 286.9a0.8 0.8 0 1 0 1.5 0a0.8 0.8 0 1 0 -1.5 0M64.4 261.5a1.2 1.1 0 1 0 2.4 0a1.2 1.1 0 1 0 -2.4 0M55.6 227.9a1 0.8 0 1 0 2 0a1 0.8 0 1 0 -2 0M188.4 329.1a0.9 0.5 0 1 0 1.8 0a0.9 0.5 0 1 0 -1.8 0M123.5 257.9a0.6 0.6 0 1 0 1.2 0a0.6 0.6 0 1 0 -1.2 0M199 257.3a1.5 0.9 0 1 0 3 0a1.5 0.9 0 1 0 -3 0M143.8 236.2a0.9 0.6 0 1 0 1.8 0a0.9 0.6 0 1 0 -1.8 0M106 206.1a0.8 0.6 0 1 0 1.6 0a0.8 0.6 0 1 0 -1.6 0M67.3 266.7a0.8 0.5 0 1 0 1.6 0a0.8 0.5 0 1 0 -1.6 0M108 214.8a1.1 0.8 0 1 0 2.2 0a1.1 0.8 0 1 0 -2.2 0M108.3 343.2a1.3 1 0 1 0 2.6 0a1.3 1 0 1 0 -2.6 0M63.4 341.7a1.1 1 0 1 0 2.2 0a1.1 1 0 1 0 -2.2 0M76.8 278.2a0.9 0.6 0 1 0 1.7 0a0.9 0.6 0 1 0 -1.7 0M135.2 243.8a0.6 0.5 0 1 0 1.1 0a0.6 0.5 0 1 0 -1.1 0M120.2 282.7a1 0.8 0 1 0 2.1 0a1 0.8 0 1 0 -2.1 0M114.1 318.8a1.2 0.9 0 1 0 2.3 0a1.2 0.9 0 1 0 -2.3 0M90.8 348.5a1.2 0.8 0 1 0 2.4 0a1.2 0.8 0 1 0 -2.4 0M140 312.6a1.1 0.7 0 1 0 2.2 0a1.1 0.7 0 1 0 -2.2 0M171.5 253.3a0.9 0.8 0 1 0 1.8 0a0.9 0.8 0 1 0 -1.8 0M187 209.8a0.8 0.6 0 1 0 1.6 0a0.8 0.6 0 1 0 -1.6 0M156.3 309a1.2 0.8 0 1 0 2.4 0a1.2 0.8 0 1 0 -2.4 0M135.2 247.6a0.7 0.6 0 1 0 1.3 0a0.7 0.6 0 1 0 -1.3 0M123.2 320.2a0.9 0.9 0 1 0 1.9 0a0.9 0.9 0 1 0 -1.9 0M202.3 304a1 0.7 0 1 0 2 0a1 0.7 0 1 0 -2 0M193.7 333.5a1.1 0.8 0 1 0 2.1 0a1.1 0.8 0 1 0 -2.1 0M101 334.2a0.9 0.5 0 1 0 1.7 0a0.9 0.5 0 1 0 -1.7 0M119.2 297.3a0.9 0.6 0 1 0 1.8 0a0.9 0.6 0 1 0 -1.8 0M183.8 221.1a1.4 1.1 0 1 0 2.9 0a1.4 1.1 0 1 0 -2.9 0M166.3 233.4a0.9 0.9 0 1 0 1.8 0a0.9 0.9 0 1 0 -1.8 0M172 237a0.8 0.8 0 1 0 1.7 0a0.8 0.8 0 1 0 -1.7 0M158 214.3a1.2 0.8 0 1 0 2.5 0a1.2 0.8 0 1 0 -2.5 0M190.4 246.5a0.6 0.5 0 1 0 1.1 0a0.6 0.5 0 1 0 -1.1 0M81.8 335.2a0.8 0.8 0 1 0 1.7 0a0.8 0.8 0 1 0 -1.7 0M102.5 225.1a0.6 0.5 0 1 0 1.2 0a0.6 0.5 0 1 0 -1.2 0M128 293.3a0.6 0.6 0 1 0 1.2 0a0.6 0.6 0 1 0 -1.2 0M116.5 314.6a1.3 1.1 0 1 0 2.7 0a1.3 1.1 0 1 0 -2.7 0M85.7 237.2a1.2 0.9 0 1 0 2.4 0a1.2 0.9 0 1 0 -2.4 0M87.7 301.1a0.8 0.6 0 1 0 1.6 0a0.8 0.6 0 1 0 -1.6 0M203.5 263.2a0.8 0.8 0 1 0 1.7 0a0.8 0.8 0 1 0 -1.7 0M65.6 330.5a0.7 0.6 0 1 0 1.5 0a0.7 0.6 0 1 0 -1.5 0M106.2 349.7a0.9 0.7 0 1 0 1.7 0a0.9 0.7 0 1 0 -1.7 0M86.8 319.7a1.5 0.9 0 1 0 3 0a1.5 0.9 0 1 0 -3 0M170.6 324.5a1.3 0.8 0 1 0 2.5 0a1.3 0.8 0 1 0 -2.5 0M154.9 293a1.1 0.7 0 1 0 2.2 0a1.1 0.7 0 1 0 -2.2 0M108.9 300.7a1.5 1.1 0 1 0 3 0a1.5 1.1 0 1 0 -3 0M92.2 269a1 0.7 0 1 0 2 0a1 0.7 0 1 0 -2 0M107.9 346a1 0.8 0 1 0 2.1 0a1 0.8 0 1 0 -2.1 0M130.2 343.8a1.1 1.1 0 1 0 2.3 0a1.1 1.1 0 1 0 -2.3 0M197.2 252.1a0.8 0.8 0 1 0 1.6 0a0.8 0.8 0 1 0 -1.6 0M137.6 294.7a1.2 0.8 0 1 0 2.4 0a1.2 0.8 0 1 0 -2.4 0M135.7 272.8a1 0.7 0 1 0 2.1 0a1 0.7 0 1 0 -2.1 0M127.4 218.8a0.9 0.8 0 1 0 1.9 0a0.9 0.8 0 1 0 -1.9 0M84.7 264.5a0.7 0.6 0 1 0 1.5 0a0.7 0.6 0 1 0 -1.5 0M70.6 243.3a1 1 0 1 0 2 0a1 1 0 1 0 -2 0M114.6 237.3a1.2 0.9 0 1 0 2.3 0a1.2 0.9 0 1 0 -2.3 0M52.2 232.2a1.3 1 0 1 0 2.6 0a1.3 1 0 1 0 -2.6 0M142 218.7a0.8 0.6 0 1 0 1.7 0a0.8 0.6 0 1 0 -1.7 0M100.9 335.6a0.8 0.7 0 1 0 1.7 0a0.8 0.7 0 1 0 -1.7 0M181.3 247.6a1.2 1 0 1 0 2.4 0a1.2 1 0 1 0 -2.4 0M130.3 290.2a1 0.9 0 1 0 2.1 0a1 0.9 0 1 0 -2.1 0M90.2 271a1.3 0.8 0 1 0 2.6 0a1.3 0.8 0 1 0 -2.6 0M106.4 276.3a0.8 0.7 0 1 0 1.7 0a0.8 0.7 0 1 0 -1.7 0M87.5 330.8a1.3 1 0 1 0 2.6 0a1.3 1 0 1 0 -2.6 0M70.1 288.3a1.2 0.9 0 1 0 2.4 0a1.2 0.9 0 1 0 -2.4 0M177.9 229a1.1 0.8 0 1 0 2.3 0a1.1 0.8 0 1 0 -2.3 0M96.9 295.7a0.9 0.7 0 1 0 1.9 0a0.9 0.7 0 1 0 -1.9 0M174.3 322.2a0.7 0.6 0 1 0 1.4 0a0.7 0.6 0 1 0 -1.4 0M149 340.2a0.8 0.7 0 1 0 1.6 0a0.8 0.7 0 1 0 -1.6 0M60 286.6a0.7 0.8 0 1 0 1.5 0a0.7 0.8 0 1 0 -1.5 0M62 257.8a1.3 0.9 0 1 0 2.6 0a1.3 0.9 0 1 0 -2.6 0M198.1 272.8a1.2 1 0 1 0 2.4 0a1.2 1 0 1 0 -2.4 0M197.2 214.1a1.1 0.9 0 1 0 2.2 0a1.1 0.9 0 1 0 -2.2 0M143.8 244.8a0.8 0.5 0 1 0 1.5 0a0.8 0.5 0 1 0 -1.5 0M105.9 350.2a0.7 0.6 0 1 0 1.4 0a0.7 0.6 0 1 0 -1.4 0M128.8 342.5a1 0.7 0 1 0 1.9 0a1 0.7 0 1 0 -1.9 0M203.4 344.1a0.8 0.6 0 1 0 1.5 0a0.8 0.6 0 1 0 -1.5 0M123.7 294.6a1 0.9 0 1 0 2 0a1 0.9 0 1 0 -2 0M177.5 267.3a0.8 0.7 0 1 0 1.5 0a0.8 0.7 0 1 0 -1.5 0M70.7 237.1a0.9 0.7 0 1 0 1.8 0a0.9 0.7 0 1 0 -1.8 0M135 227.6a0.8 0.8 0 1 0 1.5 0a0.8 0.8 0 1 0 -1.5 0M122.5 331.9a0.8 0.6 0 1 0 1.5 0a0.8 0.6 0 1 0 -1.5 0M111.2 308.9a1 0.7 0 1 0 2 0a1 0.7 0 1 0 -2 0M93.8 321.6a0.9 0.7 0 1 0 1.8 0a0.9 0.7 0 1 0 -1.8 0M78 205.6a1.1 1 0 1 0 2.1 0a1.1 1 0 1 0 -2.1 0M128.7 267.5a0.9 0.9 0 1 0 1.8 0a0.9 0.9 0 1 0 -1.8 0M179.9 210.9a0.9 0.6 0 1 0 1.9 0a0.9 0.6 0 1 0 -1.9 0M73.7 326.9a1.6 1 0 1 0 3.2 0a1.6 1 0 1 0 -3.2 0M72.8 206.8a0.7 0.6 0 1 0 1.4 0a0.7 0.6 0 1 0 -1.4 0M167 232.5a0.9 0.7 0 1 0 1.9 0a0.9 0.7 0 1 0 -1.9 0M61.4 234.1a0.7 0.8 0 1 0 1.5 0a0.7 0.8 0 1 0 -1.5 0M200 276.6a1 0.8 0 1 0 2 0a1 0.8 0 1 0 -2 0M114.4 344.3a1.2 1.1 0 1 0 2.5 0a1.2 1.1 0 1 0 -2.5 0M197 251.2a1.4 1.1 0 1 0 2.7 0a1.4 1.1 0 1 0 -2.7 0M66.9 265a1 1 0 1 0 2 0a1 1 0 1 0 -2 0M112.4 291a1.1 1 0 1 0 2.3 0a1.1 1 0 1 0 -2.3 0M163.7 322.5a0.8 0.7 0 1 0 1.7 0a0.8 0.7 0 1 0 -1.7 0M120 276.7a1.1 0.7 0 1 0 2.3 0a1.1 0.7 0 1 0 -2.3 0M84.7 224.3a0.9 0.9 0 1 0 1.8 0a0.9 0.9 0 1 0 -1.8 0M83.5 272.9a1.1 0.8 0 1 0 2.2 0a1.1 0.8 0 1 0 -2.2 0M87.4 311.8a1 0.6 0 1 0 2.1 0a1 0.6 0 1 0 -2.1 0M98.5 280a0.8 0.6 0 1 0 1.7 0a0.8 0.6 0 1 0 -1.7 0M129 318.4a1.1 0.7 0 1 0 2.1 0a1.1 0.7 0 1 0 -2.1 0M107.6 260.5a0.7 0.6 0 1 0 1.5 0a0.7 0.6 0 1 0 -1.5 0M133.8 325.5a0.6 0.6 0 1 0 1.2 0a0.6 0.6 0 1 0 -1.2 0M106.9 314.8a1.2 0.9 0 1 0 2.4 0a1.2 0.9 0 1 0 -2.4 0"/>
<path fill="#e9d220" d="M120.1 289.8a1.9 1.5 0 1 0 3.8 0a1.9 1.5 0 1 0 -3.8 0M79.7 282.6a1.7 1.1 0 1 0 3.5 0a1.7 1.1 0 1 0 -3.5 0M65.8 327.6a1.4 1.4 0 1 0 2.7 0a1.4 1.4 0 1 0 -2.7 0M151.7 298.3a0.8 0.8 0 1 0 1.6 0a0.8 0.8 0 1 0 -1.6 0M81.4 241.8a0.8 0.6 0 1 0 1.6 0a0.8 0.6 0 1 0 -1.6 0M130.6 302a1.5 1.1 0 1 0 3 0a1.5 1.1 0 1 0 -3 0M202.7 355.7a2 1.3 0 1 0 3.9 0a2 1.3 0 1 0 -3.9 0M95.5 215.8a1.7 1.4 0 1 0 3.3 0a1.7 1.4 0 1 0 -3.3 0M197.9 333.3a0.7 0.7 0 1 0 1.4 0a0.7 0.7 0 1 0 -1.4 0M201.1 265.3a0.9 0.7 0 1 0 1.9 0a0.9 0.7 0 1 0 -1.9 0M64.4 255.5a2.2 1.3 0 1 0 4.3 0a2.2 1.3 0 1 0 -4.3 0M67.2 214.3a1.6 1.4 0 1 0 3.1 0a1.6 1.4 0 1 0 -3.1 0M81.3 315.9a1 0.6 0 1 0 2 0a1 0.6 0 1 0 -2 0M83.5 246a2.2 1.4 0 1 0 4.4 0a2.2 1.4 0 1 0 -4.4 0M83.4 264.8a1.9 1.2 0 1 0 3.9 0a1.9 1.2 0 1 0 -3.9 0M84.1 244.3a1.6 1.2 0 1 0 3.3 0a1.6 1.2 0 1 0 -3.3 0M65.9 293.3a1.1 0.8 0 1 0 2.3 0a1.1 0.8 0 1 0 -2.3 0M197.1 278.3a1.7 1 0 1 0 3.4 0a1.7 1 0 1 0 -3.4 0M190.1 328.9a1 0.9 0 1 0 2 0a1 0.9 0 1 0 -2 0M81.3 348.9a1.9 1.4 0 1 0 3.9 0a1.9 1.4 0 1 0 -3.9 0M58.1 350.8a1.2 0.8 0 1 0 2.3 0a1.2 0.8 0 1 0 -2.3 0M142.7 249.6a1.1 0.7 0 1 0 2.2 0a1.1 0.7 0 1 0 -2.2 0M136.8 334.1a1.4 1.3 0 1 0 2.8 0a1.4 1.3 0 1 0 -2.8 0M54.8 245.9a1.1 0.9 0 1 0 2.3 0a1.1 0.9 0 1 0 -2.3 0M138.7 225.1a1.4 1.1 0 1 0 2.8 0a1.4 1.1 0 1 0 -2.8 0M157.4 293.6a0.8 0.6 0 1 0 1.6 0a0.8 0.6 0 1 0 -1.6 0M158.8 350.8a0.9 0.6 0 1 0 1.7 0a0.9 0.6 0 1 0 -1.7 0M100.8 356.3a0.9 0.7 0 1 0 1.8 0a0.9 0.7 0 1 0 -1.8 0M163.1 311.6a2 1.3 0 1 0 4.1 0a2 1.3 0 1 0 -4.1 0M188.5 336.9a1.4 1.1 0 1 0 2.9 0a1.4 1.1 0 1 0 -2.9 0M146.6 263a1.6 1 0 1 0 3.1 0a1.6 1 0 1 0 -3.1 0M202.4 338.2a1.6 1.4 0 1 0 3.2 0a1.6 1.4 0 1 0 -3.2 0M119.2 332a1 0.6 0 1 0 2 0a1 0.6 0 1 0 -2 0M124.7 240a1.7 1.3 0 1 0 3.3 0a1.7 1.3 0 1 0 -3.3 0M90.9 206.9a1.2 0.8 0 1 0 2.5 0a1.2 0.8 0 1 0 -2.5 0M189.2 305a1.5 1 0 1 0 3.1 0a1.5 1 0 1 0 -3.1 0M81.4 270.4a2.1 1.5 0 1 0 4.1 0a2.1 1.5 0 1 0 -4.1 0M140.8 253.1a1 0.8 0 1 0 1.9 0a1 0.8 0 1 0 -1.9 0M160.2 348.8a1 0.8 0 1 0 2 0a1 0.8 0 1 0 -2 0M84.3 267.8a1.6 1.1 0 1 0 3.1 0a1.6 1.1 0 1 0 -3.1 0M201.5 273.6a0.7 0.7 0 1 0 1.5 0a0.7 0.7 0 1 0 -1.5 0M159.5 291.5a1.3 0.8 0 1 0 2.6 0a1.3 0.8 0 1 0 -2.6 0M120.7 208.9a1.6 1.2 0 1 0 3.3 0a1.6 1.2 0 1 0 -3.3 0M147.1 272.7a1.7 1.3 0 1 0 3.3 0a1.7 1.3 0 1 0 -3.3 0M156 235.3a1.2 0.9 0 1 0 2.4 0a1.2 0.9 0 1 0 -2.4 0M160.6 232.3a1.1 0.9 0 1 0 2.1 0a1.1 0.9 0 1 0 -2.1 0M145.1 319.5a1.4 1.1 0 1 0 2.8 0a1.4 1.1 0 1 0 -2.8 0M193.8 314.4a0.9 0.7 0 1 0 1.9 0a0.9 0.7 0 1 0 -1.9 0M108.4 291.2a2.1 1.6 0 1 0 4.2 0a2.1 1.6 0 1 0 -4.2 0M150.3 236.2a1.9 1.3 0 1 0 3.8 0a1.9 1.3 0 1 0 -3.8 0M83.4 341.3a2.3 1.5 0 1 0 4.7 0a2.3 1.5 0 1 0 -4.7 0M100.2 342.8a1.7 1.2 0 1 0 3.5 0a1.7 1.2 0 1 0 -3.5 0M135.7 321.4a1.2 1.1 0 1 0 2.3 0a1.2 1.1 0 1 0 -2.3 0M173.3 231.3a1.3 0.8 0 1 0 2.7 0a1.3 0.8 0 1 0 -2.7 0M129.8 314.6a2 1.5 0 1 0 3.9 0a2 1.5 0 1 0 -3.9 0M196.2 218.2a1.1 0.8 0 1 0 2.2 0a1.1 0.8 0 1 0 -2.2 0M148.4 284.2a1.9 1.3 0 1 0 3.7 0a1.9 1.3 0 1 0 -3.7 0M180.4 341.4a1.2 0.9 0 1 0 2.4 0a1.2 0.9 0 1 0 -2.4 0M138.8 235.6a1.5 1.1 0 1 0 2.9 0a1.5 1.1 0 1 0 -2.9 0M198.9 283.2a1.4 1 0 1 0 2.9 0a1.4 1 0 1 0 -2.9 0M156.7 215.2a1.4 1.2 0 1 0 2.8 0a1.4 1.2 0 1 0 -2.8 0M93.3 276.7a0.9 0.8 0 1 0 1.9 0a0.9 0.8 0 1 0 -1.9 0M124.6 253.2a1.1 0.9 0 1 0 2.2 0a1.1 0.9 0 1 0 -2.2 0M170.6 208.6a0.9 0.8 0 1 0 1.9 0a0.9 0.8 0 1 0 -1.9 0M106.3 298.9a1 0.6 0 1 0 2 0a1 0.6 0 1 0 -2 0M90 235.1a1.4 1.1 0 1 0 2.8 0a1.4 1.1 0 1 0 -2.8 0M132.6 229.4a1.1 0.8 0 1 0 2.2 0a1.1 0.8 0 1 0 -2.2 0M180.8 297.7a1.7 1.5 0 1 0 3.3 0a1.7 1.5 0 1 0 -3.3 0M188.9 253a1.4 0.8 0 1 0 2.7 0a1.4 0.8 0 1 0 -2.7 0M186.8 225.5a1.2 0.8 0 1 0 2.4 0a1.2 0.8 0 1 0 -2.4 0M178 269a1.5 1.3 0 1 0 3 0a1.5 1.3 0 1 0 -3 0M54.2 235.6a1.9 1.4 0 1 0 3.8 0a1.9 1.4 0 1 0 -3.8 0M128.6 319.8a1.5 1 0 1 0 3 0a1.5 1 0 1 0 -3 0M68 210.9a1.5 1.1 0 1 0 3 0a1.5 1.1 0 1 0 -3 0M79.2 236a2.2 1.5 0 1 0 4.3 0a2.2 1.5 0 1 0 -4.3 0M61.3 349.1a1.5 1 0 1 0 3 0a1.5 1 0 1 0 -3 0M130.3 270.2a1.3 1.2 0 1 0 2.5 0a1.3 1.2 0 1 0 -2.5 0M79.2 273.8a1.6 1.2 0 1 0 3.3 0a1.6 1.2 0 1 0 -3.3 0M129 207.5a2.1 1.5 0 1 0 4.2 0a2.1 1.5 0 1 0 -4.2 0M147.3 266.4a1.5 1.3 0 1 0 3.1 0a1.5 1.3 0 1 0 -3.1 0M90.7 343a1.9 1.4 0 1 0 3.8 0a1.9 1.4 0 1 0 -3.8 0M187.5 338.2a1.8 1.3 0 1 0 3.6 0a1.8 1.3 0 1 0 -3.6 0M161.8 215.9a1.2 0.8 0 1 0 2.4 0a1.2 0.8 0 1 0 -2.4 0M149 299.6a1.3 0.9 0 1 0 2.5 0a1.3 0.9 0 1 0 -2.5 0M152 291.3a1.4 1.2 0 1 0 2.8 0a1.4 1.2 0 1 0 -2.8 0M158.1 320.4a1.6 1.6 0 1 0 3.3 0a1.6 1.6 0 1 0 -3.3 0M91.5 265.9a0.8 0.6 0 1 0 1.5 0a0.8 0.6 0 1 0 -1.5 0M90 342.1a1.5 1.3 0 1 0 2.9 0a1.5 1.3 0 1 0 -2.9 0M202.7 301.7a1.5 1.4 0 1 0 3 0a1.5 1.4 0 1 0 -3 0M59.3 345.8a1 0.7 0 1 0 2 0a1 0.7 0 1 0 -2 0M144.2 214.1a1.9 1.5 0 1 0 3.8 0a1.9 1.5 0 1 0 -3.8 0M107.2 248.4a1.6 1.1 0 1 0 3.3 0a1.6 1.1 0 1 0 -3.3 0M97.4 207.3a0.9 0.8 0 1 0 1.8 0a0.9 0.8 0 1 0 -1.8 0M111.1 340.9a1.4 1.5 0 1 0 2.9 0a1.4 1.5 0 1 0 -2.9 0M63.2 342.1a1.3 1.1 0 1 0 2.6 0a1.3 1.1 0 1 0 -2.6 0M131.1 346.9a1.7 1.4 0 1 0 3.3 0a1.7 1.4 0 1 0 -3.3 0M143.4 222.6a1.5 1.1 0 1 0 3.1 0a1.5 1.1 0 1 0 -3.1 0M132 224a1.4 1 0 1 0 2.8 0a1.4 1 0 1 0 -2.8 0M139.9 268.6a1.8 1.5 0 1 0 3.5 0a1.8 1.5 0 1 0 -3.5 0M163.6 241.2a1.1 0.8 0 1 0 2.1 0a1.1 0.8 0 1 0 -2.1 0M106.2 246.3a1.7 1.3 0 1 0 3.3 0a1.7 1.3 0 1 0 -3.3 0M166.3 233.9a1.3 0.9 0 1 0 2.6 0a1.3 0.9 0 1 0 -2.6 0M58.3 214.4a1.1 0.9 0 1 0 2.2 0a1.1 0.9 0 1 0 -2.2 0M134.6 216.2a1 0.7 0 1 0 1.9 0a1 0.7 0 1 0 -1.9 0M109 277.6a1 0.8 0 1 0 2 0a1 0.8 0 1 0 -2 0M62.8 223.3a1.9 1.4 0 1 0 3.7 0a1.9 1.4 0 1 0 -3.7 0M116 244.2a1.7 1.4 0 1 0 3.4 0a1.7 1.4 0 1 0 -3.4 0M100.8 288.2a2 1.3 0 1 0 3.9 0a2 1.3 0 1 0 -3.9 0M67.4 337.5a0.8 0.7 0 1 0 1.5 0a0.8 0.7 0 1 0 -1.5 0M155.8 250.4a1.5 1.2 0 1 0 2.9 0a1.5 1.2 0 1 0 -2.9 0M64 251.1a1.8 1.2 0 1 0 3.6 0a1.8 1.2 0 1 0 -3.6 0M106.6 315a1.1 1 0 1 0 2.1 0a1.1 1 0 1 0 -2.1 0M190.8 347.3a1.9 1.6 0 1 0 3.7 0a1.9 1.6 0 1 0 -3.7 0M99.3 265.6a2.2 1.4 0 1 0 4.4 0a2.2 1.4 0 1 0 -4.4 0M107.6 260.1a1.2 0.9 0 1 0 2.5 0a1.2 0.9 0 1 0 -2.5 0M172.4 286.9a1.9 1.3 0 1 0 3.7 0a1.9 1.3 0 1 0 -3.7 0M186.1 247.8a0.8 0.6 0 1 0 1.7 0a0.8 0.6 0 1 0 -1.7 0M198.4 303.7a1.5 1.4 0 1 0 3 0a1.5 1.4 0 1 0 -3 0M64.2 217.5a1.9 1.1 0 1 0 3.9 0a1.9 1.1 0 1 0 -3.9 0M73.8 318a1.4 1.1 0 1 0 2.9 0a1.4 1.1 0 1 0 -2.9 0M131.3 320.8a1.2 1.1 0 1 0 2.4 0a1.2 1.1 0 1 0 -2.4 0M126.4 286.4a1.8 1.4 0 1 0 3.6 0a1.8 1.4 0 1 0 -3.6 0M176.6 306a2 1.5 0 1 0 4.1 0a2 1.5 0 1 0 -4.1 0M197.1 302a1.5 1.2 0 1 0 3.1 0a1.5 1.2 0 1 0 -3.1 0M115.1 227.3a2 1.2 0 1 0 4 0a2 1.2 0 1 0 -4 0M83 269.5a1.4 0.8 0 1 0 2.7 0a1.4 0.8 0 1 0 -2.7 0M69.3 303.2a1.5 1.2 0 1 0 3.1 0a1.5 1.2 0 1 0 -3.1 0M141.2 342.7a0.7 0.6 0 1 0 1.4 0a0.7 0.6 0 1 0 -1.4 0M87.7 313.6a1.4 1.1 0 1 0 2.7 0a1.4 1.1 0 1 0 -2.7 0M78.4 319.7a1.2 1 0 1 0 2.4 0a1.2 1 0 1 0 -2.4 0M91.1 339.4a1.8 1.5 0 1 0 3.6 0a1.8 1.5 0 1 0 -3.6 0M125.6 238.6a1 0.7 0 1 0 2 0a1 0.7 0 1 0 -2 0M132 283.2a1.3 0.9 0 1 0 2.7 0a1.3 0.9 0 1 0 -2.7 0M53.7 276.7a1.4 1 0 1 0 2.8 0a1.4 1 0 1 0 -2.8 0M76.2 228.9a1.1 1 0 1 0 2.2 0a1.1 1 0 1 0 -2.2 0M148.8 355.4a1.1 0.8 0 1 0 2.3 0a1.1 0.8 0 1 0 -2.3 0M51.6 329.4a2 1.2 0 1 0 4.1 0a2 1.2 0 1 0 -4.1 0M160.7 219.9a1.4 1.2 0 1 0 2.7 0a1.4 1.2 0 1 0 -2.7 0M181.7 251.1a1.7 1.5 0 1 0 3.4 0a1.7 1.5 0 1 0 -3.4 0M177.2 236.7a1.5 1 0 1 0 3 0a1.5 1 0 1 0 -3 0M99.8 252.2a0.8 0.7 0 1 0 1.7 0a0.8 0.7 0 1 0 -1.7 0M107 309.1a0.9 0.7 0 1 0 1.8 0a0.9 0.7 0 1 0 -1.8 0M178.4 304.1a0.8 0.6 0 1 0 1.5 0a0.8 0.6 0 1 0 -1.5 0M138 274.5a1 0.7 0 1 0 1.9 0a1 0.7 0 1 0 -1.9 0M145.5 249.1a1.3 0.9 0 1 0 2.6 0a1.3 0.9 0 1 0 -2.6 0M111.9 306a1 0.9 0 1 0 2 0a1 0.9 0 1 0 -2 0M195.1 290.3a1.6 1.4 0 1 0 3.2 0a1.6 1.4 0 1 0 -3.2 0M73 219.5a1.8 1.1 0 1 0 3.5 0a1.8 1.1 0 1 0 -3.5 0M179.5 294.8a0.8 0.6 0 1 0 1.6 0a0.8 0.6 0 1 0 -1.6 0M113.2 216.2a1.9 1.5 0 1 0 3.7 0a1.9 1.5 0 1 0 -3.7 0M168.5 329.4a1.2 0.9 0 1 0 2.4 0a1.2 0.9 0 1 0 -2.4 0M111.9 311a2.2 1.6 0 1 0 4.4 0a2.2 1.6 0 1 0 -4.4 0M54.9 255.2a1.3 0.8 0 1 0 2.6 0a1.3 0.8 0 1 0 -2.6 0M128.7 324.4a1.9 1.2 0 1 0 3.8 0a1.9 1.2 0 1 0 -3.8 0M189.1 288.1a1.2 0.8 0 1 0 2.5 0a1.2 0.8 0 1 0 -2.5 0M201.1 283.2a1.9 1.2 0 1 0 3.8 0a1.9 1.2 0 1 0 -3.8 0M147.7 235.1a0.8 0.7 0 1 0 1.6 0a0.8 0.7 0 1 0 -1.6 0M102.1 345.7a1.2 0.8 0 1 0 2.4 0a1.2 0.8 0 1 0 -2.4 0M72.5 341.9a1.5 1.1 0 1 0 3 0a1.5 1.1 0 1 0 -3 0M189.4 355.2a1.9 1.2 0 1 0 3.7 0a1.9 1.2 0 1 0 -3.7 0M96 340.8a1.1 0.9 0 1 0 2.2 0a1.1 0.9 0 1 0 -2.2 0M135.7 216.7a0.7 0.7 0 1 0 1.5 0a0.7 0.7 0 1 0 -1.5 0M151.4 251.7a1.8 1.2 0 1 0 3.5 0a1.8 1.2 0 1 0 -3.5 0M174.2 207.7a1 0.7 0 1 0 2.1 0a1 0.7 0 1 0 -2.1 0M138.4 231.5a1.3 1.1 0 1 0 2.6 0a1.3 1.1 0 1 0 -2.6 0M149.3 210.9a1.4 1.4 0 1 0 2.8 0a1.4 1.4 0 1 0 -2.8 0M123 267.4a1.7 1.3 0 1 0 3.3 0a1.7 1.3 0 1 0 -3.3 0M125 355.6a2.1 1.3 0 1 0 4.1 0a2.1 1.3 0 1 0 -4.1 0M137.7 342.1a1.5 1.1 0 1 0 2.9 0a1.5 1.1 0 1 0 -2.9 0M100.1 213.5a1.9 1.4 0 1 0 3.9 0a1.9 1.4 0 1 0 -3.9 0M166.1 251.3a1.3 1 0 1 0 2.6 0a1.3 1 0 1 0 -2.6 0M128.7 265.2a0.9 0.7 0 1 0 1.8 0a0.9 0.7 0 1 0 -1.8 0M98.9 265a0.9 0.9 0 1 0 1.8 0a0.9 0.9 0 1 0 -1.8 0M152.9 336.2a1.5 0.9 0 1 0 2.9 0a1.5 0.9 0 1 0 -2.9 0M138.3 341.8a1 0.6 0 1 0 2 0a1 0.6 0 1 0 -2 0M196.6 205.3a1 0.8 0 1 0 2 0a1 0.8 0 1 0 -2 0M187.9 328.5a1.2 1 0 1 0 2.4 0a1.2 1 0 1 0 -2.4 0M56.9 341.1a1.2 1 0 1 0 2.3 0a1.2 1 0 1 0 -2.3 0M123.7 236.4a1.3 1 0 1 0 2.7 0a1.3 1 0 1 0 -2.7 0M179.2 258.7a1.2 1.1 0 1 0 2.4 0a1.2 1.1 0 1 0 -2.4 0M82.8 300.8a1.2 0.7 0 1 0 2.3 0a1.2 0.7 0 1 0 -2.3 0M161.3 252.5a2.2 1.5 0 1 0 4.3 0a2.2 1.5 0 1 0 -4.3 0M157.8 347a1.1 0.9 0 1 0 2.3 0a1.1 0.9 0 1 0 -2.3 0M160.2 234.9a0.9 0.8 0 1 0 1.8 0a0.9 0.8 0 1 0 -1.8 0M107.9 305.3a1.9 1.3 0 1 0 3.9 0a1.9 1.3 0 1 0 -3.9 0M192.7 306.1a1.2 0.8 0 1 0 2.4 0a1.2 0.8 0 1 0 -2.4 0M119 285.1a1.2 1.1 0 1 0 2.4 0a1.2 1.1 0 1 0 -2.4 0M90.6 326.6a0.8 0.7 0 1 0 1.7 0a0.8 0.7 0 1 0 -1.7 0M94.5 288.1a1.2 0.9 0 1 0 2.3 0a1.2 0.9 0 1 0 -2.3 0M121.9 318.7a1.5 1 0 1 0 2.9 0a1.5 1 0 1 0 -2.9 0M136.4 302.7a1.3 1 0 1 0 2.6 0a1.3 1 0 1 0 -2.6 0M128.4 333a1.6 1.4 0 1 0 3.3 0a1.6 1.4 0 1 0 -3.3 0M170.2 230.2a1.4 1.1 0 1 0 2.8 0a1.4 1.1 0 1 0 -2.8 0M171.6 324.8a1.1 0.8 0 1 0 2.2 0a1.1 0.8 0 1 0 -2.2 0M127.4 210.5a1.6 1.2 0 1 0 3.3 0a1.6 1.2 0 1 0 -3.3 0M79.9 228.2a0.8 0.6 0 1 0 1.6 0a0.8 0.6 0 1 0 -1.6 0M92.2 325.9a1 0.7 0 1 0 2 0a1 0.7 0 1 0 -2 0M172.5 241.2a0.9 0.6 0 1 0 1.8 0a0.9 0.6 0 1 0 -1.8 0M146.4 284.6a1.2 0.8 0 1 0 2.3 0a1.2 0.8 0 1 0 -2.3 0M78.4 243.7a1.1 0.8 0 1 0 2.1 0a1.1 0.8 0 1 0 -2.1 0M61.6 267.3a1.1 1.1 0 1 0 2.2 0a1.1 1.1 0 1 0 -2.2 0M125.9 320.3a1.7 1.5 0 1 0 3.5 0a1.7 1.5 0 1 0 -3.5 0M57.7 241.6a1.6 1.4 0 1 0 3.3 0a1.6 1.4 0 1 0 -3.3 0M116.8 216.8a1 0.7 0 1 0 2 0a1 0.7 0 1 0 -2 0M86.9 243.5a1.3 1.1 0 1 0 2.7 0a1.3 1.1 0 1 0 -2.7 0M106.5 256.2a2.1 1.3 0 1 0 4.2 0a2.1 1.3 0 1 0 -4.2 0M150.6 214a1.3 1 0 1 0 2.6 0a1.3 1 0 1 0 -2.6 0M186.3 275.1a1.4 0.9 0 1 0 2.9 0a1.4 0.9 0 1 0 -2.9 0M85 257.7a1 0.7 0 1 0 2.1 0a1 0.7 0 1 0 -2.1 0M84.8 275.9a1.2 1 0 1 0 2.3 0a1.2 1 0 1 0 -2.3 0M183.1 236.1a1.1 1 0 1 0 2.1 0a1.1 1 0 1 0 -2.1 0M94.1 208a0.9 0.7 0 1 0 1.9 0a0.9 0.7 0 1 0 -1.9 0M160.7 245.8a1.1 1 0 1 0 2.2 0a1.1 1 0 1 0 -2.2 0M167.9 314.6a1.6 1.4 0 1 0 3.1 0a1.6 1.4 0 1 0 -3.1 0M64.7 338.6a1.3 0.9 0 1 0 2.6 0a1.3 0.9 0 1 0 -2.6 0M112.4 241.2a0.7 0.7 0 1 0 1.5 0a0.7 0.7 0 1 0 -1.5 0M99.5 269.3a1.3 1.2 0 1 0 2.5 0a1.3 1.2 0 1 0 -2.5 0M162.5 305.9a0.9 0.7 0 1 0 1.7 0a0.9 0.7 0 1 0 -1.7 0M113.2 263.6a1.7 1.3 0 1 0 3.3 0a1.7 1.3 0 1 0 -3.3 0M85.2 211.4a0.9 0.6 0 1 0 1.7 0a0.9 0.6 0 1 0 -1.7 0M199.4 250.3a1.9 1.1 0 1 0 3.7 0a1.9 1.1 0 1 0 -3.7 0M152.8 349.6a1.7 1.5 0 1 0 3.4 0a1.7 1.5 0 1 0 -3.4 0M117.4 264.5a0.8 0.6 0 1 0 1.7 0a0.8 0.6 0 1 0 -1.7 0M94.5 229.2a1.3 0.9 0 1 0 2.6 0a1.3 0.9 0 1 0 -2.6 0M88.6 219.3a1.2 0.8 0 1 0 2.4 0a1.2 0.8 0 1 0 -2.4 0M158.4 288.8a1.4 1.2 0 1 0 2.7 0a1.4 1.2 0 1 0 -2.7 0M62.1 266.3a0.9 0.7 0 1 0 1.7 0a0.9 0.7 0 1 0 -1.7 0M102 243.5a0.8 0.7 0 1 0 1.6 0a0.8 0.7 0 1 0 -1.6 0M92.1 306.2a1 0.8 0 1 0 2 0a1 0.8 0 1 0 -2 0M106.2 292.3a2.1 1.5 0 1 0 4.3 0a2.1 1.5 0 1 0 -4.3 0M114.4 268a1.3 0.9 0 1 0 2.5 0a1.3 0.9 0 1 0 -2.5 0M190.3 211a1 0.7 0 1 0 1.9 0a1 0.7 0 1 0 -1.9 0M200.6 227.9a0.9 0.8 0 1 0 1.9 0a0.9 0.8 0 1 0 -1.9 0M52.4 287.4a1.2 1 0 1 0 2.3 0a1.2 1 0 1 0 -2.3 0M134.8 299.6a1.7 1.3 0 1 0 3.3 0a1.7 1.3 0 1 0 -3.3 0M104.7 339.2a1.3 0.9 0 1 0 2.5 0a1.3 0.9 0 1 0 -2.5 0M198.5 329.8a1 0.7 0 1 0 2.1 0a1 0.7 0 1 0 -2.1 0M107.7 248.4a1.7 1.2 0 1 0 3.5 0a1.7 1.2 0 1 0 -3.5 0M101.4 232.1a1.2 0.9 0 1 0 2.5 0a1.2 0.9 0 1 0 -2.5 0M68 311.8a0.9 0.8 0 1 0 1.8 0a0.9 0.8 0 1 0 -1.8 0M76.5 336.2a1.6 1.3 0 1 0 3.1 0a1.6 1.3 0 1 0 -3.1 0M172.6 264.5a1.5 1.3 0 1 0 3 0a1.5 1.3 0 1 0 -3 0M102 320a2 1.4 0 1 0 4.1 0a2 1.4 0 1 0 -4.1 0M158.6 299.4a2 1.2 0 1 0 4 0a2 1.2 0 1 0 -4 0M154 240.1a0.8 0.8 0 1 0 1.7 0a0.8 0.8 0 1 0 -1.7 0M198.9 225.4a1.6 1.3 0 1 0 3.2 0a1.6 1.3 0 1 0 -3.2 0M194 354.7a0.9 0.6 0 1 0 1.8 0a0.9 0.6 0 1 0 -1.8 0M95 315.8a1.7 1.5 0 1 0 3.5 0a1.7 1.5 0 1 0 -3.5 0M134.5 278.2a1.2 1 0 1 0 2.3 0a1.2 1 0 1 0 -2.3 0M94.7 264.4a1.7 1.3 0 1 0 3.4 0a1.7 1.3 0 1 0 -3.4 0M157.1 287.7a1.5 1.2 0 1 0 3.1 0a1.5 1.2 0 1 0 -3.1 0M193.7 243.2a1.2 1 0 1 0 2.4 0a1.2 1 0 1 0 -2.4 0M137.8 226.9a1.4 1.1 0 1 0 2.9 0a1.4 1.1 0 1 0 -2.9 0M108.1 244.4a0.7 0.7 0 1 0 1.4 0a0.7 0.7 0 1 0 -1.4 0M63.6 232.8a1.6 1 0 1 0 3.3 0a1.6 1 0 1 0 -3.3 0M125.1 267.9a1.7 1.2 0 1 0 3.4 0a1.7 1.2 0 1 0 -3.4 0M151.7 299.4a1.3 0.9 0 1 0 2.6 0a1.3 0.9 0 1 0 -2.6 0M119.1 331.3a1.5 1.1 0 1 0 3 0a1.5 1.1 0 1 0 -3 0M70.1 216.5a1.4 0.9 0 1 0 2.7 0a1.4 0.9 0 1 0 -2.7 0M53.4 237a1.6 1.5 0 1 0 3.2 0a1.6 1.5 0 1 0 -3.2 0M172.1 316.4a1.4 1.1 0 1 0 2.9 0a1.4 1.1 0 1 0 -2.9 0M201 220.4a1.9 1.6 0 1 0 3.8 0a1.9 1.6 0 1 0 -3.8 0M189.9 208.8a1.4 1.1 0 1 0 2.7 0a1.4 1.1 0 1 0 -2.7 0M151.7 327.8a1.3 0.9 0 1 0 2.6 0a1.3 0.9 0 1 0 -2.6 0M189.8 253.8a0.9 0.7 0 1 0 1.7 0a0.9 0.7 0 1 0 -1.7 0M164.6 287.8a1.4 1.1 0 1 0 2.9 0a1.4 1.1 0 1 0 -2.9 0M105.7 270.3a0.8 0.6 0 1 0 1.6 0a0.8 0.6 0 1 0 -1.6 0M133.6 349.2a1.2 0.8 0 1 0 2.4 0a1.2 0.8 0 1 0 -2.4 0M68.3 354.5a1.5 0.9 0 1 0 3.1 0a1.5 0.9 0 1 0 -3.1 0M159.2 232.1a1.2 1 0 1 0 2.4 0a1.2 1 0 1 0 -2.4 0M79.5 259.2a1.7 1.6 0 1 0 3.5 0a1.7 1.6 0 1 0 -3.5 0M149.2 237.3a1.8 1.3 0 1 0 3.5 0a1.8 1.3 0 1 0 -3.5 0M128.9 291a1.1 0.7 0 1 0 2.1 0a1.1 0.7 0 1 0 -2.1 0M153.1 268.6a1.1 1 0 1 0 2.3 0a1.1 1 0 1 0 -2.3 0M130 210.1a1.5 1.2 0 1 0 3.1 0a1.5 1.2 0 1 0 -3.1 0M193 228.2a1.6 1.1 0 1 0 3.2 0a1.6 1.1 0 1 0 -3.2 0M163.6 354.8a1.5 0.9 0 1 0 2.9 0a1.5 0.9 0 1 0 -2.9 0M125.9 240.6a1.9 1.5 0 1 0 3.9 0a1.9 1.5 0 1 0 -3.9 0M172.6 282.6a1.7 1.7 0 1 0 3.4 0a1.7 1.7 0 1 0 -3.4 0M90 327.2a1.4 1.1 0 1 0 2.7 0a1.4 1.1 0 1 0 -2.7 0M94.9 302.5a0.9 0.7 0 1 0 1.8 0a0.9 0.7 0 1 0 -1.8 0M88 326.2a2 1.4 0 1 0 4.1 0a2 1.4 0 1 0 -4.1 0M173.1 228.1a1.1 0.8 0 1 0 2.1 0a1.1 0.8 0 1 0 -2.1 0M183.7 331.3a0.8 0.7 0 1 0 1.7 0a0.8 0.7 0 1 0 -1.7 0M145.9 341.6a1 0.6 0 1 0 2.1 0a1 0.6 0 1 0 -2.1 0M185.2 315.2a1.1 0.8 0 1 0 2.2 0a1.1 0.8 0 1 0 -2.2 0M103.4 252.9a1.4 1.2 0 1 0 2.9 0a1.4 1.2 0 1 0 -2.9 0M79.2 224.6a1.6 1.1 0 1 0 3.3 0a1.6 1.1 0 1 0 -3.3 0M195 297.4a1.1 1.1 0 1 0 2.2 0a1.1 1.1 0 1 0 -2.2 0M163.9 259.7a1.1 0.8 0 1 0 2.3 0a1.1 0.8 0 1 0 -2.3 0M116.5 329.2a1.3 1 0 1 0 2.6 0a1.3 1 0 1 0 -2.6 0M104.8 311.6a1.1 0.8 0 1 0 2.2 0a1.1 0.8 0 1 0 -2.2 0M95.2 334.4a1.6 1.4 0 1 0 3.2 0a1.6 1.4 0 1 0 -3.2 0M165 296.1a1.1 1 0 1 0 2.3 0a1.1 1 0 1 0 -2.3 0M119 349.5a1.2 0.9 0 1 0 2.5 0a1.2 0.9 0 1 0 -2.5 0M114.1 225.2a1.7 1.4 0 1 0 3.4 0a1.7 1.4 0 1 0 -3.4 0M176.2 333.8a1.5 1 0 1 0 3.1 0a1.5 1 0 1 0 -3.1 0M65.4 260.2a1.4 1 0 1 0 2.7 0a1.4 1 0 1 0 -2.7 0M188.7 348.8a0.9 0.6 0 1 0 1.7 0a0.9 0.6 0 1 0 -1.7 0M122.2 253a1.7 1.4 0 1 0 3.4 0a1.7 1.4 0 1 0 -3.4 0M202 264.9a1.9 1.4 0 1 0 3.8 0a1.9 1.4 0 1 0 -3.8 0M62.1 275.1a1.4 0.9 0 1 0 2.7 0a1.4 0.9 0 1 0 -2.7 0M84.2 261.1a0.9 0.8 0 1 0 1.9 0a0.9 0.8 0 1 0 -1.9 0M77 303.3a1.7 1.1 0 1 0 3.4 0a1.7 1.1 0 1 0 -3.4 0M163.3 322.5a0.9 0.6 0 1 0 1.9 0a0.9 0.6 0 1 0 -1.9 0M195.8 340.6a0.8 0.6 0 1 0 1.6 0a0.8 0.6 0 1 0 -1.6 0M69.1 324.5a1.2 0.8 0 1 0 2.3 0a1.2 0.8 0 1 0 -2.3 0M71.7 218.6a1.3 1.2 0 1 0 2.6 0a1.3 1.2 0 1 0 -2.6 0M115.1 213.4a1 0.8 0 1 0 2.1 0a1 0.8 0 1 0 -2.1 0M180.8 221a1.6 1.6 0 1 0 3.2 0a1.6 1.6 0 1 0 -3.2 0M112.8 297.8a2.2 1.4 0 1 0 4.3 0a2.2 1.4 0 1 0 -4.3 0M74.9 328.9a1.8 1.2 0 1 0 3.7 0a1.8 1.2 0 1 0 -3.7 0M56.4 221.9a1.4 0.9 0 1 0 2.7 0a1.4 0.9 0 1 0 -2.7 0M59.6 268.1a0.8 0.6 0 1 0 1.6 0a0.8 0.6 0 1 0 -1.6 0M101.4 279.1a1.8 1.4 0 1 0 3.6 0a1.8 1.4 0 1 0 -3.6 0M128.2 341.9a1.2 1 0 1 0 2.4 0a1.2 1 0 1 0 -2.4 0M107.9 270.1a1.3 1 0 1 0 2.6 0a1.3 1 0 1 0 -2.6 0M60 331.6a0.9 0.7 0 1 0 1.8 0a0.9 0.7 0 1 0 -1.8 0M86 220.2a1.2 0.9 0 1 0 2.3 0a1.2 0.9 0 1 0 -2.3 0M166.2 278.9a0.8 0.7 0 1 0 1.6 0a0.8 0.7 0 1 0 -1.6 0M142.1 350.5a1.3 0.9 0 1 0 2.6 0a1.3 0.9 0 1 0 -2.6 0M144.6 294.3a1.2 0.9 0 1 0 2.4 0a1.2 0.9 0 1 0 -2.4 0M60.4 219.2a1 0.9 0 1 0 2 0a1 0.9 0 1 0 -2 0M182.6 266a1.2 0.8 0 1 0 2.4 0a1.2 0.8 0 1 0 -2.4 0M178.1 254.8a1.3 1 0 1 0 2.6 0a1.3 1 0 1 0 -2.6 0M61.1 320.7a0.9 0.7 0 1 0 1.8 0a0.9 0.7 0 1 0 -1.8 0M148.1 208.6a2.1 1.5 0 1 0 4.2 0a2.1 1.5 0 1 0 -4.2 0M163.2 268.5a1.9 1.4 0 1 0 3.8 0a1.9 1.4 0 1 0 -3.8 0M170.2 271.8a1.6 1.3 0 1 0 3.3 0a1.6 1.3 0 1 0 -3.3 0M69.9 253.6a1.4 1.1 0 1 0 2.9 0a1.4 1.1 0 1 0 -2.9 0M153.6 288.1a0.8 0.7 0 1 0 1.6 0a0.8 0.7 0 1 0 -1.6 0M137.3 344.6a1 0.8 0 1 0 2 0a1 0.8 0 1 0 -2 0M71 337.3a1.1 1 0 1 0 2.3 0a1.1 1 0 1 0 -2.3 0M154.1 345.5a1.5 1 0 1 0 3 0a1.5 1 0 1 0 -3 0M68.3 317.4a1 0.7 0 1 0 2.1 0a1 0.7 0 1 0 -2.1 0M76.7 258.1a1.5 1.1 0 1 0 3.1 0a1.5 1.1 0 1 0 -3.1 0M179.6 259.4a1.5 1.3 0 1 0 3 0a1.5 1.3 0 1 0 -3 0M157.9 240.5a1.2 0.9 0 1 0 2.4 0a1.2 0.9 0 1 0 -2.4 0M61.8 329.9a1.4 0.9 0 1 0 2.7 0a1.4 0.9 0 1 0 -2.7 0M136.3 352.7a1.9 1.4 0 1 0 3.8 0a1.9 1.4 0 1 0 -3.8 0M166.3 220.7a1.3 0.8 0 1 0 2.6 0a1.3 0.8 0 1 0 -2.6 0M138.5 288.6a1.1 1 0 1 0 2.1 0a1.1 1 0 1 0 -2.1 0M174 220a1.6 1.2 0 1 0 3.2 0a1.6 1.2 0 1 0 -3.2 0M144.1 223.5a1.8 1.5 0 1 0 3.6 0a1.8 1.5 0 1 0 -3.6 0M155.8 260.2a2.1 1.4 0 1 0 4.2 0a2.1 1.4 0 1 0 -4.2 0M162.7 245.2a0.9 0.8 0 1 0 1.8 0a0.9 0.8 0 1 0 -1.8 0M96.9 243.4a1 0.7 0 1 0 1.9 0a1 0.7 0 1 0 -1.9 0M93.8 282.2a1.6 1.5 0 1 0 3.3 0a1.6 1.5 0 1 0 -3.3 0M144.1 287.4a1.7 1.3 0 1 0 3.4 0a1.7 1.3 0 1 0 -3.4 0M169.9 244.5a1 0.6 0 1 0 2 0a1 0.6 0 1 0 -2 0M87.4 273.7a1.4 1.1 0 1 0 2.7 0a1.4 1.1 0 1 0 -2.7 0M137.9 257.9a1.3 0.7 0 1 0 2.5 0a1.3 0.7 0 1 0 -2.5 0M151.4 216.1a1.6 1.5 0 1 0 3.2 0a1.6 1.5 0 1 0 -3.2 0M201.7 252a1.6 1.5 0 1 0 3.1 0a1.6 1.5 0 1 0 -3.1 0M55.8 291.5a2.1 1.7 0 1 0 4.3 0a2.1 1.7 0 1 0 -4.3 0M131.1 216.9a1.3 1.1 0 1 0 2.5 0a1.3 1.1 0 1 0 -2.5 0M127.4 235.1a1.6 1.2 0 1 0 3.2 0a1.6 1.2 0 1 0 -3.2 0M125.2 289.5a2 1.4 0 1 0 4.1 0a2 1.4 0 1 0 -4.1 0M102 311.4a2.3 1.6 0 1 0 4.6 0a2.3 1.6 0 1 0 -4.6 0M182.8 346.6a0.8 0.6 0 1 0 1.6 0a0.8 0.6 0 1 0 -1.6 0M144.6 297.9a1.6 1.5 0 1 0 3.3 0a1.6 1.5 0 1 0 -3.3 0M56.1 222.1a2.2 1.2 0 1 0 4.3 0a2.2 1.2 0 1 0 -4.3 0M177.7 309.3a1.5 1.2 0 1 0 3 0a1.5 1.2 0 1 0 -3 0M51.4 215.5a2.1 1.5 0 1 0 4.2 0a2.1 1.5 0 1 0 -4.2 0M103.4 257.6a0.9 0.6 0 1 0 1.8 0a0.9 0.6 0 1 0 -1.8 0M131.6 255.9a1.6 1.1 0 1 0 3.2 0a1.6 1.1 0 1 0 -3.2 0M78.9 227.9a1.1 0.9 0 1 0 2.2 0a1.1 0.9 0 1 0 -2.2 0M88.4 304.1a1.1 0.8 0 1 0 2.2 0a1.1 0.8 0 1 0 -2.2 0M80.3 240.3a1.1 0.9 0 1 0 2.2 0a1.1 0.9 0 1 0 -2.2 0M172.2 286.9a1 0.6 0 1 0 2 0a1 0.6 0 1 0 -2 0M115 354.9a1.2 1 0 1 0 2.4 0a1.2 1 0 1 0 -2.4 0M110.1 225.7a1.9 1.3 0 1 0 3.9 0a1.9 1.3 0 1 0 -3.9 0M109.3 248.6a1.7 1.1 0 1 0 3.3 0a1.7 1.1 0 1 0 -3.3 0M54.4 280.6a1.1 1.1 0 1 0 2.1 0a1.1 1.1 0 1 0 -2.1 0M82.3 338a2.3 1.4 0 1 0 4.6 0a2.3 1.4 0 1 0 -4.6 0M73.2 313.2a1.7 1.3 0 1 0 3.5 0a1.7 1.3 0 1 0 -3.5 0M185.3 315a1.9 1.4 0 1 0 3.9 0a1.9 1.4 0 1 0 -3.9 0M94 347.2a0.8 0.6 0 1 0 1.6 0a0.8 0.6 0 1 0 -1.6 0M99 232.8a1 0.7 0 1 0 1.9 0a1 0.7 0 1 0 -1.9 0M167.3 284.8a1.7 1.4 0 1 0 3.3 0a1.7 1.4 0 1 0 -3.3 0M98.4 320.2a1.9 1.3 0 1 0 3.9 0a1.9 1.3 0 1 0 -3.9 0M137.5 249.7a2.1 1.3 0 1 0 4.1 0a2.1 1.3 0 1 0 -4.1 0M180.5 275.5a1.2 0.9 0 1 0 2.4 0a1.2 0.9 0 1 0 -2.4 0M168.3 265.8a0.8 0.6 0 1 0 1.5 0a0.8 0.6 0 1 0 -1.5 0M84.3 208.2a1.2 0.8 0 1 0 2.4 0a1.2 0.8 0 1 0 -2.4 0M123.2 232.8a0.8 0.5 0 1 0 1.5 0a0.8 0.5 0 1 0 -1.5 0M145.8 261a1.4 1 0 1 0 2.9 0a1.4 1 0 1 0 -2.9 0M186.1 293a1.3 1 0 1 0 2.7 0a1.3 1 0 1 0 -2.7 0M189.7 240.5a2.2 1.6 0 1 0 4.4 0a2.2 1.6 0 1 0 -4.4 0M129.5 354.1a1 0.9 0 1 0 2 0a1 0.9 0 1 0 -2 0M140.1 229a1.8 1.3 0 1 0 3.6 0a1.8 1.3 0 1 0 -3.6 0M104.4 289.8a1.6 1.1 0 1 0 3.2 0a1.6 1.1 0 1 0 -3.2 0M52.5 280.3a1.2 0.9 0 1 0 2.3 0a1.2 0.9 0 1 0 -2.3 0M65.6 280.4a1.5 1.2 0 1 0 2.9 0a1.5 1.2 0 1 0 -2.9 0M118.9 218a1.6 1.5 0 1 0 3.2 0a1.6 1.5 0 1 0 -3.2 0M90.6 341.7a1.4 1.1 0 1 0 2.8 0a1.4 1.1 0 1 0 -2.8 0M126.4 278.1a1.3 0.9 0 1 0 2.6 0a1.3 0.9 0 1 0 -2.6 0M81.2 237.7a2 1.6 0 1 0 4 0a2 1.6 0 1 0 -4 0M155.4 325.8a1.9 1.4 0 1 0 3.7 0a1.9 1.4 0 1 0 -3.7 0M175.6 251.1a1.3 0.7 0 1 0 2.5 0a1.3 0.7 0 1 0 -2.5 0M103.6 324.9a1.8 1.3 0 1 0 3.6 0a1.8 1.3 0 1 0 -3.6 0M62.1 306.1a1.1 0.8 0 1 0 2.2 0a1.1 0.8 0 1 0 -2.2 0M79.6 310.2a2 1.3 0 1 0 4.1 0a2 1.3 0 1 0 -4.1 0M161.5 214.1a2 1.5 0 1 0 4.1 0a2 1.5 0 1 0 -4.1 0M138.1 347.8a1.6 1.2 0 1 0 3.1 0a1.6 1.2 0 1 0 -3.1 0M55.3 229.5a1.6 1.4 0 1 0 3.2 0a1.6 1.4 0 1 0 -3.2 0M157.6 283.2a1.1 0.8 0 1 0 2.2 0a1.1 0.8 0 1 0 -2.2 0M156.1 347.7a1.4 1 0 1 0 2.8 0a1.4 1 0 1 0 -2.8 0M195.6 298.8a2.2 1.4 0 1 0 4.3 0a2.2 1.4 0 1 0 -4.3 0M131.7 279a1 0.6 0 1 0 1.9 0a1 0.6 0 1 0 -1.9 0M165.2 243a1.1 0.7 0 1 0 2.1 0a1.1 0.7 0 1 0 -2.1 0M62.8 213.1a1.2 1 0 1 0 2.5 0a1.2 1 0 1 0 -2.5 0M115.1 266.7a1.1 0.9 0 1 0 2.1 0a1.1 0.9 0 1 0 -2.1 0M117.3 308.9a1.8 1.4 0 1 0 3.5 0a1.8 1.4 0 1 0 -3.5 0M188.5 243.2a1.7 1.1 0 1 0 3.5 0a1.7 1.1 0 1 0 -3.5 0M168.5 213.8a1 0.7 0 1 0 2 0a1 0.7 0 1 0 -2 0M161.8 253.5a1.8 1.4 0 1 0 3.7 0a1.8 1.4 0 1 0 -3.7 0M117.4 221.3a1.6 1.1 0 1 0 3.2 0a1.6 1.1 0 1 0 -3.2 0M62.6 245.9a1.6 1.1 0 1 0 3.2 0a1.6 1.1 0 1 0 -3.2 0M138.9 317.7a1.4 1 0 1 0 2.7 0a1.4 1 0 1 0 -2.7 0M59.6 312.6a0.8 0.7 0 1 0 1.6 0a0.8 0.7 0 1 0 -1.6 0M63.3 264.3a1.2 1.2 0 1 0 2.3 0a1.2 1.2 0 1 0 -2.3 0M125.8 294.1a1.4 0.8 0 1 0 2.8 0a1.4 0.8 0 1 0 -2.8 0M85.5 336.1a1.4 1 0 1 0 2.7 0a1.4 1 0 1 0 -2.7 0M90.8 324.8a1.6 1.2 0 1 0 3.3 0a1.6 1.2 0 1 0 -3.3 0M120.6 252.9a1.5 1.1 0 1 0 3 0a1.5 1.1 0 1 0 -3 0M120.6 276.8a1.8 1.4 0 1 0 3.7 0a1.8 1.4 0 1 0 -3.7 0M200.1 324a1.4 1 0 1 0 2.7 0a1.4 1 0 1 0 -2.7 0M161.5 348.8a1.7 1.2 0 1 0 3.4 0a1.7 1.2 0 1 0 -3.4 0M85.9 321.7a1.7 1.1 0 1 0 3.4 0a1.7 1.1 0 1 0 -3.4 0M54.4 268.1a1.6 1.4 0 1 0 3.2 0a1.6 1.4 0 1 0 -3.2 0M112.6 355.4a1.2 0.7 0 1 0 2.4 0a1.2 0.7 0 1 0 -2.4 0M176.6 331.8a1.3 1 0 1 0 2.6 0a1.3 1 0 1 0 -2.6 0M165.4 292.7a1.2 0.8 0 1 0 2.4 0a1.2 0.8 0 1 0 -2.4 0M201.4 225.8a1.6 1.4 0 1 0 3.3 0a1.6 1.4 0 1 0 -3.3 0M93.6 291a1.4 1 0 1 0 2.9 0a1.4 1 0 1 0 -2.9 0M187.6 305.5a1.3 0.8 0 1 0 2.6 0a1.3 0.8 0 1 0 -2.6 0M143.5 274.8a1.7 1.1 0 1 0 3.4 0a1.7 1.1 0 1 0 -3.4 0M106 319.9a0.8 0.7 0 1 0 1.6 0a0.8 0.7 0 1 0 -1.6 0M177.9 262.7a1.1 0.9 0 1 0 2.1 0a1.1 0.9 0 1 0 -2.1 0M109.3 304.6a0.9 0.8 0 1 0 1.8 0a0.9 0.8 0 1 0 -1.8 0M90.5 232.1a0.8 0.8 0 1 0 1.6 0a0.8 0.8 0 1 0 -1.6 0M92.1 279.2a1.4 1.4 0 1 0 2.7 0a1.4 1.4 0 1 0 -2.7 0M83.9 311.6a1.6 1.4 0 1 0 3.1 0a1.6 1.4 0 1 0 -3.1 0M123.8 252.6a1.5 1 0 1 0 3 0a1.5 1 0 1 0 -3 0M201.9 239a1.1 0.7 0 1 0 2.2 0a1.1 0.7 0 1 0 -2.2 0M103.6 271.7a1.5 1.1 0 1 0 3 0a1.5 1.1 0 1 0 -3 0M77.9 258.9a1.5 1.4 0 1 0 3 0a1.5 1.4 0 1 0 -3 0M86.6 260.3a1.2 0.7 0 1 0 2.3 0a1.2 0.7 0 1 0 -2.3 0M61.4 332.4a1.5 1 0 1 0 3 0a1.5 1 0 1 0 -3 0M105.2 354.1a1.7 1 0 1 0 3.5 0a1.7 1 0 1 0 -3.5 0M55.6 310.6a0.9 0.8 0 1 0 1.9 0a0.9 0.8 0 1 0 -1.9 0M101.1 275.9a1.2 0.8 0 1 0 2.4 0a1.2 0.8 0 1 0 -2.4 0M90.2 249.4a0.9 0.8 0 1 0 1.8 0a0.9 0.8 0 1 0 -1.8 0M92.3 222.3a1.8 1.4 0 1 0 3.6 0a1.8 1.4 0 1 0 -3.6 0M186.2 319.2a1.7 1.2 0 1 0 3.3 0a1.7 1.2 0 1 0 -3.3 0M114.6 264.2a1.4 1.1 0 1 0 2.8 0a1.4 1.1 0 1 0 -2.8 0M172.1 340.2a0.9 0.8 0 1 0 1.8 0a0.9 0.8 0 1 0 -1.8 0M173.1 299a1 1 0 1 0 2 0a1 1 0 1 0 -2 0M155.4 309.8a1.7 1.3 0 1 0 3.4 0a1.7 1.3 0 1 0 -3.4 0M184.7 355.1a2.2 1.3 0 1 0 4.3 0a2.2 1.3 0 1 0 -4.3 0M199.3 287.4a1.3 1.2 0 1 0 2.7 0a1.3 1.2 0 1 0 -2.7 0M201.9 216.6a1.7 1.4 0 1 0 3.3 0a1.7 1.4 0 1 0 -3.3 0M148.6 221.9a1.7 1.1 0 1 0 3.4 0a1.7 1.1 0 1 0 -3.4 0M142.1 293.3a1 0.8 0 1 0 2 0a1 0.8 0 1 0 -2 0M84.9 272.8a1.4 1.1 0 1 0 2.7 0a1.4 1.1 0 1 0 -2.7 0M54.7 238.5a1.4 1.1 0 1 0 2.9 0a1.4 1.1 0 1 0 -2.9 0M102.8 350a1.3 1.2 0 1 0 2.5 0a1.3 1.2 0 1 0 -2.5 0M175.4 314.7a1.4 1.1 0 1 0 2.9 0a1.4 1.1 0 1 0 -2.9 0M74 235.7a0.7 0.6 0 1 0 1.5 0a0.7 0.6 0 1 0 -1.5 0M100.5 244.4a1.6 1.4 0 1 0 3.2 0a1.6 1.4 0 1 0 -3.2 0M193.8 211.8a1.4 1.2 0 1 0 2.8 0a1.4 1.2 0 1 0 -2.8 0M160.1 233.2a1.6 1 0 1 0 3.3 0a1.6 1 0 1 0 -3.3 0M191.7 307.2a0.8 0.6 0 1 0 1.6 0a0.8 0.6 0 1 0 -1.6 0M179.3 311.1a2.1 1.6 0 1 0 4.2 0a2.1 1.6 0 1 0 -4.2 0M161.3 279.8a0.9 0.6 0 1 0 1.7 0a0.9 0.6 0 1 0 -1.7 0M58.9 209.4a1.9 1.4 0 1 0 3.8 0a1.9 1.4 0 1 0 -3.8 0M142.2 343.5a1 0.8 0 1 0 2 0a1 0.8 0 1 0 -2 0M138 241.3a1.1 0.7 0 1 0 2.2 0a1.1 0.7 0 1 0 -2.2 0M56.9 233.9a1.5 1.1 0 1 0 3.1 0a1.5 1.1 0 1 0 -3.1 0M167.8 314.4a1 0.6 0 1 0 1.9 0a1 0.6 0 1 0 -1.9 0M57.3 209.5a1.8 1.3 0 1 0 3.6 0a1.8 1.3 0 1 0 -3.6 0M180.1 296.2a1.6 1.3 0 1 0 3.2 0a1.6 1.3 0 1 0 -3.2 0M81.3 222.2a1.1 0.7 0 1 0 2.2 0a1.1 0.7 0 1 0 -2.2 0M133.6 262a1 0.7 0 1 0 2 0a1 0.7 0 1 0 -2 0M123.9 211.2a1.4 1.1 0 1 0 2.8 0a1.4 1.1 0 1 0 -2.8 0M186.7 294a1.3 1.1 0 1 0 2.6 0a1.3 1.1 0 1 0 -2.6 0M110.2 312.3a1.3 1 0 1 0 2.7 0a1.3 1 0 1 0 -2.7 0M94.6 249.5a1.9 1.4 0 1 0 3.8 0a1.9 1.4 0 1 0 -3.8 0M79.5 264.7a2 1.2 0 1 0 4 0a2 1.2 0 1 0 -4 0M164.4 336.1a1.3 1.1 0 1 0 2.6 0a1.3 1.1 0 1 0 -2.6 0M138.6 339.8a2.3 1.6 0 1 0 4.5 0a2.3 1.6 0 1 0 -4.5 0M73.9 266.2a1.3 1.2 0 1 0 2.6 0a1.3 1.2 0 1 0 -2.6 0M147.5 247.5a1.2 0.8 0 1 0 2.5 0a1.2 0.8 0 1 0 -2.5 0M182.3 354.4a1.1 0.9 0 1 0 2.1 0a1.1 0.9 0 1 0 -2.1 0M180.7 235.2a1.4 1 0 1 0 2.8 0a1.4 1 0 1 0 -2.8 0M52.4 254.8a1.3 0.9 0 1 0 2.7 0a1.3 0.9 0 1 0 -2.7 0M160.4 240.3a1.5 1.1 0 1 0 3 0a1.5 1.1 0 1 0 -3 0M116 253.2a1.2 1 0 1 0 2.4 0a1.2 1 0 1 0 -2.4 0M155.3 228.2a2.1 1.2 0 1 0 4.1 0a2.1 1.2 0 1 0 -4.1 0M76.8 210.5a1.2 1 0 1 0 2.3 0a1.2 1 0 1 0 -2.3 0M154.9 351.6a0.7 0.6 0 1 0 1.5 0a0.7 0.6 0 1 0 -1.5 0M176.7 308.6a1.7 1.1 0 1 0 3.3 0a1.7 1.1 0 1 0 -3.3 0M149.8 209.1a0.9 0.7 0 1 0 1.8 0a0.9 0.7 0 1 0 -1.8 0M132.3 224.6a1.7 1.1 0 1 0 3.4 0a1.7 1.1 0 1 0 -3.4 0M153.2 315.4a1.9 1.5 0 1 0 3.8 0a1.9 1.5 0 1 0 -3.8 0M154.8 352.6a1.3 0.9 0 1 0 2.5 0a1.3 0.9 0 1 0 -2.5 0M53.9 277.2a1.2 0.8 0 1 0 2.3 0a1.2 0.8 0 1 0 -2.3 0M60.7 225.1a1.6 1.3 0 1 0 3.3 0a1.6 1.3 0 1 0 -3.3 0M95.8 274.1a1.6 1 0 1 0 3.1 0a1.6 1 0 1 0 -3.1 0M125.5 265.4a1.3 1.2 0 1 0 2.6 0a1.3 1.2 0 1 0 -2.6 0M112.6 217.2a1.4 1.1 0 1 0 2.8 0a1.4 1.1 0 1 0 -2.8 0M143.4 320.7a1.2 1 0 1 0 2.5 0a1.2 1 0 1 0 -2.5 0M83.9 206.9a1.9 1.3 0 1 0 3.7 0a1.9 1.3 0 1 0 -3.7 0M187.5 318.5a0.9 0.6 0 1 0 1.9 0a0.9 0.6 0 1 0 -1.9 0M143.3 212.9a1.8 1.3 0 1 0 3.6 0a1.8 1.3 0 1 0 -3.6 0M68.4 210.8a1.6 1.3 0 1 0 3.2 0a1.6 1.3 0 1 0 -3.2 0M83.2 212a1.5 1.1 0 1 0 3 0a1.5 1.1 0 1 0 -3 0M84 302.5a1 0.8 0 1 0 2 0a1 0.8 0 1 0 -2 0M99.9 314.7a2.1 1.3 0 1 0 4.2 0a2.1 1.3 0 1 0 -4.2 0M72.4 287.8a2.2 1.4 0 1 0 4.4 0a2.2 1.4 0 1 0 -4.4 0M99.7 230.7a1.9 1.2 0 1 0 3.7 0a1.9 1.2 0 1 0 -3.7 0M157.8 315.2a1.2 0.9 0 1 0 2.3 0a1.2 0.9 0 1 0 -2.3 0M177.2 280.2a1.5 1.2 0 1 0 3 0a1.5 1.2 0 1 0 -3 0M200.1 296.8a1 0.7 0 1 0 2 0a1 0.7 0 1 0 -2 0M167.9 297.2a2.2 1.4 0 1 0 4.4 0a2.2 1.4 0 1 0 -4.4 0M108.8 267.3a1.3 0.9 0 1 0 2.6 0a1.3 0.9 0 1 0 -2.6 0M179.9 326.1a1.8 1.2 0 1 0 3.7 0a1.8 1.2 0 1 0 -3.7 0M90.5 252.9a1 0.8 0 1 0 2 0a1 0.8 0 1 0 -2 0M109.7 222.9a1 0.8 0 1 0 2 0a1 0.8 0 1 0 -2 0M90.8 320a1.2 0.8 0 1 0 2.4 0a1.2 0.8 0 1 0 -2.4 0M82.8 249.2a1.2 1.1 0 1 0 2.4 0a1.2 1.1 0 1 0 -2.4 0M149.2 326.5a1.1 0.8 0 1 0 2.1 0a1.1 0.8 0 1 0 -2.1 0M172.7 296.4a0.8 0.6 0 1 0 1.6 0a0.8 0.6 0 1 0 -1.6 0M57.2 268.9a1.4 0.9 0 1 0 2.9 0a1.4 0.9 0 1 0 -2.9 0M183.9 292a1.1 0.6 0 1 0 2.1 0a1.1 0.6 0 1 0 -2.1 0M67 219.2a1.1 1.1 0 1 0 2.3 0a1.1 1.1 0 1 0 -2.3 0M187.6 349.8a1.8 1.3 0 1 0 3.6 0a1.8 1.3 0 1 0 -3.6 0M153.5 229.1a1.4 1.1 0 1 0 2.8 0a1.4 1.1 0 1 0 -2.8 0M155.9 291.3a2 1.2 0 1 0 3.9 0a2 1.2 0 1 0 -3.9 0M58.7 229.5a1.8 1.5 0 1 0 3.7 0a1.8 1.5 0 1 0 -3.7 0M137.3 247.5a1.6 1.4 0 1 0 3.3 0a1.6 1.4 0 1 0 -3.3 0M52.5 288a1 0.6 0 1 0 2.1 0a1 0.6 0 1 0 -2.1 0M168.4 294.5a1.6 1.2 0 1 0 3.1 0a1.6 1.2 0 1 0 -3.1 0M122.1 244.1a1.4 1.1 0 1 0 2.8 0a1.4 1.1 0 1 0 -2.8 0M133.2 293.2a0.9 0.7 0 1 0 1.9 0a0.9 0.7 0 1 0 -1.9 0M75.7 330.1a1.8 1.6 0 1 0 3.5 0a1.8 1.6 0 1 0 -3.5 0M194.7 236.7a0.8 0.7 0 1 0 1.7 0a0.8 0.7 0 1 0 -1.7 0M190.4 276.8a0.9 0.7 0 1 0 1.8 0a0.9 0.7 0 1 0 -1.8 0M161.2 322.5a1.3 1 0 1 0 2.6 0a1.3 1 0 1 0 -2.6 0M120.8 308.8a1.6 1.3 0 1 0 3.1 0a1.6 1.3 0 1 0 -3.1 0M59.2 263.7a1 0.8 0 1 0 2 0a1 0.8 0 1 0 -2 0M195.5 331.8a0.8 0.6 0 1 0 1.6 0a0.8 0.6 0 1 0 -1.6 0M72.4 294.5a1.7 1.3 0 1 0 3.5 0a1.7 1.3 0 1 0 -3.5 0M54.5 320.9a1.2 0.9 0 1 0 2.3 0a1.2 0.9 0 1 0 -2.3 0M80.2 252.9a1.9 1.2 0 1 0 3.8 0a1.9 1.2 0 1 0 -3.8 0M105.6 276.5a1.6 1.4 0 1 0 3.2 0a1.6 1.4 0 1 0 -3.2 0M142.8 350.2a1.7 1.7 0 1 0 3.4 0a1.7 1.7 0 1 0 -3.4 0M174.2 223.5a1.1 1 0 1 0 2.3 0a1.1 1 0 1 0 -2.3 0M82.4 341a1.9 1.2 0 1 0 3.7 0a1.9 1.2 0 1 0 -3.7 0M95.7 268.5a2 1.6 0 1 0 4 0a2 1.6 0 1 0 -4 0M89.5 315.8a1.1 0.8 0 1 0 2.2 0a1.1 0.8 0 1 0 -2.2 0M114.6 287.8a1.3 0.9 0 1 0 2.6 0a1.3 0.9 0 1 0 -2.6 0M154.3 256a1.3 1 0 1 0 2.7 0a1.3 1 0 1 0 -2.7 0M97.6 250.3a0.8 0.7 0 1 0 1.6 0a0.8 0.7 0 1 0 -1.6 0M185.3 259.7a1.4 0.9 0 1 0 2.7 0a1.4 0.9 0 1 0 -2.7 0M171.1 289.3a1.3 1.1 0 1 0 2.6 0a1.3 1.1 0 1 0 -2.6 0M171.5 331.6a2 1.5 0 1 0 4.1 0a2 1.5 0 1 0 -4.1 0M132.7 292.8a1.6 1.2 0 1 0 3.2 0a1.6 1.2 0 1 0 -3.2 0M165.6 298.4a1.8 1 0 1 0 3.5 0a1.8 1 0 1 0 -3.5 0M109.3 348.6a1 0.7 0 1 0 2 0a1 0.7 0 1 0 -2 0M126.2 316.4a1.3 0.8 0 1 0 2.7 0a1.3 0.8 0 1 0 -2.7 0M163 338.1a1.6 1.2 0 1 0 3.2 0a1.6 1.2 0 1 0 -3.2 0M162.3 214.4a2 1.3 0 1 0 3.9 0a2 1.3 0 1 0 -3.9 0M102.5 221a2.2 1.3 0 1 0 4.4 0a2.2 1.3 0 1 0 -4.4 0M94 306.9a0.9 0.7 0 1 0 1.7 0a0.9 0.7 0 1 0 -1.7 0M117.1 295.3a2.3 1.6 0 1 0 4.5 0a2.3 1.6 0 1 0 -4.5 0M86.6 242.2a1.4 1.1 0 1 0 2.9 0a1.4 1.1 0 1 0 -2.9 0M203.1 252.4a0.7 0.6 0 1 0 1.4 0a0.7 0.6 0 1 0 -1.4 0M179.9 211.5a1 0.9 0 1 0 2 0a1 0.9 0 1 0 -2 0M91 220.7a2.3 1.6 0 1 0 4.6 0a2.3 1.6 0 1 0 -4.6 0M165.3 321.2a1.3 1.1 0 1 0 2.6 0a1.3 1.1 0 1 0 -2.6 0M101.4 301.9a1.1 0.7 0 1 0 2.3 0a1.1 0.7 0 1 0 -2.3 0M196.8 348.8a2.2 1.6 0 1 0 4.3 0a2.2 1.6 0 1 0 -4.3 0M137.4 216.4a1.9 1.4 0 1 0 3.8 0a1.9 1.4 0 1 0 -3.8 0M61.1 315.7a1.6 1.2 0 1 0 3.2 0a1.6 1.2 0 1 0 -3.2 0M154.2 305.8a1.6 1.3 0 1 0 3.1 0a1.6 1.3 0 1 0 -3.1 0M188.1 314.6a1.8 1.2 0 1 0 3.5 0a1.8 1.2 0 1 0 -3.5 0M155.8 288.1a0.8 0.7 0 1 0 1.5 0a0.8 0.7 0 1 0 -1.5 0M86.4 238.7a1.4 1.1 0 1 0 2.8 0a1.4 1.1 0 1 0 -2.8 0M54.9 336.4a1.7 1.2 0 1 0 3.3 0a1.7 1.2 0 1 0 -3.3 0M103.5 216a1.3 1.3 0 1 0 2.7 0a1.3 1.3 0 1 0 -2.7 0M152.6 296.9a2.1 1.5 0 1 0 4.2 0a2.1 1.5 0 1 0 -4.2 0M121.4 207.4a1.6 1.3 0 1 0 3.3 0a1.6 1.3 0 1 0 -3.3 0M106.6 205.9a1.9 1.5 0 1 0 3.8 0a1.9 1.5 0 1 0 -3.8 0M180.7 322a2 1.7 0 1 0 4 0a2 1.7 0 1 0 -4 0M53.7 254.5a1.4 0.9 0 1 0 2.9 0a1.4 0.9 0 1 0 -2.9 0M157 219.9a1.1 0.8 0 1 0 2.3 0a1.1 0.8 0 1 0 -2.3 0M116.1 326.5a1.4 0.8 0 1 0 2.8 0a1.4 0.8 0 1 0 -2.8 0M86.4 207.4a1.3 0.8 0 1 0 2.7 0a1.3 0.8 0 1 0 -2.7 0M131.6 245.4a1.2 1.1 0 1 0 2.4 0a1.2 1.1 0 1 0 -2.4 0M175.3 321.6a1.7 1.4 0 1 0 3.4 0a1.7 1.4 0 1 0 -3.4 0M59.9 224.9a1.9 1.5 0 1 0 3.9 0a1.9 1.5 0 1 0 -3.9 0M75.7 291a1.6 1.1 0 1 0 3.2 0a1.6 1.1 0 1 0 -3.2 0M128.9 245.8a1.9 1.3 0 1 0 3.8 0a1.9 1.3 0 1 0 -3.8 0M91.6 238.2a1.2 0.8 0 1 0 2.4 0a1.2 0.8 0 1 0 -2.4 0M188.5 355a2.2 1.3 0 1 0 4.4 0a2.2 1.3 0 1 0 -4.4 0M66.3 293.2a0.8 0.8 0 1 0 1.5 0a0.8 0.8 0 1 0 -1.5 0M161.2 284.9a0.9 0.5 0 1 0 1.8 0a0.9 0.5 0 1 0 -1.8 0M176.4 280.2a1.1 1.1 0 1 0 2.2 0a1.1 1.1 0 1 0 -2.2 0M131.8 345.1a1.4 1.3 0 1 0 2.8 0a1.4 1.3 0 1 0 -2.8 0M101.9 321.9a1.5 1.1 0 1 0 2.9 0a1.5 1.1 0 1 0 -2.9 0M95.6 339.6a1.3 0.9 0 1 0 2.7 0a1.3 0.9 0 1 0 -2.7 0M51.6 350.9a2 1.3 0 1 0 4 0a2 1.3 0 1 0 -4 0M76.5 212.6a1.6 1.3 0 1 0 3.2 0a1.6 1.3 0 1 0 -3.2 0M88 238.6a0.8 0.7 0 1 0 1.6 0a0.8 0.7 0 1 0 -1.6 0M107.9 349a1.3 0.9 0 1 0 2.6 0a1.3 0.9 0 1 0 -2.6 0M56.3 297.3a1.6 1.5 0 1 0 3.1 0a1.6 1.5 0 1 0 -3.1 0M156 331.2a1.5 1.2 0 1 0 3.1 0a1.5 1.2 0 1 0 -3.1 0M191 344.8a1.2 1.1 0 1 0 2.4 0a1.2 1.1 0 1 0 -2.4 0M62.6 249.8a1 0.6 0 1 0 1.9 0a1 0.6 0 1 0 -1.9 0M106 236a1.4 1 0 1 0 2.8 0a1.4 1 0 1 0 -2.8 0M132.9 213.7a1.5 0.9 0 1 0 3 0a1.5 0.9 0 1 0 -3 0M89 264.7a1.4 1.4 0 1 0 2.9 0a1.4 1.4 0 1 0 -2.9 0M160.3 348.5a1.5 1.1 0 1 0 3 0a1.5 1.1 0 1 0 -3 0M95.1 288.9a1 0.7 0 1 0 1.9 0a1 0.7 0 1 0 -1.9 0M69.6 346.6a2.1 1.3 0 1 0 4.2 0a2.1 1.3 0 1 0 -4.2 0M77.4 315a1.7 1.3 0 1 0 3.5 0a1.7 1.3 0 1 0 -3.5 0M64.5 326.7a1.5 1 0 1 0 3.1 0a1.5 1 0 1 0 -3.1 0M72.5 225.4a1.6 1.2 0 1 0 3.2 0a1.6 1.2 0 1 0 -3.2 0M73.2 251.2a1 0.6 0 1 0 1.9 0a1 0.6 0 1 0 -1.9 0M155.1 327.4a1.6 1.1 0 1 0 3.2 0a1.6 1.1 0 1 0 -3.2 0M174.6 237.9a1 1 0 1 0 2 0a1 1 0 1 0 -2 0M201.4 249a1.5 1.1 0 1 0 3 0a1.5 1.1 0 1 0 -3 0M186 344.9a1.2 0.8 0 1 0 2.4 0a1.2 0.8 0 1 0 -2.4 0M196.8 281.7a1 0.6 0 1 0 2 0a1 0.6 0 1 0 -2 0M63.6 268.3a2 1.5 0 1 0 3.9 0a2 1.5 0 1 0 -3.9 0M118.5 213.5a1.8 1.3 0 1 0 3.6 0a1.8 1.3 0 1 0 -3.6 0M122.1 214.7a0.8 0.7 0 1 0 1.6 0a0.8 0.7 0 1 0 -1.6 0M176.9 297.4a1.9 1.3 0 1 0 3.8 0a1.9 1.3 0 1 0 -3.8 0M179 293.6a1.7 1.1 0 1 0 3.3 0a1.7 1.1 0 1 0 -3.3 0M116.8 332.8a2 1.4 0 1 0 4 0a2 1.4 0 1 0 -4 0M136.4 267.1a1.7 1.3 0 1 0 3.5 0a1.7 1.3 0 1 0 -3.5 0M56.1 327.3a1.6 1.2 0 1 0 3.3 0a1.6 1.2 0 1 0 -3.3 0M88.7 298.1a2.1 1.4 0 1 0 4.2 0a2.1 1.4 0 1 0 -4.2 0M96 320a1.3 0.9 0 1 0 2.5 0a1.3 0.9 0 1 0 -2.5 0M104.4 349.5a1.4 1.2 0 1 0 2.7 0a1.4 1.2 0 1 0 -2.7 0M69.2 211.2a1.4 1 0 1 0 2.8 0a1.4 1 0 1 0 -2.8 0M73.9 319.3a1.1 1 0 1 0 2.1 0a1.1 1 0 1 0 -2.1 0M178.1 353.4a1.8 1.2 0 1 0 3.6 0a1.8 1.2 0 1 0 -3.6 0M101.1 262.5a1.4 1.2 0 1 0 2.7 0a1.4 1.2 0 1 0 -2.7 0M161.8 239.2a0.8 0.6 0 1 0 1.6 0a0.8 0.6 0 1 0 -1.6 0M134.8 283.5a1.6 1.2 0 1 0 3.1 0a1.6 1.2 0 1 0 -3.1 0M136.3 240.9a0.9 0.8 0 1 0 1.9 0a0.9 0.8 0 1 0 -1.9 0M96.4 292.1a1.4 1 0 1 0 2.8 0a1.4 1 0 1 0 -2.8 0M65.3 239.7a1 0.8 0 1 0 2 0a1 0.8 0 1 0 -2 0M131.1 231.2a1.6 1.2 0 1 0 3.3 0a1.6 1.2 0 1 0 -3.3 0M144.8 249.9a1.5 1 0 1 0 2.9 0a1.5 1 0 1 0 -2.9 0M140.6 352.6a1.6 1.3 0 1 0 3.2 0a1.6 1.3 0 1 0 -3.2 0M108 270.6a1.8 1.2 0 1 0 3.7 0a1.8 1.2 0 1 0 -3.7 0M200.2 280.1a2.1 1.5 0 1 0 4.2 0a2.1 1.5 0 1 0 -4.2 0M54.3 294.6a1.7 1.4 0 1 0 3.5 0a1.7 1.4 0 1 0 -3.5 0M164.3 296.5a1.6 1.2 0 1 0 3.2 0a1.6 1.2 0 1 0 -3.2 0M65.5 307.3a1.6 1.4 0 1 0 3.2 0a1.6 1.4 0 1 0 -3.2 0M77.5 282.5a1.1 1 0 1 0 2.2 0a1.1 1 0 1 0 -2.2 0M159.7 230.9a1.7 1 0 1 0 3.4 0a1.7 1 0 1 0 -3.4 0M52.4 353a1.9 1.5 0 1 0 3.7 0a1.9 1.5 0 1 0 -3.7 0M76.7 259a1.5 0.9 0 1 0 3 0a1.5 0.9 0 1 0 -3 0M123 288.8a1.8 1.3 0 1 0 3.7 0a1.8 1.3 0 1 0 -3.7 0M142.5 246.2a1.7 1 0 1 0 3.3 0a1.7 1 0 1 0 -3.3 0M126.4 248.7a0.9 0.7 0 1 0 1.8 0a0.9 0.7 0 1 0 -1.8 0M143 246.1a1.5 1.3 0 1 0 3.1 0a1.5 1.3 0 1 0 -3.1 0M88 352.9a1.4 1 0 1 0 2.8 0a1.4 1 0 1 0 -2.8 0M118.4 308.6a1.3 0.8 0 1 0 2.5 0a1.3 0.8 0 1 0 -2.5 0M118.4 265.8a1.5 1.2 0 1 0 3 0a1.5 1.2 0 1 0 -3 0M196.3 317.5a1.1 0.6 0 1 0 2.1 0a1.1 0.6 0 1 0 -2.1 0M176.7 246.9a0.7 0.6 0 1 0 1.5 0a0.7 0.6 0 1 0 -1.5 0M55.7 230.2a0.7 0.6 0 1 0 1.4 0a0.7 0.6 0 1 0 -1.4 0M198.3 303.2a1.9 1.5 0 1 0 3.8 0a1.9 1.5 0 1 0 -3.8 0M88.6 261.5a1.2 1.2 0 1 0 2.4 0a1.2 1.2 0 1 0 -2.4 0M82.1 279.5a1.6 1.4 0 1 0 3.3 0a1.6 1.4 0 1 0 -3.3 0M88.5 233.5a1.5 1 0 1 0 3 0a1.5 1 0 1 0 -3 0M140.4 318.7a1.9 1.7 0 1 0 3.8 0a1.9 1.7 0 1 0 -3.8 0M129.7 232.1a0.9 0.6 0 1 0 1.9 0a0.9 0.6 0 1 0 -1.9 0M65.2 287.2a0.9 0.8 0 1 0 1.9 0a0.9 0.8 0 1 0 -1.9 0M73.6 307.9a2.1 1.5 0 1 0 4.2 0a2.1 1.5 0 1 0 -4.2 0M158.3 331.9a1.6 1.4 0 1 0 3.2 0a1.6 1.4 0 1 0 -3.2 0M71.8 281.9a1 0.7 0 1 0 2.1 0a1 0.7 0 1 0 -2.1 0M117.2 328.5a1.9 1.6 0 1 0 3.8 0a1.9 1.6 0 1 0 -3.8 0M112.1 224a1.9 1.3 0 1 0 3.7 0a1.9 1.3 0 1 0 -3.7 0M131.6 259.1a1.4 0.8 0 1 0 2.8 0a1.4 0.8 0 1 0 -2.8 0M129.5 227.4a1.5 1.2 0 1 0 3.1 0a1.5 1.2 0 1 0 -3.1 0M142.4 270.3a1.6 1.3 0 1 0 3.2 0a1.6 1.3 0 1 0 -3.2 0M68.3 279.6a1 0.9 0 1 0 2 0a1 0.9 0 1 0 -2 0M164.1 228.8a1.3 1.1 0 1 0 2.7 0a1.3 1.1 0 1 0 -2.7 0M55.3 342.4a1.9 1.3 0 1 0 3.8 0a1.9 1.3 0 1 0 -3.8 0M152.4 212.1a1.5 1.2 0 1 0 2.9 0a1.5 1.2 0 1 0 -2.9 0M168.1 240.6a1.6 1.1 0 1 0 3.2 0a1.6 1.1 0 1 0 -3.2 0M80.4 215.5a1 0.8 0 1 0 2.1 0a1 0.8 0 1 0 -2.1 0M148.3 290.5a1.5 1.3 0 1 0 3.1 0a1.5 1.3 0 1 0 -3.1 0M184.9 354.3a2 1.4 0 1 0 4 0a2 1.4 0 1 0 -4 0M89.5 220.7a1.5 1.2 0 1 0 2.9 0a1.5 1.2 0 1 0 -2.9 0M144.4 270.1a1 0.9 0 1 0 2 0a1 0.9 0 1 0 -2 0M100.4 252.6a1.3 1.1 0 1 0 2.6 0a1.3 1.1 0 1 0 -2.6 0M167.8 327.5a2 1.3 0 1 0 4 0a2 1.3 0 1 0 -4 0M150.4 252.7a1.8 1.4 0 1 0 3.5 0a1.8 1.4 0 1 0 -3.5 0M107.5 206.8a1.1 1 0 1 0 2.3 0a1.1 1 0 1 0 -2.3 0M188.7 352.3a1.6 1.2 0 1 0 3.2 0a1.6 1.2 0 1 0 -3.2 0M61.7 250.3a2.1 1.6 0 1 0 4.1 0a2.1 1.6 0 1 0 -4.1 0M79.5 281.5a0.9 0.7 0 1 0 1.7 0a0.9 0.7 0 1 0 -1.7 0M96.4 306a0.9 0.6 0 1 0 1.8 0a0.9 0.6 0 1 0 -1.8 0M140.8 313a1.5 1 0 1 0 3 0a1.5 1 0 1 0 -3 0M184.6 232.4a1.2 0.9 0 1 0 2.4 0a1.2 0.9 0 1 0 -2.4 0M154.4 212.2a1.9 1.4 0 1 0 3.9 0a1.9 1.4 0 1 0 -3.9 0M147.3 334.4a1.3 1.1 0 1 0 2.7 0a1.3 1.1 0 1 0 -2.7 0M105.9 293a0.9 0.7 0 1 0 1.8 0a0.9 0.7 0 1 0 -1.8 0M131.6 316.7a1.5 1 0 1 0 3 0a1.5 1 0 1 0 -3 0M95.4 341.1a1.4 0.9 0 1 0 2.8 0a1.4 0.9 0 1 0 -2.8 0M155.5 232.2a1.5 1.2 0 1 0 3 0a1.5 1.2 0 1 0 -3 0M103.2 259.9a1 0.7 0 1 0 1.9 0a1 0.7 0 1 0 -1.9 0M105.5 312.9a1.6 1.1 0 1 0 3.1 0a1.6 1.1 0 1 0 -3.1 0M179 343.3a1.9 1.5 0 1 0 3.7 0a1.9 1.5 0 1 0 -3.7 0M107.4 254.8a1.3 1.3 0 1 0 2.6 0a1.3 1.3 0 1 0 -2.6 0M115.6 278.5a1.9 1.2 0 1 0 3.8 0a1.9 1.2 0 1 0 -3.8 0M87.5 298.5a1.5 1 0 1 0 3 0a1.5 1 0 1 0 -3 0M99.3 350a1.1 0.9 0 1 0 2.2 0a1.1 0.9 0 1 0 -2.2 0M194.7 217.3a1.3 0.9 0 1 0 2.6 0a1.3 0.9 0 1 0 -2.6 0M154.9 219.2a0.8 0.6 0 1 0 1.5 0a0.8 0.6 0 1 0 -1.5 0M96.1 222.5a0.8 0.7 0 1 0 1.7 0a0.8 0.7 0 1 0 -1.7 0M66.9 315.3a0.8 0.7 0 1 0 1.6 0a0.8 0.7 0 1 0 -1.6 0M171 281.7a1.4 0.9 0 1 0 2.7 0a1.4 0.9 0 1 0 -2.7 0M111.5 330.2a0.9 0.7 0 1 0 1.8 0a0.9 0.7 0 1 0 -1.8 0M62.4 346.6a2.3 1.5 0 1 0 4.6 0a2.3 1.5 0 1 0 -4.6 0M143.5 277.4a1.1 0.7 0 1 0 2.1 0a1.1 0.7 0 1 0 -2.1 0M58.7 249.7a1 0.7 0 1 0 2 0a1 0.7 0 1 0 -2 0M170.8 283.9a1.1 0.8 0 1 0 2.2 0a1.1 0.8 0 1 0 -2.2 0M57.1 350.6a1.9 1.6 0 1 0 3.8 0a1.9 1.6 0 1 0 -3.8 0M155.3 221a1.4 1 0 1 0 2.8 0a1.4 1 0 1 0 -2.8 0M104.4 304.2a1 0.8 0 1 0 2.1 0a1 0.8 0 1 0 -2.1 0M60.3 241.9a1.5 1.3 0 1 0 2.9 0a1.5 1.3 0 1 0 -2.9 0M143.8 316.2a2 1.3 0 1 0 4.1 0a2 1.3 0 1 0 -4.1 0M166.6 209.1a1.3 1.1 0 1 0 2.5 0a1.3 1.1 0 1 0 -2.5 0M182.6 281.8a1.4 1.3 0 1 0 2.8 0a1.4 1.3 0 1 0 -2.8 0M145.3 279.3a1.4 1 0 1 0 2.8 0a1.4 1 0 1 0 -2.8 0M173 283.2a0.9 0.7 0 1 0 1.8 0a0.9 0.7 0 1 0 -1.8 0M79.7 349.1a1 0.8 0 1 0 2 0a1 0.8 0 1 0 -2 0M93 233.4a0.8 0.8 0 1 0 1.7 0a0.8 0.8 0 1 0 -1.7 0M90.3 349.1a1.3 1.1 0 1 0 2.6 0a1.3 1.1 0 1 0 -2.6 0M122.4 318.1a1.6 1.1 0 1 0 3.2 0a1.6 1.1 0 1 0 -3.2 0M165.8 296a1 0.6 0 1 0 2 0a1 0.6 0 1 0 -2 0M146.8 301.5a0.8 0.7 0 1 0 1.7 0a0.8 0.7 0 1 0 -1.7 0M57.3 267.7a1.9 1.3 0 1 0 3.9 0a1.9 1.3 0 1 0 -3.9 0M178.8 332.6a1.5 1.3 0 1 0 3 0a1.5 1.3 0 1 0 -3 0M77.9 253.6a1.6 1.4 0 1 0 3.3 0a1.6 1.4 0 1 0 -3.3 0M168 245.7a1 0.8 0 1 0 2 0a1 0.8 0 1 0 -2 0M137.4 218.1a1.8 1.4 0 1 0 3.6 0a1.8 1.4 0 1 0 -3.6 0M128.3 352.9a1.3 1.1 0 1 0 2.7 0a1.3 1.1 0 1 0 -2.7 0M141.2 347.5a1.3 0.9 0 1 0 2.6 0a1.3 0.9 0 1 0 -2.6 0M55.9 296.1a1.8 1.2 0 1 0 3.6 0a1.8 1.2 0 1 0 -3.6 0M167 230.7a1.6 1.1 0 1 0 3.2 0a1.6 1.1 0 1 0 -3.2 0M107 316.3a1.4 1 0 1 0 2.8 0a1.4 1 0 1 0 -2.8 0M166.2 331.7a1.5 1.2 0 1 0 3 0a1.5 1.2 0 1 0 -3 0M97.6 329.8a0.9 0.8 0 1 0 1.7 0a0.9 0.8 0 1 0 -1.7 0M56.2 296.9a1.6 1 0 1 0 3.1 0a1.6 1 0 1 0 -3.1 0M131.7 251.2a0.9 0.8 0 1 0 1.9 0a0.9 0.8 0 1 0 -1.9 0M141 307.1a1.2 0.8 0 1 0 2.4 0a1.2 0.8 0 1 0 -2.4 0M82.5 295.1a1.9 1.3 0 1 0 3.8 0a1.9 1.3 0 1 0 -3.8 0M201.8 325a1.1 1 0 1 0 2.3 0a1.1 1 0 1 0 -2.3 0M78.7 219.5a1.5 1.3 0 1 0 3.1 0a1.5 1.3 0 1 0 -3.1 0M133 256.7a1 0.8 0 1 0 2 0a1 0.8 0 1 0 -2 0M96.7 206.4a1.9 1.6 0 1 0 3.8 0a1.9 1.6 0 1 0 -3.8 0M198.8 217.4a1.5 0.9 0 1 0 2.9 0a1.5 0.9 0 1 0 -2.9 0M103.9 307.7a0.8 0.6 0 1 0 1.5 0a0.8 0.6 0 1 0 -1.5 0M195 343.7a1.2 1.2 0 1 0 2.5 0a1.2 1.2 0 1 0 -2.5 0M170.7 301.1a1.3 1 0 1 0 2.6 0a1.3 1 0 1 0 -2.6 0M117.3 248.9a1.6 1.6 0 1 0 3.3 0a1.6 1.6 0 1 0 -3.3 0M67.9 344.7a1.1 0.8 0 1 0 2.2 0a1.1 0.8 0 1 0 -2.2 0M104.9 226.4a1.6 1.3 0 1 0 3.1 0a1.6 1.3 0 1 0 -3.1 0M63.5 269.2a1.4 1 0 1 0 2.8 0a1.4 1 0 1 0 -2.8 0M121.7 207.4a1.2 1 0 1 0 2.4 0a1.2 1 0 1 0 -2.4 0M133.6 237.4a1.4 1.2 0 1 0 2.8 0a1.4 1.2 0 1 0 -2.8 0M180 273.1a0.9 0.8 0 1 0 1.9 0a0.9 0.8 0 1 0 -1.9 0M190.6 238.6a1.1 1 0 1 0 2.2 0a1.1 1 0 1 0 -2.2 0M80.2 232.2a1.5 1 0 1 0 3.1 0a1.5 1 0 1 0 -3.1 0M144.1 241.4a0.9 0.7 0 1 0 1.8 0a0.9 0.7 0 1 0 -1.8 0M181.8 237.4a1.2 0.9 0 1 0 2.4 0a1.2 0.9 0 1 0 -2.4 0M136.3 240.5a0.9 0.7 0 1 0 1.8 0a0.9 0.7 0 1 0 -1.8 0M64.8 337.7a1.7 1.7 0 1 0 3.4 0a1.7 1.7 0 1 0 -3.4 0M53.1 263.2a1.2 0.8 0 1 0 2.3 0a1.2 0.8 0 1 0 -2.3 0M54.8 273a1.2 1.2 0 1 0 2.5 0a1.2 1.2 0 1 0 -2.5 0M127.8 326.4a1.3 1 0 1 0 2.7 0a1.3 1 0 1 0 -2.7 0M164.6 258.3a1 0.7 0 1 0 2 0a1 0.7 0 1 0 -2 0M89.7 280.4a1.9 1.5 0 1 0 3.7 0a1.9 1.5 0 1 0 -3.7 0M156.5 317.2a1.9 1.3 0 1 0 3.8 0a1.9 1.3 0 1 0 -3.8 0M135 285.9a1.8 1.3 0 1 0 3.6 0a1.8 1.3 0 1 0 -3.6 0M99.4 313.2a1.3 1.1 0 1 0 2.6 0a1.3 1.1 0 1 0 -2.6 0M112.3 308a1.2 1.1 0 1 0 2.4 0a1.2 1.1 0 1 0 -2.4 0M65.7 298.4a1.6 1.2 0 1 0 3.2 0a1.6 1.2 0 1 0 -3.2 0M201.9 337.1a1.5 1 0 1 0 3 0a1.5 1 0 1 0 -3 0M203.7 216a1 0.9 0 1 0 1.9 0a1 0.9 0 1 0 -1.9 0"/>
<path fill="#f3e638" d="M120.9 289.8a1 0.8 0 1 0 2.1 0a1 0.8 0 1 0 -2.1 0M66.4 327.6a0.8 0.8 0 1 0 1.5 0a0.8 0.8 0 1 0 -1.5 0M81.8 241.8a0.5 0.3 0 1 0 0.9 0a0.5 0.3 0 1 0 -0.9 0M198.2 333.3a0.4 0.4 0 1 0 0.8 0a0.4 0.4 0 1 0 -0.8 0M84.5 246a1.2 0.8 0 1 0 2.4 0a1.2 0.8 0 1 0 -2.4 0M84.3 264.8a1.1 0.7 0 1 0 2.1 0a1.1 0.7 0 1 0 -2.1 0M66.4 293.3a0.6 0.4 0 1 0 1.2 0a0.6 0.4 0 1 0 -1.2 0M190.6 328.9a0.5 0.5 0 1 0 1.1 0a0.5 0.5 0 1 0 -1.1 0M58.6 350.8a0.6 0.4 0 1 0 1.3 0a0.6 0.4 0 1 0 -1.3 0M139.4 225.1a0.8 0.6 0 1 0 1.6 0a0.8 0.6 0 1 0 -1.6 0M157.7 293.6a0.4 0.3 0 1 0 0.9 0a0.4 0.3 0 1 0 -0.9 0M159.2 350.8a0.5 0.3 0 1 0 0.9 0a0.5 0.3 0 1 0 -0.9 0M101.2 356.3a0.5 0.4 0 1 0 1 0a0.5 0.4 0 1 0 -1 0M164 311.6a1.1 0.7 0 1 0 2.2 0a1.1 0.7 0 1 0 -2.2 0M189.2 336.9a0.8 0.6 0 1 0 1.6 0a0.8 0.6 0 1 0 -1.6 0M147.3 263a0.9 0.6 0 1 0 1.7 0a0.9 0.6 0 1 0 -1.7 0M203.1 338.2a0.9 0.7 0 1 0 1.8 0a0.9 0.7 0 1 0 -1.8 0M119.6 332a0.5 0.3 0 1 0 1.1 0a0.5 0.3 0 1 0 -1.1 0M125.4 240a0.9 0.7 0 1 0 1.8 0a0.9 0.7 0 1 0 -1.8 0M189.9 305a0.8 0.5 0 1 0 1.7 0a0.8 0.5 0 1 0 -1.7 0M141.3 253.1a0.5 0.4 0 1 0 1.1 0a0.5 0.4 0 1 0 -1.1 0M85 267.8a0.9 0.6 0 1 0 1.7 0a0.9 0.6 0 1 0 -1.7 0M147.9 272.7a0.9 0.7 0 1 0 1.8 0a0.9 0.7 0 1 0 -1.8 0M156.5 235.3a0.7 0.5 0 1 0 1.3 0a0.7 0.5 0 1 0 -1.3 0M161.1 232.3a0.6 0.5 0 1 0 1.2 0a0.6 0.5 0 1 0 -1.2 0M194.3 314.4a0.5 0.4 0 1 0 1 0a0.5 0.4 0 1 0 -1 0M109.4 291.2a1.1 0.9 0 1 0 2.3 0a1.1 0.9 0 1 0 -2.3 0M151.1 236.2a1 0.7 0 1 0 2.1 0a1 0.7 0 1 0 -2.1 0M84.4 341.3a1.3 0.8 0 1 0 2.6 0a1.3 0.8 0 1 0 -2.6 0M130.6 314.6a1.1 0.8 0 1 0 2.1 0a1.1 0.8 0 1 0 -2.1 0M196.7 218.2a0.6 0.4 0 1 0 1.2 0a0.6 0.4 0 1 0 -1.2 0M180.9 341.4a0.7 0.5 0 1 0 1.3 0a0.7 0.5 0 1 0 -1.3 0M199.6 283.2a0.8 0.5 0 1 0 1.6 0a0.8 0.5 0 1 0 -1.6 0M157.4 215.2a0.8 0.7 0 1 0 1.6 0a0.8 0.7 0 1 0 -1.6 0M93.7 276.7a0.5 0.4 0 1 0 1 0a0.5 0.4 0 1 0 -1 0M106.7 298.9a0.6 0.3 0 1 0 1.1 0a0.6 0.3 0 1 0 -1.1 0M133 229.4a0.6 0.5 0 1 0 1.2 0a0.6 0.5 0 1 0 -1.2 0M181.5 297.7a0.9 0.8 0 1 0 1.8 0a0.9 0.8 0 1 0 -1.8 0M189.5 253a0.8 0.5 0 1 0 1.5 0a0.8 0.5 0 1 0 -1.5 0M178.7 269a0.8 0.7 0 1 0 1.7 0a0.8 0.7 0 1 0 -1.7 0M62 349.1a0.8 0.5 0 1 0 1.6 0a0.8 0.5 0 1 0 -1.6 0M130.8 270.2a0.7 0.7 0 1 0 1.4 0a0.7 0.7 0 1 0 -1.4 0M129.9 207.5a1.2 0.8 0 1 0 2.3 0a1.2 0.8 0 1 0 -2.3 0M148 266.4a0.8 0.7 0 1 0 1.7 0a0.8 0.7 0 1 0 -1.7 0M152.7 291.3a0.8 0.7 0 1 0 1.5 0a0.8 0.7 0 1 0 -1.5 0M158.8 320.4a0.9 0.9 0 1 0 1.8 0a0.9 0.9 0 1 0 -1.8 0M90.6 342.1a0.8 0.7 0 1 0 1.6 0a0.8 0.7 0 1 0 -1.6 0M203.4 301.7a0.8 0.8 0 1 0 1.7 0a0.8 0.8 0 1 0 -1.7 0M59.7 345.8a0.5 0.4 0 1 0 1.1 0a0.5 0.4 0 1 0 -1.1 0M145 214.1a1 0.8 0 1 0 2.1 0a1 0.8 0 1 0 -2.1 0M107.9 248.4a0.9 0.6 0 1 0 1.8 0a0.9 0.6 0 1 0 -1.8 0M97.8 207.3a0.5 0.4 0 1 0 1 0a0.5 0.4 0 1 0 -1 0M111.7 340.9a0.8 0.8 0 1 0 1.6 0a0.8 0.8 0 1 0 -1.6 0M131.8 346.9a0.9 0.8 0 1 0 1.8 0a0.9 0.8 0 1 0 -1.8 0M140.7 268.6a1 0.8 0 1 0 1.9 0a1 0.8 0 1 0 -1.9 0M164.1 241.2a0.6 0.4 0 1 0 1.2 0a0.6 0.4 0 1 0 -1.2 0M106.9 246.3a0.9 0.7 0 1 0 1.8 0a0.9 0.7 0 1 0 -1.8 0M166.9 233.9a0.7 0.5 0 1 0 1.4 0a0.7 0.5 0 1 0 -1.4 0M135 216.2a0.5 0.4 0 1 0 1.1 0a0.5 0.4 0 1 0 -1.1 0M109.4 277.6a0.5 0.5 0 1 0 1.1 0a0.5 0.5 0 1 0 -1.1 0M116.8 244.2a0.9 0.8 0 1 0 1.9 0a0.9 0.8 0 1 0 -1.9 0M67.7 337.5a0.4 0.4 0 1 0 0.8 0a0.4 0.4 0 1 0 -0.8 0M156.5 250.4a0.8 0.7 0 1 0 1.6 0a0.8 0.7 0 1 0 -1.6 0M107.1 315a0.6 0.5 0 1 0 1.2 0a0.6 0.5 0 1 0 -1.2 0M108.1 260.1a0.7 0.5 0 1 0 1.4 0a0.7 0.5 0 1 0 -1.4 0M173.2 286.9a1 0.7 0 1 0 2 0a1 0.7 0 1 0 -2 0M186.5 247.8a0.5 0.3 0 1 0 0.9 0a0.5 0.3 0 1 0 -0.9 0M199.1 303.7a0.8 0.7 0 1 0 1.6 0a0.8 0.7 0 1 0 -1.6 0M65.1 217.5a1.1 0.6 0 1 0 2.1 0a1.1 0.6 0 1 0 -2.1 0M74.4 318a0.8 0.6 0 1 0 1.6 0a0.8 0.6 0 1 0 -1.6 0M131.8 320.8a0.7 0.6 0 1 0 1.3 0a0.7 0.6 0 1 0 -1.3 0M177.5 306a1.1 0.8 0 1 0 2.3 0a1.1 0.8 0 1 0 -2.3 0M70 303.2a0.8 0.6 0 1 0 1.7 0a0.8 0.6 0 1 0 -1.7 0M78.9 319.7a0.7 0.5 0 1 0 1.3 0a0.7 0.5 0 1 0 -1.3 0M91.9 339.4a1 0.8 0 1 0 2 0a1 0.8 0 1 0 -2 0M54.3 276.7a0.8 0.5 0 1 0 1.5 0a0.8 0.5 0 1 0 -1.5 0M76.6 228.9a0.6 0.5 0 1 0 1.2 0a0.6 0.5 0 1 0 -1.2 0M149.3 355.4a0.6 0.4 0 1 0 1.3 0a0.6 0.4 0 1 0 -1.3 0M161.3 219.9a0.8 0.6 0 1 0 1.5 0a0.8 0.6 0 1 0 -1.5 0M177.9 236.7a0.8 0.6 0 1 0 1.6 0a0.8 0.6 0 1 0 -1.6 0M100.2 252.2a0.5 0.4 0 1 0 0.9 0a0.5 0.4 0 1 0 -0.9 0M107.4 309.1a0.5 0.4 0 1 0 1 0a0.5 0.4 0 1 0 -1 0M114 216.2a1 0.8 0 1 0 2.1 0a1 0.8 0 1 0 -2.1 0M112.9 311a1.2 0.9 0 1 0 2.4 0a1.2 0.9 0 1 0 -2.4 0M129.6 324.4a1 0.7 0 1 0 2.1 0a1 0.7 0 1 0 -2.1 0M189.6 288.1a0.7 0.5 0 1 0 1.4 0a0.7 0.5 0 1 0 -1.4 0M202 283.2a1 0.6 0 1 0 2.1 0a1 0.6 0 1 0 -2.1 0M148 235.1a0.4 0.4 0 1 0 0.9 0a0.4 0.4 0 1 0 -0.9 0M102.6 345.7a0.7 0.5 0 1 0 1.3 0a0.7 0.5 0 1 0 -1.3 0M190.2 355.2a1 0.7 0 1 0 2.1 0a1 0.7 0 1 0 -2.1 0M136 216.7a0.4 0.4 0 1 0 0.8 0a0.4 0.4 0 1 0 -0.8 0M152.2 251.7a1 0.7 0 1 0 1.9 0a1 0.7 0 1 0 -1.9 0M149.9 210.9a0.8 0.8 0 1 0 1.5 0a0.8 0.8 0 1 0 -1.5 0M123.7 267.4a0.9 0.7 0 1 0 1.8 0a0.9 0.7 0 1 0 -1.8 0M138.4 342.1a0.8 0.6 0 1 0 1.6 0a0.8 0.6 0 1 0 -1.6 0M101 213.5a1.1 0.7 0 1 0 2.1 0a1.1 0.7 0 1 0 -2.1 0M99.3 265a0.5 0.5 0 1 0 1 0a0.5 0.5 0 1 0 -1 0M153.5 336.2a0.8 0.5 0 1 0 1.6 0a0.8 0.5 0 1 0 -1.6 0M138.8 341.8a0.6 0.3 0 1 0 1.1 0a0.6 0.3 0 1 0 -1.1 0M57.5 341.1a0.6 0.5 0 1 0 1.3 0a0.6 0.5 0 1 0 -1.3 0M179.8 258.7a0.7 0.6 0 1 0 1.3 0a0.7 0.6 0 1 0 -1.3 0M160.6 234.9a0.5 0.4 0 1 0 1 0a0.5 0.4 0 1 0 -1 0M193.2 306.1a0.7 0.4 0 1 0 1.3 0a0.7 0.4 0 1 0 -1.3 0M137 302.7a0.7 0.6 0 1 0 1.4 0a0.7 0.6 0 1 0 -1.4 0M170.8 230.2a0.8 0.6 0 1 0 1.5 0a0.8 0.6 0 1 0 -1.5 0M172 324.8a0.6 0.4 0 1 0 1.2 0a0.6 0.4 0 1 0 -1.2 0M128.1 210.5a0.9 0.6 0 1 0 1.8 0a0.9 0.6 0 1 0 -1.8 0M92.7 325.9a0.6 0.4 0 1 0 1.1 0a0.6 0.4 0 1 0 -1.1 0M146.9 284.6a0.6 0.4 0 1 0 1.3 0a0.6 0.4 0 1 0 -1.3 0M78.8 243.7a0.6 0.4 0 1 0 1.2 0a0.6 0.4 0 1 0 -1.2 0M126.7 320.3a1 0.8 0 1 0 1.9 0a1 0.8 0 1 0 -1.9 0M117.2 216.8a0.5 0.4 0 1 0 1.1 0a0.5 0.4 0 1 0 -1.1 0M87.5 243.5a0.7 0.6 0 1 0 1.5 0a0.7 0.6 0 1 0 -1.5 0M151.2 214a0.7 0.6 0 1 0 1.4 0a0.7 0.6 0 1 0 -1.4 0M187 275.1a0.8 0.5 0 1 0 1.6 0a0.8 0.5 0 1 0 -1.6 0M85.3 275.9a0.6 0.6 0 1 0 1.3 0a0.6 0.6 0 1 0 -1.3 0M94.5 208a0.5 0.4 0 1 0 1 0a0.5 0.4 0 1 0 -1 0M162.9 305.9a0.5 0.4 0 1 0 1 0a0.5 0.4 0 1 0 -1 0M85.6 211.4a0.5 0.3 0 1 0 1 0a0.5 0.3 0 1 0 -1 0M200.3 250.3a1 0.6 0 1 0 2.1 0a1 0.6 0 1 0 -2.1 0M117.8 264.5a0.5 0.3 0 1 0 0.9 0a0.5 0.3 0 1 0 -0.9 0M95.1 229.2a0.7 0.5 0 1 0 1.4 0a0.7 0.5 0 1 0 -1.4 0M89.1 219.3a0.6 0.5 0 1 0 1.3 0a0.6 0.5 0 1 0 -1.3 0M62.5 266.3a0.5 0.4 0 1 0 0.9 0a0.5 0.4 0 1 0 -0.9 0M102.3 243.5a0.4 0.4 0 1 0 0.9 0a0.4 0.4 0 1 0 -0.9 0M92.5 306.2a0.6 0.4 0 1 0 1.1 0a0.6 0.4 0 1 0 -1.1 0M107.2 292.3a1.2 0.8 0 1 0 2.4 0a1.2 0.8 0 1 0 -2.4 0M52.9 287.4a0.6 0.5 0 1 0 1.3 0a0.6 0.5 0 1 0 -1.3 0M105.3 339.2a0.7 0.5 0 1 0 1.4 0a0.7 0.5 0 1 0 -1.4 0M199 329.8a0.6 0.4 0 1 0 1.1 0a0.6 0.4 0 1 0 -1.1 0M68.4 311.8a0.5 0.4 0 1 0 1 0a0.5 0.4 0 1 0 -1 0M77.2 336.2a0.9 0.7 0 1 0 1.7 0a0.9 0.7 0 1 0 -1.7 0M154.4 240.1a0.5 0.4 0 1 0 0.9 0a0.5 0.4 0 1 0 -0.9 0M135 278.2a0.6 0.6 0 1 0 1.3 0a0.6 0.6 0 1 0 -1.3 0M138.4 226.9a0.8 0.6 0 1 0 1.6 0a0.8 0.6 0 1 0 -1.6 0M64.4 232.8a0.9 0.5 0 1 0 1.8 0a0.9 0.5 0 1 0 -1.8 0M125.9 267.9a0.9 0.7 0 1 0 1.9 0a0.9 0.7 0 1 0 -1.9 0M152.3 299.4a0.7 0.5 0 1 0 1.5 0a0.7 0.5 0 1 0 -1.5 0M70.7 216.5a0.7 0.5 0 1 0 1.5 0a0.7 0.5 0 1 0 -1.5 0M54.1 237a0.9 0.8 0 1 0 1.8 0a0.9 0.8 0 1 0 -1.8 0M172.7 316.4a0.8 0.6 0 1 0 1.6 0a0.8 0.6 0 1 0 -1.6 0M134.2 349.2a0.7 0.4 0 1 0 1.3 0a0.7 0.4 0 1 0 -1.3 0M150 237.3a1 0.7 0 1 0 1.9 0a1 0.7 0 1 0 -1.9 0M129.4 291a0.6 0.4 0 1 0 1.2 0a0.6 0.4 0 1 0 -1.2 0M153.7 268.6a0.6 0.5 0 1 0 1.3 0a0.6 0.5 0 1 0 -1.3 0M130.7 210.1a0.8 0.7 0 1 0 1.7 0a0.8 0.7 0 1 0 -1.7 0M164.3 354.8a0.8 0.5 0 1 0 1.6 0a0.8 0.5 0 1 0 -1.6 0M126.8 240.6a1.1 0.8 0 1 0 2.1 0a1.1 0.8 0 1 0 -2.1 0M173.4 282.6a0.9 0.9 0 1 0 1.9 0a0.9 0.9 0 1 0 -1.9 0M95.3 302.5a0.5 0.4 0 1 0 1 0a0.5 0.4 0 1 0 -1 0M88.9 326.2a1.1 0.8 0 1 0 2.2 0a1.1 0.8 0 1 0 -2.2 0M184.1 331.3a0.5 0.4 0 1 0 0.9 0a0.5 0.4 0 1 0 -0.9 0M146.4 341.6a0.6 0.3 0 1 0 1.1 0a0.6 0.3 0 1 0 -1.1 0M104.1 252.9a0.8 0.7 0 1 0 1.6 0a0.8 0.7 0 1 0 -1.6 0M195.5 297.4a0.6 0.6 0 1 0 1.2 0a0.6 0.6 0 1 0 -1.2 0M164.4 259.7a0.6 0.4 0 1 0 1.3 0a0.6 0.4 0 1 0 -1.3 0M117.1 329.2a0.7 0.5 0 1 0 1.4 0a0.7 0.5 0 1 0 -1.4 0M105.3 311.6a0.6 0.4 0 1 0 1.2 0a0.6 0.4 0 1 0 -1.2 0M176.9 333.8a0.9 0.6 0 1 0 1.7 0a0.9 0.6 0 1 0 -1.7 0M122.9 253a0.9 0.8 0 1 0 1.8 0a0.9 0.8 0 1 0 -1.8 0M202.8 264.9a1.1 0.8 0 1 0 2.1 0a1.1 0.8 0 1 0 -2.1 0M62.7 275.1a0.7 0.5 0 1 0 1.5 0a0.7 0.5 0 1 0 -1.5 0M77.8 303.3a0.9 0.6 0 1 0 1.9 0a0.9 0.6 0 1 0 -1.9 0M163.7 322.5a0.5 0.3 0 1 0 1 0a0.5 0.3 0 1 0 -1 0M196.2 340.6a0.4 0.3 0 1 0 0.9 0a0.4 0.3 0 1 0 -0.9 0M69.6 324.5a0.6 0.4 0 1 0 1.3 0a0.6 0.4 0 1 0 -1.3 0M115.6 213.4a0.6 0.4 0 1 0 1.1 0a0.6 0.4 0 1 0 -1.1 0M181.5 221a0.9 0.9 0 1 0 1.8 0a0.9 0.9 0 1 0 -1.8 0M75.7 328.9a1 0.6 0 1 0 2 0a1 0.6 0 1 0 -2 0M57 221.9a0.8 0.5 0 1 0 1.5 0a0.8 0.5 0 1 0 -1.5 0M59.9 268.1a0.4 0.3 0 1 0 0.9 0a0.4 0.3 0 1 0 -0.9 0M102.2 279.1a1 0.7 0 1 0 2 0a1 0.7 0 1 0 -2 0M108.4 270.1a0.7 0.6 0 1 0 1.4 0a0.7 0.6 0 1 0 -1.4 0M145.1 294.3a0.6 0.5 0 1 0 1.3 0a0.6 0.5 0 1 0 -1.3 0M183.1 266a0.7 0.4 0 1 0 1.3 0a0.7 0.4 0 1 0 -1.3 0M178.7 254.8a0.7 0.5 0 1 0 1.5 0a0.7 0.5 0 1 0 -1.5 0M61.5 320.7a0.5 0.4 0 1 0 1 0a0.5 0.4 0 1 0 -1 0M70.5 253.6a0.8 0.6 0 1 0 1.6 0a0.8 0.6 0 1 0 -1.6 0M154 288.1a0.4 0.4 0 1 0 0.9 0a0.4 0.4 0 1 0 -0.9 0M137.8 344.6a0.6 0.4 0 1 0 1.1 0a0.6 0.4 0 1 0 -1.1 0M154.8 345.5a0.8 0.6 0 1 0 1.6 0a0.8 0.6 0 1 0 -1.6 0M77.4 258.1a0.8 0.6 0 1 0 1.7 0a0.8 0.6 0 1 0 -1.7 0M62.4 329.9a0.7 0.5 0 1 0 1.5 0a0.7 0.5 0 1 0 -1.5 0M166.8 220.7a0.7 0.4 0 1 0 1.5 0a0.7 0.4 0 1 0 -1.5 0M138.9 288.6a0.6 0.6 0 1 0 1.2 0a0.6 0.6 0 1 0 -1.2 0M174.7 220a0.9 0.7 0 1 0 1.7 0a0.9 0.7 0 1 0 -1.7 0M144.9 223.5a1 0.8 0 1 0 2 0a1 0.8 0 1 0 -2 0M156.7 260.2a1.2 0.8 0 1 0 2.3 0a1.2 0.8 0 1 0 -2.3 0M94.6 282.2a0.9 0.9 0 1 0 1.8 0a0.9 0.9 0 1 0 -1.8 0M144.8 287.4a0.9 0.7 0 1 0 1.9 0a0.9 0.7 0 1 0 -1.9 0M170.4 244.5a0.6 0.3 0 1 0 1.1 0a0.6 0.3 0 1 0 -1.1 0M88 273.7a0.7 0.6 0 1 0 1.5 0a0.7 0.6 0 1 0 -1.5 0M138.5 257.9a0.7 0.4 0 1 0 1.4 0a0.7 0.4 0 1 0 -1.4 0M56.7 291.5a1.2 0.9 0 1 0 2.3 0a1.2 0.9 0 1 0 -2.3 0M103 311.4a1.3 0.9 0 1 0 2.5 0a1.3 0.9 0 1 0 -2.5 0M183.1 346.6a0.4 0.3 0 1 0 0.9 0a0.4 0.3 0 1 0 -0.9 0M145.4 297.9a0.9 0.8 0 1 0 1.8 0a0.9 0.8 0 1 0 -1.8 0M178.4 309.3a0.8 0.6 0 1 0 1.6 0a0.8 0.6 0 1 0 -1.6 0M103.8 257.6a0.5 0.3 0 1 0 1 0a0.5 0.3 0 1 0 -1 0M132.3 255.9a0.9 0.6 0 1 0 1.8 0a0.9 0.6 0 1 0 -1.8 0M88.9 304.1a0.6 0.4 0 1 0 1.2 0a0.6 0.4 0 1 0 -1.2 0M80.8 240.3a0.6 0.5 0 1 0 1.2 0a0.6 0.5 0 1 0 -1.2 0M115.6 354.9a0.7 0.6 0 1 0 1.3 0a0.7 0.6 0 1 0 -1.3 0M111 225.7a1.1 0.7 0 1 0 2.1 0a1.1 0.7 0 1 0 -2.1 0M110 248.6a0.9 0.6 0 1 0 1.8 0a0.9 0.6 0 1 0 -1.8 0M83.3 338a1.3 0.8 0 1 0 2.5 0a1.3 0.8 0 1 0 -2.5 0M73.9 313.2a1 0.7 0 1 0 1.9 0a1 0.7 0 1 0 -1.9 0M99.4 232.8a0.5 0.4 0 1 0 1.1 0a0.5 0.4 0 1 0 -1.1 0M138.4 249.7a1.1 0.7 0 1 0 2.3 0a1.1 0.7 0 1 0 -2.3 0M168.6 265.8a0.4 0.3 0 1 0 0.8 0a0.4 0.3 0 1 0 -0.8 0M84.8 208.2a0.7 0.4 0 1 0 1.3 0a0.7 0.4 0 1 0 -1.3 0M140.9 229a1 0.7 0 1 0 2 0a1 0.7 0 1 0 -2 0M53 280.3a0.6 0.5 0 1 0 1.3 0a0.6 0.5 0 1 0 -1.3 0M119.6 218a0.9 0.8 0 1 0 1.8 0a0.9 0.8 0 1 0 -1.8 0M91.2 341.7a0.8 0.6 0 1 0 1.5 0a0.8 0.6 0 1 0 -1.5 0M82.1 237.7a1.1 0.9 0 1 0 2.2 0a1.1 0.9 0 1 0 -2.2 0M176.2 251.1a0.7 0.4 0 1 0 1.4 0a0.7 0.4 0 1 0 -1.4 0M104.4 324.9a1 0.7 0 1 0 2 0a1 0.7 0 1 0 -2 0M162.4 214.1a1.1 0.8 0 1 0 2.2 0a1.1 0.8 0 1 0 -2.2 0M56 229.5a0.9 0.8 0 1 0 1.8 0a0.9 0.8 0 1 0 -1.8 0M158.1 283.2a0.6 0.4 0 1 0 1.2 0a0.6 0.4 0 1 0 -1.2 0M132.1 279a0.5 0.4 0 1 0 1 0a0.5 0.4 0 1 0 -1 0M63.3 213.1a0.7 0.6 0 1 0 1.4 0a0.7 0.6 0 1 0 -1.4 0M118.1 308.9a1 0.7 0 1 0 1.9 0a1 0.7 0 1 0 -1.9 0M169 213.8a0.5 0.4 0 1 0 1.1 0a0.5 0.4 0 1 0 -1.1 0M162.6 253.5a1 0.8 0 1 0 2 0a1 0.8 0 1 0 -2 0M139.5 317.7a0.7 0.6 0 1 0 1.5 0a0.7 0.6 0 1 0 -1.5 0M63.8 264.3a0.6 0.6 0 1 0 1.3 0a0.6 0.6 0 1 0 -1.3 0M86.1 336.1a0.8 0.6 0 1 0 1.5 0a0.8 0.6 0 1 0 -1.5 0M121.2 252.9a0.8 0.6 0 1 0 1.7 0a0.8 0.6 0 1 0 -1.7 0M121.4 276.8a1 0.8 0 1 0 2 0a1 0.8 0 1 0 -2 0M162.2 348.8a0.9 0.7 0 1 0 1.9 0a0.9 0.7 0 1 0 -1.9 0M86.7 321.7a0.9 0.6 0 1 0 1.9 0a0.9 0.6 0 1 0 -1.9 0M113.1 355.4a0.7 0.4 0 1 0 1.3 0a0.7 0.4 0 1 0 -1.3 0M177.2 331.8a0.7 0.6 0 1 0 1.4 0a0.7 0.6 0 1 0 -1.4 0M165.9 292.7a0.7 0.5 0 1 0 1.3 0a0.7 0.5 0 1 0 -1.3 0M202.1 225.8a0.9 0.8 0 1 0 1.8 0a0.9 0.8 0 1 0 -1.8 0M94.2 291a0.8 0.5 0 1 0 1.6 0a0.8 0.5 0 1 0 -1.6 0M144.3 274.8a0.9 0.6 0 1 0 1.9 0a0.9 0.6 0 1 0 -1.9 0M106.4 319.9a0.5 0.4 0 1 0 0.9 0a0.5 0.4 0 1 0 -0.9 0M109.7 304.6a0.5 0.4 0 1 0 1 0a0.5 0.4 0 1 0 -1 0M90.8 232.1a0.4 0.4 0 1 0 0.9 0a0.4 0.4 0 1 0 -0.9 0M92.7 279.2a0.7 0.7 0 1 0 1.5 0a0.7 0.7 0 1 0 -1.5 0M124.4 252.6a0.8 0.6 0 1 0 1.6 0a0.8 0.6 0 1 0 -1.6 0M202.4 239a0.6 0.4 0 1 0 1.2 0a0.6 0.4 0 1 0 -1.2 0M104.3 271.7a0.8 0.6 0 1 0 1.6 0a0.8 0.6 0 1 0 -1.6 0M78.6 258.9a0.8 0.8 0 1 0 1.6 0a0.8 0.8 0 1 0 -1.6 0M87.1 260.3a0.6 0.4 0 1 0 1.3 0a0.6 0.4 0 1 0 -1.3 0M56.1 310.6a0.5 0.4 0 1 0 1 0a0.5 0.4 0 1 0 -1 0M90.6 249.4a0.5 0.4 0 1 0 1 0a0.5 0.4 0 1 0 -1 0M187 319.2a0.9 0.7 0 1 0 1.8 0a0.9 0.7 0 1 0 -1.8 0M115.3 264.2a0.8 0.6 0 1 0 1.5 0a0.8 0.6 0 1 0 -1.5 0M173.6 299a0.6 0.5 0 1 0 1.1 0a0.6 0.5 0 1 0 -1.1 0M156.1 309.8a0.9 0.7 0 1 0 1.8 0a0.9 0.7 0 1 0 -1.8 0M199.9 287.4a0.7 0.7 0 1 0 1.5 0a0.7 0.7 0 1 0 -1.5 0M149.4 221.9a0.9 0.6 0 1 0 1.9 0a0.9 0.6 0 1 0 -1.9 0M142.6 293.3a0.5 0.5 0 1 0 1.1 0a0.5 0.5 0 1 0 -1.1 0M85.5 272.8a0.8 0.6 0 1 0 1.5 0a0.8 0.6 0 1 0 -1.5 0M55.3 238.5a0.8 0.6 0 1 0 1.6 0a0.8 0.6 0 1 0 -1.6 0M176.1 314.7a0.8 0.6 0 1 0 1.6 0a0.8 0.6 0 1 0 -1.6 0M74.3 235.7a0.4 0.3 0 1 0 0.8 0a0.4 0.3 0 1 0 -0.8 0M101.2 244.4a0.9 0.8 0 1 0 1.8 0a0.9 0.8 0 1 0 -1.8 0M161.7 279.8a0.5 0.3 0 1 0 1 0a0.5 0.3 0 1 0 -1 0M142.7 343.5a0.6 0.4 0 1 0 1.1 0a0.6 0.4 0 1 0 -1.1 0M138.5 241.3a0.6 0.4 0 1 0 1.2 0a0.6 0.4 0 1 0 -1.2 0M57.6 233.9a0.8 0.6 0 1 0 1.7 0a0.8 0.6 0 1 0 -1.7 0M95.5 249.5a1 0.8 0 1 0 2.1 0a1 0.8 0 1 0 -2.1 0M80.4 264.7a1.1 0.7 0 1 0 2.2 0a1.1 0.7 0 1 0 -2.2 0M164.9 336.1a0.7 0.6 0 1 0 1.4 0a0.7 0.6 0 1 0 -1.4 0M139.6 339.8a1.2 0.9 0 1 0 2.5 0a1.2 0.9 0 1 0 -2.5 0M161.1 240.3a0.8 0.6 0 1 0 1.6 0a0.8 0.6 0 1 0 -1.6 0M116.6 253.2a0.7 0.6 0 1 0 1.3 0a0.7 0.6 0 1 0 -1.3 0M156.2 228.2a1.1 0.7 0 1 0 2.3 0a1.1 0.7 0 1 0 -2.3 0M77.3 210.5a0.6 0.6 0 1 0 1.3 0a0.6 0.6 0 1 0 -1.3 0M155.3 351.6a0.4 0.3 0 1 0 0.8 0a0.4 0.3 0 1 0 -0.8 0M154.1 315.4a1.1 0.8 0 1 0 2.1 0a1.1 0.8 0 1 0 -2.1 0M155.4 352.6a0.7 0.5 0 1 0 1.4 0a0.7 0.5 0 1 0 -1.4 0M54.4 277.2a0.6 0.5 0 1 0 1.3 0a0.6 0.5 0 1 0 -1.3 0M61.4 225.1a0.9 0.7 0 1 0 1.8 0a0.9 0.7 0 1 0 -1.8 0M96.5 274.1a0.9 0.6 0 1 0 1.7 0a0.9 0.6 0 1 0 -1.7 0M144 320.7a0.7 0.5 0 1 0 1.4 0a0.7 0.5 0 1 0 -1.4 0M144.1 212.9a1 0.7 0 1 0 2 0a1 0.7 0 1 0 -2 0M69.1 210.8a0.9 0.7 0 1 0 1.7 0a0.9 0.7 0 1 0 -1.7 0M83.9 212a0.8 0.6 0 1 0 1.7 0a0.8 0.6 0 1 0 -1.7 0M84.4 302.5a0.6 0.4 0 1 0 1.1 0a0.6 0.4 0 1 0 -1.1 0M100.8 314.7a1.2 0.7 0 1 0 2.3 0a1.2 0.7 0 1 0 -2.3 0M73.4 287.8a1.2 0.8 0 1 0 2.4 0a1.2 0.8 0 1 0 -2.4 0M200.6 296.8a0.6 0.4 0 1 0 1.1 0a0.6 0.4 0 1 0 -1.1 0M168.9 297.2a1.2 0.8 0 1 0 2.4 0a1.2 0.8 0 1 0 -2.4 0M180.8 326.1a1 0.7 0 1 0 2 0a1 0.7 0 1 0 -2 0M91.3 320a0.7 0.4 0 1 0 1.3 0a0.7 0.4 0 1 0 -1.3 0M57.9 268.9a0.8 0.5 0 1 0 1.6 0a0.8 0.5 0 1 0 -1.6 0M184.4 292a0.6 0.4 0 1 0 1.2 0a0.6 0.4 0 1 0 -1.2 0M67.5 219.2a0.6 0.6 0 1 0 1.2 0a0.6 0.6 0 1 0 -1.2 0M188.4 349.8a1 0.7 0 1 0 2 0a1 0.7 0 1 0 -2 0M154.1 229.1a0.8 0.6 0 1 0 1.5 0a0.8 0.6 0 1 0 -1.5 0M59.5 229.5a1 0.8 0 1 0 2 0a1 0.8 0 1 0 -2 0M138.1 247.5a0.9 0.8 0 1 0 1.8 0a0.9 0.8 0 1 0 -1.8 0M76.5 330.1a1 0.9 0 1 0 1.9 0a1 0.9 0 1 0 -1.9 0M195 236.7a0.5 0.4 0 1 0 0.9 0a0.5 0.4 0 1 0 -0.9 0M190.8 276.8a0.5 0.4 0 1 0 1 0a0.5 0.4 0 1 0 -1 0M81 252.9a1 0.7 0 1 0 2.1 0a1 0.7 0 1 0 -2.1 0M106.3 276.5a0.9 0.8 0 1 0 1.8 0a0.9 0.8 0 1 0 -1.8 0M174.8 223.5a0.6 0.5 0 1 0 1.3 0a0.6 0.5 0 1 0 -1.3 0M171.7 289.3a0.7 0.6 0 1 0 1.5 0a0.7 0.6 0 1 0 -1.5 0M172.4 331.6a1.1 0.8 0 1 0 2.3 0a1.1 0.8 0 1 0 -2.3 0M166.4 298.4a1 0.6 0 1 0 1.9 0a1 0.6 0 1 0 -1.9 0M109.7 348.6a0.6 0.4 0 1 0 1.1 0a0.6 0.4 0 1 0 -1.1 0M163.7 338.1a0.9 0.6 0 1 0 1.8 0a0.9 0.6 0 1 0 -1.8 0M163.2 214.4a1.1 0.7 0 1 0 2.2 0a1.1 0.7 0 1 0 -2.2 0M94.4 306.9a0.5 0.4 0 1 0 1 0a0.5 0.4 0 1 0 -1 0M118.1 295.3a1.2 0.9 0 1 0 2.5 0a1.2 0.9 0 1 0 -2.5 0M203.4 252.4a0.4 0.3 0 1 0 0.8 0a0.4 0.3 0 1 0 -0.8 0M180.3 211.5a0.5 0.5 0 1 0 1.1 0a0.5 0.5 0 1 0 -1.1 0M92 220.7a1.3 0.9 0 1 0 2.6 0a1.3 0.9 0 1 0 -2.6 0M165.9 321.2a0.7 0.6 0 1 0 1.4 0a0.7 0.6 0 1 0 -1.4 0M197.8 348.8a1.2 0.9 0 1 0 2.4 0a1.2 0.9 0 1 0 -2.4 0M188.9 314.6a1 0.7 0 1 0 1.9 0a1 0.7 0 1 0 -1.9 0M87 238.7a0.8 0.6 0 1 0 1.5 0a0.8 0.6 0 1 0 -1.5 0M104.1 216a0.7 0.7 0 1 0 1.5 0a0.7 0.7 0 1 0 -1.5 0M153.5 296.9a1.1 0.8 0 1 0 2.3 0a1.1 0.8 0 1 0 -2.3 0M122.2 207.4a0.9 0.7 0 1 0 1.8 0a0.9 0.7 0 1 0 -1.8 0M107.4 205.9a1 0.9 0 1 0 2.1 0a1 0.9 0 1 0 -2.1 0M157.5 219.9a0.6 0.4 0 1 0 1.2 0a0.6 0.4 0 1 0 -1.2 0M116.7 326.5a0.8 0.5 0 1 0 1.6 0a0.8 0.5 0 1 0 -1.6 0M87 207.4a0.7 0.5 0 1 0 1.5 0a0.7 0.5 0 1 0 -1.5 0M176.1 321.6a0.9 0.8 0 1 0 1.9 0a0.9 0.8 0 1 0 -1.9 0M60.7 224.9a1.1 0.8 0 1 0 2.1 0a1.1 0.8 0 1 0 -2.1 0M76.4 291a0.9 0.6 0 1 0 1.8 0a0.9 0.6 0 1 0 -1.8 0M129.7 245.8a1.1 0.7 0 1 0 2.1 0a1.1 0.7 0 1 0 -2.1 0M92.1 238.2a0.7 0.5 0 1 0 1.3 0a0.7 0.5 0 1 0 -1.3 0M189.4 355a1.2 0.7 0 1 0 2.4 0a1.2 0.7 0 1 0 -2.4 0M161.6 284.9a0.5 0.3 0 1 0 1 0a0.5 0.3 0 1 0 -1 0M132.4 345.1a0.8 0.7 0 1 0 1.5 0a0.8 0.7 0 1 0 -1.5 0M156.7 331.2a0.8 0.6 0 1 0 1.7 0a0.8 0.6 0 1 0 -1.7 0M191.5 344.8a0.7 0.6 0 1 0 1.3 0a0.7 0.6 0 1 0 -1.3 0M133.6 213.7a0.8 0.5 0 1 0 1.6 0a0.8 0.5 0 1 0 -1.6 0M89.6 264.7a0.8 0.7 0 1 0 1.6 0a0.8 0.7 0 1 0 -1.6 0M161 348.5a0.8 0.6 0 1 0 1.6 0a0.8 0.6 0 1 0 -1.6 0M70.5 346.6a1.2 0.7 0 1 0 2.3 0a1.2 0.7 0 1 0 -2.3 0M65.2 326.7a0.8 0.6 0 1 0 1.7 0a0.8 0.6 0 1 0 -1.7 0M73.3 225.4a0.9 0.7 0 1 0 1.8 0a0.9 0.7 0 1 0 -1.8 0M73.7 251.2a0.5 0.4 0 1 0 1.1 0a0.5 0.4 0 1 0 -1.1 0M155.9 327.4a0.9 0.6 0 1 0 1.8 0a0.9 0.6 0 1 0 -1.8 0M175 237.9a0.6 0.5 0 1 0 1.1 0a0.6 0.5 0 1 0 -1.1 0M202.1 249a0.8 0.6 0 1 0 1.7 0a0.8 0.6 0 1 0 -1.7 0M186.5 344.9a0.6 0.4 0 1 0 1.3 0a0.6 0.4 0 1 0 -1.3 0M197.2 281.7a0.5 0.4 0 1 0 1.1 0a0.5 0.4 0 1 0 -1.1 0M64.5 268.3a1.1 0.8 0 1 0 2.2 0a1.1 0.8 0 1 0 -2.2 0M56.9 327.3a0.9 0.7 0 1 0 1.8 0a0.9 0.7 0 1 0 -1.8 0M89.6 298.1a1.1 0.7 0 1 0 2.3 0a1.1 0.7 0 1 0 -2.3 0M96.6 320a0.7 0.5 0 1 0 1.4 0a0.7 0.5 0 1 0 -1.4 0M69.8 211.2a0.8 0.6 0 1 0 1.5 0a0.8 0.6 0 1 0 -1.5 0M74.3 319.3a0.6 0.5 0 1 0 1.2 0a0.6 0.5 0 1 0 -1.2 0M178.9 353.4a1 0.7 0 1 0 2 0a1 0.7 0 1 0 -2 0M101.8 262.5a0.7 0.6 0 1 0 1.5 0a0.7 0.6 0 1 0 -1.5 0M162.2 239.2a0.4 0.3 0 1 0 0.9 0a0.4 0.3 0 1 0 -0.9 0M135.5 283.5a0.9 0.7 0 1 0 1.7 0a0.9 0.7 0 1 0 -1.7 0M136.7 240.9a0.5 0.4 0 1 0 1 0a0.5 0.4 0 1 0 -1 0M97.1 292.1a0.8 0.5 0 1 0 1.5 0a0.8 0.5 0 1 0 -1.5 0M131.9 231.2a0.9 0.7 0 1 0 1.8 0a0.9 0.7 0 1 0 -1.8 0M145.4 249.9a0.8 0.5 0 1 0 1.6 0a0.8 0.5 0 1 0 -1.6 0M108.9 270.6a1 0.6 0 1 0 2 0a1 0.6 0 1 0 -2 0M165 296.5a0.9 0.7 0 1 0 1.8 0a0.9 0.7 0 1 0 -1.8 0M66.2 307.3a0.9 0.8 0 1 0 1.8 0a0.9 0.8 0 1 0 -1.8 0M160.5 230.9a0.9 0.5 0 1 0 1.9 0a0.9 0.5 0 1 0 -1.9 0M53.3 353a1 0.8 0 1 0 2.1 0a1 0.8 0 1 0 -2.1 0M77.4 259a0.8 0.5 0 1 0 1.7 0a0.8 0.5 0 1 0 -1.7 0M123.9 288.8a1 0.7 0 1 0 2 0a1 0.7 0 1 0 -2 0M143.3 246.2a0.9 0.5 0 1 0 1.8 0a0.9 0.5 0 1 0 -1.8 0M143.7 246.1a0.8 0.7 0 1 0 1.7 0a0.8 0.7 0 1 0 -1.7 0M88.6 352.9a0.8 0.6 0 1 0 1.5 0a0.8 0.6 0 1 0 -1.5 0M118.9 308.6a0.7 0.4 0 1 0 1.4 0a0.7 0.4 0 1 0 -1.4 0M119 265.8a0.8 0.6 0 1 0 1.7 0a0.8 0.6 0 1 0 -1.7 0M177.1 246.9a0.4 0.3 0 1 0 0.8 0a0.4 0.3 0 1 0 -0.8 0M56 230.2a0.4 0.3 0 1 0 0.7 0a0.4 0.3 0 1 0 -0.7 0M199.2 303.2a1 0.9 0 1 0 2.1 0a1 0.9 0 1 0 -2.1 0M89.1 261.5a0.7 0.6 0 1 0 1.3 0a0.7 0.6 0 1 0 -1.3 0M89.2 233.5a0.8 0.5 0 1 0 1.7 0a0.8 0.5 0 1 0 -1.7 0M141.2 318.7a1 0.9 0 1 0 2.1 0a1 0.9 0 1 0 -2.1 0M74.6 307.9a1.2 0.8 0 1 0 2.3 0a1.2 0.8 0 1 0 -2.3 0M72.3 281.9a0.6 0.4 0 1 0 1.1 0a0.6 0.4 0 1 0 -1.1 0M118 328.5a1.1 0.9 0 1 0 2.1 0a1.1 0.9 0 1 0 -2.1 0M132.2 259.1a0.8 0.5 0 1 0 1.5 0a0.8 0.5 0 1 0 -1.5 0M143.1 270.3a0.9 0.7 0 1 0 1.7 0a0.9 0.7 0 1 0 -1.7 0M68.8 279.6a0.6 0.5 0 1 0 1.1 0a0.6 0.5 0 1 0 -1.1 0M56.1 342.4a1 0.7 0 1 0 2.1 0a1 0.7 0 1 0 -2.1 0M153.1 212.1a0.8 0.7 0 1 0 1.6 0a0.8 0.7 0 1 0 -1.6 0M168.8 240.6a0.9 0.6 0 1 0 1.7 0a0.9 0.6 0 1 0 -1.7 0M80.9 215.5a0.6 0.4 0 1 0 1.1 0a0.6 0.4 0 1 0 -1.1 0M149 290.5a0.8 0.7 0 1 0 1.7 0a0.8 0.7 0 1 0 -1.7 0M185.8 354.3a1.1 0.8 0 1 0 2.2 0a1.1 0.8 0 1 0 -2.2 0M90.1 220.7a0.8 0.7 0 1 0 1.6 0a0.8 0.7 0 1 0 -1.6 0M144.9 270.1a0.6 0.5 0 1 0 1.1 0a0.6 0.5 0 1 0 -1.1 0M101 252.6a0.7 0.6 0 1 0 1.4 0a0.7 0.6 0 1 0 -1.4 0M151.2 252.7a1 0.8 0 1 0 1.9 0a1 0.8 0 1 0 -1.9 0M189.4 352.3a0.9 0.6 0 1 0 1.8 0a0.9 0.6 0 1 0 -1.8 0M62.6 250.3a1.1 0.9 0 1 0 2.3 0a1.1 0.9 0 1 0 -2.3 0M79.9 281.5a0.5 0.4 0 1 0 1 0a0.5 0.4 0 1 0 -1 0M96.8 306a0.5 0.4 0 1 0 1 0a0.5 0.4 0 1 0 -1 0M141.4 313a0.8 0.6 0 1 0 1.7 0a0.8 0.6 0 1 0 -1.7 0M185.2 232.4a0.6 0.5 0 1 0 1.3 0a0.6 0.5 0 1 0 -1.3 0M155.3 212.2a1.1 0.7 0 1 0 2.1 0a1.1 0.7 0 1 0 -2.1 0M147.9 334.4a0.7 0.6 0 1 0 1.5 0a0.7 0.6 0 1 0 -1.5 0M132.2 316.7a0.8 0.6 0 1 0 1.6 0a0.8 0.6 0 1 0 -1.6 0M96 341.1a0.8 0.5 0 1 0 1.5 0a0.8 0.5 0 1 0 -1.5 0M103.6 259.9a0.5 0.4 0 1 0 1.1 0a0.5 0.4 0 1 0 -1.1 0M106.2 312.9a0.9 0.6 0 1 0 1.7 0a0.9 0.6 0 1 0 -1.7 0M116.4 278.5a1.1 0.7 0 1 0 2.1 0a1.1 0.7 0 1 0 -2.1 0M99.8 350a0.6 0.5 0 1 0 1.2 0a0.6 0.5 0 1 0 -1.2 0M195.3 217.3a0.7 0.5 0 1 0 1.4 0a0.7 0.5 0 1 0 -1.4 0M171.6 281.7a0.8 0.5 0 1 0 1.5 0a0.8 0.5 0 1 0 -1.5 0M63.4 346.6a1.3 0.8 0 1 0 2.5 0a1.3 0.8 0 1 0 -2.5 0M144 277.4a0.6 0.4 0 1 0 1.2 0a0.6 0.4 0 1 0 -1.2 0M57.9 350.6a1 0.9 0 1 0 2.1 0a1 0.9 0 1 0 -2.1 0M156 221a0.8 0.5 0 1 0 1.5 0a0.8 0.5 0 1 0 -1.5 0M104.9 304.2a0.6 0.4 0 1 0 1.2 0a0.6 0.4 0 1 0 -1.2 0M60.9 241.9a0.8 0.7 0 1 0 1.6 0a0.8 0.7 0 1 0 -1.6 0M167.1 209.1a0.7 0.6 0 1 0 1.4 0a0.7 0.6 0 1 0 -1.4 0M183.2 281.8a0.8 0.7 0 1 0 1.5 0a0.8 0.7 0 1 0 -1.5 0M173.4 283.2a0.5 0.4 0 1 0 1 0a0.5 0.4 0 1 0 -1 0M93.4 233.4a0.5 0.4 0 1 0 0.9 0a0.5 0.4 0 1 0 -0.9 0M90.8 349.1a0.7 0.6 0 1 0 1.4 0a0.7 0.6 0 1 0 -1.4 0M123.1 318.1a0.9 0.6 0 1 0 1.7 0a0.9 0.6 0 1 0 -1.7 0M166.2 296a0.6 0.4 0 1 0 1.1 0a0.6 0.4 0 1 0 -1.1 0M78.6 253.6a0.9 0.7 0 1 0 1.8 0a0.9 0.7 0 1 0 -1.8 0M168.4 245.7a0.6 0.4 0 1 0 1.1 0a0.6 0.4 0 1 0 -1.1 0M138.2 218.1a1 0.8 0 1 0 2 0a1 0.8 0 1 0 -2 0M128.9 352.9a0.7 0.6 0 1 0 1.5 0a0.7 0.6 0 1 0 -1.5 0M56.7 296.1a1 0.7 0 1 0 2 0a1 0.7 0 1 0 -2 0M107.6 316.3a0.8 0.5 0 1 0 1.5 0a0.8 0.5 0 1 0 -1.5 0M166.9 331.7a0.8 0.7 0 1 0 1.6 0a0.8 0.7 0 1 0 -1.6 0M56.9 296.9a0.9 0.6 0 1 0 1.7 0a0.9 0.6 0 1 0 -1.7 0M141.5 307.1a0.6 0.4 0 1 0 1.3 0a0.6 0.4 0 1 0 -1.3 0M83.3 295.1a1 0.7 0 1 0 2.1 0a1 0.7 0 1 0 -2.1 0M79.4 219.5a0.8 0.7 0 1 0 1.7 0a0.8 0.7 0 1 0 -1.7 0M133.4 256.7a0.5 0.4 0 1 0 1.1 0a0.5 0.4 0 1 0 -1.1 0M97.5 206.4a1 0.9 0 1 0 2.1 0a1 0.9 0 1 0 -2.1 0M199.4 217.4a0.8 0.5 0 1 0 1.6 0a0.8 0.5 0 1 0 -1.6 0M104.3 307.7a0.4 0.3 0 1 0 0.8 0a0.4 0.3 0 1 0 -0.8 0M195.6 343.7a0.7 0.6 0 1 0 1.4 0a0.7 0.6 0 1 0 -1.4 0M105.6 226.4a0.9 0.7 0 1 0 1.7 0a0.9 0.7 0 1 0 -1.7 0M122.2 207.4a0.7 0.5 0 1 0 1.3 0a0.7 0.5 0 1 0 -1.3 0M191.1 238.6a0.6 0.5 0 1 0 1.2 0a0.6 0.5 0 1 0 -1.2 0M144.5 241.4a0.5 0.4 0 1 0 1 0a0.5 0.4 0 1 0 -1 0M182.4 237.4a0.7 0.5 0 1 0 1.3 0a0.7 0.5 0 1 0 -1.3 0M136.7 240.5a0.5 0.4 0 1 0 1 0a0.5 0.4 0 1 0 -1 0M65.5 337.7a0.9 0.9 0 1 0 1.9 0a0.9 0.9 0 1 0 -1.9 0M55.3 273a0.7 0.6 0 1 0 1.4 0a0.7 0.6 0 1 0 -1.4 0M165.1 258.3a0.5 0.4 0 1 0 1.1 0a0.5 0.4 0 1 0 -1.1 0M90.5 280.4a1 0.8 0 1 0 2 0a1 0.8 0 1 0 -2 0M157.4 317.2a1 0.7 0 1 0 2.1 0a1 0.7 0 1 0 -2.1 0M135.8 285.9a1 0.7 0 1 0 2 0a1 0.7 0 1 0 -2 0M99.9 313.2a0.7 0.6 0 1 0 1.4 0a0.7 0.6 0 1 0 -1.4 0M112.8 308a0.6 0.6 0 1 0 1.3 0a0.6 0.6 0 1 0 -1.3 0M66.4 298.4a0.9 0.6 0 1 0 1.8 0a0.9 0.6 0 1 0 -1.8 0M202.6 337.1a0.8 0.6 0 1 0 1.6 0a0.8 0.6 0 1 0 -1.6 0M204.2 216a0.5 0.5 0 1 0 1 0a0.5 0.5 0 1 0 -1 0"/>
</g></g>
<rect x="55.4" y="207.2" width="147.6" height="147.2" fill="none" stroke="#1a0a00" stroke-width="1"/>
<line x1="55.4" y1="207.3" x2="58.9" y2="207.3" stroke="#000" stroke-width="1.2" stroke-linecap="butt"/>
<line x1="55.4" y1="281.2" x2="58.9" y2="281.2" stroke="#000" stroke-width="1.2" stroke-linecap="butt"/>
<line x1="55.4" y1="354.2" x2="58.9" y2="354.2" stroke="#000" stroke-width="1.2" stroke-linecap="butt"/>
<line x1="55.3" y1="354.4" x2="55.3" y2="350.9" stroke="#000" stroke-width="1.2" stroke-linecap="butt"/>
<line x1="129" y1="354.4" x2="129" y2="350.9" stroke="#000" stroke-width="1.2" stroke-linecap="butt"/>
<line x1="202.7" y1="354.4" x2="202.7" y2="350.9" stroke="#000" stroke-width="1.2" stroke-linecap="butt"/>
<rect x="211" y="206.8" width="12" height="147.6" fill="url(#cbar)" stroke="#2a1208" stroke-width="1"/>
<text x="52.6" y="213.2" font-size="15.5" text-anchor="end" fill="#000" font-weight="bold" font-family='"Liberation Sans", sans-serif' font-style="normal" letter-spacing="0.8" >2.5</text>
<text x="51.8" y="286" font-size="15.5" text-anchor="end" fill="#000" font-weight="bold" font-family='"Liberation Sans", sans-serif' font-style="normal" >0</text>
<text x="52.6" y="359.4" font-size="15.5" text-anchor="end" fill="#000" font-weight="bold" font-family='"Liberation Sans", sans-serif' font-style="normal" letter-spacing="0.8" >-2.5</text>
<text x="55.9" y="370.9" font-size="15.5" text-anchor="middle" fill="#000" font-weight="bold" font-family='"Liberation Sans", sans-serif' font-style="normal" letter-spacing="0.8" >-2.5</text>
<text x="129" y="370.9" font-size="15.5" text-anchor="middle" fill="#000" font-weight="bold" font-family='"Liberation Sans", sans-serif' font-style="normal" >0</text>
<text x="203" y="370.9" font-size="15.5" text-anchor="middle" fill="#000" font-weight="bold" font-family='"Liberation Sans", sans-serif' font-style="normal" letter-spacing="0.8" >2.5</text>
<text x="229.6" y="214" font-size="15.5" text-anchor="start" fill="#000" font-weight="bold" font-family='"Liberation Sans", sans-serif' font-style="normal" letter-spacing="1.0" >20</text>
<text x="228.4" y="359" font-size="15.5" text-anchor="start" fill="#000" font-weight="bold" font-family='"Liberation Sans", sans-serif' font-style="normal" letter-spacing="1.0" >-20</text>
<text transform="translate(236 282.4) rotate(90)" font-size="16" text-anchor="middle" font-weight="bold" letter-spacing="0.75" font-family='"Liberation Sans", sans-serif'>Height (nm)</text>
<text transform="translate(31.8 279) rotate(-90)" font-size="16" text-anchor="middle" font-weight="bold" letter-spacing="0.8" font-family='"Liberation Sans", sans-serif'><tspan font-family='"Liberation Serif", serif' font-style="italic" font-size="17">y</tspan> (µm)</text>
<text x="129" y="386" font-size="16" text-anchor="middle" font-weight="bold" letter-spacing="0.8" font-family='"Liberation Sans", sans-serif'><tspan font-family='"Liberation Serif", serif' font-style="italic" font-size="17">x</tspan> (µm)</text>
<text x="254.3" y="211.3" font-size="16.5" text-anchor="start" fill="#000" font-weight="bold" font-family='"Liberation Sans", sans-serif' font-style="normal" letter-spacing="1.5" >(d)</text>
<rect x="315.5" y="207.2" width="182.4" height="146.7" fill="none" stroke="#000" stroke-width="2.2"/>
<path d="M314.4 286.8C315.1 285.4 318.3 277.9 319.4 277.2C320.4 276.5 320.8 280.2 321.4 282.2C322 284.2 322.8 291 323.4 290.4C324 289.8 325.1 281.1 325.7 278.2C326.3 275.3 327 269.6 327.7 271.3C328.4 273 329.5 289.7 330.2 289.6C330.9 289.5 331.9 274.9 332.6 270.4C333.3 265.9 334.2 260.2 334.8 259.6C335.4 259 335.9 264.6 336.5 266.4C337.1 268.2 337.9 266.7 338.5 271.3C339.1 275.9 340.1 296.1 340.8 296.9C341.5 297.6 342.5 279.8 343 276.3C343.5 272.8 343.6 272.1 344 273.3C344.4 274.5 345.1 285.1 345.6 284.1C346.1 283.1 346.7 269.6 347.3 266.4C347.9 263.2 348.6 263.6 349.3 262.5C350 261.4 351.1 258.1 351.7 259C352.3 259.9 353 264.3 353.6 268.4C354.2 272.5 355 281.7 355.6 286.1C356.2 290.5 357 298.5 357.5 297.9C358 297.3 358.7 284.1 359.1 282.2C359.5 280.3 359.8 282.8 360.3 285.1C360.8 287.4 361.7 298 362.3 297.5C362.9 297 363.8 283.7 364.4 281.8C365 279.9 365.7 285.1 366.2 285.1C366.7 285.1 367.4 281.4 368 281.8C368.6 282.2 369.3 286.7 369.9 287.7C370.5 288.7 371.4 287.5 371.9 288.4C372.4 289.3 372.7 291.2 373.3 293.9C373.9 296.6 375.1 307.3 375.8 306.1C376.5 304.9 377.3 290.4 377.8 286.1C378.3 281.8 378.8 277.9 379.2 277.2C379.6 276.5 380.2 282.5 380.7 281.2C381.2 279.9 382.1 268.7 382.7 268.4C383.3 268.1 384.1 273.3 384.7 279.2C385.3 285.1 386.4 305.8 387 307.7C387.6 309.6 388.5 295 389 292C389.5 289 390.1 287.7 390.6 288C391.1 288.3 391.7 292.3 392.1 293.9C392.5 295.5 393 299.6 393.5 298.9C394 298.2 395.1 289.8 395.5 289C395.9 288.2 396.1 295.9 396.5 293.9C396.9 291.9 397.8 276 398.4 275.9C399 275.8 399.8 292.6 400.4 293C401 293.4 401.8 278.8 402.3 278.6C402.8 278.5 403.4 292.6 403.9 292C404.4 291.4 405.4 279.1 405.9 274.3C406.4 269.5 406.7 259.2 407.2 260.1C407.7 261 408.6 272.2 409.2 280.2C409.8 288.2 410.8 312.7 411.4 313.6C412 314.5 412.4 291.5 413 286.1C413.6 280.7 415.1 278.1 415.7 277.8C416.3 277.5 416.9 281.5 417.3 284.1C417.7 286.7 418 297 418.3 294.9C418.6 292.8 419.1 276.3 419.6 270.4C420.1 264.5 421 256.9 421.6 255.6C422.2 254.3 423 260.9 423.6 261.5C424.2 262.1 424.9 257.7 425.5 259.6C426.1 261.5 427 270.3 427.5 274.3C428 278.3 428.5 285.7 428.9 286.1C429.3 286.5 429.5 277.2 429.9 277.2C430.3 277.2 430.9 283.8 431.4 286.1C431.9 288.4 432.9 291.4 433.4 292.4C433.9 293.4 434.6 292.1 435 293C435.4 293.9 435.8 298.4 436.3 298.3C436.8 298.2 437.7 293.4 438.3 292C438.9 290.6 439.9 289 440.3 289C440.8 289 440.8 294.2 441.3 292C441.8 289.8 442.9 275.5 443.6 274.3C444.3 273.1 445.5 282.3 446.2 284.1C446.9 285.9 447.5 284 448.1 286.1C448.7 288.2 449.6 295.4 450.1 297.9C450.6 300.4 451.1 301 451.5 302.8C451.9 304.6 452.5 312.5 453 309.7C453.5 306.9 454.3 290.7 455 284.1C455.7 277.5 456.8 267.5 457.4 266C458 264.5 458.4 270.9 458.9 274.3C459.4 277.8 460.3 288.2 460.9 289C461.5 289.8 462.3 279.7 462.9 279.8C463.5 279.9 464.2 290.8 464.8 290C465.4 289.2 466.5 274.9 467.2 274.3C467.9 273.7 468.7 287.2 469.2 285.7C469.7 284.2 469.9 270.9 470.3 264.5C470.7 258.1 471.4 244.4 471.9 242.9C472.4 241.4 473.1 250.5 473.7 254.6C474.3 258.7 474.9 266.1 475.6 270.4C476.3 274.7 477.4 283.7 478.2 283.1C478.9 282.5 479.8 268.8 480.6 266.4C481.4 264 482.8 265.3 483.5 267.4C484.2 269.5 484.9 275.2 485.5 280.2C486.1 285.2 486.8 300.5 487.4 300.8C488 301.1 488.9 284.4 489.4 282.2C489.8 280 490 283.5 490.4 286.1C490.8 288.7 491.8 301 492.3 299.8C492.8 298.6 493.4 283 493.9 278.2C494.3 273.4 494.7 268.2 495.3 268C495.9 267.8 497.5 275.3 497.9 276.6" fill="none" stroke="#a50b5d" stroke-width="2.5" stroke-linejoin="round" stroke-linecap="butt"/>
<line x1="316.5" y1="221.7" x2="320.1" y2="221.7" stroke="#000" stroke-width="2.0" stroke-linecap="butt"/>
<line x1="316.5" y1="251.6" x2="318.6" y2="251.6" stroke="#000" stroke-width="2.0" stroke-linecap="butt"/>
<line x1="316.5" y1="281.2" x2="320.1" y2="281.2" stroke="#000" stroke-width="2.0" stroke-linecap="butt"/>
<line x1="316.5" y1="310.2" x2="318.6" y2="310.2" stroke="#000" stroke-width="2.0" stroke-linecap="butt"/>
<line x1="316.5" y1="339.7" x2="320.1" y2="339.7" stroke="#000" stroke-width="2.0" stroke-linecap="butt"/>
<text x="314.3" y="227.5" font-size="16" text-anchor="end" fill="#000" font-weight="bold" font-family='"Liberation Sans", sans-serif' font-style="normal" letter-spacing="0.9" >20</text>
<text x="314.3" y="287" font-size="16" text-anchor="end" fill="#000" font-weight="bold" font-family='"Liberation Sans", sans-serif' font-style="normal" letter-spacing="0.9" >0</text>
<text x="314.3" y="345.2" font-size="16" text-anchor="end" fill="#000" font-weight="bold" font-family='"Liberation Sans", sans-serif' font-style="normal" letter-spacing="0.9" >-20</text>
<line x1="360.4" y1="352.9" x2="360.4" y2="350.8" stroke="#000" stroke-width="2.0" stroke-linecap="butt"/>
<line x1="406.5" y1="352.9" x2="406.5" y2="349.3" stroke="#000" stroke-width="2.0" stroke-linecap="butt"/>
<line x1="452.3" y1="352.9" x2="452.3" y2="350.8" stroke="#000" stroke-width="2.0" stroke-linecap="butt"/>
<text x="313.5" y="370.9" font-size="15.5" text-anchor="middle" fill="#000" font-weight="bold" font-family='"Liberation Sans", sans-serif' font-style="normal" letter-spacing="0.8" >-2.5</text>
<text x="406.3" y="370.9" font-size="15.5" text-anchor="middle" fill="#000" font-weight="bold" font-family='"Liberation Sans", sans-serif' font-style="normal" >0</text>
<text x="498.6" y="370.9" font-size="15.5" text-anchor="middle" fill="#000" font-weight="bold" font-family='"Liberation Sans", sans-serif' font-style="normal" letter-spacing="0.8" >2.5</text>
<text x="407.6" y="386" font-size="16" text-anchor="middle" font-weight="bold" letter-spacing="0.8" font-family='"Liberation Sans", sans-serif'><tspan font-family='"Liberation Serif", serif' font-style="italic" font-size="17">x</tspan> (µm)</text>
<text transform="translate(289.0 281.6) rotate(-90)" font-size="16" text-anchor="middle" font-weight="bold" letter-spacing="0.75" font-family='"Liberation Sans", sans-serif'>Height (nm)</text>
<text x="453.2" y="336.3" font-size="16.5" text-anchor="start" font-weight="bold" fill="#a50b5d" letter-spacing="0" word-spacing="-0.9" font-family='"Liberation Sans", sans-serif'><tspan font-family='"Liberation Serif", serif' font-style="italic" font-size="17.5">y</tspan> = 0</text>
<text x="-0.5" y="409.9" font-size="16.5" text-anchor="start" fill="#000" font-weight="bold" font-family='"Liberation Sans", sans-serif' font-style="normal" letter-spacing="1.5" >(e)</text>
<path d="M71.3 478.8L71.7 477.9L72.1 479.4L72.5 478.3L72.9 478.5L73.3 478.2L73.7 476.9L74.1 478.2L74.5 477.2L74.9 476.8L75.3 478L75.7 477.8L76.1 477.3L76.5 477.8L76.9 477L77.3 476.8L77.7 476.6L78.1 476.5L78.5 476.3L78.9 474.4L79.3 474.3L79.7 473.5L80.1 472.7L80.5 473.3L80.9 473.8L81.3 474.8L81.7 475.8L82.1 475.8L82.5 476.7L82.9 478L83.3 477.1L83.7 476.6L84.1 477.5L84.5 476.7L84.9 476.7L85.3 476.5L85.7 477.4L86.1 476.2L86.5 477.3L86.9 475.8L87.3 475.5L87.7 475.7L88.1 474.8L88.5 474.1L88.9 473.2L89.3 471.5L89.7 469.2L90.1 466L90.5 460.7L90.9 452.5L91.3 440.4L91.7 427.8L92.1 422.5L92.5 433.4L92.9 446.3L93.3 457L93.7 464.5L94.1 467.5L94.5 470.2L94.9 471L95.3 471.7L95.7 471.9L96.1 471.9L96.5 470.5L96.9 469.2L97.3 466L97.7 460.5L98.1 450.8L98.5 442.6L98.9 445.8L99.3 456.4L99.7 463.2L100.1 469.5L100.5 471.7L100.9 473.2L101.3 475.1L101.7 475.4L102.1 475.6L102.5 476.2L102.9 475.6L103.3 476.7L103.7 476.5L104.1 476.8L104.5 476.4L104.9 475.8L105.3 476.2L105.7 475.2L106.1 473.8L106.5 474.2L106.9 473.8L107.3 474.7L107.7 476.1L108.1 476.4L108.5 476.8L108.9 477.4L109.3 477.7L109.7 477.5L110.1 477.2L110.5 478.6L110.9 477.7L111.3 476.7L111.7 477.1L112.1 477.2L112.5 477.8L112.9 477.3L113.3 476.4L113.7 476.6L114.1 476.6L114.5 476.3L114.9 475.8L115.3 474.4L115.7 474.6L116.1 474.1L116.5 472.8L116.9 471.1L117.3 468.4L117.7 467.5L118.1 467.5L118.5 469L118.9 471.1L119.3 472.6L119.7 473.1L120.1 472.3L120.5 475.1L120.9 475.6L121.3 473.7L121.7 474.1L122.1 474.6L122.5 473.9L122.9 472.7L123.3 472.1L123.7 471.5L124.1 470.6L124.5 470.9L124.9 472.8L125.3 472.6L125.7 473.1L126.1 473.7L126.5 474.4L126.9 474.9L127.3 474.7L127.7 475.8L128.1 475.2L128.5 474.5L128.9 475L129.3 473.8L129.7 474.2L130.1 473.5L130.5 473.9L130.9 473L131.3 472.8L131.7 472L132.1 470.7L132.5 470.8L132.9 469.4L133.3 467.8L133.7 467.2L134.1 464.4L134.5 462.6L134.9 460.8L135.3 459.3L135.7 459.3L136.1 459.9L136.5 461.2L136.9 463.8L137.3 464.8L137.7 467.3L138.1 468.3L138.5 469.4L138.9 470.3L139.3 472L139.7 472L140.1 473.4L140.5 472.4L140.9 473.1L141.3 472.6L141.7 474.6L142.1 474L142.5 474L142.9 474.3L143.3 474.9L143.7 473.3L144.1 473.5L144.5 474.3L144.9 473.9L145.3 473.2L145.7 474.3L146.1 474.6L146.5 473.2L146.9 473.5L147.3 473.2L147.7 474.3L148.1 474.2L148.5 473.5L148.9 474.4L149.3 474.4L149.7 475L150.1 475.3L150.5 474.8L150.9 474.9L151.3 475L151.7 474.7L152.1 476L152.5 475.7L152.9 475.6L153.3 475.8L153.7 476L154.1 476L154.5 475.8L154.9 475.9L155.3 476.1L155.7 475.6L156.1 474.9L156.5 475.7L156.9 474.6L157.3 474.4L157.7 474.2L158.1 473.6L158.5 472.5L158.9 472.3L159.3 471.3L159.7 471.4L160.1 471.8L160.5 471.8L160.9 473.6L161.3 473.9L161.7 474.8L162.1 475.2L162.5 474.8L162.9 476L163.3 476.5L163.7 475.5L164.1 475.1L164.5 476.4L164.9 475.7L165.3 475.6L165.7 476.4L166.1 476.5L166.5 474.8L166.9 475.4L167.3 476.5L167.7 475.6L168.1 475.1L168.5 476.5L168.9 475.7L169.3 475.4L169.7 474.6L170.1 474.8L170.5 475.4L170.9 475.3L171.3 474.9L171.7 474L172.1 473.7L172.5 473.9L172.9 473.1L173.3 474.4L173.7 471.8L174.1 473.2L174.5 472.5L174.9 471.1L175.3 470.9L175.7 471.9L176.1 469.5L176.5 469.6L176.9 468.4L177.3 469.8L177.7 467.4L178.1 467.1L178.5 466L178.9 465.2L179.3 463.6L179.7 462.2L180.1 460.7L180.5 459.9L180.9 456.9L181.3 454.3L181.7 451.2L182.1 448.4L182.5 445.9L182.9 441.3L183.3 438.5L183.7 436.1L184.1 434.6L184.5 434.1L184.9 433L185.3 435.4L185.7 436.5L186.1 440.5L186.5 443.1L186.9 446.8L187.3 451.3L187.7 454.3L188.1 456.3L188.5 459.5L188.9 460.9L189.3 463.4L189.7 464.1L190.1 466L190.5 466.8L190.9 469.1L191.3 469.3L191.7 470.2L192.1 471L192.5 472.3L192.9 473.2L193.3 472.3L193.7 473.2L194.1 473.7L194.5 474.2L194.9 473.9L195.3 474.1L195.7 474.7L196.1 474.9L196.5 475.1L196.9 476.2L197.3 475.7L197.7 475.4L198.1 476.9L198.5 476.6L198.9 477L199.3 476.8L199.7 476.7L200.1 477.4L200.5 476.4L200.9 476.8L201.3 477.4L201.7 477.6L202.1 476.4L202.5 477.9L202.9 478L203.3 477.1L203.7 477.5L204.1 477.6L204.5 478.1L204.9 477.1L205.3 477.4L205.7 478.3L206.1 478.2L206.5 478.4L206.9 477.3L207.3 478.1L207.7 478.1L208.1 478L208.5 476.9L208.9 479.1L209.3 478.3L209.7 479.3L210.1 478.7L210.5 478.6L210.9 479.2L211.3 479.3L211.7 478.3L212.1 478.9L212.5 478.9L212.9 478.9L213.3 478.6L213.7 478.3L214.1 478.4L214.5 479.2L214.9 479.4L215.3 479.1L215.7 478.9L216.1 478.8L216.5 479.1L216.9 479.6L217.3 479.2L217.7 479L218.1 478L218.5 479.4L218.9 479.5L219.3 478.8L219.7 479.7L220.1 477.9L220.5 479.2L220.9 479L221.3 479.3L221.7 479.1L222.1 478.9L222.5 478.8L222.9 478.7L223.3 479.7L223.7 478.8L224.1 478.8L224.5 478.8L224.9 478.7L225.3 478.9L225.7 478.9L226.1 478.3L226.5 479.1L226.9 479.1L227.3 478.2L227.7 479.3L228.1 479L228.5 479.3L228.9 478.4L229.3 478.3L229.7 478.3L230.1 478.2L230.5 478.8L230.9 478.8L231.3 478.4L231.7 479.4L232.1 477.9L232.5 478.4L232.9 478.4L233.3 478.3L233.7 478.5L234.1 478.4L234.5 479.4L234.9 479.7L235.3 478.7L235.7 478.6L236.1 480L236.5 480L236.9 478.7L237.3 478.5L237.7 479.8L238.1 480L238.5 479.3L238.9 479.8L239.3 479.2L239.7 480.2L240.1 479.3L240.5 480L240.9 480.2L241.3 480.4L241.7 479.1L242.1 479L242.5 478.9L242.9 480.2L243.3 479.2L243.7 479.8L244.1 479.2L244.5 479.7L244.9 479.9L245.3 480.3L245.7 480.5L246.1 480.3L246.5 481.3L246.9 480.6L247.3 479.5L247.7 480.5L248.1 481L248.5 480.4" fill="none" stroke="#0f5087" stroke-width="3.4" stroke-linejoin="round" stroke-linecap="round"/>
<path d="M278 464.9L278.4 464.4L278.8 464.4L279.2 464.1L279.6 464.3L280 466.8L280.4 464.2L280.8 464.8L281.2 462.9L281.6 463.7L282 462.8L282.4 463.2L282.8 463.1L283.2 462.6L283.6 462.7L284 462.8L284.4 462.5L284.8 463.2L285.2 463.1L285.6 462.1L286 463L286.4 463L286.8 463L287.2 462.8L287.6 462.5L288 462.6L288.4 462.9L288.8 462.8L289.2 463.2L289.6 462.9L290 462.9L290.4 462.7L290.8 463.7L291.2 464L291.6 465.9L292 465L292.4 463.9L292.8 464.5L293.2 465.3L293.6 464.2L294 464.4L294.4 463.3L294.8 464.8L295.2 465.9L295.6 465.7L296 465.4L296.4 466L296.8 466L297.2 466.1L297.6 465.8L298 468.4L298.4 466.8L298.8 467L299.2 467.6L299.6 468.2L300 468.4L300.4 467.4L300.8 467.6L301.2 468.2L301.6 466.9L302 467.1L302.4 466.7L302.8 467L303.2 467L303.6 466.4L304 467.1L304.4 465.8L304.8 466.7L305.2 467L305.6 464.9L306 466.4L306.4 466.7L306.8 466.5L307.2 466.8L307.6 466.2L308 465.6L308.4 465.6L308.8 464.7L309.2 466.4L309.6 465.1L310 464.6L310.4 465L310.8 463.9L311.2 464.4L311.6 463.3L312 464.2L312.4 462.7L312.8 463.7L313.2 462.8L313.6 462.8L314 462.3L314.4 461.6L314.8 460L315.2 459.7L315.6 458.9L316 456.2L316.4 454.5L316.8 450.3L317.2 448.6L317.6 443.7L318 438.8L318.4 435L318.8 433.5L319.2 438.1L319.6 443L320 450.6L320.4 454.3L320.8 455.9L321.2 458.5L321.6 461.2L322 462.9L322.4 462.5L322.8 463.1L323.2 461.5L323.6 463.8L324 464.5L324.4 465.9L324.8 465.3L325.2 466.6L325.6 466.4L326 465.3L326.4 466.3L326.8 466.7L327.2 467L327.6 466.2L328 466.7L328.4 467.8L328.8 468L329.2 467.4L329.6 466.7L330 467.3L330.4 468.3L330.8 468.1L331.2 469L331.6 469.1L332 469.8L332.4 470.2L332.8 470.3L333.2 469.5L333.6 469.1L334 470.9L334.4 470.6L334.8 470.4L335.2 471.1L335.6 472.4L336 471.2L336.4 470.5L336.8 471.8L337.2 472.2L337.6 472.8L338 471.3L338.4 472.4L338.8 472.8L339.2 472.9L339.6 471.9L340 472.2L340.4 473.3L340.8 471.8L341.2 474.1L341.6 473.6L342 473.5L342.4 474.6L342.8 474.5L343.2 473.7L343.6 475.1L344 473.4L344.4 472.9L344.8 473.9L345.2 475.3L345.6 473.8L346 473.8L346.4 475.6L346.8 474.6L347.2 475.2L347.6 476L348 474.4L348.4 474.6L348.8 475.5L349.2 474L349.6 474.3L350 474.7L350.4 473.9L350.8 475.4L351.2 474.4L351.6 475.3L352 475.5L352.4 475.3L352.8 476.5L353.2 474.8L353.6 476L354 476.3L354.4 476.7L354.8 476.4L355.2 475.9L355.6 476.2L356 476.7L356.4 476.8L356.8 476L357.2 476.2L357.6 477.9L358 476.1L358.4 476.7L358.8 477.4L359.2 476.4L359.6 475.8L360 478.5L360.4 477.4L360.8 476.1L361.2 477.3L361.6 478.8L362 476.4L362.4 476.9L362.8 476.9L363.2 478.8L363.6 478.1L364 477.3L364.4 477.4L364.8 477.2L365.2 479.9L365.6 478.3L366 478.5L366.4 478.1L366.8 477.7L367.2 477.8L367.6 479.2" fill="none" stroke="#0f5087" stroke-width="3.4" stroke-linejoin="round" stroke-linecap="round"/>
<path d="M397.3 477.7L397.7 478L398.1 477.9L398.5 477.8L398.9 477L399.3 477.8L399.7 478.3L400.1 478.1L400.5 477.8L400.9 477.8L401.3 477.4L401.7 478.3L402.1 477.3L402.5 478.1L402.9 478.1L403.3 478.1L403.7 478.3L404.1 478.2L404.5 478.4L404.9 477.7L405.3 478L405.7 477.5L406.1 477.9L406.5 477.7L406.9 477.8L407.3 478.5L407.7 477.8L408.1 477.5L408.5 478.1L408.9 478L409.3 477.9L409.7 478.1L410.1 477.9L410.5 477.5L410.9 478.4L411.3 477.2L411.7 478L412.1 477.7L412.5 477.5L412.9 477.5L413.3 476.7L413.7 477.8L414.1 477.7L414.5 477.6L414.9 477.6L415.3 477.5L415.7 477.3L416.1 476.8L416.5 477L416.9 476.8L417.3 476.6L417.7 476.6L418.1 476.9L418.5 476.6L418.9 476.6L419.3 475.9L419.7 475.5L420.1 476.2L420.5 476.1L420.9 475.8L421.3 475.6L421.7 475.6L422.1 475L422.5 474.5L422.9 473.7L423.3 473.7L423.7 473.6L424.1 473.1L424.5 473.6L424.9 471.4L425.3 471L425.7 469.9L426.1 468.6L426.5 466.8L426.9 465.2L427.3 463.4L427.7 461L428.1 459.5L428.5 455.9L428.9 453.2L429.3 450.9L429.7 447.4L430.1 444.1L430.5 439.8L430.9 436.2L431.3 433.1L431.7 430.1L432.1 426.6L432.5 424.9L432.9 422.6L433.3 421.6L433.7 422.4L434.1 423.4L434.5 425.8L434.9 428L435.3 431.4L435.7 434.7L436.1 438.3L436.5 442.1L436.9 445.5L437.3 449.1L437.7 451.5L438.1 454.5L438.5 457.9L438.9 460.3L439.3 463.2L439.7 464.2L440.1 466.4L440.5 468.1L440.9 469L441.3 469.6L441.7 471.7L442.1 471.6L442.5 473.1L442.9 473.7L443.3 474.5L443.7 474.2L444.1 474.7L444.5 475.1L444.9 475.1L445.3 476.5L445.7 475.2L446.1 475.7L446.5 475.9L446.9 476.3L447.3 476.3L447.7 475.9L448.1 476.8L448.5 476.9L448.9 476.6L449.3 477L449.7 477.2L450.1 477L450.5 477.1L450.9 476.4L451.3 476.8L451.7 477.5L452.1 477.3L452.5 477L452.9 476.6L453.3 476.7L453.7 477.9L454.1 477.7L454.5 478L454.9 477.6L455.3 476.7L455.7 477.4L456.1 477.6L456.5 478.1L456.9 477.8L457.3 478L457.7 478.2L458.1 478.4L458.5 478.1L458.9 477.8L459.3 477.9L459.7 478.1L460.1 478.3L460.5 477.5L460.9 477.8L461.3 478.2L461.7 478.4L462.1 478.5L462.5 477.9L462.9 478.1L463.3 478L463.7 478.9L464.1 478.1L464.5 477.6L464.9 478L465.3 477.3L465.7 477.9L466.1 478.7L466.5 478.4L466.9 477.9L467.3 478.1L467.7 478.1L468.1 477.6L468.5 478.7L468.9 478.6L469.3 477.8L469.7 478.4L470.1 478.2L470.5 478.2L470.9 478L471.3 478.1L471.7 478.5L472.1 478.1L472.5 478.6L472.9 477.7L473.3 477.7L473.7 477.7L474.1 478.8L474.5 478.4L474.9 477.8L475.3 477.9L475.7 478.1L476.1 478.3L476.5 478.4L476.9 478.7L477.3 478.3L477.7 478.3L478.1 477.9L478.5 478.5L478.9 478.1L479.3 478.1L479.7 478.2L480.1 477.8L480.5 478.1L480.9 478.1L481.3 478.6L481.7 477.9L482.1 479.3L482.5 477.9L482.9 478.2L483.3 477.9L483.7 477.9L484.1 478.3L484.5 478.1L484.9 477.8L485.3 478.1L485.7 478.2L486.1 478.7L486.5 478.7" fill="none" stroke="#0f5087" stroke-width="3.2" stroke-linejoin="round" stroke-linecap="round"/>
<path d="M71.3 556.5L71.6 556.1L72 557.5L72.3 557.5L72.6 556.8L72.9 558L73.3 558L73.6 555.9L73.9 556.3L74.3 556.6L74.6 557L74.9 556.9L75.3 556.8L75.6 557.6L75.9 557.6L76.2 557.1L76.6 557.5L76.9 556.9L77.2 556.9L77.6 556.4L77.9 555.6L78.2 558.4L78.6 557.6L78.9 557.3L79.2 558.3L79.5 556.6L79.9 559.8L80.2 558.8L80.5 557.6L80.9 557L81.2 556.6L81.5 557.4L81.9 556.5L82.2 558.4L82.5 557.9L82.8 558.4L83.2 557.6L83.5 557.2L83.8 557.4L84.2 556L84.5 555.7L84.8 557.6L85.2 555.9L85.5 557.1L85.8 558.5L86.1 557.2L86.5 559.7L86.8 556.2L87.1 556.3L87.5 556L87.8 555.7L88.1 558L88.5 556.5L88.8 556.3L89.1 556.8L89.4 557.7L89.8 554.8L90.1 556.5L90.4 556.4L90.8 556.6L91.1 557.1L91.4 555.6L91.8 555.9L92.1 556.5L92.4 555.6L92.7 557L93.1 556.6L93.4 556L93.7 555.9L94.1 556.3L94.4 556.4L94.7 556.2L95.1 556.3L95.4 557.4L95.7 556.2L96 556.2L96.4 555.7L96.7 556.6L97 556.2L97.4 557.6L97.7 557.6L98 556.1L98.4 557L98.7 556.2L99 557.3L99.3 555.9L99.7 557.1L100 558L100.3 556.5L100.7 556.3L101 556.2L101.3 558.2L101.7 556L102 557L102.3 556.7L102.6 556.4L103 554.2L103.3 554.3L103.6 557.6L104 556.3L104.3 557.3L104.6 556.5L105 556.8L105.3 554.4L105.6 555.8L105.9 555.7L106.3 555.1L106.6 556.1L106.9 555.7L107.3 555.7L107.6 558.3L107.9 555.5L108.3 556.7L108.6 556.9L108.9 556.8L109.2 555.6L109.6 557.3L109.9 555.7L110.2 555.6L110.6 554.6L110.9 556.3L111.2 556.9L111.6 556L111.9 557.6L112.2 555.8L112.5 555.5L112.9 556.8L113.2 555.3L113.5 556L113.9 557.1L114.2 557.3L114.5 555.8L114.9 554.2L115.2 554.2L115.5 557.6L115.8 555.4L116.2 554.6L116.5 556.5L116.8 557.3L117.2 554.7L117.5 554.9L117.8 555.3L118.2 554.6L118.5 557L118.8 555.5L119.1 555.6L119.5 555.1L119.8 553.5L120.1 556.3L120.5 553.5L120.8 556.7L121.1 554.9L121.5 555.8L121.8 554.6L122.1 556.4L122.4 556.1L122.8 554.6L123.1 557.8L123.4 555L123.8 554.3L124.1 555.1L124.4 555.1L124.8 553.9L125.1 555.1L125.4 554.8L125.7 555.9L126.1 554.7L126.4 556L126.7 555.2L127.1 554.9L127.4 556.2L127.7 555.9L128.1 554.8L128.4 553.7L128.7 554.1L129 553.3L129.4 555.2L129.7 555.6L130 554.3L130.4 555.5L130.7 556.1L131 556.8L131.4 555L131.7 556L132 554.2L132.3 557.6L132.7 556.4L133 555.4L133.3 555.2L133.7 556.1L134 554.7L134.3 555.7L134.7 556.4L135 554.7L135.3 555.1L135.7 554.7L136 553.9L136.3 555.6L136.6 555.8L137 554.6L137.3 553.3L137.6 555.8L138 555.7L138.3 554.6L138.6 553.5L139 554.8L139.3 554L139.6 556.2L139.9 553.8L140.3 552.8L140.6 553.7L140.9 554.7L141.3 554.2L141.6 556.6L141.9 554.6L142.3 556.3L142.6 554.6L142.9 555.8L143.2 555.6L143.6 555.7L143.9 554.3L144.2 554.9L144.6 556.9L144.9 555.6L145.2 554.5L145.6 557.5L145.9 554.2L146.2 554.4L146.5 556.6L146.9 553.4L147.2 554.8L147.5 555.5L147.9 553.7L148.2 553.4L148.5 553.5L148.9 553.8L149.2 553.7L149.5 555.7L149.8 554.8L150.2 556L150.5 554.2L150.8 555.6L151.2 553.4L151.5 556L151.8 555.2L152.2 555.5L152.5 554.8L152.8 557.6L153.1 554.5L153.5 554.8L153.8 555.9L154.1 553L154.5 555.3L154.8 553.9L155.1 554.7L155.5 553.9L155.8 556.2L156.1 556.4L156.4 555.2L156.8 554.2L157.1 555L157.4 554.6L157.8 554.7L158.1 555L158.4 555.1L158.8 555.4L159.1 554.6L159.4 554L159.7 555.1L160.1 555.5L160.4 554L160.7 556.8L161.1 554.5L161.4 554.6L161.7 554.4L162.1 553.7L162.4 553.7L162.7 555.4L163 553.9L163.4 553.4L163.7 553.5L164 555L164.4 553.6L164.7 555.4L165 554.3L165.4 555.8L165.7 553.5L166 555L166.3 554.8L166.7 557.6L167 553.2L167.3 555.4L167.7 554.4L168 552.9L168.3 554.9L168.7 554.4L169 554.3L169.3 556.3L169.6 555.6L170 553.5L170.3 555.8L170.6 555.9L171 556L171.3 556L171.6 555.8L172 555.8L172.3 555.8L172.6 556.3L172.9 555.3L173.3 554.5L173.6 558.5L173.9 555.4L174.3 555.9L174.6 553.4L174.9 556.8L175.3 556.2L175.6 557.2L175.9 555.6L176.2 556.6L176.6 557.9L176.9 555L177.2 556.8L177.6 556L177.9 557L178.2 557.5L178.6 557.1L178.9 559.3L179.2 555.5L179.5 556.6L179.9 554L180.2 555.9L180.5 557.1L180.9 557.7L181.2 555.8L181.5 556.4L181.9 556.4L182.2 556.7L182.5 557.8L182.8 556.3L183.2 554.6L183.5 556.6L183.8 555.6L184.2 555.1L184.5 558L184.8 557.8L185.2 556.5L185.5 557.1L185.8 558L186.1 555.6L186.5 556.4L186.8 556.8L187.1 557.7L187.5 556.3L187.8 556.3L188.1 554.2L188.5 556.1L188.8 556.7L189.1 556L189.4 556.4L189.8 557.1L190.1 556.7L190.4 555.4L190.8 557.5L191.1 558.1L191.4 555.9L191.8 556.2L192.1 556.4L192.4 557.7L192.7 554.9L193.1 560.1L193.4 556.6L193.7 558.3L194.1 556.7L194.4 557.5L194.7 556.8L195.1 557.8L195.4 557L195.7 558.4L196 556.1L196.4 559.6L196.7 557.3L197 558.5L197.4 557.1L197.7 556.8L198 556.2L198.4 557.6L198.7 559.2L199 558.6L199.3 558.5L199.7 558.4L200 559.1L200.3 555L200.7 557.7L201 557.5L201.3 557.3L201.7 558.4L202 558.5L202.3 557.5L202.6 558.6L203 559.6L203.3 557.3L203.6 557.1L204 555.6L204.3 558.5L204.6 555.8L205 558.8L205.3 557.3L205.6 558.9L205.9 557.2L206.3 559.5L206.6 558.2L206.9 557.5L207.3 556.6L207.6 558L207.9 556.7L208.3 558.3L208.6 557.1L208.9 557.2L209.2 557.8L209.6 559L209.9 560.5L210.2 558.7L210.6 558.7L210.9 557.4L211.2 560.7L211.6 558L211.9 559.7L212.2 560.2L212.5 557.7L212.9 559L213.2 558.5L213.5 559.7L213.9 559L214.2 558.8L214.5 559.4L214.9 559.4L215.2 559.1L215.5 559.3L215.8 559.3L216.2 558L216.5 557.5L216.8 559L217.2 559.5L217.5 558.8L217.8 559.3L218.2 561.1L218.5 561.1L218.8 557.8L219.1 558.2L219.5 559L219.8 560.1L220.1 561.4L220.5 559.4L220.8 558L221.1 559.5L221.5 558.6L221.8 557.2L222.1 558.9L222.4 560.6L222.8 560.4L223.1 560.3L223.4 561.4L223.8 560.4L224.1 558.3L224.4 559.4L224.8 559.7L225.1 558.6L225.4 559.7L225.7 559.3L226.1 559.9L226.4 560.8L226.7 559.1L227.1 557.9L227.4 559L227.7 560.8L228.1 559L228.4 557.8L228.7 559.2L229 558.2L229.4 561.4L229.7 561.6L230 560.1L230.4 558.4L230.7 559.6L231 560.5L231.4 559.8L231.7 558.3L232 560.9L232.3 559.8L232.7 558.6L233 560.2L233.3 558.4L233.7 561L234 558.8L234.3 559.4L234.7 560.7L235 560.5L235.3 560.3L235.6 562.8L236 560.9L236.3 561L236.6 561.3L237 562L237.3 562.3L237.6 559.6L238 560.2L238.3 561.3L238.6 558.5L238.9 561.2L239.3 560.3L239.6 559.2L239.9 561.4L240.3 560.3L240.6 561.9L240.9 560.1L241.3 559L241.6 561.5L241.9 559.2L242.2 560.4L242.6 562.5L242.9 560.2L243.2 561.1L243.6 562.3L243.9 561.1L244.2 560.7L244.6 561.3L244.9 559.9L245.2 561.1L245.5 560.4L245.9 562.3L246.2 559.8L246.5 560.8L246.9 563.4L247.2 561L247.5 560.5L247.9 563.2L248.2 560.2L248.5 563.5L248.8 562.1L249.2 561.5" fill="none" stroke="#ea0685" stroke-width="3.6" stroke-linejoin="round" stroke-linecap="round"/>
<path d="M278 544L278.4 543.3L278.8 544.9L279.2 544.2L279.6 544.4L280 545.7L280.4 544.2L280.8 544.1L281.2 544.4L281.6 544.1L282 545L282.4 544.6L282.8 545.3L283.2 546.7L283.6 544.8L284 545.7L284.4 545.6L284.8 544.3L285.2 545.8L285.6 546.1L286 545.1L286.4 545.1L286.8 545.4L287.2 545.4L287.6 545.7L288 546.3L288.4 546.8L288.8 548.4L289.2 544.7L289.6 548L290 545.9L290.4 547.4L290.8 548L291.2 546.5L291.6 548.2L292 548.2L292.4 547.3L292.8 547.2L293.2 548.9L293.6 548.5L294 547.1L294.4 547.6L294.8 547.1L295.2 547.8L295.6 547.9L296 546.8L296.4 548.8L296.8 548.5L297.2 548.3L297.6 548.1L298 549L298.4 548L298.8 548.5L299.2 548.5L299.6 548.6L300 548.4L300.4 547.6L300.8 547.1L301.2 547.2L301.6 548.2L302 547.1L302.4 548.4L302.8 548.7L303.2 548.5L303.6 548.1L304 549.5L304.4 548.2L304.8 547.8L305.2 548.6L305.6 548.8L306 547.6L306.4 547.6L306.8 547L307.2 545.6L307.6 546.6L308 547.4L308.4 545.3L308.8 545.9L309.2 546.4L309.6 546.9L310 546.4L310.4 546.8L310.8 545L311.2 545.5L311.6 545L312 545L312.4 543.8L312.8 546.2L313.2 543.4L313.6 543.2L314 543.6L314.4 542.1L314.8 541.6L315.2 540.9L315.6 539.7L316 538.2L316.4 535.9L316.8 534.3L317.2 528.9L317.6 524.5L318 516.9L318.4 512.5L318.8 512.1L319.2 517.2L319.6 521.2L320 528.4L320.4 531L320.8 535.1L321.2 538.9L321.6 540.1L322 543.1L322.4 543.4L322.8 543.7L323.2 547.3L323.6 545.5L324 547L324.4 547.2L324.8 549.8L325.2 548.2L325.6 548.6L326 550L326.4 549.1L326.8 549.3L327.2 550.3L327.6 550.4L328 550.5L328.4 550.2L328.8 550.2L329.2 550.7L329.6 551.8L330 550.5L330.4 551.2L330.8 551.7L331.2 551.2L331.6 551.4L332 552.8L332.4 552.7L332.8 553L333.2 553.5L333.6 553.9L334 553.8L334.4 554.2L334.8 553.7L335.2 554.8L335.6 553.5L336 553.4L336.4 555.2L336.8 553.9L337.2 554.2L337.6 554.5L338 554.2L338.4 555.1L338.8 553.1L339.2 555.2L339.6 555.1L340 554.7L340.4 554.2L340.8 553.4L341.2 554.7L341.6 554.9L342 555.6L342.4 554.5L342.8 556.7L343.2 555.1L343.6 556.2L344 553.9L344.4 556.7L344.8 556.1L345.2 555.5L345.6 556.2L346 555.1L346.4 556.7L346.8 556.9L347.2 556.2L347.6 556.5L348 555.5L348.4 555.8L348.8 556.5L349.2 557.2L349.6 556.7L350 556.4L350.4 555.9L350.8 559.5L351.2 557.1L351.6 557.4L352 559.5L352.4 558.7L352.8 556.6L353.2 557.9L353.6 556.8L354 556.8L354.4 557.7L354.8 557.7L355.2 557.4L355.6 558.7L356 559L356.4 558L356.8 556.5L357.2 558.6L357.6 557.6L358 558.3L358.4 557.2L358.8 558.3L359.2 558L359.6 557.3L360 558.7L360.4 558.7L360.8 557.8L361.2 557.9L361.6 557L362 558.5L362.4 559.3L362.8 560.6L363.2 559.5L363.6 558.6L364 559.6L364.4 559.2L364.8 559.6L365.2 559.9L365.6 560.4L366 559.9L366.4 561.5L366.8 560L367.2 560.4L367.6 560.8L368 559.4" fill="none" stroke="#ea0685" stroke-width="3.4" stroke-linejoin="round" stroke-linecap="round"/>
<path d="M397.3 562L397.7 561.4L398.1 562L398.5 562.4L398.9 562.2L399.3 561.4L399.7 560.9L400.1 560.5L400.5 561.7L400.9 561.3L401.3 561L401.7 561.9L402.1 561.3L402.5 561.7L402.9 561.5L403.3 562.3L403.7 561.9L404.1 560.8L404.5 561.6L404.9 562.4L405.3 561.1L405.7 561.4L406.1 561L406.5 561.5L406.9 561.9L407.3 561.7L407.7 561L408.1 561.8L408.5 562L408.9 561.1L409.3 560.6L409.7 561.8L410.1 561.8L410.5 561.3L410.9 561.3L411.3 561.2L411.7 561.3L412.1 561.3L412.5 561.7L412.9 560.7L413.3 560.8L413.7 560.5L414.1 559.8L414.5 560.7L414.9 560.8L415.3 560.6L415.7 560.9L416.1 560.5L416.5 560.5L416.9 559.6L417.3 559.6L417.7 560.2L418.1 560.2L418.5 560.6L418.9 559.3L419.3 559.7L419.7 559L420.1 559.9L420.5 558.6L420.9 559.8L421.3 558.5L421.7 559L422.1 559.3L422.5 558.6L422.9 558.1L423.3 557.2L423.7 557.8L424.1 557.4L424.5 556L424.9 556.7L425.3 556.1L425.7 554.5L426.1 553.9L426.5 553.2L426.9 552.8L427.3 550L427.7 549.5L428.1 548.1L428.5 544.6L428.9 543.9L429.3 541.7L429.7 539.2L430.1 536.8L430.5 533.2L430.9 530L431.3 527.9L431.7 524.1L432.1 521.4L432.5 518.9L432.9 516.7L433.3 514.9L433.7 513.2L434.1 512.3L434.5 512.4L434.9 513.4L435.3 515.9L435.7 517.5L436.1 519.7L436.5 522.9L436.9 527L437.3 529.6L437.7 531.4L438.1 535.2L438.5 537.8L438.9 540.2L439.3 542.3L439.7 544.4L440.1 547.1L440.5 548.7L440.9 550.3L441.3 551.7L441.7 552.5L442.1 554.1L442.5 554L442.9 555L443.3 556.2L443.7 555.8L444.1 556.4L444.5 557.1L444.9 557.7L445.3 558.2L445.7 558.9L446.1 558.3L446.5 558.3L446.9 558.9L447.3 558.3L447.7 558.4L448.1 559.9L448.5 559.3L448.9 559.4L449.3 558.9L449.7 560L450.1 559L450.5 559.4L450.9 560L451.3 559.4L451.7 559.8L452.1 559.8L452.5 559.9L452.9 559.7L453.3 559.5L453.7 559.4L454.1 559.8L454.5 559.7L454.9 559.5L455.3 560.1L455.7 560.1L456.1 560.6L456.5 559.9L456.9 560.3L457.3 561L457.7 561L458.1 560.4L458.5 560.8L458.9 560.6L459.3 560.1L459.7 560.4L460.1 561.7L460.5 561.6L460.9 561L461.3 560.8L461.7 561.3L462.1 561.4L462.5 561.4L462.9 561.4L463.3 561.3L463.7 561.9L464.1 561L464.5 561.4L464.9 561.2L465.3 561.3L465.7 561.2L466.1 561.2L466.5 560.8L466.9 561.5L467.3 561L467.7 561.8L468.1 561.4L468.5 562.1L468.9 562.4L469.3 562.1L469.7 561.8L470.1 560.9L470.5 562.1L470.9 561.3L471.3 562.1L471.7 561.2L472.1 561.6L472.5 561.1L472.9 561.7L473.3 561.2L473.7 561.3L474.1 560.6L474.5 562L474.9 561.8L475.3 561.3L475.7 561.4L476.1 561.3L476.5 560.8L476.9 562L477.3 561.5L477.7 561.7L478.1 561.7L478.5 561L478.9 560.8L479.3 560.9L479.7 560.4L480.1 560.9L480.5 560.8L480.9 560.3L481.3 560.8L481.7 560.2L482.1 560L482.5 559.9L482.9 561L483.3 561.4L483.7 559.9L484.1 560.5L484.5 560.9L484.9 560.2L485.3 560L485.7 560.2L486.1 560.4L486.5 561L486.9 559.6" fill="none" stroke="#ea0685" stroke-width="3.2" stroke-linejoin="round" stroke-linecap="round"/>
<line x1="59.9" y1="404" x2="260.4" y2="404" stroke="#000" stroke-width="2.2" stroke-linecap="butt"/>
<line x1="266.6" y1="404" x2="379.2" y2="404" stroke="#000" stroke-width="2.2" stroke-linecap="butt"/>
<line x1="385.4" y1="404" x2="498.6" y2="404" stroke="#000" stroke-width="2.2" stroke-linecap="butt"/>
<line x1="258.6" y1="407.6" x2="262.8" y2="400.4" stroke="#000" stroke-width="1.5" stroke-linecap="butt"/>
<line x1="264.2" y1="407.6" x2="268.4" y2="400.4" stroke="#000" stroke-width="1.5" stroke-linecap="butt"/>
<line x1="377.4" y1="407.6" x2="381.6" y2="400.4" stroke="#000" stroke-width="1.5" stroke-linecap="butt"/>
<line x1="383" y1="407.6" x2="387.2" y2="400.4" stroke="#000" stroke-width="1.5" stroke-linecap="butt"/>
<line x1="59.9" y1="488.5" x2="260.4" y2="488.5" stroke="#000" stroke-width="2.2" stroke-linecap="butt"/>
<line x1="266.6" y1="488.5" x2="379.2" y2="488.5" stroke="#000" stroke-width="2.2" stroke-linecap="butt"/>
<line x1="385.4" y1="488.5" x2="498.6" y2="488.5" stroke="#000" stroke-width="2.2" stroke-linecap="butt"/>
<line x1="258.6" y1="492.1" x2="262.8" y2="484.9" stroke="#000" stroke-width="1.5" stroke-linecap="butt"/>
<line x1="264.2" y1="492.1" x2="268.4" y2="484.9" stroke="#000" stroke-width="1.5" stroke-linecap="butt"/>
<line x1="377.4" y1="492.1" x2="381.6" y2="484.9" stroke="#000" stroke-width="1.5" stroke-linecap="butt"/>
<line x1="383" y1="492.1" x2="387.2" y2="484.9" stroke="#000" stroke-width="1.5" stroke-linecap="butt"/>
<line x1="59.9" y1="572.6" x2="260.4" y2="572.6" stroke="#000" stroke-width="2.2" stroke-linecap="butt"/>
<line x1="266.6" y1="572.6" x2="379.2" y2="572.6" stroke="#000" stroke-width="2.2" stroke-linecap="butt"/>
<line x1="385.4" y1="572.6" x2="498.6" y2="572.6" stroke="#000" stroke-width="2.2" stroke-linecap="butt"/>
<line x1="258.6" y1="576.2" x2="262.8" y2="569" stroke="#000" stroke-width="1.5" stroke-linecap="butt"/>
<line x1="264.2" y1="576.2" x2="268.4" y2="569" stroke="#000" stroke-width="1.5" stroke-linecap="butt"/>
<line x1="377.4" y1="576.2" x2="381.6" y2="569" stroke="#000" stroke-width="1.5" stroke-linecap="butt"/>
<line x1="383" y1="576.2" x2="387.2" y2="569" stroke="#000" stroke-width="1.5" stroke-linecap="butt"/>
<line x1="61" y1="402.9" x2="61" y2="573.7" stroke="#000" stroke-width="2.2" stroke-linecap="butt"/>
<line x1="497.5" y1="402.9" x2="497.5" y2="573.7" stroke="#000" stroke-width="2.2" stroke-linecap="butt"/>
<line x1="72.5" y1="571.6" x2="72.5" y2="567.8" stroke="#000" stroke-width="2.0" stroke-linecap="butt"/>
<line x1="116.2" y1="571.6" x2="116.2" y2="569.4" stroke="#000" stroke-width="2.0" stroke-linecap="butt"/>
<line x1="159.5" y1="571.6" x2="159.5" y2="567.8" stroke="#000" stroke-width="2.0" stroke-linecap="butt"/>
<line x1="204.2" y1="571.6" x2="204.2" y2="569.4" stroke="#000" stroke-width="2.0" stroke-linecap="butt"/>
<line x1="248.6" y1="571.6" x2="248.6" y2="567.8" stroke="#000" stroke-width="2.0" stroke-linecap="butt"/>
<line x1="279.4" y1="571.6" x2="279.4" y2="567.8" stroke="#000" stroke-width="2.0" stroke-linecap="butt"/>
<line x1="324.1" y1="571.6" x2="324.1" y2="569.4" stroke="#000" stroke-width="2.0" stroke-linecap="butt"/>
<line x1="367.5" y1="571.6" x2="367.5" y2="567.8" stroke="#000" stroke-width="2.0" stroke-linecap="butt"/>
<line x1="398.1" y1="571.6" x2="398.1" y2="567.8" stroke="#000" stroke-width="2.0" stroke-linecap="butt"/>
<line x1="442.1" y1="571.6" x2="442.1" y2="569.4" stroke="#000" stroke-width="2.0" stroke-linecap="butt"/>
<line x1="486.2" y1="571.6" x2="486.2" y2="567.8" stroke="#000" stroke-width="2.0" stroke-linecap="butt"/>
<text x="72.8" y="591.4" font-size="15.5" text-anchor="middle" fill="#000" font-weight="bold" font-family='"Liberation Sans", sans-serif' font-style="normal" >1</text>
<text x="159.5" y="591.4" font-size="15.5" text-anchor="middle" fill="#000" font-weight="bold" font-family='"Liberation Sans", sans-serif' font-style="normal" >5</text>
<text x="248.2" y="591.4" font-size="15.5" text-anchor="middle" fill="#000" font-weight="bold" font-family='"Liberation Sans", sans-serif' font-style="normal" >9</text>
<text x="279.2" y="591.4" font-size="15.5" text-anchor="middle" fill="#000" font-weight="bold" font-family='"Liberation Sans", sans-serif' font-style="normal" letter-spacing="0.3" >14</text>
<text x="367.2" y="591.4" font-size="15.5" text-anchor="middle" fill="#000" font-weight="bold" font-family='"Liberation Sans", sans-serif' font-style="normal" letter-spacing="0.3" >18</text>
<text x="398.1" y="591.4" font-size="15.5" text-anchor="middle" fill="#000" font-weight="bold" font-family='"Liberation Sans", sans-serif' font-style="normal" letter-spacing="0.3" >25</text>
<text x="485.9" y="591.4" font-size="15.5" text-anchor="middle" fill="#000" font-weight="bold" font-family='"Liberation Sans", sans-serif' font-style="normal" letter-spacing="0.3" >29</text>
<text x="185.3" y="609.4" font-size="16" text-anchor="start" font-weight="bold" letter-spacing="1.1" font-family='"Liberation Sans", sans-serif'>Raman</text>
<text x="246.2" y="609.4" font-size="16" text-anchor="start" font-weight="bold" letter-spacing="1.0" font-family='"Liberation Sans", sans-serif'>Shift</text>
<text x="289.6" y="609.4" font-size="16" text-anchor="start" font-weight="bold" letter-spacing="1.2" font-family='"Liberation Sans", sans-serif'>(×10</text>
<text x="327.2" y="602.9" font-size="11.5" text-anchor="start" font-weight="bold" letter-spacing="0" font-family='"Liberation Sans", sans-serif'>2</text>
<text x="334.5" y="609.4" font-size="16" text-anchor="start" font-weight="bold" letter-spacing="1.0" font-family='"Liberation Sans", sans-serif'>cm</text>
<text x="358.4" y="602.9" font-size="11" text-anchor="start" font-weight="bold" letter-spacing="-0.3" font-family='"Liberation Sans", sans-serif'>-1</text>
<text x="367" y="609.4" font-size="16" text-anchor="start" font-weight="bold" letter-spacing="1.25" font-family='"Liberation Sans", sans-serif'>)</text>
<text transform="translate(44.5 488.8) rotate(-90)" font-size="16" text-anchor="middle" font-weight="bold" letter-spacing="0.72" font-family='"Liberation Sans", sans-serif'>Intensity (a. u.)</text>
<path fill="#9c1f88" d="M451.9 429.8h7.6l0.4 -2.1h-7.6z"/>
<path fill="#9c1f88" d="M454.1 418.5h7.6l-0.4 2.1h-7.6z"/>
<path fill="#9c1f88" d="M454.1 429.8h3.2l2.2 -11.3h-3.2z"/>
<text x="464.4" y="430" font-size="16.5" text-anchor="start" font-weight="bold" fill="#9c1f88" letter-spacing="0.8" font-family='"Liberation Sans", sans-serif'>=</text>
<text x="478.9" y="430" font-size="16.5" text-anchor="start" font-weight="bold" fill="#9c1f88" letter-spacing="0.8" font-family='"Liberation Sans", sans-serif'>0</text>
<path fill="#9c1f88" d="M85.9 516.1h7.3l0.4 -2.1h-7.3z"/>
<path fill="#9c1f88" d="M88.1 505.4h7.3l-0.4 2.1h-7.3z"/>
<path fill="#9c1f88" d="M88 516.1h3.1l2.2 -10.7h-3.1z"/>
<text x="98.6" y="516.2" font-size="15.5" text-anchor="start" font-weight="bold" fill="#9c1f88" letter-spacing="0.8" font-family='"Liberation Sans", sans-serif'>=</text>
<text x="112.4" y="516.2" font-size="15.5" text-anchor="start" font-weight="bold" fill="#9c1f88" letter-spacing="1.05" font-family='"Liberation Sans", sans-serif'>200</text>
<text x="147" y="516.2" font-size="15.5" text-anchor="start" font-weight="bold" fill="#9c1f88" letter-spacing="1.0" font-family='"Liberation Sans", sans-serif'>mA</text>
<text x="111" y="420.6" font-size="12.3" text-anchor="start" font-weight="bold" letter-spacing="0.45" font-family='"Liberation Sans", sans-serif'><tspan font-size="13">A</tspan><tspan dy="2.2" font-size="10.5" font-weight="bold" fill="#585858">g</tspan><tspan dy="-2.2" dx="0.3">195</tspan></text>
<text x="115.3" y="435.7" font-size="12.3" text-anchor="start" font-weight="bold" letter-spacing="0.45" font-family='"Liberation Sans", sans-serif'><tspan font-size="13">A</tspan><tspan dy="2.2" font-size="10.5" font-weight="bold" fill="#585858">g</tspan><tspan dy="-2.2" dx="0.3">222</tspan></text>
<text x="140" y="449" font-size="12.3" text-anchor="start" font-weight="bold" letter-spacing="0.45" font-family='"Liberation Sans", sans-serif'><tspan font-size="13">A</tspan><tspan dy="2.2" font-size="10.5" font-weight="bold" fill="#585858">g</tspan><tspan dy="-2.2" dx="0.3">392</tspan></text>
<text x="202" y="430.2" font-size="12.3" text-anchor="start" font-weight="bold" letter-spacing="0.45" font-family='"Liberation Sans", sans-serif'><tspan font-size="13">A</tspan><tspan dy="2.2" font-size="10.5" font-weight="bold" fill="#585858">g</tspan><tspan dy="-2.2" dx="0.3">622</tspan></text>
<line x1="107.8" y1="417.1" x2="100.5" y2="419.5" stroke="#000" stroke-width="1.7" stroke-linecap="butt"/>
<polygon points="96,420.9 100.2,416.9 101.7,421.7" fill="#000"/>
<line x1="112.8" y1="432.2" x2="105.4" y2="437.1" stroke="#000" stroke-width="1.7" stroke-linecap="butt"/>
<polygon points="101.5,439.7 104.5,434.7 107.2,438.9" fill="#000"/>
<line x1="146.7" y1="451.5" x2="142.2" y2="456.7" stroke="#000" stroke-width="1.7" stroke-linecap="butt"/>
<polygon points="139.2,460.3 140.7,454.7 144.5,458" fill="#000"/>
<line x1="199.8" y1="426.4" x2="192" y2="429.6" stroke="#000" stroke-width="1.7" stroke-linecap="butt"/>
<polygon points="187.7,431.4 191.6,427.1 193.5,431.7" fill="#000"/>
<text x="333.2" y="425.3" font-size="13.2" text-anchor="start" fill="#000" font-weight="bold" font-family='"Liberation Sans", sans-serif' font-style="normal" >G</text>
<line x1="331.7" y1="423.9" x2="324.9" y2="428.2" stroke="#000" stroke-width="1.7" stroke-linecap="butt"/>
<polygon points="320.9,430.7 324,425.8 326.6,430" fill="#000"/>
<text x="334.5" y="506.5" font-size="13.2" text-anchor="start" fill="#000" font-weight="bold" font-family='"Liberation Sans", sans-serif' font-style="normal" >G</text>
<line x1="333.5" y1="504.6" x2="326.4" y2="508.9" stroke="#000" stroke-width="1.7" stroke-linecap="butt"/>
<polygon points="322.4,511.3 325.6,506.5 328.1,510.8" fill="#000"/>
<text x="400.4" y="439.4" font-size="13.2" text-anchor="start" fill="#000" font-weight="bold" font-family='"Liberation Sans", sans-serif' font-style="normal" letter-spacing="0.4" >2D</text>
<line x1="418.7" y1="430.2" x2="424.5" y2="425.9" stroke="#000" stroke-width="1.7" stroke-linecap="butt"/>
<polygon points="428.3,423.1 425.6,428.2 422.6,424.2" fill="#000"/>
<text x="400.9" y="529.9" font-size="13.2" text-anchor="start" fill="#000" font-weight="bold" font-family='"Liberation Sans", sans-serif' font-style="normal" letter-spacing="0.4" >2D</text>
<line x1="418.7" y1="520.6" x2="424.8" y2="516.9" stroke="#000" stroke-width="1.7" stroke-linecap="butt"/>
<polygon points="428.8,514.4 425.7,519.3 423.1,515" fill="#000"/>
</svg></body></html>
